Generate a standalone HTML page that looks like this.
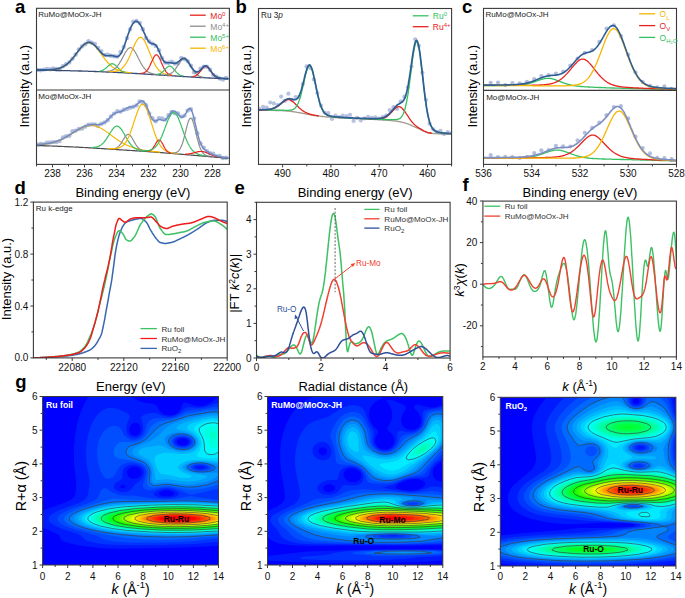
<!DOCTYPE html><html><head><meta charset="utf-8"><style>html,body{margin:0;padding:0;background:#fff;}svg{display:block;font-family:"Liberation Sans",sans-serif;}</style></head><body>
<svg width="685" height="598" viewBox="0 0 685 598">
<rect width="685" height="598" fill="#fff"/>
<clipPath id="ca"><rect x="36.5" y="8.3" width="192.9" height="156.1"/></clipPath><g clip-path="url(#ca)">
<g fill="#a6b2d8" fill-opacity="0.85">
<circle cx="37.3" cy="69.9" r="2.2"/>
<circle cx="40.5" cy="70.2" r="2.2"/>
<circle cx="43.7" cy="69.6" r="2.2"/>
<circle cx="46.9" cy="69" r="2.2"/>
<circle cx="50.1" cy="69.3" r="2.2"/>
<circle cx="53.3" cy="68.5" r="2.2"/>
<circle cx="56.5" cy="69" r="2.2"/>
<circle cx="59.7" cy="69.3" r="2.2"/>
<circle cx="62.9" cy="66.3" r="2.2"/>
<circle cx="66.1" cy="64.2" r="2.2"/>
<circle cx="69.3" cy="62.4" r="2.2"/>
<circle cx="72.5" cy="58.8" r="2.2"/>
<circle cx="75.7" cy="54.5" r="2.2"/>
<circle cx="78.9" cy="49.4" r="2.2"/>
<circle cx="82.1" cy="46.3" r="2.2"/>
<circle cx="85.3" cy="44.2" r="2.2"/>
<circle cx="88.5" cy="41.2" r="2.2"/>
<circle cx="91.7" cy="42.7" r="2.2"/>
<circle cx="94.9" cy="43.9" r="2.2"/>
<circle cx="98.1" cy="47.9" r="2.2"/>
<circle cx="101.3" cy="51.1" r="2.2"/>
<circle cx="104.5" cy="55" r="2.2"/>
<circle cx="107.7" cy="54.6" r="2.2"/>
<circle cx="110.9" cy="55.8" r="2.2"/>
<circle cx="114.1" cy="56.2" r="2.2"/>
<circle cx="117.3" cy="56.5" r="2.2"/>
<circle cx="120.5" cy="51.9" r="2.2"/>
<circle cx="123.7" cy="47" r="2.2"/>
<circle cx="126.9" cy="38.1" r="2.2"/>
<circle cx="130.1" cy="29.2" r="2.2"/>
<circle cx="133.3" cy="21.8" r="2.2"/>
<circle cx="136.5" cy="20.9" r="2.2"/>
<circle cx="139.7" cy="23" r="2.2"/>
<circle cx="142.9" cy="29.2" r="2.2"/>
<circle cx="146.1" cy="38.1" r="2.2"/>
<circle cx="149.3" cy="41.5" r="2.2"/>
<circle cx="152.5" cy="43.7" r="2.2"/>
<circle cx="155.7" cy="45.9" r="2.2"/>
<circle cx="158.9" cy="50.3" r="2.2"/>
<circle cx="162.1" cy="58.3" r="2.2"/>
<circle cx="165.3" cy="62.5" r="2.2"/>
<circle cx="168.5" cy="62.8" r="2.2"/>
<circle cx="171.7" cy="61.8" r="2.2"/>
<circle cx="174.9" cy="63.5" r="2.2"/>
<circle cx="178.1" cy="63.3" r="2.2"/>
<circle cx="181.3" cy="57.9" r="2.2"/>
<circle cx="184.5" cy="59.1" r="2.2"/>
<circle cx="187.7" cy="61.3" r="2.2"/>
<circle cx="190.9" cy="65.6" r="2.2"/>
<circle cx="194.1" cy="72.3" r="2.2"/>
<circle cx="197.3" cy="72.6" r="2.2"/>
<circle cx="200.5" cy="68.8" r="2.2"/>
<circle cx="203.7" cy="66.7" r="2.2"/>
<circle cx="206.9" cy="66.8" r="2.2"/>
<circle cx="210.1" cy="69.8" r="2.2"/>
<circle cx="213.3" cy="74.9" r="2.2"/>
<circle cx="216.5" cy="76.8" r="2.2"/>
<circle cx="219.7" cy="78.5" r="2.2"/>
<circle cx="222.9" cy="79.6" r="2.2"/>
<circle cx="226.1" cy="77.9" r="2.2"/>
</g>
<path d="M36.5 70.2l0.5 0l0.5 0l0.4 0l0.5 0l0.5 0l0.5 0l0.5 0l0.4 0l0.5 0l0.5 0l0.5 0l0.5 0.1l0.5 0l0.4 0l0.5 0l0.5 0l0.5 0l0.5 0l0.4 0l0.5 0l0.5 0l0.5 0l0.5 0l0.4 0l0.5 0l0.5 0l0.5 0l0.5 0.1l0.5 0l0.4 0l0.5 0l0.5 0l0.5 0l0.5 0l0.4 0l0.5 0l0.5 0l0.5 0l0.5 0l0.4 0.1l0.5 0l0.5 0l0.5 0l0.5 0l0.5 0l0.4 0l0.5 0l0.5 0l0.5 0l0.5 0l0.4 0.1l0.5 0l0.5 0l0.5 0l0.5 0l0.4 0l0.5 0l0.5 0l0.5 0l0.5 0l0.5 0.1l0.4 0l0.5 0l0.5 0l0.5 0l0.5 0l0.4 0l0.5 0l0.5 0l0.5 0.1l0.5 0l0.4 0l0.5 0l0.5 0l0.5 0l0.5 0l0.5 0l0.4 0.1l0.5 0l0.5 0l0.5 0l0.5 0l0.4 0l0.5 0l0.5 0l0.5 0l0.5 0.1l0.4 0l0.5 0l0.5 0l0.5 0l0.5 0l0.5 0l0.4 0l0.5 0.1l0.5 0l0.5 0l0.5 0l0.4 0l0.5 0l0.5 0l0.5 0.1l0.5 0l0.4 0l0.5 0l0.5 0l0.5 0l0.5 0.1l0.5 0l0.4 0l0.5 0l0.5 0l0.5 0l0.5 0.1l0.4 0l0.5 0l0.5 0l0.5 0l0.5 0l0.4 0.1l0.5 0l0.5 0l0.5 0l0.5 0l0.5 0.1l0.4 0l0.5 0l0.5 0l0.5 0l0.5 0l0.4 0.1l0.5 0l0.5 0l0.5 0l0.5 0l0.4 0.1l0.5 0l0.5 0l0.5 0l0.5 0.1l0.4 0l0.5 0l0.5 0l0.5 0l0.5 0.1l0.5 0l0.4 0l0.5 0l0.5 0l0.5 0.1l0.5 0l0.4 0l0.5 0l0.5 0.1l0.5 0l0.5 0l0.4 0l0.5 0l0.5 0.1l0.5 0l0.5 0l0.5 0l0.4 0.1l0.5 0l0.5 0l0.5 0l0.5 0l0.4 0.1l0.5 0l0.5 0l0.5 0l0.5 0.1l0.4 0l0.5 0l0.5 0l0.5 0.1l0.5 0l0.5 0l0.4 0l0.5 0.1l0.5 0l0.5 0l0.5 0l0.4 0.1l0.5 0l0.5 0l0.5 0l0.5 0.1l0.4 0l0.5 0l0.5 0l0.5 0.1l0.5 0l0.5 0l0.4 0l0.5 0.1l0.5 0l0.5 0l0.5 0.1l0.4 0l0.5 0l0.5 0l0.5 0.1l0.5 0l0.4 0l0.5 0.1l0.5 0l0.5 0l0.5 0.1l0.5 0l0.4 0l0.5 0l0.5 0.1l0.5 0l0.5 0l0.4 0.1l0.5 0l0.5 0l0.5 0.1l0.5 0l0.4 0l0.5 0l0.5 0.1l0.5 0l0.5 0l0.5 0.1l0.4 0l0.5 0l0.5 0.1l0.5 0l0.5 0l0.4 0.1l0.5 0l0.5 0l0.5 0l0.5 0.1l0.4 0l0.5 0l0.5 0.1l0.5 0l0.5 0l0.5 0.1l0.4 0l0.5 0l0.5 0.1l0.5 0l0.5 0l0.4 0l0.5 0.1l0.5 0l0.5 0l0.5 0.1l0.4 0l0.5 0l0.5 0.1l0.5 0l0.5 0l0.5 0l0.4 0.1l0.5 0l0.5 0l0.5 0.1l0.5 0l0.4 0l0.5 0l0.5 0.1l0.5 0l0.5 0l0.4 0.1l0.5 0l0.5 0l0.5 0.1l0.5 0l0.4 0l0.5 0.1l0.5 0l0.5 0l0.5 0l0.5 0.1l0.4 0l0.5 0l0.5 0.1l0.5 0l0.5 0l0.4 0.1l0.5 0l0.5 0l0.5 0.1l0.5 0l0.4 0l0.5 0.1l0.5 0l0.5 0l0.5 0l0.5 0.1l0.4 0l0.5 0l0.5 0.1l0.5 0l0.5 0l0.4 0.1l0.5 0l0.5 0l0.5 0.1l0.5 0l0.4 0l0.5 0.1l0.5 0l0.5 0l0.5 0l0.5 0.1l0.4 0l0.5 0l0.5 0.1l0.5 0l0.5 0l0.4 0.1l0.5 0l0.5 0l0.5 0l0.5 0.1l0.4 0l0.5 0l0.5 0.1l0.5 0l0.5 0l0.5 0l0.4 0.1l0.5 0l0.5 0l0.5 0.1l0.5 0l0.4 0l0.5 0l0.5 0.1l0.5 0l0.5 0l0.4 0.1l0.5 0l0.5 0l0.5 0l0.5 0.1l0.5 0l0.4 0l0.5 0l0.5 0.1l0.5 0l0.5 0l0.4 0l0.5 0.1l0.5 0l0.5 0l0.5 0l0.4 0.1l0.5 0l0.5 0l0.5 0l0.5 0.1l0.5 0l0.4 0l0.5 0l0.5 0.1l0.5 0l0.5 0l0.4 0l0.5 0.1l0.5 0l0.5 0l0.5 0l0.4 0.1l0.5 0l0.5 0l0.5 0l0.5 0.1l0.5 0l0.4 0l0.5 0l0.5 0.1l0.5 0l0.5 0l0.4 0l0.5 0.1l0.5 0l0.5 0l0.5 0l0.4 0l0.5 0.1l0.5 0l0.5 0l0.5 0l0.5 0.1l0.4 0l0.5 0l0.5 0l0.5 0l0.5 0.1l0.4 0l0.5 0l0.5 0" fill="none" stroke="#3b4a72" stroke-width="1.3" stroke-linejoin="round" />
<path d="M47.1 69.9l0.5 0l0.4 0l0.5 0l0.5 -0.1l0.5 0l0.5 0l0.5 0l0.4 -0.1l0.5 0l0.5 0l0.5 -0.1l0.5 0l0.4 -0.1l0.5 0l0.5 -0.1l0.5 0l0.5 -0.1l0.4 -0.1l0.5 -0.1l0.5 -0.1l0.5 -0.1l0.5 -0.1l0.5 -0.1l0.4 -0.1l0.5 -0.2l0.5 -0.1l0.5 -0.2l0.5 -0.2l0.4 -0.1l0.5 -0.2l0.5 -0.2l0.5 -0.3l0.5 -0.2l0.4 -0.3l0.5 -0.2l0.5 -0.3l0.5 -0.3l0.5 -0.4l0.5 -0.3l0.4 -0.3l0.5 -0.4l0.5 -0.4l0.5 -0.4l0.5 -0.4l0.4 -0.5l0.5 -0.4l0.5 -0.5l0.5 -0.5l0.5 -0.5l0.4 -0.6l0.5 -0.5l0.5 -0.6l0.5 -0.5l0.5 -0.6l0.5 -0.6l0.4 -0.6l0.5 -0.6l0.5 -0.6l0.5 -0.7l0.5 -0.6l0.4 -0.6l0.5 -0.7l0.5 -0.6l0.5 -0.7l0.5 -0.6l0.4 -0.6l0.5 -0.6l0.5 -0.6l0.5 -0.6l0.5 -0.6l0.5 -0.5l0.4 -0.6l0.5 -0.5l0.5 -0.5l0.5 -0.4l0.5 -0.5l0.4 -0.4l0.5 -0.3l0.5 -0.4l0.5 -0.3l0.5 -0.2l0.4 -0.3l0.5 -0.1l0.5 -0.2l0.5 -0.1l0.5 0l0.5 0l0.4 0l0.5 0.1l0.5 0.1l0.5 0.2l0.5 0.2l0.4 0.2l0.5 0.3l0.5 0.3l0.5 0.4l0.5 0.4l0.4 0.4l0.5 0.5l0.5 0.5l0.5 0.5l0.5 0.5l0.5 0.6l0.4 0.6l0.5 0.6l0.5 0.6l0.5 0.7l0.5 0.6l0.4 0.7l0.5 0.6l0.5 0.7l0.5 0.6l0.5 0.7l0.4 0.7l0.5 0.7l0.5 0.6l0.5 0.7l0.5 0.6l0.4 0.7l0.5 0.6l0.5 0.6l0.5 0.6l0.5 0.6l0.5 0.6l0.4 0.5l0.5 0.6l0.5 0.5l0.5 0.5l0.5 0.5l0.4 0.5l0.5 0.5l0.5 0.4l0.5 0.4l0.5 0.4l0.4 0.4l0.5 0.4l0.5 0.4l0.5 0.3l0.5 0.3l0.5 0.3l0.4 0.3l0.5 0.3l0.5 0.3l0.5 0.2l0.5 0.2l0.4 0.3l0.5 0.2l0.5 0.2l0.5 0.1l0.5 0.2l0.4 0.2l0.5 0.1l0.5 0.2l0.5 0.1l0.5 0.1l0.5 0.1l0.4 0.2l0.5 0.1l0.5 0.1l0.5 0.1l0.5 0l0.4 0.1l0.5 0.1l0.5 0.1l0.5 0.1l0.5 0l0.4 0.1l0.5 0l0.5 0.1l0.5 0.1l0.5 0l0.5 0.1l0.4 0l0.5 0.1" fill="none" stroke="#f7b500" stroke-width="1.2" stroke-linejoin="round" />
<path d="M99.5 71.2l0.5 -0.1l0.5 -0.1l0.5 -0.1l0.5 -0.1l0.4 -0.2l0.5 -0.2l0.5 -0.2l0.5 -0.3l0.5 -0.3l0.4 -0.3l0.5 -0.3l0.5 -0.4l0.5 -0.4l0.5 -0.4l0.5 -0.5l0.4 -0.4l0.5 -0.5l0.5 -0.4l0.5 -0.5l0.5 -0.4l0.4 -0.3l0.5 -0.4l0.5 -0.2l0.5 -0.3l0.5 -0.1l0.4 -0.1l0.5 0.1l0.5 0l0.5 0.2l0.5 0.3l0.5 0.3l0.4 0.3l0.5 0.4l0.5 0.5l0.5 0.5l0.5 0.4l0.4 0.5l0.5 0.5l0.5 0.5l0.5 0.5l0.5 0.5l0.4 0.4l0.5 0.4l0.5 0.4l0.5 0.3l0.5 0.3l0.5 0.3l0.4 0.2l0.5 0.2l0.5 0.2l0.5 0.2l0.5 0.1l0.4 0.2l0.5 0.1" fill="none" stroke="#35c060" stroke-width="1.2" stroke-linejoin="round" />
<path d="M105.3 71.5l0.5 0l0.5 0l0.5 -0.1l0.4 0l0.5 0l0.5 -0.1l0.5 -0.1l0.5 0l0.4 -0.1l0.5 -0.1l0.5 -0.2l0.5 -0.1l0.5 -0.2l0.4 -0.2l0.5 -0.2l0.5 -0.2l0.5 -0.3l0.5 -0.3l0.5 -0.3l0.4 -0.4l0.5 -0.4l0.5 -0.4l0.5 -0.5l0.5 -0.6l0.4 -0.5l0.5 -0.6l0.5 -0.7l0.5 -0.7l0.5 -0.7l0.4 -0.8l0.5 -0.8l0.5 -0.8l0.5 -0.8l0.5 -0.9l0.5 -0.9l0.4 -0.9l0.5 -0.9l0.5 -0.9l0.5 -0.9l0.5 -0.9l0.4 -0.9l0.5 -0.8l0.5 -0.8l0.5 -0.7l0.5 -0.7l0.4 -0.6l0.5 -0.5l0.5 -0.5l0.5 -0.3l0.5 -0.3l0.5 -0.2l0.4 0l0.5 0l0.5 0.1l0.5 0.2l0.5 0.4l0.4 0.4l0.5 0.5l0.5 0.6l0.5 0.6l0.5 0.8l0.4 0.7l0.5 0.9l0.5 0.9l0.5 0.9l0.5 0.9l0.5 0.9l0.4 1l0.5 1l0.5 0.9l0.5 1l0.5 0.9l0.4 0.9l0.5 0.9l0.5 0.9l0.5 0.8l0.5 0.8l0.4 0.7l0.5 0.7l0.5 0.7l0.5 0.6l0.5 0.6l0.5 0.5l0.4 0.5l0.5 0.5l0.5 0.4l0.5 0.4l0.5 0.3l0.4 0.4l0.5 0.3l0.5 0.2l0.5 0.3l0.5 0.2l0.4 0.2l0.5 0.2l0.5 0.1l0.5 0.2l0.5 0.1l0.5 0.1l0.4 0.1l0.5 0.1l0.5 0.1l0.5 0.1l0.5 0.1l0.4 0" fill="none" stroke="#8e8e8e" stroke-width="1.2" stroke-linejoin="round" />
<path d="M109.2 71.7l0.4 0l0.5 0l0.5 0l0.5 0l0.5 -0.1l0.4 0l0.5 0l0.5 0l0.5 -0.1l0.5 0l0.5 -0.1l0.4 0l0.5 -0.1l0.5 -0.1l0.5 -0.1l0.5 -0.1l0.4 -0.1l0.5 -0.2l0.5 -0.2l0.5 -0.2l0.5 -0.2l0.4 -0.2l0.5 -0.3l0.5 -0.3l0.5 -0.3l0.5 -0.4l0.5 -0.4l0.4 -0.5l0.5 -0.5l0.5 -0.5l0.5 -0.6l0.5 -0.6l0.4 -0.6l0.5 -0.8l0.5 -0.7l0.5 -0.8l0.5 -0.9l0.4 -0.8l0.5 -1l0.5 -0.9l0.5 -1.1l0.5 -1l0.5 -1.1l0.4 -1.1l0.5 -1.1l0.5 -1.1l0.5 -1.2l0.5 -1.1l0.4 -1.2l0.5 -1.1l0.5 -1.2l0.5 -1.1l0.5 -1l0.4 -1.1l0.5 -0.9l0.5 -0.9l0.5 -0.9l0.5 -0.8l0.5 -0.6l0.4 -0.6l0.5 -0.6l0.5 -0.4l0.5 -0.3l0.5 -0.1l0.4 -0.1l0.5 0l0.5 0.2l0.5 0.2l0.5 0.4l0.4 0.5l0.5 0.5l0.5 0.7l0.5 0.8l0.5 0.8l0.5 0.9l0.4 1l0.5 1l0.5 1.1l0.5 1.1l0.5 1.2l0.4 1.2l0.5 1.2l0.5 1.2l0.5 1.2l0.5 1.2l0.4 1.2l0.5 1.2l0.5 1.2l0.5 1.1l0.5 1.1l0.5 1.1l0.4 1l0.5 1l0.5 0.9l0.5 0.9l0.5 0.9l0.4 0.8l0.5 0.7l0.5 0.7l0.5 0.7l0.5 0.6l0.4 0.6l0.5 0.6l0.5 0.5l0.5 0.4l0.5 0.4l0.5 0.4l0.4 0.4l0.5 0.3l0.5 0.3l0.5 0.3l0.5 0.2l0.4 0.2l0.5 0.3l0.5 0.1l0.5 0.2l0.5 0.2l0.4 0.1l0.5 0.1l0.5 0.1l0.5 0.1l0.5 0.1l0.4 0.1l0.5 0.1l0.5 0.1l0.5 0.1l0.5 0l0.5 0.1l0.4 0.1l0.5 0l0.5 0.1" fill="none" stroke="#f7b500" stroke-width="1.2" stroke-linejoin="round" />
<path d="M140.9 73.4l0.5 -0.1l0.5 0l0.5 -0.1l0.4 -0.1l0.5 -0.1l0.5 -0.2l0.5 -0.2l0.5 -0.3l0.5 -0.3l0.4 -0.3l0.5 -0.4l0.5 -0.5l0.5 -0.6l0.5 -0.6l0.4 -0.7l0.5 -0.8l0.5 -0.9l0.5 -0.9l0.5 -1l0.4 -1l0.5 -1.1l0.5 -1.1l0.5 -1l0.5 -1.1l0.5 -1l0.4 -1l0.5 -0.9l0.5 -0.8l0.5 -0.6l0.5 -0.5l0.4 -0.3l0.5 -0.1l0.5 0l0.5 0.3l0.5 0.4l0.4 0.6l0.5 0.7l0.5 0.9l0.5 0.9l0.5 1.1l0.5 1.1l0.4 1.1l0.5 1.2l0.5 1.1l0.5 1.1l0.5 1.1l0.4 1l0.5 1l0.5 0.9l0.5 0.8l0.5 0.8l0.4 0.7l0.5 0.6l0.5 0.5l0.5 0.5l0.5 0.4l0.4 0.3l0.5 0.3l0.5 0.3l0.5 0.2l0.5 0.2l0.5 0.1l0.4 0.2l0.5 0.1l0.5 0.1" fill="none" stroke="#e8231d" stroke-width="1.2" stroke-linejoin="round" />
<path d="M156.8 74.4l0.5 -0.1l0.5 0l0.4 -0.1l0.5 -0.1l0.5 -0.2l0.5 -0.2l0.5 -0.2l0.5 -0.2l0.4 -0.3l0.5 -0.3l0.5 -0.4l0.5 -0.4l0.5 -0.4l0.4 -0.5l0.5 -0.5l0.5 -0.5l0.5 -0.5l0.5 -0.6l0.4 -0.5l0.5 -0.5l0.5 -0.4l0.5 -0.4l0.5 -0.4l0.4 -0.3l0.5 -0.2l0.5 -0.1l0.5 0l0.5 0.1l0.5 0.2l0.4 0.2l0.5 0.4l0.5 0.4l0.5 0.5l0.5 0.5l0.4 0.6l0.5 0.5l0.5 0.6l0.5 0.6l0.5 0.6l0.4 0.5l0.5 0.6l0.5 0.4l0.5 0.5l0.5 0.4l0.5 0.4l0.4 0.4l0.5 0.3l0.5 0.2l0.5 0.3l0.5 0.2l0.4 0.2l0.5 0.1l0.5 0.1l0.5 0.2" fill="none" stroke="#35c060" stroke-width="1.2" stroke-linejoin="round" />
<path d="M165 74.9l0.5 0l0.4 -0.1l0.5 0l0.5 -0.1l0.5 -0.1l0.5 -0.1l0.4 -0.1l0.5 -0.1l0.5 -0.2l0.5 -0.2l0.5 -0.2l0.5 -0.3l0.4 -0.2l0.5 -0.4l0.5 -0.3l0.5 -0.4l0.5 -0.5l0.4 -0.5l0.5 -0.5l0.5 -0.6l0.5 -0.6l0.5 -0.6l0.4 -0.7l0.5 -0.7l0.5 -0.7l0.5 -0.8l0.5 -0.7l0.5 -0.8l0.4 -0.7l0.5 -0.7l0.5 -0.7l0.5 -0.6l0.5 -0.6l0.4 -0.6l0.5 -0.4l0.5 -0.4l0.5 -0.3l0.5 -0.2l0.4 -0.1l0.5 0l0.5 0l0.5 0.2l0.5 0.3l0.5 0.4l0.4 0.5l0.5 0.5l0.5 0.6l0.5 0.7l0.5 0.7l0.4 0.8l0.5 0.7l0.5 0.8l0.5 0.8l0.5 0.8l0.4 0.8l0.5 0.8l0.5 0.8l0.5 0.7l0.5 0.7l0.5 0.7l0.4 0.6l0.5 0.6l0.5 0.5l0.5 0.5l0.5 0.5l0.4 0.4l0.5 0.4l0.5 0.3l0.5 0.3l0.5 0.3l0.4 0.2l0.5 0.2l0.5 0.2l0.5 0.2l0.5 0.2l0.5 0.1l0.4 0.1l0.5 0.1l0.5 0.1l0.5 0.1" fill="none" stroke="#8e8e8e" stroke-width="1.2" stroke-linejoin="round" />
<path d="M192.4 76.6l0.5 0l0.5 -0.1l0.5 -0.1l0.4 -0.1l0.5 -0.2l0.5 -0.2l0.5 -0.2l0.5 -0.3l0.4 -0.3l0.5 -0.4l0.5 -0.4l0.5 -0.4l0.5 -0.5l0.4 -0.6l0.5 -0.6l0.5 -0.6l0.5 -0.6l0.5 -0.6l0.5 -0.7l0.4 -0.6l0.5 -0.6l0.5 -0.6l0.5 -0.5l0.5 -0.4l0.4 -0.3l0.5 -0.2l0.5 -0.2l0.5 0l0.5 0.1l0.4 0.3l0.5 0.3l0.5 0.4l0.5 0.5l0.5 0.6l0.5 0.6l0.4 0.7l0.5 0.7l0.5 0.7l0.5 0.7l0.5 0.6l0.4 0.7l0.5 0.6l0.5 0.6l0.5 0.5l0.5 0.5l0.4 0.4l0.5 0.4l0.5 0.4l0.5 0.3l0.5 0.3l0.5 0.2l0.4 0.2l0.5 0.1l0.5 0.2l0.5 0.1" fill="none" stroke="#e8231d" stroke-width="1.2" stroke-linejoin="round" />
<path d="M36.5 69.9l0.5 0l0.5 0l0.4 0l0.5 0l0.5 0l0.5 0l0.5 0l0.4 0l0.5 0l0.5 0l0.5 0l0.5 0l0.5 0l0.4 0l0.5 0l0.5 0l0.5 0l0.5 -0.1l0.4 0l0.5 0l0.5 0l0.5 0l0.5 0l0.4 0l0.5 0l0.5 -0.1l0.5 0l0.5 0l0.5 0l0.4 -0.1l0.5 0l0.5 0l0.5 -0.1l0.5 0l0.4 -0.1l0.5 0l0.5 -0.1l0.5 -0.1l0.5 0l0.4 -0.1l0.5 -0.1l0.5 -0.1l0.5 -0.1l0.5 -0.1l0.5 -0.1l0.4 -0.2l0.5 -0.1l0.5 -0.1l0.5 -0.2l0.5 -0.2l0.4 -0.2l0.5 -0.2l0.5 -0.2l0.5 -0.2l0.5 -0.3l0.4 -0.2l0.5 -0.3l0.5 -0.3l0.5 -0.3l0.5 -0.3l0.5 -0.3l0.4 -0.4l0.5 -0.4l0.5 -0.4l0.5 -0.4l0.5 -0.4l0.4 -0.5l0.5 -0.4l0.5 -0.5l0.5 -0.5l0.5 -0.5l0.4 -0.5l0.5 -0.6l0.5 -0.5l0.5 -0.6l0.5 -0.6l0.5 -0.6l0.4 -0.6l0.5 -0.6l0.5 -0.6l0.5 -0.7l0.5 -0.6l0.4 -0.7l0.5 -0.6l0.5 -0.6l0.5 -0.7l0.5 -0.6l0.4 -0.6l0.5 -0.7l0.5 -0.6l0.5 -0.6l0.5 -0.5l0.5 -0.6l0.4 -0.5l0.5 -0.6l0.5 -0.4l0.5 -0.5l0.5 -0.5l0.4 -0.4l0.5 -0.3l0.5 -0.4l0.5 -0.3l0.5 -0.2l0.4 -0.3l0.5 -0.2l0.5 -0.1l0.5 -0.1l0.5 -0.1l0.5 0l0.4 0l0.5 0.1l0.5 0.1l0.5 0.2l0.5 0.2l0.4 0.2l0.5 0.3l0.5 0.3l0.5 0.4l0.5 0.3l0.4 0.5l0.5 0.4l0.5 0.5l0.5 0.5l0.5 0.5l0.5 0.5l0.4 0.6l0.5 0.5l0.5 0.6l0.5 0.6l0.5 0.5l0.4 0.6l0.5 0.5l0.5 0.6l0.5 0.5l0.5 0.5l0.4 0.5l0.5 0.4l0.5 0.4l0.5 0.3l0.5 0.3l0.4 0.3l0.5 0.2l0.5 0.2l0.5 0.1l0.5 0.1l0.5 0.1l0.4 0l0.5 0l0.5 0l0.5 -0.1l0.5 0l0.4 -0.1l0.5 0l0.5 -0.1l0.5 0l0.5 0l0.4 0.1l0.5 0.1l0.5 0.1l0.5 0.1l0.5 0.2l0.5 0.1l0.4 0.2l0.5 0.1l0.5 0.1l0.5 0.1l0.5 0l0.4 -0.1l0.5 -0.1l0.5 -0.2l0.5 -0.3l0.5 -0.4l0.4 -0.5l0.5 -0.6l0.5 -0.7l0.5 -0.8l0.5 -0.9l0.5 -0.9l0.4 -1.1l0.5 -1.2l0.5 -1.2l0.5 -1.3l0.5 -1.3l0.4 -1.4l0.5 -1.4l0.5 -1.5l0.5 -1.4l0.5 -1.5l0.4 -1.5l0.5 -1.4l0.5 -1.4l0.5 -1.3l0.5 -1.3l0.5 -1.3l0.4 -1.2l0.5 -1.1l0.5 -1l0.5 -0.9l0.5 -0.9l0.4 -0.7l0.5 -0.7l0.5 -0.5l0.5 -0.5l0.5 -0.4l0.4 -0.2l0.5 -0.2l0.5 -0.1l0.5 0.1l0.5 0.1l0.5 0.2l0.4 0.4l0.5 0.4l0.5 0.5l0.5 0.6l0.5 0.6l0.4 0.8l0.5 0.8l0.5 0.9l0.5 1l0.5 1l0.4 1.1l0.5 1.1l0.5 1.1l0.5 1.1l0.5 1.1l0.5 1.1l0.4 1.1l0.5 1l0.5 0.9l0.5 0.9l0.5 0.9l0.4 0.7l0.5 0.6l0.5 0.6l0.5 0.5l0.5 0.3l0.4 0.3l0.5 0.3l0.5 0.1l0.5 0.1l0.5 0.1l0.5 0.1l0.4 0.1l0.5 0.1l0.5 0.2l0.5 0.3l0.5 0.3l0.4 0.5l0.5 0.5l0.5 0.7l0.5 0.8l0.5 1l0.4 1l0.5 1.1l0.5 1.1l0.5 1.2l0.5 1.2l0.5 1.2l0.4 1.2l0.5 1.1l0.5 1l0.5 0.9l0.5 0.8l0.4 0.7l0.5 0.6l0.5 0.5l0.5 0.4l0.5 0.2l0.4 0.2l0.5 0.1l0.5 0l0.5 0l0.5 0l0.4 0l0.5 -0.1l0.5 0l0.5 0l0.5 0l0.5 0l0.4 0.1l0.5 0.1l0.5 0.1l0.5 0.1l0.5 0.1l0.4 0.1l0.5 0.1l0.5 0l0.5 0l0.5 -0.1l0.4 -0.1l0.5 -0.2l0.5 -0.2l0.5 -0.3l0.5 -0.4l0.5 -0.4l0.4 -0.4l0.5 -0.4l0.5 -0.4l0.5 -0.4l0.5 -0.5l0.4 -0.3l0.5 -0.4l0.5 -0.2l0.5 -0.3l0.5 -0.1l0.4 0l0.5 0l0.5 0.1l0.5 0.3l0.5 0.3l0.5 0.4l0.4 0.5l0.5 0.5l0.5 0.6l0.5 0.7l0.5 0.7l0.4 0.8l0.5 0.7l0.5 0.8l0.5 0.8l0.5 0.8l0.4 0.7l0.5 0.8l0.5 0.7l0.5 0.6l0.5 0.6l0.5 0.6l0.4 0.4l0.5 0.4l0.5 0.4l0.5 0.2l0.5 0.2l0.4 0.1l0.5 -0.1l0.5 0l0.5 -0.2l0.5 -0.3l0.4 -0.3l0.5 -0.4l0.5 -0.4l0.5 -0.5l0.5 -0.5l0.5 -0.6l0.4 -0.5l0.5 -0.5l0.5 -0.5l0.5 -0.4l0.5 -0.4l0.4 -0.3l0.5 -0.2l0.5 -0.1l0.5 0l0.5 0.2l0.4 0.2l0.5 0.4l0.5 0.4l0.5 0.5l0.5 0.6l0.5 0.6l0.4 0.7l0.5 0.7l0.5 0.7l0.5 0.7l0.5 0.7l0.4 0.7l0.5 0.6l0.5 0.6l0.5 0.5l0.5 0.5l0.4 0.5l0.5 0.4l0.5 0.3l0.5 0.3l0.5 0.3l0.5 0.2l0.4 0.2l0.5 0.2l0.5 0.1l0.5 0.2l0.5 0.1l0.4 0.1l0.5 0l0.5 0.1l0.5 0.1l0.5 0l0.4 0.1l0.5 0l0.5 0l0.5 0.1l0.5 0l0.5 0.1l0.4 0l0.5 0l0.5 0l0.5 0.1l0.5 0l0.4 0l0.5 0.1l0.5 0" fill="none" stroke="#2f5e94" stroke-width="1.6" stroke-linejoin="round" />
<g fill="#a6b2d8" fill-opacity="0.85">
<circle cx="37.3" cy="144.7" r="2.2"/>
<circle cx="40.5" cy="143.9" r="2.2"/>
<circle cx="43.7" cy="144.2" r="2.2"/>
<circle cx="46.9" cy="142.6" r="2.2"/>
<circle cx="50.1" cy="142.5" r="2.2"/>
<circle cx="53.3" cy="142.1" r="2.2"/>
<circle cx="56.5" cy="142.1" r="2.2"/>
<circle cx="59.7" cy="141.1" r="2.2"/>
<circle cx="62.9" cy="137.4" r="2.2"/>
<circle cx="66.1" cy="136.2" r="2.2"/>
<circle cx="69.3" cy="135.7" r="2.2"/>
<circle cx="72.5" cy="131.3" r="2.2"/>
<circle cx="75.7" cy="130.6" r="2.2"/>
<circle cx="78.9" cy="129" r="2.2"/>
<circle cx="82.1" cy="128.5" r="2.2"/>
<circle cx="85.3" cy="126.6" r="2.2"/>
<circle cx="88.5" cy="124.8" r="2.2"/>
<circle cx="91.7" cy="124.4" r="2.2"/>
<circle cx="94.9" cy="124.4" r="2.2"/>
<circle cx="98.1" cy="126" r="2.2"/>
<circle cx="101.3" cy="123.8" r="2.2"/>
<circle cx="104.5" cy="122.4" r="2.2"/>
<circle cx="107.7" cy="120.3" r="2.2"/>
<circle cx="110.9" cy="116.5" r="2.2"/>
<circle cx="114.1" cy="113.6" r="2.2"/>
<circle cx="117.3" cy="111.3" r="2.2"/>
<circle cx="120.5" cy="111.6" r="2.2"/>
<circle cx="123.7" cy="109.7" r="2.2"/>
<circle cx="126.9" cy="109.1" r="2.2"/>
<circle cx="130.1" cy="107.8" r="2.2"/>
<circle cx="133.3" cy="106.7" r="2.2"/>
<circle cx="136.5" cy="105.4" r="2.2"/>
<circle cx="139.7" cy="101.5" r="2.2"/>
<circle cx="142.9" cy="102.2" r="2.2"/>
<circle cx="146.1" cy="105.3" r="2.2"/>
<circle cx="149.3" cy="113.4" r="2.2"/>
<circle cx="152.5" cy="118.2" r="2.2"/>
<circle cx="155.7" cy="121.3" r="2.2"/>
<circle cx="158.9" cy="118.1" r="2.2"/>
<circle cx="162.1" cy="118.4" r="2.2"/>
<circle cx="165.3" cy="119.6" r="2.2"/>
<circle cx="168.5" cy="115.2" r="2.2"/>
<circle cx="171.7" cy="112" r="2.2"/>
<circle cx="174.9" cy="113.2" r="2.2"/>
<circle cx="178.1" cy="113.5" r="2.2"/>
<circle cx="181.3" cy="116.6" r="2.2"/>
<circle cx="184.5" cy="115.6" r="2.2"/>
<circle cx="187.7" cy="110.6" r="2.2"/>
<circle cx="190.9" cy="109.2" r="2.2"/>
<circle cx="194.1" cy="118.6" r="2.2"/>
<circle cx="197.3" cy="133.2" r="2.2"/>
<circle cx="200.5" cy="143.5" r="2.2"/>
<circle cx="203.7" cy="147.6" r="2.2"/>
<circle cx="206.9" cy="151.3" r="2.2"/>
<circle cx="210.1" cy="153.3" r="2.2"/>
<circle cx="213.3" cy="153.8" r="2.2"/>
<circle cx="216.5" cy="156.1" r="2.2"/>
<circle cx="219.7" cy="155.9" r="2.2"/>
<circle cx="222.9" cy="158.1" r="2.2"/>
<circle cx="226.1" cy="157.8" r="2.2"/>
</g>
<path d="M36.5 145.5l0.5 0l0.5 0l0.4 0l0.5 0.1l0.5 0l0.5 0l0.5 0l0.4 0l0.5 0l0.5 0.1l0.5 0l0.5 0l0.5 0l0.4 0l0.5 0l0.5 0.1l0.5 0l0.5 0l0.4 0l0.5 0l0.5 0l0.5 0.1l0.5 0l0.4 0l0.5 0l0.5 0l0.5 0l0.5 0.1l0.5 0l0.4 0l0.5 0l0.5 0l0.5 0.1l0.5 0l0.4 0l0.5 0l0.5 0l0.5 0.1l0.5 0l0.4 0l0.5 0l0.5 0l0.5 0l0.5 0.1l0.5 0l0.4 0l0.5 0l0.5 0.1l0.5 0l0.5 0l0.4 0l0.5 0l0.5 0.1l0.5 0l0.5 0l0.4 0l0.5 0l0.5 0.1l0.5 0l0.5 0l0.5 0l0.4 0l0.5 0.1l0.5 0l0.5 0l0.5 0l0.4 0.1l0.5 0l0.5 0l0.5 0l0.5 0l0.4 0.1l0.5 0l0.5 0l0.5 0l0.5 0.1l0.5 0l0.4 0l0.5 0l0.5 0.1l0.5 0l0.5 0l0.4 0l0.5 0l0.5 0.1l0.5 0l0.5 0l0.4 0l0.5 0.1l0.5 0l0.5 0l0.5 0l0.5 0.1l0.4 0l0.5 0l0.5 0l0.5 0.1l0.5 0l0.4 0l0.5 0l0.5 0.1l0.5 0l0.5 0l0.4 0.1l0.5 0l0.5 0l0.5 0l0.5 0.1l0.5 0l0.4 0l0.5 0l0.5 0.1l0.5 0l0.5 0l0.4 0.1l0.5 0l0.5 0l0.5 0.1l0.5 0l0.4 0l0.5 0l0.5 0.1l0.5 0l0.5 0l0.5 0.1l0.4 0l0.5 0l0.5 0.1l0.5 0l0.5 0l0.4 0l0.5 0.1l0.5 0l0.5 0l0.5 0.1l0.4 0l0.5 0l0.5 0.1l0.5 0l0.5 0l0.4 0.1l0.5 0l0.5 0l0.5 0.1l0.5 0l0.5 0l0.4 0.1l0.5 0l0.5 0l0.5 0.1l0.5 0l0.4 0l0.5 0.1l0.5 0l0.5 0l0.5 0l0.4 0.1l0.5 0l0.5 0l0.5 0.1l0.5 0l0.5 0l0.4 0.1l0.5 0l0.5 0l0.5 0.1l0.5 0l0.4 0l0.5 0.1l0.5 0l0.5 0l0.5 0.1l0.4 0l0.5 0l0.5 0l0.5 0.1l0.5 0l0.5 0l0.4 0.1l0.5 0l0.5 0l0.5 0.1l0.5 0l0.4 0l0.5 0.1l0.5 0l0.5 0l0.5 0l0.4 0.1l0.5 0l0.5 0l0.5 0.1l0.5 0l0.5 0l0.4 0.1l0.5 0l0.5 0l0.5 0l0.5 0.1l0.4 0l0.5 0l0.5 0.1l0.5 0l0.5 0l0.4 0.1l0.5 0l0.5 0l0.5 0.1l0.5 0l0.5 0l0.4 0.1l0.5 0l0.5 0l0.5 0.1l0.5 0l0.4 0l0.5 0l0.5 0.1l0.5 0l0.5 0l0.4 0.1l0.5 0l0.5 0l0.5 0.1l0.5 0l0.5 0l0.4 0.1l0.5 0l0.5 0l0.5 0.1l0.5 0l0.4 0.1l0.5 0l0.5 0l0.5 0.1l0.5 0l0.4 0l0.5 0.1l0.5 0l0.5 0l0.5 0.1l0.5 0l0.4 0l0.5 0.1l0.5 0l0.5 0.1l0.5 0l0.4 0l0.5 0.1l0.5 0l0.5 0l0.5 0.1l0.4 0l0.5 0l0.5 0.1l0.5 0l0.5 0.1l0.5 0l0.4 0l0.5 0.1l0.5 0l0.5 0l0.5 0.1l0.4 0l0.5 0.1l0.5 0l0.5 0l0.5 0.1l0.4 0l0.5 0.1l0.5 0l0.5 0l0.5 0.1l0.4 0l0.5 0l0.5 0.1l0.5 0l0.5 0.1l0.5 0l0.4 0l0.5 0.1l0.5 0l0.5 0.1l0.5 0l0.4 0l0.5 0.1l0.5 0l0.5 0.1l0.5 0l0.4 0l0.5 0.1l0.5 0l0.5 0.1l0.5 0l0.5 0l0.4 0.1l0.5 0l0.5 0.1l0.5 0l0.5 0l0.4 0.1l0.5 0l0.5 0.1l0.5 0l0.5 0l0.4 0.1l0.5 0l0.5 0.1l0.5 0l0.5 0l0.5 0.1l0.4 0l0.5 0.1l0.5 0l0.5 0l0.5 0.1l0.4 0l0.5 0.1l0.5 0l0.5 0l0.5 0.1l0.4 0l0.5 0.1l0.5 0l0.5 0l0.5 0.1l0.5 0l0.4 0.1l0.5 0l0.5 0l0.5 0.1l0.5 0l0.4 0.1l0.5 0l0.5 0l0.5 0.1l0.5 0l0.4 0.1l0.5 0l0.5 0.1l0.5 0l0.5 0l0.5 0.1l0.4 0l0.5 0.1l0.5 0l0.5 0l0.5 0.1l0.4 0l0.5 0.1l0.5 0l0.5 0.1l0.5 0l0.4 0l0.5 0.1l0.5 0l0.5 0.1l0.5 0l0.5 0l0.4 0.1l0.5 0l0.5 0.1l0.5 0l0.5 0.1l0.4 0l0.5 0l0.5 0.1l0.5 0l0.5 0.1l0.4 0l0.5 0.1l0.5 0l0.5 0l0.5 0.1l0.5 0l0.4 0.1l0.5 0l0.5 0.1l0.5 0l0.5 0l0.4 0.1l0.5 0l0.5 0.1l0.5 0l0.5 0.1l0.4 0l0.5 0l0.5 0.1l0.5 0l0.5 0.1l0.5 0l0.4 0.1l0.5 0l0.5 0l0.5 0.1l0.5 0l0.4 0.1l0.5 0l0.5 0.1" fill="none" stroke="#4d4d4d" stroke-width="1.2" stroke-linejoin="round" />
<path d="M36.5 144.6l0.5 0l0.5 0l0.4 0l0.5 0l0.5 -0.1l0.5 0l0.5 0l0.4 0l0.5 -0.1l0.5 0l0.5 0l0.5 -0.1l0.5 0l0.4 -0.1l0.5 0l0.5 -0.1l0.5 0l0.5 -0.1l0.4 0l0.5 -0.1l0.5 -0.1l0.5 0l0.5 -0.1l0.4 -0.1l0.5 -0.1l0.5 -0.1l0.5 -0.1l0.5 0l0.5 -0.1l0.4 -0.2l0.5 -0.1l0.5 -0.1l0.5 -0.1l0.5 -0.1l0.4 -0.1l0.5 -0.2l0.5 -0.1l0.5 -0.1l0.5 -0.2l0.4 -0.1l0.5 -0.2l0.5 -0.2l0.5 -0.1l0.5 -0.2l0.5 -0.2l0.4 -0.2l0.5 -0.2l0.5 -0.2l0.5 -0.2l0.5 -0.2l0.4 -0.2l0.5 -0.2l0.5 -0.2l0.5 -0.2l0.5 -0.3l0.4 -0.2l0.5 -0.3l0.5 -0.2l0.5 -0.3l0.5 -0.2l0.5 -0.3l0.4 -0.3l0.5 -0.2l0.5 -0.3l0.5 -0.3l0.5 -0.3l0.4 -0.2l0.5 -0.3l0.5 -0.3l0.5 -0.3l0.5 -0.3l0.4 -0.3l0.5 -0.3l0.5 -0.3l0.5 -0.3l0.5 -0.3l0.5 -0.3l0.4 -0.3l0.5 -0.3l0.5 -0.3l0.5 -0.3l0.5 -0.3l0.4 -0.3l0.5 -0.3l0.5 -0.3l0.5 -0.3l0.5 -0.2l0.4 -0.3l0.5 -0.3l0.5 -0.2l0.5 -0.3l0.5 -0.3l0.5 -0.2l0.4 -0.2l0.5 -0.3l0.5 -0.2l0.5 -0.2l0.5 -0.2l0.4 -0.2l0.5 -0.2l0.5 -0.1l0.5 -0.2l0.5 -0.2l0.4 -0.1l0.5 -0.1l0.5 -0.1l0.5 -0.1l0.5 -0.1l0.5 -0.1l0.4 -0.1l0.5 0l0.5 0l0.5 0l0.5 0l0.4 0l0.5 0l0.5 0l0.5 0.1l0.5 0.1l0.4 0l0.5 0.1l0.5 0.2l0.5 0.1l0.5 0.1l0.5 0.2l0.4 0.1l0.5 0.2l0.5 0.2l0.5 0.2l0.5 0.2l0.4 0.2l0.5 0.3l0.5 0.2l0.5 0.3l0.5 0.2l0.4 0.3l0.5 0.3l0.5 0.3l0.5 0.3l0.5 0.3l0.4 0.3l0.5 0.3l0.5 0.4l0.5 0.3l0.5 0.3l0.5 0.4l0.4 0.3l0.5 0.3l0.5 0.4l0.5 0.3l0.5 0.4l0.4 0.4l0.5 0.3l0.5 0.4l0.5 0.3l0.5 0.4l0.4 0.3l0.5 0.4l0.5 0.3l0.5 0.4l0.5 0.3l0.5 0.4l0.4 0.3l0.5 0.4l0.5 0.3l0.5 0.4l0.5 0.3l0.4 0.3l0.5 0.3l0.5 0.4l0.5 0.3l0.5 0.3l0.4 0.3l0.5 0.3l0.5 0.3l0.5 0.3l0.5 0.3l0.5 0.3l0.4 0.2l0.5 0.3l0.5 0.3l0.5 0.2l0.5 0.3l0.4 0.2l0.5 0.3l0.5 0.2l0.5 0.3l0.5 0.2l0.4 0.2l0.5 0.2l0.5 0.2l0.5 0.2l0.5 0.2l0.5 0.2l0.4 0.2l0.5 0.2l0.5 0.2l0.5 0.1l0.5 0.2l0.4 0.2l0.5 0.1l0.5 0.2l0.5 0.1l0.5 0.2l0.4 0.1l0.5 0.2l0.5 0.1l0.5 0.1l0.5 0.2l0.5 0.1l0.4 0.1l0.5 0.1l0.5 0.1l0.5 0.1l0.5 0.1l0.4 0.1l0.5 0.1l0.5 0.1l0.5 0.1l0.5 0.1l0.4 0.1l0.5 0.1l0.5 0.1l0.5 0l0.5 0.1l0.5 0.1l0.4 0.1l0.5 0l0.5 0.1l0.5 0.1l0.5 0.1l0.4 0l0.5 0.1l0.5 0l0.5 0.1l0.5 0.1l0.4 0l0.5 0.1l0.5 0l0.5 0.1l0.5 0.1l0.5 0l0.4 0.1l0.5 0l0.5 0.1l0.5 0l0.5 0.1l0.4 0l0.5 0.1l0.5 0l0.5 0.1l0.5 0l0.4 0.1l0.5 0l0.5 0.1l0.5 0l0.5 0.1" fill="none" stroke="#f7b500" stroke-width="1.2" stroke-linejoin="round" />
<path d="M91.4 147.5l0.4 0l0.5 0l0.5 0l0.5 -0.1l0.5 0l0.4 -0.1l0.5 0l0.5 -0.1l0.5 -0.1l0.5 0l0.5 -0.2l0.4 -0.1l0.5 -0.1l0.5 -0.2l0.5 -0.2l0.5 -0.2l0.4 -0.2l0.5 -0.3l0.5 -0.3l0.5 -0.3l0.5 -0.4l0.4 -0.4l0.5 -0.4l0.5 -0.5l0.5 -0.5l0.5 -0.5l0.4 -0.6l0.5 -0.6l0.5 -0.6l0.5 -0.6l0.5 -0.7l0.5 -0.8l0.4 -0.7l0.5 -0.8l0.5 -0.7l0.5 -0.8l0.5 -0.8l0.4 -0.8l0.5 -0.8l0.5 -0.8l0.5 -0.7l0.5 -0.8l0.4 -0.7l0.5 -0.6l0.5 -0.6l0.5 -0.6l0.5 -0.5l0.5 -0.5l0.4 -0.4l0.5 -0.3l0.5 -0.2l0.5 -0.1l0.5 -0.1l0.4 0l0.5 0.1l0.5 0.2l0.5 0.3l0.5 0.4l0.4 0.4l0.5 0.5l0.5 0.6l0.5 0.6l0.5 0.7l0.5 0.7l0.4 0.7l0.5 0.8l0.5 0.9l0.5 0.8l0.5 0.8l0.4 0.9l0.5 0.8l0.5 0.9l0.5 0.8l0.5 0.9l0.4 0.8l0.5 0.8l0.5 0.7l0.5 0.7l0.5 0.7l0.5 0.7l0.4 0.6l0.5 0.6l0.5 0.6l0.5 0.5l0.5 0.5l0.4 0.5l0.5 0.4l0.5 0.4l0.5 0.4l0.5 0.3l0.4 0.3l0.5 0.3l0.5 0.2l0.5 0.3l0.5 0.2l0.5 0.2l0.4 0.2l0.5 0.1l0.5 0.2l0.5 0.1l0.5 0.1l0.4 0.1l0.5 0.1l0.5 0.1l0.5 0.1l0.5 0.1l0.4 0l0.5 0.1" fill="none" stroke="#35c060" stroke-width="1.2" stroke-linejoin="round" />
<path d="M112.5 148.9l0.5 -0.1l0.5 0l0.5 -0.1l0.5 -0.1l0.4 -0.1l0.5 -0.2l0.5 -0.1l0.5 -0.3l0.5 -0.2l0.4 -0.3l0.5 -0.4l0.5 -0.4l0.5 -0.4l0.5 -0.6l0.4 -0.5l0.5 -0.6l0.5 -0.7l0.5 -0.7l0.5 -0.7l0.5 -0.8l0.4 -0.8l0.5 -0.8l0.5 -0.8l0.5 -0.8l0.5 -0.8l0.4 -0.7l0.5 -0.7l0.5 -0.6l0.5 -0.4l0.5 -0.4l0.4 -0.3l0.5 -0.1l0.5 -0.1l0.5 0.2l0.5 0.2l0.5 0.4l0.4 0.4l0.5 0.6l0.5 0.7l0.5 0.7l0.5 0.8l0.4 0.8l0.5 0.9l0.5 0.9l0.5 0.9l0.5 0.8l0.4 0.8l0.5 0.8l0.5 0.8l0.5 0.7l0.5 0.7l0.5 0.6l0.4 0.5l0.5 0.5l0.5 0.5l0.5 0.4l0.5 0.3l0.4 0.4l0.5 0.2l0.5 0.3l0.5 0.2l0.5 0.2l0.4 0.1l0.5 0.1l0.5 0.2l0.5 0.1" fill="none" stroke="#8e8e8e" stroke-width="1.2" stroke-linejoin="round" />
<path d="M108.2 148.6l0.5 0l0.5 0l0.4 0.1l0.5 0l0.5 0l0.5 0l0.5 0l0.4 0l0.5 0l0.5 0l0.5 0l0.5 0l0.5 -0.1l0.4 0l0.5 0l0.5 -0.1l0.5 -0.1l0.5 0l0.4 -0.1l0.5 -0.1l0.5 -0.2l0.5 -0.1l0.5 -0.2l0.4 -0.1l0.5 -0.3l0.5 -0.2l0.5 -0.3l0.5 -0.3l0.5 -0.3l0.4 -0.4l0.5 -0.4l0.5 -0.5l0.5 -0.5l0.5 -0.6l0.4 -0.6l0.5 -0.6l0.5 -0.8l0.5 -0.7l0.5 -0.9l0.4 -0.9l0.5 -0.9l0.5 -1l0.5 -1.1l0.5 -1.1l0.5 -1.2l0.4 -1.3l0.5 -1.3l0.5 -1.3l0.5 -1.4l0.5 -1.4l0.4 -1.4l0.5 -1.5l0.5 -1.5l0.5 -1.5l0.5 -1.5l0.4 -1.4l0.5 -1.5l0.5 -1.4l0.5 -1.4l0.5 -1.4l0.5 -1.2l0.4 -1.2l0.5 -1.2l0.5 -1l0.5 -0.9l0.5 -0.9l0.4 -0.7l0.5 -0.5l0.5 -0.5l0.5 -0.3l0.5 -0.1l0.4 0l0.5 0.1l0.5 0.3l0.5 0.4l0.5 0.6l0.5 0.7l0.4 0.8l0.5 0.9l0.5 1.1l0.5 1.1l0.5 1.3l0.4 1.3l0.5 1.3l0.5 1.5l0.5 1.4l0.5 1.6l0.4 1.5l0.5 1.5l0.5 1.6l0.5 1.6l0.5 1.5l0.5 1.5l0.4 1.5l0.5 1.5l0.5 1.4l0.5 1.4l0.5 1.3l0.4 1.3l0.5 1.3l0.5 1.1l0.5 1.1l0.5 1.1l0.4 1l0.5 0.9l0.5 0.9l0.5 0.8l0.5 0.8l0.5 0.7l0.4 0.7l0.5 0.6l0.5 0.5l0.5 0.5l0.5 0.5l0.4 0.4l0.5 0.4l0.5 0.4l0.5 0.3l0.5 0.3l0.4 0.3l0.5 0.2l0.5 0.3l0.5 0.2l0.5 0.1l0.4 0.2l0.5 0.2l0.5 0.1l0.5 0.1l0.5 0.2l0.5 0.1l0.4 0.1l0.5 0.1l0.5 0l0.5 0.1l0.5 0.1l0.4 0.1l0.5 0l0.5 0.1l0.5 0.1l0.5 0l0.4 0.1l0.5 0l0.5 0.1l0.5 0.1" fill="none" stroke="#f7b500" stroke-width="1.2" stroke-linejoin="round" />
<path d="M148.1 151.2l0.5 -0.1l0.5 -0.1l0.5 -0.2l0.5 -0.2l0.4 -0.2l0.5 -0.3l0.5 -0.4l0.5 -0.5l0.5 -0.5l0.5 -0.6l0.4 -0.7l0.5 -0.7l0.5 -0.8l0.5 -0.8l0.5 -0.9l0.4 -0.8l0.5 -0.8l0.5 -0.7l0.5 -0.7l0.5 -0.5l0.4 -0.4l0.5 -0.3l0.5 0l0.5 0.1l0.5 0.3l0.5 0.5l0.4 0.6l0.5 0.7l0.5 0.8l0.5 0.9l0.5 0.9l0.4 0.9l0.5 0.9l0.5 0.9l0.5 0.8l0.5 0.7l0.4 0.7l0.5 0.6l0.5 0.5l0.5 0.5l0.5 0.4l0.4 0.3l0.5 0.3l0.5 0.2l0.5 0.2l0.5 0.2" fill="none" stroke="#e8231d" stroke-width="1.2" stroke-linejoin="round" />
<path d="M140.9 150.7l0.5 0.1l0.5 0l0.5 0l0.4 0l0.5 0l0.5 0l0.5 0l0.5 0l0.5 0l0.4 -0.1l0.5 0l0.5 0l0.5 -0.1l0.5 0l0.4 -0.1l0.5 0l0.5 -0.1l0.5 -0.1l0.5 -0.2l0.4 -0.1l0.5 -0.2l0.5 -0.2l0.5 -0.2l0.5 -0.2l0.5 -0.3l0.4 -0.3l0.5 -0.3l0.5 -0.4l0.5 -0.4l0.5 -0.5l0.4 -0.5l0.5 -0.5l0.5 -0.6l0.5 -0.7l0.5 -0.7l0.4 -0.7l0.5 -0.8l0.5 -0.9l0.5 -0.9l0.5 -0.9l0.5 -1l0.4 -1.1l0.5 -1l0.5 -1.2l0.5 -1.2l0.5 -1.2l0.4 -1.2l0.5 -1.3l0.5 -1.2l0.5 -1.3l0.5 -1.3l0.4 -1.3l0.5 -1.3l0.5 -1.2l0.5 -1.2l0.5 -1.2l0.4 -1.2l0.5 -1l0.5 -1l0.5 -1l0.5 -0.8l0.5 -0.8l0.4 -0.6l0.5 -0.6l0.5 -0.4l0.5 -0.3l0.5 -0.2l0.4 -0.1l0.5 0.1l0.5 0.2l0.5 0.3l0.5 0.5l0.4 0.5l0.5 0.7l0.5 0.8l0.5 0.8l0.5 1l0.5 1.1l0.4 1.1l0.5 1.1l0.5 1.3l0.5 1.3l0.5 1.3l0.4 1.3l0.5 1.4l0.5 1.3l0.5 1.4l0.5 1.4l0.4 1.3l0.5 1.3l0.5 1.4l0.5 1.2l0.5 1.3l0.5 1.2l0.4 1.1l0.5 1.1l0.5 1.1l0.5 1l0.5 0.9l0.4 0.9l0.5 0.9l0.5 0.8l0.5 0.7l0.5 0.7l0.4 0.7l0.5 0.6l0.5 0.5l0.5 0.6l0.5 0.4l0.5 0.5l0.4 0.4l0.5 0.3l0.5 0.4l0.5 0.3l0.5 0.3l0.4 0.2l0.5 0.2l0.5 0.3l0.5 0.1l0.5 0.2l0.4 0.2l0.5 0.1l0.5 0.2l0.5 0.1l0.5 0.1l0.5 0.1l0.4 0.1l0.5 0.1l0.5 0.1l0.5 0.1l0.5 0l0.4 0.1l0.5 0.1l0.5 0l0.5 0.1l0.5 0.1l0.4 0" fill="none" stroke="#35c060" stroke-width="1.2" stroke-linejoin="round" />
<path d="M171.7 153.1l0.5 0l0.5 0l0.5 0l0.4 -0.1l0.5 0l0.5 -0.1l0.5 -0.1l0.5 -0.1l0.4 -0.1l0.5 -0.2l0.5 -0.3l0.5 -0.3l0.5 -0.3l0.5 -0.5l0.4 -0.5l0.5 -0.6l0.5 -0.8l0.5 -0.8l0.5 -1l0.4 -1.1l0.5 -1.2l0.5 -1.3l0.5 -1.5l0.5 -1.6l0.4 -1.7l0.5 -1.8l0.5 -1.9l0.5 -1.9l0.5 -2l0.5 -1.9l0.4 -1.9l0.5 -1.9l0.5 -1.7l0.5 -1.5l0.5 -1.4l0.4 -1.2l0.5 -0.8l0.5 -0.6l0.5 -0.3l0.5 0l0.4 0.4l0.5 0.6l0.5 1l0.5 1.2l0.5 1.4l0.5 1.6l0.4 1.8l0.5 1.9l0.5 2l0.5 2.1l0.5 2l0.4 2l0.5 2l0.5 1.9l0.5 1.7l0.5 1.7l0.4 1.6l0.5 1.4l0.5 1.3l0.5 1.2l0.5 1.1l0.5 0.9l0.4 0.8l0.5 0.7l0.5 0.6l0.5 0.6l0.5 0.4l0.4 0.4l0.5 0.3l0.5 0.3l0.5 0.3l0.5 0.2l0.4 0.1l0.5 0.2l0.5 0.1l0.5 0.1l0.5 0.1l0.5 0.1l0.4 0.1" fill="none" stroke="#8e8e8e" stroke-width="1.2" stroke-linejoin="round" />
<path d="M185.2 154.2l0.5 0l0.5 -0.1l0.4 0l0.5 0l0.5 -0.1l0.5 0l0.5 -0.1l0.4 0l0.5 -0.1l0.5 -0.1l0.5 -0.1l0.5 -0.1l0.4 -0.1l0.5 -0.1l0.5 -0.1l0.5 -0.1l0.5 -0.1l0.5 -0.2l0.4 -0.1l0.5 -0.1l0.5 -0.2l0.5 -0.1l0.5 -0.1l0.4 -0.1l0.5 -0.2l0.5 -0.1l0.5 -0.1l0.5 0l0.4 -0.1l0.5 -0.1l0.5 0l0.5 0l0.5 0l0.5 0l0.4 0l0.5 0.1l0.5 0l0.5 0.1l0.5 0.2l0.4 0.1l0.5 0.1l0.5 0.2l0.5 0.2l0.5 0.1l0.4 0.2l0.5 0.2l0.5 0.2l0.5 0.2l0.5 0.3l0.5 0.2l0.4 0.2l0.5 0.2l0.5 0.2l0.5 0.2l0.5 0.2l0.4 0.2l0.5 0.2l0.5 0.2l0.5 0.2l0.5 0.1l0.4 0.2l0.5 0.1l0.5 0.2l0.5 0.1l0.5 0.1l0.5 0.2l0.4 0.1l0.5 0.1l0.5 0.1l0.5 0.1" fill="none" stroke="#e8231d" stroke-width="1.2" stroke-linejoin="round" />
<path d="M36.5 144.5l0.5 0l0.5 0l0.4 0l0.5 -0.1l0.5 0l0.5 0l0.5 0l0.4 -0.1l0.5 0l0.5 0l0.5 -0.1l0.5 0l0.5 -0.1l0.4 0l0.5 -0.1l0.5 0l0.5 -0.1l0.5 0l0.4 -0.1l0.5 -0.1l0.5 0l0.5 -0.1l0.5 -0.1l0.4 0l0.5 -0.1l0.5 -0.1l0.5 -0.1l0.5 -0.1l0.5 -0.1l0.4 -0.1l0.5 -0.1l0.5 -0.1l0.5 -0.2l0.5 -0.1l0.4 -0.1l0.5 -0.1l0.5 -0.2l0.5 -0.1l0.5 -0.2l0.4 -0.1l0.5 -0.2l0.5 -0.1l0.5 -0.2l0.5 -0.2l0.5 -0.2l0.4 -0.2l0.5 -0.2l0.5 -0.2l0.5 -0.2l0.5 -0.2l0.4 -0.2l0.5 -0.2l0.5 -0.2l0.5 -0.3l0.5 -0.2l0.4 -0.2l0.5 -0.3l0.5 -0.2l0.5 -0.3l0.5 -0.3l0.5 -0.2l0.4 -0.3l0.5 -0.3l0.5 -0.2l0.5 -0.3l0.5 -0.3l0.4 -0.3l0.5 -0.3l0.5 -0.3l0.5 -0.3l0.5 -0.3l0.4 -0.3l0.5 -0.3l0.5 -0.3l0.5 -0.3l0.5 -0.3l0.5 -0.3l0.4 -0.3l0.5 -0.3l0.5 -0.3l0.5 -0.3l0.5 -0.3l0.4 -0.3l0.5 -0.3l0.5 -0.3l0.5 -0.3l0.5 -0.3l0.4 -0.3l0.5 -0.2l0.5 -0.3l0.5 -0.3l0.5 -0.2l0.5 -0.3l0.4 -0.2l0.5 -0.3l0.5 -0.2l0.5 -0.2l0.5 -0.2l0.4 -0.2l0.5 -0.2l0.5 -0.2l0.5 -0.2l0.5 -0.1l0.4 -0.2l0.5 -0.1l0.5 -0.2l0.5 -0.1l0.5 -0.1l0.5 -0.1l0.4 -0.1l0.5 0l0.5 -0.1l0.5 -0.1l0.5 0l0.4 0l0.5 0l0.5 -0.1l0.5 0l0.5 0l0.4 0l0.5 0l0.5 0l0.5 0l0.5 0.1l0.5 0l0.4 0l0.5 -0.1l0.5 0l0.5 0l0.5 0l0.4 -0.1l0.5 -0.1l0.5 -0.1l0.5 -0.1l0.5 -0.1l0.4 -0.2l0.5 -0.1l0.5 -0.3l0.5 -0.2l0.5 -0.3l0.4 -0.3l0.5 -0.3l0.5 -0.3l0.5 -0.4l0.5 -0.4l0.5 -0.5l0.4 -0.4l0.5 -0.5l0.5 -0.5l0.5 -0.5l0.5 -0.5l0.4 -0.5l0.5 -0.5l0.5 -0.5l0.5 -0.5l0.5 -0.5l0.4 -0.4l0.5 -0.5l0.5 -0.4l0.5 -0.4l0.5 -0.3l0.5 -0.3l0.4 -0.3l0.5 -0.3l0.5 -0.2l0.5 -0.2l0.5 -0.1l0.4 -0.2l0.5 -0.1l0.5 -0.1l0.5 -0.1l0.5 -0.1l0.4 -0.1l0.5 -0.1l0.5 -0.2l0.5 -0.1l0.5 -0.2l0.5 -0.2l0.4 -0.3l0.5 -0.2l0.5 -0.3l0.5 -0.3l0.5 -0.3l0.4 -0.4l0.5 -0.3l0.5 -0.3l0.5 -0.3l0.5 -0.3l0.4 -0.2l0.5 -0.2l0.5 -0.1l0.5 -0.2l0.5 -0.1l0.5 0l0.4 -0.1l0.5 0l0.5 0l0.5 0l0.5 -0.1l0.4 -0.1l0.5 -0.1l0.5 -0.2l0.5 -0.2l0.5 -0.2l0.4 -0.3l0.5 -0.4l0.5 -0.4l0.5 -0.4l0.5 -0.5l0.5 -0.4l0.4 -0.5l0.5 -0.4l0.5 -0.5l0.5 -0.4l0.5 -0.3l0.4 -0.3l0.5 -0.3l0.5 -0.1l0.5 0l0.5 0l0.4 0.2l0.5 0.3l0.5 0.4l0.5 0.5l0.5 0.7l0.5 0.7l0.4 0.8l0.5 1l0.5 1l0.5 1l0.5 1.2l0.4 1.1l0.5 1.2l0.5 1.2l0.5 1.2l0.5 1.2l0.4 1.1l0.5 1l0.5 1l0.5 0.8l0.5 0.7l0.5 0.6l0.4 0.5l0.5 0.4l0.5 0.2l0.5 0.1l0.5 -0.1l0.4 -0.1l0.5 -0.1l0.5 -0.3l0.5 -0.2l0.5 -0.2l0.4 -0.3l0.5 -0.1l0.5 -0.1l0.5 0l0.5 0l0.5 0.1l0.4 0.2l0.5 0.2l0.5 0.1l0.5 0.2l0.5 0.1l0.4 0l0.5 0l0.5 -0.2l0.5 -0.2l0.5 -0.3l0.4 -0.4l0.5 -0.5l0.5 -0.6l0.5 -0.7l0.5 -0.6l0.4 -0.8l0.5 -0.7l0.5 -0.7l0.5 -0.7l0.5 -0.7l0.5 -0.6l0.4 -0.5l0.5 -0.5l0.5 -0.4l0.5 -0.2l0.5 -0.2l0.4 -0.1l0.5 0l0.5 0.2l0.5 0.2l0.5 0.3l0.4 0.4l0.5 0.5l0.5 0.5l0.5 0.5l0.5 0.6l0.5 0.6l0.4 0.5l0.5 0.6l0.5 0.4l0.5 0.4l0.5 0.3l0.4 0.2l0.5 0.1l0.5 0l0.5 -0.2l0.5 -0.2l0.4 -0.5l0.5 -0.5l0.5 -0.7l0.5 -0.7l0.5 -0.8l0.5 -0.8l0.4 -0.9l0.5 -0.8l0.5 -0.8l0.5 -0.7l0.5 -0.5l0.4 -0.4l0.5 -0.2l0.5 0.1l0.5 0.3l0.5 0.5l0.4 0.9l0.5 1l0.5 1.3l0.5 1.6l0.5 1.7l0.5 1.9l0.4 1.9l0.5 2.1l0.5 2.1l0.5 2.2l0.5 2.1l0.4 2l0.5 2l0.5 2l0.5 1.8l0.5 1.7l0.4 1.6l0.5 1.4l0.5 1.3l0.5 1.2l0.5 1.1l0.5 1l0.4 0.9l0.5 0.7l0.5 0.7l0.5 0.7l0.5 0.5l0.4 0.5l0.5 0.5l0.5 0.4l0.5 0.4l0.5 0.4l0.4 0.3l0.5 0.3l0.5 0.3l0.5 0.3l0.5 0.3l0.5 0.3l0.4 0.3l0.5 0.2l0.5 0.3l0.5 0.2l0.5 0.2l0.4 0.3l0.5 0.2l0.5 0.2l0.5 0.2l0.5 0.2l0.4 0.1l0.5 0.2l0.5 0.2l0.5 0.1l0.5 0.2l0.5 0.1l0.4 0.1l0.5 0.2l0.5 0.1l0.5 0.1l0.5 0.1l0.4 0.1l0.5 0.1l0.5 0.1l0.5 0l0.5 0.1l0.4 0.1l0.5 0.1l0.5 0l0.5 0.1l0.5 0.1l0.5 0l0.4 0.1l0.5 0l0.5 0.1l0.5 0.1l0.5 0l0.4 0.1l0.5 0l0.5 0.1" fill="none" stroke="#6f8cc4" stroke-width="1.5" stroke-linejoin="round" />
</g>
<rect x="36.5" y="8.3" width="192.9" height="156.1" fill="none" stroke="#3a3a3a" stroke-width="1.1"/>
<line x1="36.5" y1="90" x2="229.4" y2="90" stroke="#3a3a3a" stroke-width="1.1" />
<line x1="52.5" y1="164.4" x2="52.5" y2="167.4" stroke="#3a3a3a" stroke-width="1" />
<line x1="84.5" y1="164.4" x2="84.5" y2="167.4" stroke="#3a3a3a" stroke-width="1" />
<line x1="116.5" y1="164.4" x2="116.5" y2="167.4" stroke="#3a3a3a" stroke-width="1" />
<line x1="148.5" y1="164.4" x2="148.5" y2="167.4" stroke="#3a3a3a" stroke-width="1" />
<line x1="180.5" y1="164.4" x2="180.5" y2="167.4" stroke="#3a3a3a" stroke-width="1" />
<line x1="212.5" y1="164.4" x2="212.5" y2="167.4" stroke="#3a3a3a" stroke-width="1" />
<line x1="36.5" y1="164.4" x2="36.5" y2="166.4" stroke="#3a3a3a" stroke-width="1" />
<line x1="68.5" y1="164.4" x2="68.5" y2="166.4" stroke="#3a3a3a" stroke-width="1" />
<line x1="100.5" y1="164.4" x2="100.5" y2="166.4" stroke="#3a3a3a" stroke-width="1" />
<line x1="132.5" y1="164.4" x2="132.5" y2="166.4" stroke="#3a3a3a" stroke-width="1" />
<line x1="164.5" y1="164.4" x2="164.5" y2="166.4" stroke="#3a3a3a" stroke-width="1" />
<line x1="196.5" y1="164.4" x2="196.5" y2="166.4" stroke="#3a3a3a" stroke-width="1" />
<text x="52.5" y="177.1" font-size="10" text-anchor="middle" fill="#111">238</text>
<text x="84.5" y="177.1" font-size="10" text-anchor="middle" fill="#111">236</text>
<text x="116.5" y="177.1" font-size="10" text-anchor="middle" fill="#111">234</text>
<text x="148.5" y="177.1" font-size="10" text-anchor="middle" fill="#111">232</text>
<text x="180.5" y="177.1" font-size="10" text-anchor="middle" fill="#111">230</text>
<text x="212.5" y="177.1" font-size="10" text-anchor="middle" fill="#111">228</text>
<text x="38.3" y="16.9" font-size="8" fill="#222">RuMo@MoOx-JH</text>
<text x="38.3" y="99.4" font-size="8" fill="#222">Mo@MoOx-JH</text>
<line x1="190" y1="15.2" x2="205.7" y2="15.2" stroke="#e8231d" stroke-width="1.3" />
<text x="210.3" y="18.5" font-size="8.5" fill="#e8231d">Mo<tspan dy="-3" font-size="6">0</tspan></text>
<line x1="190" y1="26.2" x2="205.7" y2="26.2" stroke="#8e8e8e" stroke-width="1.3" />
<text x="210.3" y="29.5" font-size="8.5" fill="#8e8e8e">Mo<tspan dy="-3" font-size="6">4+</tspan></text>
<line x1="190" y1="37.2" x2="205.7" y2="37.2" stroke="#35c060" stroke-width="1.3" />
<text x="210.3" y="40.5" font-size="8.5" fill="#35c060">Mo<tspan dy="-3" font-size="6">5+</tspan></text>
<line x1="190" y1="48.2" x2="205.7" y2="48.2" stroke="#f7b500" stroke-width="1.3" />
<text x="210.3" y="51.5" font-size="8.5" fill="#f7b500">Mo<tspan dy="-3" font-size="6">6+</tspan></text>
<text x="15" y="13" font-size="18.5" font-weight="bold">a</text>
<text x="132.9" y="196.8" font-size="13" text-anchor="middle">Binding energy (eV)</text>
<text x="28.6" y="86.2" font-size="13" text-anchor="middle" transform="rotate(-90 28.6 86.2)">Intensity (a.u.)</text>
<clipPath id="cb"><rect x="258.5" y="8.5" width="193.1" height="155.9"/></clipPath><g clip-path="url(#cb)">
<g fill="#a6b2d8" fill-opacity="0.8">
<circle cx="259.5" cy="108.8" r="2.1"/>
<circle cx="263.1" cy="106.8" r="2.1"/>
<circle cx="266.7" cy="107.5" r="2.1"/>
<circle cx="270.3" cy="102.5" r="2.1"/>
<circle cx="273.9" cy="103.4" r="2.1"/>
<circle cx="277.6" cy="105" r="2.1"/>
<circle cx="281.2" cy="96.6" r="2.1"/>
<circle cx="284.8" cy="100.9" r="2.1"/>
<circle cx="288.4" cy="93.7" r="2.1"/>
<circle cx="292.1" cy="100.2" r="2.1"/>
<circle cx="295.7" cy="97.1" r="2.1"/>
<circle cx="299.3" cy="96.9" r="2.1"/>
<circle cx="302.9" cy="84.1" r="2.1"/>
<circle cx="306.5" cy="66.4" r="2.1"/>
<circle cx="310.2" cy="68.1" r="2.1"/>
<circle cx="313.8" cy="79.4" r="2.1"/>
<circle cx="317.4" cy="93.1" r="2.1"/>
<circle cx="321" cy="105.7" r="2.1"/>
<circle cx="324.6" cy="112.6" r="2.1"/>
<circle cx="328.3" cy="113.2" r="2.1"/>
<circle cx="331.9" cy="118.9" r="2.1"/>
<circle cx="335.5" cy="115.5" r="2.1"/>
<circle cx="339.1" cy="117" r="2.1"/>
<circle cx="342.7" cy="115.6" r="2.1"/>
<circle cx="346.4" cy="116.2" r="2.1"/>
<circle cx="350" cy="114.9" r="2.1"/>
<circle cx="353.6" cy="120.9" r="2.1"/>
<circle cx="357.2" cy="117.8" r="2.1"/>
<circle cx="360.8" cy="120.5" r="2.1"/>
<circle cx="364.5" cy="118.4" r="2.1"/>
<circle cx="368.1" cy="116.9" r="2.1"/>
<circle cx="371.7" cy="117.8" r="2.1"/>
<circle cx="375.3" cy="117.3" r="2.1"/>
<circle cx="378.9" cy="118.5" r="2.1"/>
<circle cx="382.6" cy="117" r="2.1"/>
<circle cx="386.2" cy="115.5" r="2.1"/>
<circle cx="389.8" cy="110" r="2.1"/>
<circle cx="393.4" cy="107.1" r="2.1"/>
<circle cx="397" cy="109" r="2.1"/>
<circle cx="400.7" cy="101.4" r="2.1"/>
<circle cx="404.3" cy="96.7" r="2.1"/>
<circle cx="407.9" cy="87.3" r="2.1"/>
<circle cx="411.5" cy="66.5" r="2.1"/>
<circle cx="415.2" cy="39.3" r="2.1"/>
<circle cx="418.8" cy="45.8" r="2.1"/>
<circle cx="422.4" cy="72.5" r="2.1"/>
<circle cx="426" cy="99.8" r="2.1"/>
<circle cx="429.6" cy="123.7" r="2.1"/>
<circle cx="433.3" cy="129.3" r="2.1"/>
<circle cx="436.9" cy="131.9" r="2.1"/>
<circle cx="440.5" cy="130.9" r="2.1"/>
<circle cx="444.1" cy="134.1" r="2.1"/>
<circle cx="447.7" cy="132.1" r="2.1"/>
<circle cx="451.4" cy="133.2" r="2.1"/>
</g>
<path d="M258.5 110.2l0.4 0l0.4 0l0.4 0l0.3 0l0.4 0l0.4 0l0.4 0l0.4 0l0.4 0l0.4 0l0.4 0l0.3 0l0.4 0l0.4 0l0.4 0l0.4 0l0.4 0l0.4 0l0.4 0.1l0.3 0l0.4 0l0.4 0l0.4 0l0.4 0l0.4 0l0.4 0l0.3 0l0.4 0l0.4 0l0.4 0l0.4 0l0.4 0l0.4 0.1l0.4 0l0.3 0l0.4 0l0.4 0l0.4 0l0.4 0l0.4 0l0.4 0l0.4 0l0.3 0.1l0.4 0l0.4 0l0.4 0l0.4 0l0.4 0l0.4 0l0.3 0l0.4 0l0.4 0.1l0.4 0l0.4 0l0.4 0l0.4 0l0.4 0l0.3 0l0.4 0.1l0.4 0l0.4 0l0.4 0l0.4 0l0.4 0.1l0.4 0l0.3 0l0.4 0l0.4 0.1l0.4 0l0.4 0l0.4 0l0.4 0.1l0.3 0l0.4 0l0.4 0.1l0.4 0l0.4 0l0.4 0.1l0.4 0l0.4 0l0.3 0.1l0.4 0l0.4 0.1l0.4 0l0.4 0.1l0.4 0l0.4 0.1l0.4 0l0.3 0.1l0.4 0l0.4 0.1l0.4 0l0.4 0.1l0.4 0.1l0.4 0l0.3 0.1l0.4 0l0.4 0.1l0.4 0.1l0.4 0l0.4 0.1l0.4 0.1l0.4 0l0.3 0.1l0.4 0.1l0.4 0l0.4 0.1l0.4 0l0.4 0.1l0.4 0.1l0.4 0l0.3 0.1l0.4 0.1l0.4 0.1l0.4 0l0.4 0.1l0.4 0.1l0.4 0.1l0.3 0l0.4 0.1l0.4 0.1l0.4 0.1l0.4 0.1l0.4 0l0.4 0.1l0.4 0.1l0.3 0.1l0.4 0.1l0.4 0l0.4 0.1l0.4 0.1l0.4 0.1l0.4 0l0.4 0.1l0.3 0.1l0.4 0.1l0.4 0l0.4 0.1l0.4 0.1l0.4 0l0.4 0.1l0.4 0.1l0.3 0l0.4 0.1l0.4 0l0.4 0.1l0.4 0.1l0.4 0l0.4 0.1l0.3 0l0.4 0.1l0.4 0l0.4 0.1l0.4 0l0.4 0.1l0.4 0l0.4 0l0.3 0.1l0.4 0l0.4 0.1l0.4 0l0.4 0.1l0.4 0l0.4 0.1l0.4 0l0.3 0l0.4 0.1l0.4 0l0.4 0.1l0.4 0l0.4 0l0.4 0.1l0.3 0l0.4 0l0.4 0.1l0.4 0l0.4 0.1l0.4 0l0.4 0l0.4 0.1l0.3 0l0.4 0l0.4 0l0.4 0.1l0.4 0l0.4 0l0.4 0.1l0.4 0l0.3 0l0.4 0l0.4 0.1l0.4 0l0.4 0l0.4 0.1l0.4 0l0.3 0l0.4 0l0.4 0.1l0.4 0l0.4 0l0.4 0l0.4 0l0.4 0.1l0.3 0l0.4 0l0.4 0l0.4 0.1l0.4 0l0.4 0l0.4 0l0.4 0.1l0.3 0l0.4 0l0.4 0l0.4 0l0.4 0.1l0.4 0l0.4 0l0.3 0l0.4 0l0.4 0.1l0.4 0l0.4 0l0.4 0l0.4 0l0.4 0l0.3 0.1l0.4 0l0.4 0l0.4 0l0.4 0l0.4 0.1l0.4 0l0.4 0l0.3 0l0.4 0l0.4 0l0.4 0.1l0.4 0l0.4 0l0.4 0l0.3 0l0.4 0l0.4 0.1l0.4 0l0.4 0l0.4 0l0.4 0l0.4 0.1l0.3 0l0.4 0l0.4 0l0.4 0l0.4 0l0.4 0l0.4 0.1l0.4 0l0.3 0l0.4 0l0.4 0l0.4 0l0.4 0.1l0.4 0l0.4 0l0.3 0l0.4 0l0.4 0l0.4 0.1l0.4 0l0.4 0l0.4 0l0.4 0l0.3 0.1l0.4 0l0.4 0l0.4 0l0.4 0l0.4 0l0.4 0.1l0.4 0l0.3 0l0.4 0l0.4 0l0.4 0.1l0.4 0l0.4 0l0.4 0l0.3 0l0.4 0l0.4 0.1l0.4 0l0.4 0l0.4 0l0.4 0l0.4 0.1l0.3 0l0.4 0l0.4 0l0.4 0.1l0.4 0l0.4 0l0.4 0l0.4 0l0.3 0.1l0.4 0l0.4 0l0.4 0l0.4 0.1l0.4 0l0.4 0l0.3 0l0.4 0.1l0.4 0l0.4 0l0.4 0l0.4 0.1l0.4 0l0.4 0l0.3 0l0.4 0.1l0.4 0l0.4 0l0.4 0l0.4 0.1l0.4 0l0.4 0l0.3 0l0.4 0.1l0.4 0l0.4 0l0.4 0l0.4 0.1l0.4 0l0.3 0l0.4 0.1l0.4 0l0.4 0l0.4 0l0.4 0.1l0.4 0l0.4 0l0.3 0.1l0.4 0l0.4 0l0.4 0.1l0.4 0l0.4 0.1l0.4 0l0.4 0l0.3 0.1l0.4 0l0.4 0.1l0.4 0l0.4 0.1l0.4 0l0.4 0.1l0.3 0l0.4 0.1l0.4 0l0.4 0.1l0.4 0.1l0.4 0l0.4 0.1l0.4 0.1l0.3 0.1l0.4 0l0.4 0.1l0.4 0.1l0.4 0.1l0.4 0.1l0.4 0.1l0.4 0.1l0.3 0.1l0.4 0l0.4 0.1l0.4 0.1l0.4 0.1l0.4 0.1l0.4 0.1l0.4 0.2l0.3 0.1l0.4 0.1l0.4 0.1l0.4 0.2l0.4 0.1l0.4 0.1l0.4 0.2l0.3 0.1l0.4 0.2l0.4 0.2l0.4 0.1l0.4 0.2l0.4 0.2l0.4 0.1l0.4 0.2l0.3 0.2l0.4 0.2l0.4 0.1l0.4 0.2l0.4 0.2l0.4 0.2l0.4 0.2l0.4 0.1l0.3 0.2l0.4 0.2l0.4 0.2l0.4 0.1l0.4 0.2l0.4 0.2l0.4 0.1l0.3 0.2l0.4 0.2l0.4 0.1l0.4 0.2l0.4 0.2l0.4 0.2l0.4 0.1l0.4 0.2l0.3 0.2l0.4 0.2l0.4 0.2l0.4 0.2l0.4 0.2l0.4 0.2l0.4 0.2l0.4 0.2l0.3 0.2l0.4 0.1l0.4 0.2l0.4 0.2l0.4 0.2l0.4 0.1l0.4 0.2l0.3 0.1l0.4 0.2l0.4 0.1l0.4 0.1l0.4 0.1l0.4 0.1l0.4 0.1l0.4 0.1l0.3 0l0.4 0.1l0.4 0l0.4 0.1l0.4 0l0.4 0l0.4 0.1l0.4 0l0.3 0l0.4 0.1l0.4 0l0.4 0l0.4 0l0.4 0.1l0.4 0l0.3 0l0.4 0l0.4 0.1l0.4 0l0.4 0l0.4 0l0.4 0.1l0.4 0l0.3 0l0.4 0l0.4 0.1l0.4 0l0.4 0l0.4 0l0.4 0l0.4 0.1l0.3 0l0.4 0l0.4 0l0.4 0l0.4 0l0.4 0l0.4 0.1l0.3 0l0.4 0l0.4 0l0.4 0l0.4 0l0.4 0l0.4 0l0.4 0l0.3 0.1l0.4 0l0.4 0l0.4 0l0.4 0l0.4 0l0.4 0l0.4 0l0.3 0l0.4 0l0.4 0l0.4 0" fill="none" stroke="#a39a90" stroke-width="1.3" stroke-linejoin="round" />
<path d="M258.9 110l0.4 0l0.4 0l0.3 0l0.4 0l0.4 0l0.4 0l0.4 0l0.4 0l0.4 -0.1l0.4 0l0.3 0l0.4 0l0.4 0l0.4 0l0.4 0l0.4 0l0.4 -0.1l0.4 0l0.3 0l0.4 0l0.4 0l0.4 -0.1l0.4 0l0.4 0l0.4 -0.1l0.3 0l0.4 -0.1l0.4 0l0.4 -0.1l0.4 -0.1l0.4 -0.1l0.4 0l0.4 -0.1l0.3 -0.1l0.4 -0.1l0.4 -0.2l0.4 -0.1l0.4 -0.1l0.4 -0.2l0.4 -0.1l0.4 -0.2l0.3 -0.2l0.4 -0.2l0.4 -0.2l0.4 -0.2l0.4 -0.2l0.4 -0.3l0.4 -0.2l0.3 -0.3l0.4 -0.2l0.4 -0.3l0.4 -0.3l0.4 -0.3l0.4 -0.3l0.4 -0.3l0.4 -0.3l0.3 -0.3l0.4 -0.3l0.4 -0.4l0.4 -0.3l0.4 -0.3l0.4 -0.3l0.4 -0.3l0.4 -0.3l0.3 -0.3l0.4 -0.2l0.4 -0.3l0.4 -0.2l0.4 -0.2l0.4 -0.2l0.4 -0.2l0.3 -0.1l0.4 -0.1l0.4 -0.1l0.4 -0.1l0.4 0l0.4 0l0.4 0l0.4 0.1l0.3 0.1l0.4 0.1l0.4 0.2l0.4 0.2l0.4 0.2l0.4 0.2l0.4 0.3l0.4 0.3l0.3 0.3l0.4 0.3l0.4 0.4l0.4 0.3l0.4 0.4l0.4 0.4l0.4 0.4l0.3 0.4l0.4 0.4l0.4 0.4l0.4 0.3l0.4 0.4l0.4 0.4l0.4 0.4l0.4 0.4l0.3 0.4l0.4 0.3l0.4 0.4l0.4 0.3l0.4 0.4l0.4 0.3l0.4 0.3l0.4 0.3l0.3 0.3l0.4 0.3l0.4 0.3l0.4 0.3l0.4 0.2l0.4 0.3l0.4 0.2l0.3 0.2l0.4 0.2l0.4 0.3l0.4 0.2l0.4 0.1l0.4 0.2l0.4 0.2l0.4 0.2l0.3 0.1l0.4 0.2l0.4 0.1l0.4 0.2l0.4 0.1l0.4 0.1l0.4 0.1l0.4 0.2l0.3 0.1l0.4 0.1l0.4 0.1l0.4 0.1l0.4 0.1l0.4 0.1l0.4 0l0.4 0.1l0.3 0.1l0.4 0.1l0.4 0l0.4 0.1l0.4 0.1l0.4 0l0.4 0.1l0.3 0.1l0.4 0l0.4 0.1l0.4 0l0.4 0.1l0.4 0l0.4 0.1" fill="none" stroke="#e8231d" stroke-width="1.3" stroke-linejoin="round" />
<path d="M266.6 110.1l0.4 0l0.4 0l0.4 0l0.4 0l0.4 0l0.3 0l0.4 0l0.4 0l0.4 0l0.4 0l0.4 0l0.4 0l0.4 0l0.3 0l0.4 0l0.4 0l0.4 0l0.4 0l0.4 0l0.4 0l0.4 0l0.3 0l0.4 0.1l0.4 0l0.4 0l0.4 0l0.4 0l0.4 0l0.3 0l0.4 0l0.4 0l0.4 0l0.4 0l0.4 0l0.4 0l0.4 0l0.3 0l0.4 0l0.4 0l0.4 0l0.4 0l0.4 0l0.4 0l0.4 0l0.3 0.1l0.4 0l0.4 0l0.4 0l0.4 0l0.4 0l0.4 0l0.3 0l0.4 0l0.4 0l0.4 0l0.4 0l0.4 0l0.4 -0.1l0.4 0l0.3 0l0.4 -0.1l0.4 0l0.4 -0.1l0.4 0l0.4 -0.1l0.4 -0.1l0.4 -0.2l0.3 -0.1l0.4 -0.2l0.4 -0.2l0.4 -0.3l0.4 -0.2l0.4 -0.4l0.4 -0.3l0.3 -0.5l0.4 -0.4l0.4 -0.6l0.4 -0.6l0.4 -0.6l0.4 -0.8l0.4 -0.8l0.4 -0.9l0.3 -0.9l0.4 -1.1l0.4 -1.1l0.4 -1.2l0.4 -1.3l0.4 -1.4l0.4 -1.4l0.4 -1.5l0.3 -1.6l0.4 -1.6l0.4 -1.7l0.4 -1.7l0.4 -1.7l0.4 -1.7l0.4 -1.8l0.3 -1.7l0.4 -1.7l0.4 -1.6l0.4 -1.6l0.4 -1.5l0.4 -1.4l0.4 -1.3l0.4 -1.2l0.3 -1l0.4 -0.8l0.4 -0.7l0.4 -0.5l0.4 -0.2l0.4 -0.1l0.4 0.1l0.4 0.3l0.3 0.6l0.4 0.7l0.4 0.9l0.4 1.1l0.4 1.2l0.4 1.4l0.4 1.5l0.4 1.6l0.3 1.7l0.4 1.8l0.4 1.8l0.4 1.8l0.4 1.9l0.4 1.8l0.4 1.9l0.3 1.8l0.4 1.8l0.4 1.8l0.4 1.7l0.4 1.7l0.4 1.6l0.4 1.5l0.4 1.4l0.3 1.4l0.4 1.2l0.4 1.2l0.4 1.1l0.4 1.1l0.4 0.9l0.4 0.9l0.4 0.8l0.3 0.8l0.4 0.6l0.4 0.6l0.4 0.6l0.4 0.5l0.4 0.4l0.4 0.4l0.3 0.4l0.4 0.3l0.4 0.3l0.4 0.2l0.4 0.3l0.4 0.2l0.4 0.2l0.4 0.1l0.3 0.2l0.4 0.1l0.4 0.1l0.4 0.1l0.4 0.1l0.4 0.1l0.4 0.1l0.4 0.1l0.3 0l0.4 0.1l0.4 0.1l0.4 0l0.4 0.1l0.4 0l0.4 0.1l0.3 0l0.4 0.1l0.4 0l0.4 0l0.4 0.1l0.4 0l0.4 0.1l0.4 0l0.3 0l0.4 0.1l0.4 0l0.4 0l0.4 0.1l0.4 0l0.4 0l0.4 0.1l0.3 0l0.4 0l0.4 0l0.4 0.1l0.4 0l0.4 0l0.4 0.1l0.3 0l0.4 0l0.4 0l0.4 0.1l0.4 0l0.4 0l0.4 0l0.4 0.1l0.3 0l0.4 0l0.4 0l0.4 0.1l0.4 0l0.4 0l0.4 0l0.4 0.1l0.3 0l0.4 0l0.4 0l0.4 0l0.4 0.1l0.4 0l0.4 0l0.3 0l0.4 0l0.4 0.1" fill="none" stroke="#35c060" stroke-width="1.3" stroke-linejoin="round" />
<path d="M367.2 118.9l0.4 0l0.4 0l0.4 0l0.4 0l0.4 0.1l0.4 0l0.3 0l0.4 0l0.4 0l0.4 0l0.4 0l0.4 0l0.4 0.1l0.4 0l0.3 0l0.4 0l0.4 0l0.4 0l0.4 0l0.4 0l0.4 0l0.4 0l0.3 0l0.4 0l0.4 0l0.4 0l0.4 0l0.4 0l0.4 0l0.3 -0.1l0.4 0l0.4 0l0.4 -0.1l0.4 0l0.4 -0.1l0.4 0l0.4 -0.1l0.3 -0.1l0.4 -0.1l0.4 -0.1l0.4 -0.1l0.4 -0.1l0.4 -0.2l0.4 -0.1l0.4 -0.2l0.3 -0.1l0.4 -0.2l0.4 -0.3l0.4 -0.2l0.4 -0.2l0.4 -0.3l0.4 -0.3l0.3 -0.2l0.4 -0.4l0.4 -0.3l0.4 -0.3l0.4 -0.4l0.4 -0.3l0.4 -0.4l0.4 -0.4l0.3 -0.4l0.4 -0.4l0.4 -0.4l0.4 -0.4l0.4 -0.5l0.4 -0.4l0.4 -0.4l0.4 -0.4l0.3 -0.4l0.4 -0.4l0.4 -0.4l0.4 -0.4l0.4 -0.3l0.4 -0.3l0.4 -0.3l0.3 -0.3l0.4 -0.2l0.4 -0.2l0.4 -0.1l0.4 -0.1l0.4 0l0.4 -0.1l0.4 0.1l0.3 0.1l0.4 0.1l0.4 0.2l0.4 0.2l0.4 0.3l0.4 0.3l0.4 0.3l0.4 0.4l0.3 0.4l0.4 0.5l0.4 0.5l0.4 0.5l0.4 0.5l0.4 0.5l0.4 0.5l0.4 0.6l0.3 0.6l0.4 0.6l0.4 0.5l0.4 0.6l0.4 0.6l0.4 0.6l0.4 0.6l0.3 0.6l0.4 0.6l0.4 0.5l0.4 0.6l0.4 0.5l0.4 0.6l0.4 0.5l0.4 0.5l0.3 0.5l0.4 0.4l0.4 0.5l0.4 0.4l0.4 0.5l0.4 0.4l0.4 0.4l0.4 0.4l0.3 0.3l0.4 0.4l0.4 0.3l0.4 0.3l0.4 0.3l0.4 0.3l0.4 0.3l0.3 0.3l0.4 0.2l0.4 0.2l0.4 0.3l0.4 0.2l0.4 0.3l0.4 0.2l0.4 0.2l0.3 0.3l0.4 0.2l0.4 0.2l0.4 0.3l0.4 0.2l0.4 0.2l0.4 0.2l0.4 0.3l0.3 0.2l0.4 0.2l0.4 0.2l0.4 0.1l0.4 0.2l0.4 0.2l0.4 0.2l0.3 0.1l0.4 0.2l0.4 0.1l0.4 0.2l0.4 0.1l0.4 0.1l0.4 0.1l0.4 0l0.3 0.1l0.4 0.1l0.4 0l0.4 0l0.4 0.1l0.4 0l0.4 0.1" fill="none" stroke="#e8231d" stroke-width="1.3" stroke-linejoin="round" />
<path d="M360.3 118.6l0.4 0l0.3 0l0.4 0l0.4 0l0.4 0.1l0.4 0l0.4 0l0.4 0l0.4 0l0.3 0l0.4 0l0.4 0l0.4 0.1l0.4 0l0.4 0l0.4 0l0.4 0l0.3 0l0.4 0l0.4 0.1l0.4 0l0.4 0l0.4 0l0.4 0l0.3 0l0.4 0.1l0.4 0l0.4 0l0.4 0l0.4 0l0.4 0l0.4 0l0.3 0.1l0.4 0l0.4 0l0.4 0l0.4 0l0.4 0l0.4 0l0.4 0.1l0.3 0l0.4 0l0.4 0l0.4 0l0.4 0l0.4 0.1l0.4 0l0.3 0l0.4 0l0.4 0l0.4 0l0.4 0.1l0.4 0l0.4 0l0.4 0l0.3 0l0.4 0l0.4 0l0.4 0.1l0.4 0l0.4 0l0.4 0l0.4 0l0.3 0l0.4 0l0.4 0l0.4 0l0.4 0.1l0.4 0l0.4 0l0.3 0l0.4 0l0.4 0l0.4 0l0.4 0l0.4 0l0.4 0l0.4 0.1l0.3 0l0.4 0l0.4 0l0.4 0l0.4 0l0.4 0l0.4 0l0.4 0l0.3 0l0.4 0l0.4 0l0.4 -0.1l0.4 0l0.4 0l0.4 0l0.3 -0.1l0.4 0l0.4 -0.1l0.4 -0.1l0.4 -0.1l0.4 -0.1l0.4 -0.2l0.4 -0.2l0.3 -0.2l0.4 -0.2l0.4 -0.4l0.4 -0.3l0.4 -0.4l0.4 -0.5l0.4 -0.6l0.4 -0.6l0.3 -0.7l0.4 -0.8l0.4 -0.9l0.4 -1.1l0.4 -1.1l0.4 -1.3l0.4 -1.4l0.4 -1.5l0.3 -1.7l0.4 -1.8l0.4 -1.9l0.4 -2.1l0.4 -2.2l0.4 -2.4l0.4 -2.5l0.3 -2.6l0.4 -2.7l0.4 -2.8l0.4 -3l0.4 -3l0.4 -3l0.4 -3.1l0.4 -3l0.3 -3.1l0.4 -3l0.4 -2.9l0.4 -2.8l0.4 -2.6l0.4 -2.5l0.4 -2.3l0.4 -2.1l0.3 -1.7l0.4 -1.5l0.4 -1.2l0.4 -0.8l0.4 -0.4l0.4 -0.1l0.4 0.3l0.3 0.6l0.4 1l0.4 1.4l0.4 1.7l0.4 2l0.4 2.3l0.4 2.6l0.4 2.8l0.3 3l0.4 3.1l0.4 3.2l0.4 3.4l0.4 3.4l0.4 3.4l0.4 3.5l0.4 3.4l0.3 3.3l0.4 3.3l0.4 3.2l0.4 3.1l0.4 3l0.4 2.9l0.4 2.7l0.3 2.5l0.4 2.5l0.4 2.2l0.4 2.1l0.4 1.9l0.4 1.8l0.4 1.7l0.4 1.5l0.3 1.3l0.4 1.2l0.4 1.1l0.4 1l0.4 0.9l0.4 0.7l0.4 0.7l0.4 0.7l0.3 0.5l0.4 0.5l0.4 0.5l0.4 0.3l0.4 0.4l0.4 0.3l0.4 0.2l0.3 0.3l0.4 0.2l0.4 0.2l0.4 0.1l0.4 0.2l0.4 0.1l0.4 0.1l0.4 0.1l0.3 0.1l0.4 0.1l0.4 0.1l0.4 0.1l0.4 0l0.4 0.1l0.4 0.1l0.4 0l0.3 0.1l0.4 0l0.4 0.1l0.4 0l0.4 0l0.4 0.1l0.4 0l0.3 0.1l0.4 0l0.4 0l0.4 0.1l0.4 0l0.4 0l0.4 0l0.4 0.1l0.3 0l0.4 0l0.4 0l0.4 0.1l0.4 0l0.4 0l0.4 0l0.4 0l0.3 0l0.4 0.1l0.4 0l0.4 0" fill="none" stroke="#35c060" stroke-width="1.3" stroke-linejoin="round" />
<path d="M258.5 109.8l0.4 0l0.4 0l0.4 0l0.3 0l0.4 0l0.4 0l0.4 0l0.4 0l0.4 -0.1l0.4 0l0.4 0l0.3 0l0.4 0l0.4 0l0.4 0l0.4 0l0.4 -0.1l0.4 0l0.4 0l0.3 0l0.4 -0.1l0.4 0l0.4 0l0.4 -0.1l0.4 0l0.4 -0.1l0.3 0l0.4 -0.1l0.4 0l0.4 -0.1l0.4 -0.1l0.4 0l0.4 -0.1l0.4 -0.1l0.3 -0.1l0.4 -0.2l0.4 -0.1l0.4 -0.1l0.4 -0.2l0.4 -0.1l0.4 -0.2l0.4 -0.1l0.3 -0.2l0.4 -0.2l0.4 -0.2l0.4 -0.3l0.4 -0.2l0.4 -0.2l0.4 -0.3l0.3 -0.3l0.4 -0.2l0.4 -0.3l0.4 -0.3l0.4 -0.3l0.4 -0.4l0.4 -0.3l0.4 -0.3l0.3 -0.3l0.4 -0.3l0.4 -0.4l0.4 -0.3l0.4 -0.3l0.4 -0.3l0.4 -0.4l0.4 -0.3l0.3 -0.3l0.4 -0.2l0.4 -0.3l0.4 -0.3l0.4 -0.2l0.4 -0.2l0.4 -0.2l0.3 -0.2l0.4 -0.1l0.4 -0.2l0.4 -0.1l0.4 0l0.4 -0.1l0.4 0l0.4 0l0.3 0l0.4 0.1l0.4 0l0.4 0.1l0.4 0.1l0.4 0.1l0.4 0.1l0.4 0.1l0.3 0.1l0.4 0.1l0.4 0.1l0.4 0.1l0.4 0l0.4 0l0.4 -0.1l0.3 -0.1l0.4 -0.1l0.4 -0.2l0.4 -0.3l0.4 -0.3l0.4 -0.4l0.4 -0.5l0.4 -0.6l0.3 -0.6l0.4 -0.8l0.4 -0.8l0.4 -0.9l0.4 -1.1l0.4 -1.1l0.4 -1.2l0.4 -1.2l0.3 -1.4l0.4 -1.4l0.4 -1.4l0.4 -1.5l0.4 -1.6l0.4 -1.5l0.4 -1.6l0.3 -1.6l0.4 -1.5l0.4 -1.6l0.4 -1.4l0.4 -1.4l0.4 -1.3l0.4 -1.2l0.4 -1.1l0.3 -0.9l0.4 -0.8l0.4 -0.6l0.4 -0.4l0.4 -0.2l0.4 -0.1l0.4 0.2l0.4 0.4l0.3 0.6l0.4 0.7l0.4 1l0.4 1.1l0.4 1.2l0.4 1.4l0.4 1.6l0.4 1.6l0.3 1.7l0.4 1.7l0.4 1.9l0.4 1.8l0.4 1.9l0.4 1.9l0.4 1.8l0.3 1.9l0.4 1.8l0.4 1.8l0.4 1.7l0.4 1.7l0.4 1.5l0.4 1.6l0.4 1.4l0.3 1.4l0.4 1.2l0.4 1.2l0.4 1.2l0.4 1l0.4 1l0.4 0.8l0.4 0.8l0.3 0.8l0.4 0.7l0.4 0.6l0.4 0.5l0.4 0.5l0.4 0.5l0.4 0.4l0.3 0.3l0.4 0.3l0.4 0.3l0.4 0.3l0.4 0.2l0.4 0.2l0.4 0.2l0.4 0.2l0.3 0.1l0.4 0.2l0.4 0.1l0.4 0.1l0.4 0.1l0.4 0.1l0.4 0l0.4 0.1l0.3 0.1l0.4 0.1l0.4 0l0.4 0.1l0.4 0l0.4 0.1l0.4 0l0.3 0.1l0.4 0l0.4 0.1l0.4 0l0.4 0l0.4 0.1l0.4 0l0.4 0.1l0.3 0l0.4 0l0.4 0.1l0.4 0l0.4 0l0.4 0.1l0.4 0l0.4 0l0.3 0l0.4 0.1l0.4 0l0.4 0l0.4 0.1l0.4 0l0.4 0l0.3 0l0.4 0.1l0.4 0l0.4 0l0.4 0l0.4 0.1l0.4 0l0.4 0l0.3 0l0.4 0l0.4 0.1l0.4 0l0.4 0l0.4 0l0.4 0.1l0.4 0l0.3 0l0.4 0l0.4 0l0.4 0.1l0.4 0l0.4 0l0.4 0l0.3 0l0.4 0l0.4 0.1l0.4 0l0.4 0l0.4 0l0.4 0l0.4 0l0.3 0.1l0.4 0l0.4 0l0.4 0l0.4 0l0.4 0l0.4 0.1l0.4 0l0.3 0l0.4 0l0.4 0l0.4 0l0.4 0l0.4 0.1l0.4 0l0.3 0l0.4 0l0.4 0l0.4 0l0.4 0l0.4 0.1l0.4 0l0.4 0l0.3 0l0.4 0l0.4 0l0.4 0l0.4 0l0.4 0.1l0.4 0l0.4 0l0.3 0l0.4 0l0.4 0l0.4 0l0.4 0l0.4 0l0.4 0l0.3 0.1l0.4 0l0.4 0l0.4 0l0.4 0l0.4 0l0.4 0l0.4 0l0.3 0l0.4 0l0.4 0l0.4 0l0.4 0l0.4 0l0.4 0l0.4 0l0.3 0l0.4 0l0.4 0l0.4 0l0.4 0l0.4 -0.1l0.4 0l0.3 0l0.4 0l0.4 -0.1l0.4 0l0.4 -0.1l0.4 -0.1l0.4 0l0.4 -0.1l0.3 -0.1l0.4 -0.1l0.4 -0.1l0.4 -0.1l0.4 -0.2l0.4 -0.1l0.4 -0.2l0.4 -0.2l0.3 -0.2l0.4 -0.2l0.4 -0.2l0.4 -0.2l0.4 -0.3l0.4 -0.3l0.4 -0.3l0.3 -0.3l0.4 -0.3l0.4 -0.3l0.4 -0.4l0.4 -0.4l0.4 -0.3l0.4 -0.5l0.4 -0.4l0.3 -0.4l0.4 -0.4l0.4 -0.5l0.4 -0.4l0.4 -0.5l0.4 -0.4l0.4 -0.5l0.4 -0.4l0.3 -0.5l0.4 -0.4l0.4 -0.5l0.4 -0.4l0.4 -0.4l0.4 -0.4l0.4 -0.4l0.3 -0.3l0.4 -0.4l0.4 -0.3l0.4 -0.3l0.4 -0.2l0.4 -0.3l0.4 -0.2l0.4 -0.2l0.3 -0.2l0.4 -0.2l0.4 -0.3l0.4 -0.2l0.4 -0.2l0.4 -0.3l0.4 -0.3l0.4 -0.3l0.3 -0.4l0.4 -0.4l0.4 -0.6l0.4 -0.6l0.4 -0.7l0.4 -0.9l0.4 -0.9l0.4 -1.1l0.3 -1.2l0.4 -1.4l0.4 -1.4l0.4 -1.7l0.4 -1.7l0.4 -2l0.4 -2l0.3 -2.2l0.4 -2.3l0.4 -2.4l0.4 -2.6l0.4 -2.6l0.4 -2.6l0.4 -2.8l0.4 -2.7l0.3 -2.7l0.4 -2.7l0.4 -2.7l0.4 -2.5l0.4 -2.4l0.4 -2.3l0.4 -2l0.4 -1.9l0.3 -1.6l0.4 -1.3l0.4 -1l0.4 -0.6l0.4 -0.4l0.4 0.1l0.4 0.4l0.3 0.7l0.4 1.1l0.4 1.5l0.4 1.8l0.4 2.1l0.4 2.3l0.4 2.6l0.4 2.9l0.3 3l0.4 3.2l0.4 3.3l0.4 3.3l0.4 3.5l0.4 3.4l0.4 3.5l0.4 3.4l0.3 3.4l0.4 3.3l0.4 3.2l0.4 3.2l0.4 3l0.4 2.8l0.4 2.7l0.3 2.6l0.4 2.4l0.4 2.3l0.4 2.1l0.4 1.9l0.4 1.8l0.4 1.7l0.4 1.5l0.3 1.3l0.4 1.3l0.4 1l0.4 1l0.4 0.9l0.4 0.8l0.4 0.7l0.4 0.6l0.3 0.6l0.4 0.5l0.4 0.4l0.4 0.4l0.4 0.4l0.4 0.3l0.4 0.2l0.3 0.3l0.4 0.2l0.4 0.2l0.4 0.1l0.4 0.2l0.4 0.1l0.4 0.1l0.4 0.2l0.3 0.1l0.4 0l0.4 0.1l0.4 0.1l0.4 0.1l0.4 0l0.4 0.1l0.4 0.1l0.3 0l0.4 0.1l0.4 0l0.4 0.1l0.4 0l0.4 0l0.4 0.1l0.3 0l0.4 0.1l0.4 0l0.4 0l0.4 0.1l0.4 0l0.4 0l0.4 0l0.3 0.1l0.4 0l0.4 0l0.4 0l0.4 0.1l0.4 0l0.4 0l0.4 0l0.3 0l0.4 0l0.4 0.1l0.4 0" fill="none" stroke="#2f5e94" stroke-width="1.7" stroke-linejoin="round" />
</g>
<rect x="258.5" y="8.5" width="193.1" height="155.9" fill="none" stroke="#3a3a3a" stroke-width="1.1"/>
<line x1="282.6" y1="164.4" x2="282.6" y2="167.4" stroke="#3a3a3a" stroke-width="1" />
<line x1="330.9" y1="164.4" x2="330.9" y2="167.4" stroke="#3a3a3a" stroke-width="1" />
<line x1="379.2" y1="164.4" x2="379.2" y2="167.4" stroke="#3a3a3a" stroke-width="1" />
<line x1="427.5" y1="164.4" x2="427.5" y2="167.4" stroke="#3a3a3a" stroke-width="1" />
<line x1="306.8" y1="164.4" x2="306.8" y2="166.4" stroke="#3a3a3a" stroke-width="1" />
<line x1="355.1" y1="164.4" x2="355.1" y2="166.4" stroke="#3a3a3a" stroke-width="1" />
<line x1="403.3" y1="164.4" x2="403.3" y2="166.4" stroke="#3a3a3a" stroke-width="1" />
<line x1="451.6" y1="164.4" x2="451.6" y2="166.4" stroke="#3a3a3a" stroke-width="1" />
<text x="282.6" y="177.1" font-size="10" text-anchor="middle" fill="#111">490</text>
<text x="330.9" y="177.1" font-size="10" text-anchor="middle" fill="#111">480</text>
<text x="379.2" y="177.1" font-size="10" text-anchor="middle" fill="#111">470</text>
<text x="427.5" y="177.1" font-size="10" text-anchor="middle" fill="#111">460</text>
<text x="261" y="17.6" font-size="8.2" fill="#222">Ru 3<tspan font-style="italic">p</tspan></text>
<line x1="412.8" y1="15.8" x2="428.5" y2="15.8" stroke="#35c060" stroke-width="1.3" />
<text x="432.8" y="19.1" font-size="8.5" fill="#35c060">Ru<tspan dy="-3" font-size="6">0</tspan></text>
<line x1="412.8" y1="26.7" x2="428.5" y2="26.7" stroke="#e8231d" stroke-width="1.3" />
<text x="432.8" y="30" font-size="8.5" fill="#e8231d">Ru<tspan dy="-3" font-size="6">4+</tspan></text>
<text x="235.5" y="13" font-size="18.5" font-weight="bold">b</text>
<text x="355.1" y="196.8" font-size="13" text-anchor="middle">Binding energy (eV)</text>
<text x="251.5" y="86.2" font-size="13" text-anchor="middle" transform="rotate(-90 251.5 86.2)">Intensity (a.u.)</text>
<clipPath id="cc"><rect x="483.5" y="8.4" width="193" height="156"/></clipPath><g clip-path="url(#cc)">
<g fill="#a6b2d8" fill-opacity="0.85">
<circle cx="490.7" cy="82.8" r="2.1"/>
<circle cx="498" cy="82.6" r="2.1"/>
<circle cx="505.2" cy="85.1" r="2.1"/>
<circle cx="512.4" cy="83" r="2.1"/>
<circle cx="519.7" cy="83.3" r="2.1"/>
<circle cx="526.9" cy="81.8" r="2.1"/>
<circle cx="534.2" cy="79.1" r="2.1"/>
<circle cx="541.4" cy="76.1" r="2.1"/>
<circle cx="548.6" cy="75.2" r="2.1"/>
<circle cx="555.9" cy="73.6" r="2.1"/>
<circle cx="563.1" cy="71.5" r="2.1"/>
<circle cx="570.3" cy="65.6" r="2.1"/>
<circle cx="577.6" cy="58.5" r="2.1"/>
<circle cx="584.8" cy="52.8" r="2.1"/>
<circle cx="592.1" cy="50.2" r="2.1"/>
<circle cx="599.3" cy="41.9" r="2.1"/>
<circle cx="606.5" cy="28.7" r="2.1"/>
<circle cx="613.8" cy="25.4" r="2.1"/>
<circle cx="621" cy="36.1" r="2.1"/>
<circle cx="628.2" cy="54.7" r="2.1"/>
<circle cx="635.5" cy="72.3" r="2.1"/>
<circle cx="642.7" cy="81.9" r="2.1"/>
<circle cx="650" cy="85.8" r="2.1"/>
<circle cx="657.2" cy="87.3" r="2.1"/>
<circle cx="664.4" cy="86.4" r="2.1"/>
<circle cx="671.7" cy="88.8" r="2.1"/>
</g>
<path d="M483.5 85.5l0.5 0l0.5 0l0.5 0l0.4 0l0.5 0l0.5 0l0.5 0l0.5 0l0.5 0l0.4 0l0.5 0l0.5 0l0.5 0l0.5 0l0.5 0l0.4 0l0.5 0l0.5 0l0.5 0l0.5 0l0.5 0l0.4 0l0.5 0l0.5 0l0.5 0l0.5 0l0.5 0l0.4 0l0.5 0l0.5 0l0.5 0l0.5 0l0.5 0l0.4 0l0.5 0l0.5 0l0.5 0l0.5 0l0.5 0l0.4 0l0.5 0l0.5 0l0.5 0l0.5 0l0.5 0l0.5 0l0.4 0l0.5 0l0.5 -0.1l0.5 0l0.5 0l0.5 0l0.4 0l0.5 0l0.5 0l0.5 0l0.5 0l0.5 0l0.4 0l0.5 0l0.5 0l0.5 -0.1l0.5 0l0.5 0l0.4 0l0.5 0l0.5 -0.1l0.5 0l0.5 0l0.5 0l0.4 -0.1l0.5 0l0.5 0l0.5 -0.1l0.5 0l0.5 -0.1l0.4 0l0.5 -0.1l0.5 0l0.5 -0.1l0.5 0l0.5 -0.1l0.4 -0.1l0.5 0l0.5 -0.1l0.5 -0.1l0.5 -0.1l0.5 -0.1l0.5 -0.1l0.4 -0.1l0.5 -0.1l0.5 -0.1l0.5 -0.1l0.5 -0.1l0.5 -0.2l0.4 -0.1l0.5 -0.1l0.5 -0.2l0.5 -0.1l0.5 -0.1l0.5 -0.2l0.4 -0.2l0.5 -0.1l0.5 -0.2l0.5 -0.1l0.5 -0.2l0.5 -0.2l0.4 -0.1l0.5 -0.2l0.5 -0.2l0.5 -0.2l0.5 -0.1l0.5 -0.2l0.4 -0.2l0.5 -0.2l0.5 -0.1l0.5 -0.2l0.5 -0.1l0.5 -0.2l0.4 -0.1l0.5 -0.2l0.5 -0.1l0.5 -0.1l0.5 -0.2l0.5 -0.1l0.4 -0.1l0.5 -0.1l0.5 0l0.5 -0.1l0.5 0l0.5 -0.1l0.4 0l0.5 0l0.5 0l0.5 0l0.5 0.1l0.5 0l0.5 0.1l0.4 0l0.5 0.1l0.5 0.1l0.5 0.1l0.5 0.2l0.5 0.1l0.4 0.1l0.5 0.2l0.5 0.1l0.5 0.2l0.5 0.2l0.5 0.1l0.4 0.2l0.5 0.2l0.5 0.2l0.5 0.2l0.5 0.1l0.5 0.2l0.4 0.2l0.5 0.2l0.5 0.2l0.5 0.2l0.5 0.2l0.5 0.2l0.4 0.1l0.5 0.2l0.5 0.2l0.5 0.2l0.5 0.1l0.5 0.2l0.4 0.2l0.5 0.1l0.5 0.2l0.5 0.1l0.5 0.2l0.5 0.1l0.4 0.2l0.5 0.1l0.5 0.1l0.5 0.1l0.5 0.2l0.5 0.1l0.5 0.1l0.4 0.1l0.5 0.1l0.5 0.1l0.5 0.1l0.5 0.1l0.5 0l0.4 0.1l0.5 0.1l0.5 0.1l0.5 0l0.5 0.1l0.5 0.1l0.4 0l0.5 0.1l0.5 0l0.5 0.1l0.5 0l0.5 0.1l0.4 0l0.5 0.1l0.5 0l0.5 0.1l0.5 0l0.5 0l0.4 0.1l0.5 0l0.5 0l0.5 0.1l0.5 0l0.5 0l0.4 0.1l0.5 0l0.5 0l0.5 0l0.5 0.1l0.5 0l0.4 0l0.5 0l0.5 0.1l0.5 0l0.5 0l0.5 0l0.5 0.1l0.4 0l0.5 0l0.5 0l0.5 0.1l0.5 0l0.5 0l0.4 0l0.5 0l0.5 0.1l0.5 0l0.5 0l0.5 0l0.4 0l0.5 0.1l0.5 0l0.5 0l0.5 0l0.5 0l0.4 0.1l0.5 0l0.5 0l0.5 0l0.5 0l0.5 0.1l0.4 0l0.5 0l0.5 0l0.5 0l0.5 0.1l0.5 0l0.4 0l0.5 0l0.5 0l0.5 0l0.5 0.1l0.5 0l0.4 0l0.5 0l0.5 0l0.5 0l0.5 0.1l0.5 0l0.5 0l0.4 0l0.5 0l0.5 0l0.5 0.1l0.5 0l0.5 0l0.4 0l0.5 0l0.5 0l0.5 0l0.5 0.1l0.5 0l0.4 0l0.5 0l0.5 0l0.5 0l0.5 0l0.5 0l0.4 0.1l0.5 0l0.5 0l0.5 0l0.5 0l0.5 0l0.4 0l0.5 0l0.5 0.1l0.5 0l0.5 0l0.5 0l0.4 0l0.5 0l0.5 0l0.5 0l0.5 0l0.5 0.1l0.4 0l0.5 0l0.5 0l0.5 0l0.5 0l0.5 0l0.4 0l0.5 0.1l0.5 0l0.5 0l0.5 0l0.5 0l0.5 0l0.4 0l0.5 0l0.5 0l0.5 0.1l0.5 0l0.5 0l0.4 0l0.5 0l0.5 0l0.5 0l0.5 0l0.5 0l0.4 0l0.5 0.1l0.5 0l0.5 0l0.5 0l0.5 0l0.4 0l0.5 0l0.5 0l0.5 0l0.5 0l0.5 0.1l0.4 0l0.5 0l0.5 0l0.5 0l0.5 0l0.5 0l0.4 0l0.5 0l0.5 0l0.5 0.1l0.5 0l0.5 0l0.4 0l0.5 0l0.5 0l0.5 0l0.5 0l0.5 0l0.5 0l0.4 0.1l0.5 0l0.5 0l0.5 0l0.5 0l0.5 0l0.4 0l0.5 0l0.5 0l0.5 0l0.5 0l0.5 0l0.4 0.1l0.5 0l0.5 0l0.5 0l0.5 0l0.5 0l0.4 0l0.5 0l0.5 0l0.5 0l0.5 0l0.5 0l0.4 0.1l0.5 0l0.5 0l0.5 0l0.5 0l0.5 0l0.4 0l0.5 0l0.5 0l0.5 0l0.5 0l0.5 0l0.4 0l0.5 0.1l0.5 0l0.5 0" fill="none" stroke="#35c060" stroke-width="1.3" stroke-linejoin="round" />
<path d="M483.5 85.4l0.5 0l0.5 0l0.5 0l0.4 0l0.5 0l0.5 0l0.5 0l0.5 0l0.5 0l0.4 0l0.5 0l0.5 0l0.5 0l0.5 0l0.5 0l0.4 0l0.5 0l0.5 0l0.5 0l0.5 0l0.5 0l0.4 0l0.5 0l0.5 0l0.5 0l0.5 0l0.5 0l0.4 0l0.5 0l0.5 0l0.5 0l0.5 0l0.5 0l0.4 0l0.5 0l0.5 0l0.5 0l0.5 0l0.5 0l0.4 0l0.5 0l0.5 0l0.5 0l0.5 0l0.5 0l0.5 0l0.4 0l0.5 0l0.5 0l0.5 0l0.5 0l0.5 0l0.4 0l0.5 0l0.5 0l0.5 0l0.5 0l0.5 0l0.4 0l0.5 0l0.5 0l0.5 0l0.5 0l0.5 0l0.4 0l0.5 0l0.5 0l0.5 0l0.5 0l0.5 0l0.4 0l0.5 0l0.5 -0.1l0.5 0l0.5 0l0.5 0l0.4 0l0.5 0l0.5 0l0.5 0l0.5 0l0.5 0l0.4 0l0.5 0l0.5 0l0.5 0l0.5 0l0.5 0l0.5 0l0.4 0l0.5 0l0.5 0l0.5 0l0.5 0l0.5 0l0.4 0l0.5 0l0.5 0l0.5 0l0.5 -0.1l0.5 0l0.4 0l0.5 0l0.5 0l0.5 0l0.5 0l0.5 0l0.4 0l0.5 0l0.5 -0.1l0.5 0l0.5 0l0.5 0l0.4 0l0.5 0l0.5 -0.1l0.5 0l0.5 0l0.5 0l0.4 -0.1l0.5 0l0.5 0l0.5 -0.1l0.5 0l0.5 0l0.4 -0.1l0.5 0l0.5 -0.1l0.5 0l0.5 -0.1l0.5 0l0.4 -0.1l0.5 -0.1l0.5 0l0.5 -0.1l0.5 -0.1l0.5 -0.1l0.5 -0.1l0.4 -0.1l0.5 -0.1l0.5 -0.1l0.5 -0.2l0.5 -0.1l0.5 -0.1l0.4 -0.2l0.5 -0.2l0.5 -0.1l0.5 -0.2l0.5 -0.2l0.5 -0.2l0.4 -0.3l0.5 -0.2l0.5 -0.2l0.5 -0.3l0.5 -0.3l0.5 -0.3l0.4 -0.3l0.5 -0.3l0.5 -0.3l0.5 -0.4l0.5 -0.3l0.5 -0.4l0.4 -0.4l0.5 -0.4l0.5 -0.4l0.5 -0.5l0.5 -0.4l0.5 -0.5l0.4 -0.5l0.5 -0.5l0.5 -0.5l0.5 -0.5l0.5 -0.5l0.5 -0.6l0.4 -0.5l0.5 -0.6l0.5 -0.5l0.5 -0.6l0.5 -0.6l0.5 -0.6l0.5 -0.6l0.4 -0.6l0.5 -0.6l0.5 -0.5l0.5 -0.6l0.5 -0.6l0.5 -0.6l0.4 -0.5l0.5 -0.6l0.5 -0.5l0.5 -0.5l0.5 -0.5l0.5 -0.5l0.4 -0.5l0.5 -0.4l0.5 -0.4l0.5 -0.3l0.5 -0.4l0.5 -0.2l0.4 -0.3l0.5 -0.2l0.5 -0.2l0.5 -0.1l0.5 -0.1l0.5 0l0.4 0l0.5 0.1l0.5 0.1l0.5 0.1l0.5 0.2l0.5 0.3l0.4 0.3l0.5 0.3l0.5 0.3l0.5 0.4l0.5 0.5l0.5 0.4l0.4 0.5l0.5 0.5l0.5 0.5l0.5 0.6l0.5 0.5l0.5 0.6l0.5 0.6l0.4 0.6l0.5 0.6l0.5 0.6l0.5 0.7l0.5 0.6l0.5 0.6l0.4 0.6l0.5 0.6l0.5 0.7l0.5 0.6l0.5 0.6l0.5 0.5l0.4 0.6l0.5 0.6l0.5 0.6l0.5 0.5l0.5 0.5l0.5 0.6l0.4 0.5l0.5 0.5l0.5 0.4l0.5 0.5l0.5 0.4l0.5 0.5l0.4 0.4l0.5 0.4l0.5 0.4l0.5 0.4l0.5 0.3l0.5 0.4l0.4 0.3l0.5 0.3l0.5 0.3l0.5 0.3l0.5 0.2l0.5 0.3l0.4 0.3l0.5 0.2l0.5 0.2l0.5 0.2l0.5 0.2l0.5 0.2l0.5 0.2l0.4 0.1l0.5 0.2l0.5 0.2l0.5 0.1l0.5 0.1l0.5 0.2l0.4 0.1l0.5 0.1l0.5 0.1l0.5 0.1l0.5 0.1l0.5 0.1l0.4 0.1l0.5 0l0.5 0.1l0.5 0.1l0.5 0.1l0.5 0l0.4 0.1l0.5 0l0.5 0.1l0.5 0.1l0.5 0l0.5 0.1l0.4 0l0.5 0l0.5 0.1l0.5 0l0.5 0.1l0.5 0l0.4 0l0.5 0.1l0.5 0l0.5 0l0.5 0.1l0.5 0l0.4 0l0.5 0.1l0.5 0l0.5 0l0.5 0l0.5 0.1l0.4 0l0.5 0l0.5 0l0.5 0.1l0.5 0l0.5 0l0.5 0l0.4 0.1l0.5 0l0.5 0l0.5 0l0.5 0.1l0.5 0l0.4 0l0.5 0l0.5 0l0.5 0.1l0.5 0l0.5 0l0.4 0l0.5 0l0.5 0.1l0.5 0l0.5 0l0.5 0l0.4 0l0.5 0l0.5 0.1l0.5 0l0.5 0l0.5 0l0.4 0l0.5 0l0.5 0.1l0.5 0l0.5 0l0.5 0l0.4 0l0.5 0l0.5 0.1l0.5 0l0.5 0l0.5 0l0.4 0l0.5 0l0.5 0l0.5 0.1l0.5 0l0.5 0l0.5 0l0.4 0l0.5 0l0.5 0l0.5 0l0.5 0.1l0.5 0l0.4 0l0.5 0l0.5 0l0.5 0l0.5 0l0.5 0.1l0.4 0l0.5 0l0.5 0l0.5 0l0.5 0l0.5 0l0.4 0l0.5 0l0.5 0.1l0.5 0l0.5 0l0.5 0l0.4 0l0.5 0l0.5 0l0.5 0l0.5 0l0.5 0.1l0.4 0l0.5 0l0.5 0l0.5 0l0.5 0l0.5 0l0.4 0l0.5 0l0.5 0l0.5 0.1" fill="none" stroke="#e8231d" stroke-width="1.3" stroke-linejoin="round" />
<path d="M483.5 85.5l0.5 0l0.5 0l0.5 0l0.4 0l0.5 0l0.5 0l0.5 0l0.5 0l0.5 0l0.4 0l0.5 0l0.5 0l0.5 0l0.5 0l0.5 0l0.4 0l0.5 0l0.5 0l0.5 0l0.5 0l0.5 0l0.4 0l0.5 0l0.5 0l0.5 0l0.5 0l0.5 0l0.4 0l0.5 0l0.5 0l0.5 0l0.5 0l0.5 0l0.4 0l0.5 0l0.5 0l0.5 0l0.5 0l0.5 0l0.4 0l0.5 0l0.5 0l0.5 0l0.5 0l0.5 0l0.5 0.1l0.4 0l0.5 0l0.5 0l0.5 0l0.5 0l0.5 0l0.4 0l0.5 0l0.5 0l0.5 0l0.5 0l0.5 0l0.4 0l0.5 0l0.5 0l0.5 0l0.5 0l0.5 0l0.4 0l0.5 0l0.5 0l0.5 0l0.5 0l0.5 0l0.4 0l0.5 0l0.5 0l0.5 0l0.5 0.1l0.5 0l0.4 0l0.5 0l0.5 0l0.5 0l0.5 0l0.5 0l0.4 0l0.5 0l0.5 0l0.5 0l0.5 0l0.5 0l0.5 0l0.4 0l0.5 0l0.5 0l0.5 0l0.5 0l0.5 0l0.4 0l0.5 0l0.5 0l0.5 0l0.5 0l0.5 0.1l0.4 0l0.5 0l0.5 0l0.5 0l0.5 0l0.5 0l0.4 0l0.5 0l0.5 0l0.5 0l0.5 0l0.5 0l0.4 0l0.5 0l0.5 0l0.5 0l0.5 0l0.5 0l0.4 0l0.5 0l0.5 0l0.5 0l0.5 0l0.5 0l0.4 0l0.5 0l0.5 0l0.5 0l0.5 0l0.5 0l0.4 0l0.5 0l0.5 0.1l0.5 0l0.5 0l0.5 0l0.5 0l0.4 0l0.5 0l0.5 0l0.5 0l0.5 0l0.5 0l0.4 0l0.5 0l0.5 0l0.5 0l0.5 0l0.5 0l0.4 0l0.5 0l0.5 0l0.5 0l0.5 0l0.5 -0.1l0.4 0l0.5 0l0.5 0l0.5 0l0.5 0l0.5 0l0.4 0l0.5 0l0.5 0l0.5 0l0.5 0l0.5 0l0.4 0l0.5 0l0.5 0l0.5 -0.1l0.5 0l0.5 0l0.4 0l0.5 0l0.5 0l0.5 -0.1l0.5 0l0.5 0l0.5 0l0.4 -0.1l0.5 0l0.5 0l0.5 -0.1l0.5 0l0.5 -0.1l0.4 -0.1l0.5 0l0.5 -0.1l0.5 -0.1l0.5 -0.1l0.5 -0.1l0.4 -0.1l0.5 -0.1l0.5 -0.1l0.5 -0.1l0.5 -0.2l0.5 -0.1l0.4 -0.2l0.5 -0.2l0.5 -0.2l0.5 -0.2l0.5 -0.3l0.5 -0.2l0.4 -0.3l0.5 -0.3l0.5 -0.3l0.5 -0.4l0.5 -0.4l0.5 -0.4l0.4 -0.4l0.5 -0.4l0.5 -0.5l0.5 -0.5l0.5 -0.5l0.5 -0.6l0.4 -0.6l0.5 -0.6l0.5 -0.7l0.5 -0.7l0.5 -0.8l0.5 -0.7l0.5 -0.8l0.4 -0.9l0.5 -0.9l0.5 -0.9l0.5 -0.9l0.5 -1l0.5 -1l0.4 -1.1l0.5 -1l0.5 -1.1l0.5 -1.2l0.5 -1.2l0.5 -1.1l0.4 -1.3l0.5 -1.2l0.5 -1.3l0.5 -1.2l0.5 -1.3l0.5 -1.3l0.4 -1.3l0.5 -1.3l0.5 -1.3l0.5 -1.3l0.5 -1.3l0.5 -1.3l0.4 -1.3l0.5 -1.2l0.5 -1.3l0.5 -1.2l0.5 -1.1l0.5 -1.1l0.4 -1.1l0.5 -1.1l0.5 -0.9l0.5 -1l0.5 -0.8l0.5 -0.8l0.4 -0.7l0.5 -0.7l0.5 -0.6l0.5 -0.5l0.5 -0.4l0.5 -0.3l0.5 -0.3l0.4 -0.1l0.5 -0.1l0.5 0.1l0.5 0.1l0.5 0.2l0.5 0.3l0.4 0.4l0.5 0.4l0.5 0.6l0.5 0.6l0.5 0.7l0.5 0.8l0.4 0.9l0.5 0.9l0.5 0.9l0.5 1.1l0.5 1l0.5 1.2l0.4 1.1l0.5 1.2l0.5 1.3l0.5 1.2l0.5 1.3l0.5 1.3l0.4 1.3l0.5 1.4l0.5 1.3l0.5 1.3l0.5 1.4l0.5 1.3l0.4 1.3l0.5 1.3l0.5 1.3l0.5 1.3l0.5 1.3l0.5 1.2l0.4 1.2l0.5 1.2l0.5 1.1l0.5 1.2l0.5 1.1l0.5 1l0.4 1.1l0.5 1l0.5 0.9l0.5 1l0.5 0.8l0.5 0.9l0.5 0.8l0.4 0.8l0.5 0.8l0.5 0.7l0.5 0.7l0.5 0.6l0.5 0.6l0.4 0.6l0.5 0.6l0.5 0.5l0.5 0.5l0.5 0.4l0.5 0.5l0.4 0.4l0.5 0.4l0.5 0.4l0.5 0.3l0.5 0.3l0.5 0.3l0.4 0.3l0.5 0.2l0.5 0.3l0.5 0.2l0.5 0.2l0.5 0.2l0.4 0.2l0.5 0.2l0.5 0.1l0.5 0.2l0.5 0.1l0.5 0.1l0.4 0.2l0.5 0.1l0.5 0.1l0.5 0.1l0.5 0l0.5 0.1l0.4 0.1l0.5 0.1l0.5 0l0.5 0.1l0.5 0.1l0.5 0l0.5 0.1l0.4 0l0.5 0.1l0.5 0l0.5 0l0.5 0.1l0.5 0l0.4 0l0.5 0.1l0.5 0l0.5 0l0.5 0.1l0.5 0l0.4 0l0.5 0l0.5 0.1l0.5 0l0.5 0l0.5 0l0.4 0.1l0.5 0l0.5 0l0.5 0l0.5 0l0.5 0.1l0.4 0l0.5 0l0.5 0l0.5 0l0.5 0l0.5 0.1l0.4 0l0.5 0l0.5 0l0.5 0l0.5 0l0.5 0.1l0.4 0l0.5 0l0.5 0l0.5 0" fill="none" stroke="#f7b500" stroke-width="1.3" stroke-linejoin="round" />
<path d="M483.5 85.1l0.5 0l0.5 0l0.5 0l0.4 0l0.5 0l0.5 0l0.5 0l0.5 0l0.5 0l0.4 0l0.5 0l0.5 0l0.5 0l0.5 0l0.5 0l0.4 0l0.5 0l0.5 0l0.5 0l0.5 0l0.5 0l0.4 0l0.5 0l0.5 0l0.5 -0.1l0.5 0l0.5 0l0.4 0l0.5 0l0.5 0l0.5 0l0.5 0l0.5 0l0.4 0l0.5 0l0.5 0l0.5 0l0.5 0l0.5 0l0.4 0l0.5 0l0.5 0l0.5 0l0.5 -0.1l0.5 0l0.5 0l0.4 0l0.5 0l0.5 0l0.5 0l0.5 0l0.5 0l0.4 0l0.5 -0.1l0.5 0l0.5 0l0.5 0l0.5 0l0.4 0l0.5 -0.1l0.5 0l0.5 0l0.5 0l0.5 0l0.4 -0.1l0.5 0l0.5 0l0.5 -0.1l0.5 0l0.5 0l0.4 -0.1l0.5 0l0.5 -0.1l0.5 0l0.5 -0.1l0.5 0l0.4 -0.1l0.5 0l0.5 -0.1l0.5 -0.1l0.5 0l0.5 -0.1l0.4 -0.1l0.5 -0.1l0.5 -0.1l0.5 -0.1l0.5 -0.1l0.5 -0.1l0.5 -0.1l0.4 -0.1l0.5 -0.1l0.5 -0.1l0.5 -0.2l0.5 -0.1l0.5 -0.2l0.4 -0.1l0.5 -0.2l0.5 -0.1l0.5 -0.2l0.5 -0.1l0.5 -0.2l0.4 -0.2l0.5 -0.2l0.5 -0.1l0.5 -0.2l0.5 -0.2l0.5 -0.2l0.4 -0.2l0.5 -0.2l0.5 -0.2l0.5 -0.2l0.5 -0.2l0.5 -0.2l0.4 -0.2l0.5 -0.2l0.5 -0.2l0.5 -0.2l0.5 -0.2l0.5 -0.2l0.4 -0.2l0.5 -0.1l0.5 -0.2l0.5 -0.2l0.5 -0.2l0.5 -0.1l0.4 -0.2l0.5 -0.1l0.5 -0.2l0.5 -0.1l0.5 -0.1l0.5 -0.1l0.4 -0.1l0.5 -0.1l0.5 -0.1l0.5 -0.1l0.5 0l0.5 -0.1l0.5 0l0.4 -0.1l0.5 0l0.5 -0.1l0.5 0l0.5 0l0.5 -0.1l0.4 0l0.5 0l0.5 -0.1l0.5 0l0.5 -0.1l0.5 0l0.4 -0.1l0.5 -0.1l0.5 0l0.5 -0.1l0.5 -0.1l0.5 -0.2l0.4 -0.1l0.5 -0.1l0.5 -0.2l0.5 -0.2l0.5 -0.2l0.5 -0.2l0.4 -0.2l0.5 -0.3l0.5 -0.3l0.5 -0.2l0.5 -0.4l0.5 -0.3l0.4 -0.3l0.5 -0.4l0.5 -0.4l0.5 -0.4l0.5 -0.4l0.5 -0.4l0.4 -0.5l0.5 -0.5l0.5 -0.5l0.5 -0.5l0.5 -0.5l0.5 -0.5l0.5 -0.5l0.4 -0.6l0.5 -0.5l0.5 -0.6l0.5 -0.6l0.5 -0.5l0.5 -0.6l0.4 -0.6l0.5 -0.5l0.5 -0.6l0.5 -0.6l0.5 -0.5l0.5 -0.5l0.4 -0.6l0.5 -0.5l0.5 -0.5l0.5 -0.4l0.5 -0.5l0.5 -0.4l0.4 -0.4l0.5 -0.4l0.5 -0.4l0.5 -0.3l0.5 -0.3l0.5 -0.3l0.4 -0.3l0.5 -0.2l0.5 -0.2l0.5 -0.2l0.5 -0.2l0.5 -0.1l0.4 -0.2l0.5 -0.1l0.5 -0.1l0.5 -0.2l0.5 -0.1l0.5 -0.1l0.4 -0.1l0.5 -0.2l0.5 -0.1l0.5 -0.2l0.5 -0.1l0.5 -0.2l0.5 -0.3l0.4 -0.2l0.5 -0.3l0.5 -0.3l0.5 -0.4l0.5 -0.3l0.5 -0.4l0.4 -0.5l0.5 -0.5l0.5 -0.5l0.5 -0.5l0.5 -0.6l0.5 -0.6l0.4 -0.7l0.5 -0.6l0.5 -0.8l0.5 -0.7l0.5 -0.8l0.5 -0.8l0.4 -0.8l0.5 -0.8l0.5 -0.8l0.5 -0.9l0.5 -0.9l0.5 -0.8l0.4 -0.9l0.5 -0.8l0.5 -0.9l0.5 -0.8l0.5 -0.9l0.5 -0.7l0.4 -0.8l0.5 -0.7l0.5 -0.7l0.5 -0.7l0.5 -0.6l0.5 -0.5l0.4 -0.5l0.5 -0.5l0.5 -0.3l0.5 -0.3l0.5 -0.3l0.5 -0.1l0.5 -0.1l0.4 0l0.5 0.1l0.5 0.2l0.5 0.2l0.5 0.3l0.5 0.5l0.4 0.5l0.5 0.5l0.5 0.7l0.5 0.7l0.5 0.8l0.5 0.8l0.4 1l0.5 0.9l0.5 1.1l0.5 1.1l0.5 1.1l0.5 1.2l0.4 1.2l0.5 1.2l0.5 1.3l0.5 1.3l0.5 1.3l0.5 1.4l0.4 1.3l0.5 1.4l0.5 1.4l0.5 1.3l0.5 1.4l0.5 1.3l0.4 1.4l0.5 1.3l0.5 1.3l0.5 1.3l0.5 1.3l0.5 1.3l0.4 1.2l0.5 1.2l0.5 1.2l0.5 1.1l0.5 1.2l0.5 1l0.4 1.1l0.5 1l0.5 1l0.5 0.9l0.5 0.9l0.5 0.9l0.5 0.8l0.4 0.8l0.5 0.8l0.5 0.7l0.5 0.7l0.5 0.7l0.5 0.6l0.4 0.6l0.5 0.6l0.5 0.5l0.5 0.5l0.5 0.5l0.5 0.4l0.4 0.5l0.5 0.4l0.5 0.3l0.5 0.4l0.5 0.3l0.5 0.3l0.4 0.3l0.5 0.3l0.5 0.2l0.5 0.3l0.5 0.2l0.5 0.2l0.4 0.2l0.5 0.1l0.5 0.2l0.5 0.2l0.5 0.1l0.5 0.1l0.4 0.2l0.5 0.1l0.5 0.1l0.5 0.1l0.5 0.1l0.5 0.1l0.4 0l0.5 0.1l0.5 0.1l0.5 0.1l0.5 0l0.5 0.1l0.5 0l0.4 0.1l0.5 0l0.5 0.1l0.5 0l0.5 0.1l0.5 0l0.4 0l0.5 0.1l0.5 0l0.5 0.1l0.5 0l0.5 0l0.4 0l0.5 0.1l0.5 0l0.5 0l0.5 0.1l0.5 0l0.4 0l0.5 0l0.5 0.1l0.5 0l0.5 0l0.5 0l0.4 0l0.5 0.1l0.5 0l0.5 0l0.5 0l0.5 0.1l0.4 0l0.5 0l0.5 0l0.5 0l0.5 0l0.5 0.1l0.4 0l0.5 0l0.5 0l0.5 0" fill="none" stroke="#2f5e94" stroke-width="1.6" stroke-linejoin="round" />
<g fill="#a6b2d8" fill-opacity="0.85">
<circle cx="490.7" cy="155.1" r="2.1"/>
<circle cx="498" cy="157.2" r="2.1"/>
<circle cx="505.2" cy="156.8" r="2.1"/>
<circle cx="512.4" cy="157.1" r="2.1"/>
<circle cx="519.7" cy="157.9" r="2.1"/>
<circle cx="526.9" cy="156.9" r="2.1"/>
<circle cx="534.2" cy="153.1" r="2.1"/>
<circle cx="541.4" cy="150.3" r="2.1"/>
<circle cx="548.6" cy="150" r="2.1"/>
<circle cx="555.9" cy="145.9" r="2.1"/>
<circle cx="563.1" cy="146.3" r="2.1"/>
<circle cx="570.3" cy="146.5" r="2.1"/>
<circle cx="577.6" cy="140.3" r="2.1"/>
<circle cx="584.8" cy="132.8" r="2.1"/>
<circle cx="592.1" cy="127.9" r="2.1"/>
<circle cx="599.3" cy="122.6" r="2.1"/>
<circle cx="606.5" cy="115.2" r="2.1"/>
<circle cx="613.8" cy="107" r="2.1"/>
<circle cx="621" cy="106.1" r="2.1"/>
<circle cx="628.2" cy="118.4" r="2.1"/>
<circle cx="635.5" cy="136.7" r="2.1"/>
<circle cx="642.7" cy="148.1" r="2.1"/>
<circle cx="650" cy="153.4" r="2.1"/>
<circle cx="657.2" cy="157.9" r="2.1"/>
<circle cx="664.4" cy="158.2" r="2.1"/>
<circle cx="671.7" cy="159.1" r="2.1"/>
</g>
<path d="M483.5 157.9l0.5 0l0.5 0l0.5 0l0.4 0l0.5 0l0.5 0l0.5 0l0.5 0l0.5 0l0.4 0l0.5 0l0.5 0l0.5 0l0.5 0l0.5 0l0.4 0l0.5 0l0.5 0l0.5 0l0.5 0l0.5 0l0.4 0l0.5 0l0.5 0l0.5 0l0.5 0l0.5 0l0.4 0l0.5 0l0.5 0l0.5 0l0.5 0l0.5 0l0.4 0l0.5 0l0.5 0l0.5 0l0.5 0l0.5 0l0.4 0l0.5 0l0.5 0l0.5 0l0.5 0l0.5 0l0.5 0l0.4 0l0.5 0l0.5 0l0.5 0l0.5 0l0.5 0l0.4 0l0.5 0l0.5 0l0.5 0l0.5 0l0.5 0l0.4 0l0.5 0l0.5 -0.1l0.5 0l0.5 0l0.5 0l0.4 0l0.5 0l0.5 0l0.5 0l0.5 0l0.5 0l0.4 0l0.5 0l0.5 -0.1l0.5 0l0.5 0l0.5 0l0.4 0l0.5 0l0.5 -0.1l0.5 0l0.5 0l0.5 0l0.4 -0.1l0.5 0l0.5 0l0.5 -0.1l0.5 0l0.5 0l0.5 -0.1l0.4 0l0.5 -0.1l0.5 0l0.5 -0.1l0.5 0l0.5 -0.1l0.4 -0.1l0.5 0l0.5 -0.1l0.5 -0.1l0.5 0l0.5 -0.1l0.4 -0.1l0.5 -0.1l0.5 -0.1l0.5 -0.1l0.5 -0.1l0.5 -0.1l0.4 -0.1l0.5 -0.1l0.5 -0.2l0.5 -0.1l0.5 -0.1l0.5 -0.2l0.4 -0.1l0.5 -0.1l0.5 -0.2l0.5 -0.1l0.5 -0.2l0.5 -0.2l0.4 -0.1l0.5 -0.2l0.5 -0.1l0.5 -0.2l0.5 -0.2l0.5 -0.1l0.4 -0.2l0.5 -0.2l0.5 -0.2l0.5 -0.1l0.5 -0.2l0.5 -0.2l0.4 -0.1l0.5 -0.2l0.5 -0.2l0.5 -0.1l0.5 -0.2l0.5 -0.1l0.5 -0.2l0.4 -0.1l0.5 -0.2l0.5 -0.1l0.5 -0.1l0.5 -0.1l0.5 -0.1l0.4 -0.1l0.5 -0.1l0.5 -0.1l0.5 0l0.5 -0.1l0.5 0l0.4 0l0.5 0l0.5 0l0.5 0l0.5 0l0.5 0.1l0.4 0l0.5 0.1l0.5 0.1l0.5 0l0.5 0.1l0.5 0.2l0.4 0.1l0.5 0.1l0.5 0.1l0.5 0.2l0.5 0.1l0.5 0.2l0.4 0.1l0.5 0.2l0.5 0.2l0.5 0.2l0.5 0.1l0.5 0.2l0.4 0.2l0.5 0.2l0.5 0.2l0.5 0.1l0.5 0.2l0.5 0.2l0.5 0.2l0.4 0.2l0.5 0.2l0.5 0.1l0.5 0.2l0.5 0.2l0.5 0.1l0.4 0.2l0.5 0.2l0.5 0.1l0.5 0.2l0.5 0.1l0.5 0.2l0.4 0.1l0.5 0.2l0.5 0.1l0.5 0.1l0.5 0.2l0.5 0.1l0.4 0.1l0.5 0.1l0.5 0.1l0.5 0.1l0.5 0.1l0.5 0.1l0.4 0.1l0.5 0.1l0.5 0.1l0.5 0.1l0.5 0.1l0.5 0l0.4 0.1l0.5 0.1l0.5 0l0.5 0.1l0.5 0l0.5 0.1l0.4 0.1l0.5 0l0.5 0.1l0.5 0l0.5 0l0.5 0.1l0.5 0l0.4 0.1l0.5 0l0.5 0l0.5 0.1l0.5 0l0.5 0l0.4 0l0.5 0.1l0.5 0l0.5 0l0.5 0l0.5 0.1l0.4 0l0.5 0l0.5 0l0.5 0.1l0.5 0l0.5 0l0.4 0l0.5 0l0.5 0l0.5 0.1l0.5 0l0.5 0l0.4 0l0.5 0l0.5 0l0.5 0.1l0.5 0l0.5 0l0.4 0l0.5 0l0.5 0l0.5 0l0.5 0.1l0.5 0l0.4 0l0.5 0l0.5 0l0.5 0l0.5 0l0.5 0.1l0.5 0l0.4 0l0.5 0l0.5 0l0.5 0l0.5 0l0.5 0l0.4 0.1l0.5 0l0.5 0l0.5 0l0.5 0l0.5 0l0.4 0l0.5 0l0.5 0l0.5 0.1l0.5 0l0.5 0l0.4 0l0.5 0l0.5 0l0.5 0l0.5 0l0.5 0.1l0.4 0l0.5 0l0.5 0l0.5 0l0.5 0l0.5 0l0.4 0l0.5 0l0.5 0.1l0.5 0l0.5 0l0.5 0l0.4 0l0.5 0l0.5 0l0.5 0l0.5 0.1l0.5 0l0.4 0l0.5 0l0.5 0l0.5 0l0.5 0l0.5 0l0.5 0.1l0.4 0l0.5 0l0.5 0l0.5 0l0.5 0l0.5 0l0.4 0l0.5 0.1l0.5 0l0.5 0l0.5 0l0.5 0l0.4 0l0.5 0l0.5 0l0.5 0.1l0.5 0l0.5 0l0.4 0l0.5 0l0.5 0l0.5 0l0.5 0l0.5 0.1l0.4 0l0.5 0l0.5 0l0.5 0l0.5 0l0.5 0l0.4 0l0.5 0.1l0.5 0l0.5 0l0.5 0l0.5 0l0.4 0l0.5 0l0.5 0.1l0.5 0l0.5 0l0.5 0l0.5 0l0.4 0l0.5 0l0.5 0l0.5 0.1l0.5 0l0.5 0l0.4 0l0.5 0l0.5 0l0.5 0l0.5 0.1l0.5 0l0.4 0l0.5 0l0.5 0l0.5 0l0.5 0l0.5 0l0.4 0.1l0.5 0l0.5 0l0.5 0l0.5 0l0.5 0l0.4 0l0.5 0.1l0.5 0l0.5 0l0.5 0l0.5 0l0.4 0l0.5 0l0.5 0.1l0.5 0l0.5 0l0.5 0l0.4 0l0.5 0l0.5 0l0.5 0.1" fill="none" stroke="#35c060" stroke-width="1.3" stroke-linejoin="round" />
<path d="M483.5 157.8l0.5 0l0.5 0l0.5 0l0.4 0l0.5 0l0.5 0l0.5 0l0.5 0l0.5 0l0.4 0l0.5 0l0.5 0l0.5 0l0.5 0l0.5 0l0.4 0l0.5 0l0.5 0l0.5 0l0.5 0l0.5 0l0.4 0l0.5 0l0.5 0l0.5 0l0.5 0l0.5 0l0.4 0l0.5 0l0.5 0l0.5 0l0.5 0l0.5 0l0.4 0l0.5 0l0.5 0l0.5 0l0.5 0l0.5 0l0.4 0l0.5 0l0.5 0l0.5 0l0.5 0l0.5 0l0.5 0l0.4 0l0.5 0l0.5 0l0.5 0l0.5 0l0.5 0l0.4 0l0.5 0l0.5 0l0.5 0l0.5 0l0.5 0l0.4 0l0.5 0l0.5 0l0.5 0l0.5 0l0.5 0l0.4 0l0.5 0l0.5 0l0.5 0l0.5 0l0.5 0l0.4 0l0.5 0l0.5 0l0.5 0l0.5 0l0.5 0l0.4 0l0.5 0l0.5 0l0.5 0l0.5 0l0.5 0l0.4 0l0.5 0l0.5 0l0.5 0l0.5 0l0.5 0l0.5 0l0.4 0l0.5 0l0.5 0l0.5 0l0.5 0l0.5 0l0.4 0l0.5 0l0.5 0l0.5 0l0.5 0l0.5 0l0.4 0l0.5 -0.1l0.5 0l0.5 0l0.5 0l0.5 0l0.4 0l0.5 0l0.5 0l0.5 0l0.5 0l0.5 0l0.4 0l0.5 0l0.5 0l0.5 0l0.5 0l0.5 -0.1l0.4 0l0.5 0l0.5 0l0.5 0l0.5 0l0.5 0l0.4 0l0.5 0l0.5 -0.1l0.5 0l0.5 0l0.5 0l0.4 0l0.5 0l0.5 0l0.5 -0.1l0.5 0l0.5 0l0.5 0l0.4 -0.1l0.5 0l0.5 0l0.5 0l0.5 -0.1l0.5 0l0.4 0l0.5 -0.1l0.5 0l0.5 -0.1l0.5 0l0.5 -0.1l0.4 0l0.5 -0.1l0.5 0l0.5 -0.1l0.5 -0.1l0.5 0l0.4 -0.1l0.5 -0.1l0.5 -0.1l0.5 -0.1l0.5 -0.1l0.5 -0.1l0.4 -0.1l0.5 -0.1l0.5 -0.2l0.5 -0.1l0.5 -0.2l0.5 -0.1l0.4 -0.2l0.5 -0.2l0.5 -0.1l0.5 -0.2l0.5 -0.2l0.5 -0.3l0.4 -0.2l0.5 -0.2l0.5 -0.3l0.5 -0.2l0.5 -0.3l0.5 -0.3l0.5 -0.3l0.4 -0.3l0.5 -0.3l0.5 -0.4l0.5 -0.3l0.5 -0.4l0.5 -0.4l0.4 -0.3l0.5 -0.4l0.5 -0.5l0.5 -0.4l0.5 -0.4l0.5 -0.5l0.4 -0.4l0.5 -0.5l0.5 -0.5l0.5 -0.4l0.5 -0.5l0.5 -0.5l0.4 -0.5l0.5 -0.5l0.5 -0.5l0.5 -0.5l0.5 -0.5l0.5 -0.5l0.4 -0.5l0.5 -0.5l0.5 -0.5l0.5 -0.5l0.5 -0.5l0.5 -0.4l0.4 -0.5l0.5 -0.4l0.5 -0.4l0.5 -0.4l0.5 -0.3l0.5 -0.4l0.4 -0.3l0.5 -0.2l0.5 -0.3l0.5 -0.2l0.5 -0.1l0.5 -0.2l0.5 -0.1l0.4 0l0.5 0l0.5 0l0.5 0.1l0.5 0.1l0.5 0.1l0.4 0.2l0.5 0.3l0.5 0.2l0.5 0.3l0.5 0.3l0.5 0.4l0.4 0.4l0.5 0.4l0.5 0.4l0.5 0.4l0.5 0.5l0.5 0.5l0.4 0.4l0.5 0.5l0.5 0.6l0.5 0.5l0.5 0.5l0.5 0.5l0.4 0.5l0.5 0.6l0.5 0.5l0.5 0.5l0.5 0.5l0.5 0.5l0.4 0.5l0.5 0.5l0.5 0.5l0.5 0.5l0.5 0.5l0.5 0.4l0.4 0.5l0.5 0.4l0.5 0.4l0.5 0.5l0.5 0.4l0.5 0.3l0.5 0.4l0.4 0.4l0.5 0.3l0.5 0.4l0.5 0.3l0.5 0.3l0.5 0.3l0.4 0.3l0.5 0.3l0.5 0.2l0.5 0.3l0.5 0.2l0.5 0.3l0.4 0.2l0.5 0.2l0.5 0.2l0.5 0.2l0.5 0.2l0.5 0.1l0.4 0.2l0.5 0.2l0.5 0.1l0.5 0.1l0.5 0.2l0.5 0.1l0.4 0.1l0.5 0.1l0.5 0.1l0.5 0.1l0.5 0.1l0.5 0.1l0.4 0.1l0.5 0.1l0.5 0l0.5 0.1l0.5 0.1l0.5 0.1l0.4 0l0.5 0.1l0.5 0l0.5 0.1l0.5 0l0.5 0.1l0.4 0l0.5 0.1l0.5 0l0.5 0.1l0.5 0l0.5 0l0.5 0.1l0.4 0l0.5 0.1l0.5 0l0.5 0l0.5 0.1l0.5 0l0.4 0l0.5 0l0.5 0.1l0.5 0l0.5 0l0.5 0.1l0.4 0l0.5 0l0.5 0l0.5 0.1l0.5 0l0.5 0l0.4 0l0.5 0.1l0.5 0l0.5 0l0.5 0l0.5 0.1l0.4 0l0.5 0l0.5 0l0.5 0.1l0.5 0l0.5 0l0.4 0l0.5 0l0.5 0.1l0.5 0l0.5 0l0.5 0l0.4 0l0.5 0.1l0.5 0l0.5 0l0.5 0l0.5 0l0.5 0.1l0.4 0l0.5 0l0.5 0l0.5 0l0.5 0.1l0.5 0l0.4 0l0.5 0l0.5 0l0.5 0.1l0.5 0l0.5 0l0.4 0l0.5 0l0.5 0.1l0.5 0l0.5 0l0.5 0l0.4 0l0.5 0l0.5 0.1l0.5 0l0.5 0l0.5 0l0.4 0l0.5 0.1l0.5 0l0.5 0l0.5 0l0.5 0l0.4 0l0.5 0.1l0.5 0l0.5 0l0.5 0l0.5 0l0.4 0l0.5 0.1l0.5 0l0.5 0" fill="none" stroke="#e8231d" stroke-width="1.3" stroke-linejoin="round" />
<path d="M483.5 157.9l0.5 0l0.5 0l0.5 0l0.4 0l0.5 0l0.5 0l0.5 0l0.5 0l0.5 0l0.4 0l0.5 0l0.5 0l0.5 0l0.5 0l0.5 0l0.4 0l0.5 0l0.5 0l0.5 0l0.5 0l0.5 0l0.4 0l0.5 0l0.5 0l0.5 0l0.5 0l0.5 0l0.4 0.1l0.5 0l0.5 0l0.5 0l0.5 0l0.5 0l0.4 0l0.5 0l0.5 0l0.5 0l0.5 0l0.5 0l0.4 0l0.5 0l0.5 0l0.5 0l0.5 0l0.5 0l0.5 0l0.4 0l0.5 0l0.5 0l0.5 0l0.5 0l0.5 0l0.4 0l0.5 0l0.5 0l0.5 0l0.5 0l0.5 0l0.4 0l0.5 0l0.5 0l0.5 0l0.5 0l0.5 0l0.4 0l0.5 0l0.5 0l0.5 0l0.5 0l0.5 0l0.4 0l0.5 0l0.5 0l0.5 0l0.5 0.1l0.5 0l0.4 0l0.5 0l0.5 0l0.5 0l0.5 0l0.5 0l0.4 0l0.5 0l0.5 0l0.5 0l0.5 0l0.5 0l0.5 0l0.4 0l0.5 0l0.5 0l0.5 0l0.5 0l0.5 0l0.4 0l0.5 0l0.5 0l0.5 0l0.5 0l0.5 0l0.4 0l0.5 0l0.5 0l0.5 0l0.5 0l0.5 0l0.4 0l0.5 0l0.5 0l0.5 0l0.5 0l0.5 0l0.4 0l0.5 0l0.5 0l0.5 0l0.5 0.1l0.5 0l0.4 0l0.5 0l0.5 0l0.5 0l0.5 0l0.5 0l0.4 0l0.5 0l0.5 0l0.5 0l0.5 0l0.5 0l0.4 0l0.5 0l0.5 0l0.5 0l0.5 0l0.5 0l0.5 0l0.4 0l0.5 0l0.5 0l0.5 0l0.5 0l0.5 0l0.4 0l0.5 0l0.5 0l0.5 0l0.5 0l0.5 0l0.4 0l0.5 0l0.5 0l0.5 0l0.5 0l0.5 0l0.4 0l0.5 0l0.5 0l0.5 0l0.5 0l0.5 0l0.4 0l0.5 0l0.5 0l0.5 0l0.5 0l0.5 0l0.4 0l0.5 -0.1l0.5 0l0.5 0l0.5 0l0.5 0l0.4 0l0.5 0l0.5 0l0.5 0l0.5 0l0.5 0l0.5 0l0.4 0l0.5 0l0.5 0l0.5 -0.1l0.5 0l0.5 0l0.4 0l0.5 0l0.5 0l0.5 -0.1l0.5 0l0.5 0l0.4 0l0.5 -0.1l0.5 0l0.5 0l0.5 -0.1l0.5 0l0.4 -0.1l0.5 0l0.5 -0.1l0.5 -0.1l0.5 0l0.5 -0.1l0.4 -0.1l0.5 -0.1l0.5 -0.1l0.5 -0.1l0.5 -0.1l0.5 -0.2l0.4 -0.1l0.5 -0.1l0.5 -0.2l0.5 -0.2l0.5 -0.2l0.5 -0.2l0.4 -0.2l0.5 -0.3l0.5 -0.3l0.5 -0.2l0.5 -0.3l0.5 -0.4l0.5 -0.3l0.4 -0.4l0.5 -0.4l0.5 -0.4l0.5 -0.5l0.5 -0.4l0.5 -0.5l0.4 -0.6l0.5 -0.5l0.5 -0.6l0.5 -0.6l0.5 -0.7l0.5 -0.6l0.4 -0.8l0.5 -0.7l0.5 -0.8l0.5 -0.8l0.5 -0.8l0.5 -0.8l0.4 -0.9l0.5 -0.9l0.5 -1l0.5 -0.9l0.5 -1l0.5 -1l0.4 -1l0.5 -1.1l0.5 -1l0.5 -1.1l0.5 -1.1l0.5 -1.1l0.4 -1.1l0.5 -1.1l0.5 -1.1l0.5 -1.1l0.5 -1.1l0.5 -1l0.4 -1.1l0.5 -1l0.5 -1l0.5 -1l0.5 -1l0.5 -0.9l0.5 -0.9l0.4 -0.8l0.5 -0.8l0.5 -0.7l0.5 -0.7l0.5 -0.6l0.5 -0.6l0.4 -0.5l0.5 -0.4l0.5 -0.4l0.5 -0.2l0.5 -0.2l0.5 -0.2l0.4 0l0.5 0l0.5 0.1l0.5 0.2l0.5 0.2l0.5 0.4l0.4 0.4l0.5 0.4l0.5 0.6l0.5 0.6l0.5 0.7l0.5 0.7l0.4 0.8l0.5 0.8l0.5 0.9l0.5 0.9l0.5 0.9l0.5 1l0.4 1l0.5 1.1l0.5 1l0.5 1.1l0.5 1.1l0.5 1.1l0.4 1.1l0.5 1.1l0.5 1.2l0.5 1.1l0.5 1.1l0.5 1.1l0.4 1.1l0.5 1l0.5 1.1l0.5 1l0.5 1.1l0.5 0.9l0.5 1l0.4 1l0.5 0.9l0.5 0.9l0.5 0.8l0.5 0.9l0.5 0.8l0.4 0.8l0.5 0.7l0.5 0.7l0.5 0.7l0.5 0.7l0.5 0.6l0.4 0.6l0.5 0.5l0.5 0.6l0.5 0.5l0.5 0.5l0.5 0.4l0.4 0.5l0.5 0.4l0.5 0.4l0.5 0.3l0.5 0.4l0.5 0.3l0.4 0.3l0.5 0.3l0.5 0.2l0.5 0.3l0.5 0.2l0.5 0.2l0.4 0.2l0.5 0.2l0.5 0.1l0.5 0.2l0.5 0.2l0.5 0.1l0.4 0.1l0.5 0.1l0.5 0.1l0.5 0.2l0.5 0l0.5 0.1l0.5 0.1l0.4 0.1l0.5 0.1l0.5 0l0.5 0.1l0.5 0.1l0.5 0l0.4 0.1l0.5 0l0.5 0.1l0.5 0l0.5 0.1l0.5 0l0.4 0l0.5 0.1l0.5 0l0.5 0l0.5 0.1l0.5 0l0.4 0l0.5 0.1l0.5 0l0.5 0l0.5 0.1l0.5 0l0.4 0l0.5 0l0.5 0.1l0.5 0l0.5 0l0.5 0l0.4 0.1l0.5 0l0.5 0l0.5 0l0.5 0l0.5 0.1l0.4 0l0.5 0l0.5 0l0.5 0.1" fill="none" stroke="#f7b500" stroke-width="1.3" stroke-linejoin="round" />
<path d="M483.5 157.6l0.5 0l0.5 0l0.5 0l0.4 0l0.5 0l0.5 0l0.5 0l0.5 0l0.5 0l0.4 0l0.5 0l0.5 0l0.5 0l0.5 0l0.5 0l0.4 0l0.5 0l0.5 0l0.5 0l0.5 0l0.5 0l0.4 0l0.5 0l0.5 0l0.5 0l0.5 0l0.5 0l0.4 0l0.5 0l0.5 0l0.5 -0.1l0.5 0l0.5 0l0.4 0l0.5 0l0.5 0l0.5 0l0.5 0l0.5 0l0.4 0l0.5 0l0.5 0l0.5 0l0.5 0l0.5 0l0.5 0l0.4 0l0.5 0l0.5 0l0.5 0l0.5 0l0.5 0l0.4 -0.1l0.5 0l0.5 0l0.5 0l0.5 0l0.5 0l0.4 0l0.5 0l0.5 0l0.5 0l0.5 0l0.5 -0.1l0.4 0l0.5 0l0.5 0l0.5 0l0.5 0l0.5 0l0.4 -0.1l0.5 0l0.5 0l0.5 0l0.5 0l0.5 -0.1l0.4 0l0.5 0l0.5 0l0.5 -0.1l0.5 0l0.5 0l0.4 -0.1l0.5 0l0.5 0l0.5 -0.1l0.5 0l0.5 -0.1l0.5 0l0.4 -0.1l0.5 0l0.5 -0.1l0.5 -0.1l0.5 0l0.5 -0.1l0.4 -0.1l0.5 0l0.5 -0.1l0.5 -0.1l0.5 -0.1l0.5 -0.1l0.4 -0.1l0.5 -0.1l0.5 -0.1l0.5 -0.1l0.5 -0.1l0.5 -0.2l0.4 -0.1l0.5 -0.1l0.5 -0.1l0.5 -0.2l0.5 -0.1l0.5 -0.2l0.4 -0.1l0.5 -0.2l0.5 -0.1l0.5 -0.2l0.5 -0.2l0.5 -0.2l0.4 -0.1l0.5 -0.2l0.5 -0.2l0.5 -0.2l0.5 -0.2l0.5 -0.2l0.4 -0.2l0.5 -0.1l0.5 -0.2l0.5 -0.2l0.5 -0.2l0.5 -0.2l0.4 -0.2l0.5 -0.2l0.5 -0.2l0.5 -0.2l0.5 -0.2l0.5 -0.2l0.5 -0.1l0.4 -0.2l0.5 -0.2l0.5 -0.1l0.5 -0.2l0.5 -0.2l0.5 -0.1l0.4 -0.1l0.5 -0.2l0.5 -0.1l0.5 -0.1l0.5 -0.1l0.5 -0.1l0.4 -0.1l0.5 -0.1l0.5 0l0.5 -0.1l0.5 0l0.5 -0.1l0.4 0l0.5 0l0.5 -0.1l0.5 0l0.5 0l0.5 0l0.4 0l0.5 0l0.5 -0.1l0.5 0l0.5 0l0.5 0l0.4 0l0.5 0l0.5 -0.1l0.5 0l0.5 0l0.5 -0.1l0.4 -0.1l0.5 0l0.5 -0.1l0.5 -0.1l0.5 -0.1l0.5 -0.1l0.5 -0.2l0.4 -0.1l0.5 -0.2l0.5 -0.2l0.5 -0.2l0.5 -0.2l0.5 -0.2l0.4 -0.3l0.5 -0.3l0.5 -0.3l0.5 -0.3l0.5 -0.3l0.5 -0.3l0.4 -0.4l0.5 -0.3l0.5 -0.4l0.5 -0.4l0.5 -0.4l0.5 -0.5l0.4 -0.4l0.5 -0.5l0.5 -0.5l0.5 -0.4l0.5 -0.5l0.5 -0.5l0.4 -0.5l0.5 -0.6l0.5 -0.5l0.5 -0.5l0.5 -0.5l0.5 -0.6l0.4 -0.5l0.5 -0.5l0.5 -0.6l0.5 -0.5l0.5 -0.5l0.5 -0.5l0.4 -0.5l0.5 -0.5l0.5 -0.4l0.5 -0.5l0.5 -0.4l0.5 -0.5l0.5 -0.4l0.4 -0.4l0.5 -0.4l0.5 -0.4l0.5 -0.3l0.5 -0.4l0.5 -0.3l0.4 -0.3l0.5 -0.4l0.5 -0.3l0.5 -0.3l0.5 -0.3l0.5 -0.3l0.4 -0.4l0.5 -0.3l0.5 -0.3l0.5 -0.4l0.5 -0.3l0.5 -0.4l0.4 -0.4l0.5 -0.4l0.5 -0.5l0.5 -0.4l0.5 -0.5l0.5 -0.5l0.4 -0.5l0.5 -0.5l0.5 -0.5l0.5 -0.6l0.5 -0.6l0.5 -0.5l0.4 -0.6l0.5 -0.6l0.5 -0.7l0.5 -0.6l0.5 -0.6l0.5 -0.6l0.4 -0.6l0.5 -0.6l0.5 -0.6l0.5 -0.6l0.5 -0.5l0.5 -0.6l0.5 -0.5l0.4 -0.5l0.5 -0.4l0.5 -0.4l0.5 -0.4l0.5 -0.3l0.5 -0.2l0.4 -0.3l0.5 -0.1l0.5 -0.1l0.5 0l0.5 0l0.5 0.1l0.4 0.1l0.5 0.3l0.5 0.3l0.5 0.3l0.5 0.5l0.5 0.4l0.4 0.6l0.5 0.6l0.5 0.7l0.5 0.7l0.5 0.8l0.5 0.8l0.4 0.9l0.5 1l0.5 0.9l0.5 1l0.5 1.1l0.5 1l0.4 1.1l0.5 1.1l0.5 1.2l0.5 1.1l0.5 1.2l0.5 1.1l0.4 1.2l0.5 1.2l0.5 1.1l0.5 1.2l0.5 1.1l0.5 1.2l0.4 1.1l0.5 1.1l0.5 1.1l0.5 1.1l0.5 1l0.5 1.1l0.5 1l0.4 0.9l0.5 1l0.5 0.9l0.5 0.9l0.5 0.8l0.5 0.9l0.4 0.8l0.5 0.7l0.5 0.8l0.5 0.7l0.5 0.6l0.5 0.7l0.4 0.6l0.5 0.6l0.5 0.5l0.5 0.5l0.5 0.5l0.5 0.5l0.4 0.5l0.5 0.4l0.5 0.4l0.5 0.4l0.5 0.3l0.5 0.3l0.4 0.3l0.5 0.3l0.5 0.3l0.5 0.3l0.5 0.2l0.5 0.2l0.4 0.2l0.5 0.2l0.5 0.2l0.5 0.2l0.5 0.1l0.5 0.2l0.4 0.1l0.5 0.1l0.5 0.2l0.5 0.1l0.5 0.1l0.5 0.1l0.5 0.1l0.4 0l0.5 0.1l0.5 0.1l0.5 0.1l0.5 0l0.5 0.1l0.4 0.1l0.5 0l0.5 0.1l0.5 0l0.5 0.1l0.5 0l0.4 0.1l0.5 0l0.5 0l0.5 0.1l0.5 0l0.5 0.1l0.4 0l0.5 0l0.5 0.1l0.5 0l0.5 0l0.5 0.1l0.4 0l0.5 0l0.5 0.1l0.5 0l0.5 0l0.5 0l0.4 0.1l0.5 0l0.5 0l0.5 0.1l0.5 0l0.5 0l0.4 0l0.5 0.1l0.5 0l0.5 0" fill="none" stroke="#7d8fc2" stroke-width="1.6" stroke-linejoin="round" />
</g>
<rect x="483.5" y="8.4" width="193" height="156" fill="none" stroke="#3a3a3a" stroke-width="1.1"/>
<line x1="483.5" y1="90.4" x2="676.5" y2="90.4" stroke="#3a3a3a" stroke-width="1.1" />
<line x1="483.5" y1="164.4" x2="483.5" y2="167.4" stroke="#3a3a3a" stroke-width="1" />
<line x1="531.8" y1="164.4" x2="531.8" y2="167.4" stroke="#3a3a3a" stroke-width="1" />
<line x1="580" y1="164.4" x2="580" y2="167.4" stroke="#3a3a3a" stroke-width="1" />
<line x1="628.2" y1="164.4" x2="628.2" y2="167.4" stroke="#3a3a3a" stroke-width="1" />
<line x1="676.5" y1="164.4" x2="676.5" y2="167.4" stroke="#3a3a3a" stroke-width="1" />
<line x1="507.6" y1="164.4" x2="507.6" y2="166.4" stroke="#3a3a3a" stroke-width="1" />
<line x1="555.9" y1="164.4" x2="555.9" y2="166.4" stroke="#3a3a3a" stroke-width="1" />
<line x1="604.1" y1="164.4" x2="604.1" y2="166.4" stroke="#3a3a3a" stroke-width="1" />
<line x1="652.4" y1="164.4" x2="652.4" y2="166.4" stroke="#3a3a3a" stroke-width="1" />
<text x="483.5" y="177.1" font-size="10" text-anchor="middle" fill="#111">536</text>
<text x="531.8" y="177.1" font-size="10" text-anchor="middle" fill="#111">534</text>
<text x="580" y="177.1" font-size="10" text-anchor="middle" fill="#111">532</text>
<text x="628.2" y="177.1" font-size="10" text-anchor="middle" fill="#111">530</text>
<text x="676.5" y="177.1" font-size="10" text-anchor="middle" fill="#111">528</text>
<text x="485.4" y="16.8" font-size="8" fill="#222">RuMo@MoOx-JH</text>
<text x="486.2" y="100.3" font-size="8" fill="#222">Mo@MoOx-JH</text>
<line x1="639.1" y1="13.8" x2="655.2" y2="13.8" stroke="#f7b500" stroke-width="1.3" />
<text x="659.6" y="17.1" font-size="8.5" fill="#f7b500">O<tspan dy="2.5" font-size="6">L</tspan></text>
<line x1="639.1" y1="25.6" x2="655.2" y2="25.6" stroke="#e8231d" stroke-width="1.3" />
<text x="659.6" y="28.9" font-size="8.5" fill="#e8231d">O<tspan dy="2.5" font-size="6">V</tspan></text>
<line x1="639.1" y1="37.4" x2="655.2" y2="37.4" stroke="#35c060" stroke-width="1.3" />
<text x="659.6" y="40.7" font-size="8.5" fill="#35c060">O<tspan dy="2.5" font-size="6">H₂O</tspan></text>
<text x="462" y="13" font-size="18.5" font-weight="bold">c</text>
<text x="580" y="196.8" font-size="13" text-anchor="middle">Binding energy (eV)</text>
<text x="477.3" y="86.2" font-size="13" text-anchor="middle" transform="rotate(-90 477.3 86.2)">Intensity (a.u.)</text>
<clipPath id="cd"><rect x="33.4" y="202.1" width="193.8" height="155.8"/></clipPath><g clip-path="url(#cd)">
<path d="M33.4 357.9l0.4 0l0.4 0l0.4 0l0.4 0l0.3 0l0.4 0l0.4 -0.1l0.4 0l0.4 0l0.4 0l0.4 0l0.4 0l0.3 0l0.4 0l0.4 0l0.4 -0.1l0.4 0l0.4 0l0.4 0l0.4 0l0.4 0l0.3 0l0.4 -0.1l0.4 0l0.4 0l0.4 0l0.4 0l0.4 0l0.4 -0.1l0.4 0l0.3 0l0.4 0l0.4 0l0.4 -0.1l0.4 0l0.4 0l0.4 0l0.4 0l0.3 -0.1l0.4 0l0.4 0l0.4 0l0.4 0l0.4 -0.1l0.4 0l0.4 0l0.4 0l0.3 0l0.4 -0.1l0.4 0l0.4 0l0.4 0l0.4 0l0.4 -0.1l0.4 0l0.3 0l0.4 0l0.4 -0.1l0.4 0l0.4 0l0.4 0l0.4 -0.1l0.4 0l0.4 0l0.3 -0.1l0.4 0l0.4 0l0.4 -0.1l0.4 0l0.4 0l0.4 -0.1l0.4 0l0.4 0l0.3 -0.1l0.4 0l0.4 0l0.4 -0.1l0.4 0l0.4 0l0.4 -0.1l0.4 0l0.3 -0.1l0.4 0l0.4 0l0.4 -0.1l0.4 0l0.4 -0.1l0.4 0l0.4 -0.1l0.4 0l0.3 -0.1l0.4 0l0.4 -0.1l0.4 0l0.4 -0.1l0.4 0l0.4 -0.1l0.4 0l0.3 -0.1l0.4 -0.1l0.4 0l0.4 -0.1l0.4 -0.1l0.4 0l0.4 -0.1l0.4 -0.1l0.4 0l0.3 -0.1l0.4 -0.1l0.4 -0.1l0.4 0l0.4 -0.1l0.4 -0.1l0.4 -0.1l0.4 -0.1l0.4 -0.1l0.3 0l0.4 -0.1l0.4 -0.1l0.4 -0.1l0.4 -0.1l0.4 -0.1l0.4 -0.1l0.4 -0.2l0.3 -0.1l0.4 -0.1l0.4 -0.1l0.4 -0.2l0.4 -0.1l0.4 -0.1l0.4 -0.2l0.4 -0.1l0.4 -0.1l0.3 -0.2l0.4 -0.1l0.4 -0.2l0.4 -0.1l0.4 -0.2l0.4 -0.1l0.4 -0.2l0.4 -0.2l0.3 -0.1l0.4 -0.2l0.4 -0.2l0.4 -0.2l0.4 -0.2l0.4 -0.3l0.4 -0.2l0.4 -0.3l0.4 -0.3l0.3 -0.3l0.4 -0.3l0.4 -0.4l0.4 -0.4l0.4 -0.4l0.4 -0.4l0.4 -0.4l0.4 -0.5l0.4 -0.5l0.3 -0.4l0.4 -0.6l0.4 -0.5l0.4 -0.6l0.4 -0.6l0.4 -0.7l0.4 -0.7l0.4 -0.7l0.3 -0.7l0.4 -0.7l0.4 -0.7l0.4 -0.7l0.4 -0.8l0.4 -0.8l0.4 -0.9l0.4 -1l0.4 -1.2l0.3 -1.4l0.4 -1.7l0.4 -1.8l0.4 -1.9l0.4 -2l0.4 -2l0.4 -1.9l0.4 -2.1l0.3 -2.1l0.4 -2.2l0.4 -2.2l0.4 -2.2l0.4 -2.2l0.4 -2.2l0.4 -2.1l0.4 -2.1l0.4 -2.2l0.3 -2.1l0.4 -2.2l0.4 -2.1l0.4 -2.1l0.4 -2.1l0.4 -2.1l0.4 -2.2l0.4 -2.3l0.4 -2.4l0.3 -2.6l0.4 -2.8l0.4 -2.9l0.4 -2.9l0.4 -3l0.4 -3.2l0.4 -3.2l0.4 -2.9l0.3 -2.4l0.4 -2.3l0.4 -2.3l0.4 -2.1l0.4 -2l0.4 -1.9l0.4 -1.8l0.4 -1.6l0.4 -1.5l0.3 -1.4l0.4 -1.3l0.4 -1.2l0.4 -1.1l0.4 -1.1l0.4 -1l0.4 -0.9l0.4 -0.9l0.3 -0.8l0.4 -0.7l0.4 -0.7l0.4 -0.6l0.4 -0.6l0.4 -0.6l0.4 -0.6l0.4 -0.5l0.4 -0.4l0.3 -0.4l0.4 -0.3l0.4 -0.3l0.4 -0.2l0.4 -0.2l0.4 -0.2l0.4 -0.1l0.4 -0.2l0.4 -0.1l0.3 -0.1l0.4 -0.1l0.4 -0.2l0.4 -0.1l0.4 -0.1l0.4 -0.1l0.4 -0.1l0.4 -0.1l0.3 -0.1l0.4 -0.1l0.4 -0.1l0.4 -0.1l0.4 -0.2l0.4 -0.1l0.4 0l0.4 -0.1l0.4 -0.1l0.3 -0.1l0.4 -0.1l0.4 -0.1l0.4 -0.1l0.4 -0.1l0.4 0l0.4 -0.1l0.4 -0.1l0.4 -0.1l0.3 -0.1l0.4 0l0.4 -0.1l0.4 0l0.4 0l0.4 0l0.4 0.1l0.4 0.1l0.3 0.1l0.4 0.2l0.4 0.3l0.4 0.3l0.4 0.2l0.4 0.4l0.4 0.3l0.4 0.3l0.4 0.4l0.3 0.4l0.4 0.3l0.4 0.5l0.4 0.6l0.4 0.6l0.4 0.7l0.4 0.7l0.4 0.7l0.3 0.8l0.4 0.8l0.4 0.8l0.4 0.8l0.4 0.7l0.4 0.7l0.4 0.7l0.4 0.6l0.4 0.6l0.3 0.7l0.4 0.6l0.4 0.6l0.4 0.6l0.4 0.6l0.4 0.6l0.4 0.6l0.4 0.6l0.4 0.5l0.3 0.5l0.4 0.5l0.4 0.4l0.4 0.5l0.4 0.5l0.4 0.5l0.4 0.4l0.4 0.5l0.3 0.3l0.4 0.3l0.4 0.3l0.4 0.2l0.4 0.1l0.4 0.1l0.4 0.2l0.4 0.1l0.4 0.1l0.3 0.1l0.4 0l0.4 0.1l0.4 0.1l0.4 0l0.4 0.1l0.4 0l0.4 0l0.3 0l0.4 0l0.4 0l0.4 -0.1l0.4 0l0.4 -0.1l0.4 0l0.4 -0.1l0.4 0l0.3 -0.1l0.4 -0.1l0.4 -0.1l0.4 -0.1l0.4 -0.1l0.4 0l0.4 -0.1l0.4 -0.1l0.4 -0.1l0.3 -0.1l0.4 -0.2l0.4 -0.1l0.4 -0.1l0.4 -0.2l0.4 -0.1l0.4 -0.2l0.4 -0.2l0.3 -0.1l0.4 -0.2l0.4 -0.2l0.4 -0.2l0.4 -0.2l0.4 -0.2l0.4 -0.1l0.4 -0.2l0.4 -0.2l0.3 -0.2l0.4 -0.2l0.4 -0.2l0.4 -0.1l0.4 -0.2l0.4 -0.2l0.4 -0.2l0.4 -0.2l0.3 -0.2l0.4 -0.1l0.4 -0.2l0.4 -0.2l0.4 -0.2l0.4 -0.2l0.4 -0.2l0.4 -0.2l0.4 -0.2l0.3 -0.2l0.4 -0.2l0.4 -0.2l0.4 -0.2l0.4 -0.2l0.4 -0.2l0.4 -0.3l0.4 -0.2l0.4 -0.2l0.3 -0.2l0.4 -0.2l0.4 -0.3l0.4 -0.2l0.4 -0.2l0.4 -0.3l0.4 -0.2l0.4 -0.2l0.3 -0.3l0.4 -0.2l0.4 -0.3l0.4 -0.2l0.4 -0.3l0.4 -0.2l0.4 -0.3l0.4 -0.2l0.4 -0.3l0.3 -0.2l0.4 -0.3l0.4 -0.2l0.4 -0.3l0.4 -0.2l0.4 -0.3l0.4 -0.2l0.4 -0.3l0.3 -0.2l0.4 -0.3l0.4 -0.3l0.4 -0.2l0.4 -0.3l0.4 -0.3l0.4 -0.3l0.4 -0.2l0.4 -0.3l0.3 -0.3l0.4 -0.3l0.4 -0.3l0.4 -0.2l0.4 -0.3l0.4 -0.3l0.4 -0.2l0.4 -0.3l0.4 -0.2l0.3 -0.3l0.4 -0.2l0.4 -0.2l0.4 -0.2l0.4 -0.2l0.4 -0.1l0.4 -0.2l0.4 -0.1l0.3 -0.2l0.4 -0.2l0.4 -0.1l0.4 -0.2l0.4 -0.1l0.4 -0.2l0.4 -0.1l0.4 -0.1l0.4 -0.2l0.3 -0.1l0.4 0l0.4 -0.1l0.4 -0.1l0.4 0l0.4 0l0.4 0l0.4 0l0.3 0l0.4 0l0.4 0l0.4 0l0.4 0l0.4 0l0.4 0l0.4 0l0.4 0l0.3 0l0.4 0l0.4 0l0.4 0l0.4 0l0.4 0l0.4 0l0.4 0l0.4 0l0.3 0l0.4 0.1l0.4 0l0.4 0.1l0.4 0.1l0.4 0.1l0.4 0.1l0.4 0.1l0.3 0.2l0.4 0.1l0.4 0.1l0.4 0.2l0.4 0.1" fill="none" stroke="#3766b0" stroke-width="1.5" stroke-linejoin="round" />
<path d="M33.4 357.9l0.4 0l0.4 0l0.4 0l0.4 0l0.3 0l0.4 -0.1l0.4 0l0.4 0l0.4 0l0.4 0l0.4 0l0.4 0l0.3 -0.1l0.4 0l0.4 0l0.4 0l0.4 0l0.4 -0.1l0.4 0l0.4 0l0.4 0l0.3 0l0.4 -0.1l0.4 0l0.4 0l0.4 0l0.4 0l0.4 -0.1l0.4 0l0.4 0l0.3 0l0.4 -0.1l0.4 0l0.4 0l0.4 0l0.4 -0.1l0.4 0l0.4 0l0.3 0l0.4 -0.1l0.4 0l0.4 0l0.4 0l0.4 -0.1l0.4 0l0.4 0l0.4 -0.1l0.3 0l0.4 0l0.4 0l0.4 -0.1l0.4 0l0.4 0l0.4 -0.1l0.4 0l0.3 0l0.4 -0.1l0.4 0l0.4 0l0.4 -0.1l0.4 0l0.4 0l0.4 -0.1l0.4 0l0.3 0l0.4 -0.1l0.4 0l0.4 -0.1l0.4 0l0.4 0l0.4 -0.1l0.4 0l0.4 -0.1l0.3 0l0.4 -0.1l0.4 0l0.4 -0.1l0.4 0l0.4 -0.1l0.4 0l0.4 -0.1l0.3 0l0.4 -0.1l0.4 0l0.4 -0.1l0.4 -0.1l0.4 0l0.4 -0.1l0.4 -0.1l0.4 0l0.3 -0.1l0.4 -0.1l0.4 0l0.4 -0.1l0.4 -0.1l0.4 -0.1l0.4 -0.1l0.4 -0.1l0.3 -0.1l0.4 -0.1l0.4 -0.1l0.4 -0.1l0.4 -0.1l0.4 -0.1l0.4 -0.1l0.4 -0.1l0.4 -0.1l0.3 -0.2l0.4 -0.1l0.4 -0.1l0.4 -0.2l0.4 -0.1l0.4 -0.2l0.4 -0.1l0.4 -0.2l0.4 -0.2l0.3 -0.1l0.4 -0.2l0.4 -0.3l0.4 -0.2l0.4 -0.3l0.4 -0.3l0.4 -0.3l0.4 -0.3l0.3 -0.4l0.4 -0.4l0.4 -0.4l0.4 -0.4l0.4 -0.4l0.4 -0.4l0.4 -0.5l0.4 -0.5l0.4 -0.4l0.3 -0.6l0.4 -0.6l0.4 -0.6l0.4 -0.7l0.4 -0.7l0.4 -0.8l0.4 -0.8l0.4 -0.9l0.3 -0.9l0.4 -0.8l0.4 -0.9l0.4 -0.9l0.4 -0.9l0.4 -0.9l0.4 -0.9l0.4 -1l0.4 -0.9l0.3 -1l0.4 -1l0.4 -1l0.4 -1.1l0.4 -1.1l0.4 -1.1l0.4 -1.2l0.4 -1.2l0.4 -1.3l0.3 -1.4l0.4 -1.5l0.4 -1.5l0.4 -1.5l0.4 -1.6l0.4 -1.6l0.4 -1.6l0.4 -1.6l0.3 -1.6l0.4 -1.6l0.4 -1.5l0.4 -1.6l0.4 -1.5l0.4 -1.5l0.4 -1.5l0.4 -1.5l0.4 -1.5l0.3 -1.5l0.4 -1.6l0.4 -1.5l0.4 -1.6l0.4 -1.6l0.4 -1.6l0.4 -1.6l0.4 -1.7l0.3 -1.7l0.4 -1.8l0.4 -1.8l0.4 -1.9l0.4 -2l0.4 -2l0.4 -1.9l0.4 -2.1l0.4 -2l0.3 -2l0.4 -1.9l0.4 -2l0.4 -1.9l0.4 -1.8l0.4 -1.8l0.4 -1.7l0.4 -1.8l0.4 -1.7l0.3 -1.8l0.4 -1.8l0.4 -1.6l0.4 -1.6l0.4 -1.5l0.4 -1.3l0.4 -1.2l0.4 -1l0.3 -1l0.4 -1l0.4 -0.9l0.4 -0.9l0.4 -0.9l0.4 -0.8l0.4 -0.6l0.4 -0.6l0.4 -0.4l0.3 -0.2l0.4 -0.1l0.4 0.1l0.4 0.1l0.4 0.3l0.4 0.3l0.4 0.3l0.4 0.4l0.3 0.5l0.4 0.4l0.4 0.4l0.4 0.6l0.4 0.6l0.4 0.8l0.4 0.8l0.4 0.8l0.4 0.8l0.3 0.7l0.4 0.6l0.4 0.4l0.4 0.3l0.4 0.2l0.4 0.3l0.4 0.2l0.4 0.1l0.4 0.2l0.3 0.1l0.4 0.1l0.4 0l0.4 -0.1l0.4 -0.1l0.4 -0.2l0.4 -0.3l0.4 -0.4l0.3 -0.3l0.4 -0.5l0.4 -0.4l0.4 -0.5l0.4 -0.4l0.4 -0.5l0.4 -0.5l0.4 -0.5l0.4 -0.7l0.3 -0.7l0.4 -0.7l0.4 -0.9l0.4 -0.8l0.4 -0.9l0.4 -0.9l0.4 -0.9l0.4 -0.9l0.4 -0.9l0.3 -0.9l0.4 -0.8l0.4 -0.8l0.4 -0.7l0.4 -0.6l0.4 -0.6l0.4 -0.6l0.4 -0.5l0.3 -0.6l0.4 -0.5l0.4 -0.6l0.4 -0.5l0.4 -0.5l0.4 -0.4l0.4 -0.5l0.4 -0.4l0.4 -0.5l0.3 -0.4l0.4 -0.3l0.4 -0.4l0.4 -0.3l0.4 -0.4l0.4 -0.3l0.4 -0.3l0.4 -0.3l0.3 -0.3l0.4 -0.3l0.4 -0.3l0.4 -0.2l0.4 -0.2l0.4 -0.2l0.4 -0.1l0.4 0l0.4 0.1l0.3 0.2l0.4 0.2l0.4 0.3l0.4 0.3l0.4 0.4l0.4 0.4l0.4 0.4l0.4 0.4l0.4 0.6l0.3 0.7l0.4 0.9l0.4 0.9l0.4 1l0.4 1.1l0.4 1l0.4 1.1l0.4 1l0.3 1l0.4 0.9l0.4 0.8l0.4 0.6l0.4 0.6l0.4 0.5l0.4 0.6l0.4 0.5l0.4 0.6l0.3 0.5l0.4 0.5l0.4 0.5l0.4 0.4l0.4 0.5l0.4 0.3l0.4 0.3l0.4 0.3l0.3 0.2l0.4 0.1l0.4 0.1l0.4 0l0.4 0l0.4 0l0.4 -0.1l0.4 0l0.4 0l0.3 -0.1l0.4 0l0.4 0l0.4 -0.1l0.4 0l0.4 -0.1l0.4 0l0.4 -0.1l0.4 0l0.3 -0.1l0.4 0l0.4 -0.1l0.4 -0.1l0.4 0l0.4 -0.1l0.4 -0.1l0.4 0l0.3 -0.1l0.4 -0.1l0.4 -0.1l0.4 -0.1l0.4 -0.1l0.4 0l0.4 -0.1l0.4 -0.1l0.4 -0.1l0.3 -0.1l0.4 -0.1l0.4 0l0.4 -0.1l0.4 -0.1l0.4 -0.1l0.4 0l0.4 -0.1l0.3 -0.1l0.4 0l0.4 -0.1l0.4 -0.1l0.4 0l0.4 -0.1l0.4 -0.1l0.4 -0.1l0.4 -0.1l0.3 -0.1l0.4 -0.1l0.4 -0.1l0.4 -0.2l0.4 -0.1l0.4 -0.2l0.4 -0.2l0.4 -0.1l0.4 -0.2l0.3 -0.2l0.4 -0.2l0.4 -0.3l0.4 -0.2l0.4 -0.2l0.4 -0.2l0.4 -0.2l0.4 -0.3l0.3 -0.2l0.4 -0.2l0.4 -0.2l0.4 -0.2l0.4 -0.2l0.4 -0.2l0.4 -0.2l0.4 -0.2l0.4 -0.2l0.3 -0.2l0.4 -0.2l0.4 -0.2l0.4 -0.2l0.4 -0.2l0.4 -0.2l0.4 -0.2l0.4 -0.2l0.3 -0.2l0.4 -0.2l0.4 -0.2l0.4 -0.2l0.4 -0.1l0.4 -0.2l0.4 -0.2l0.4 -0.2l0.4 -0.1l0.3 -0.2l0.4 -0.2l0.4 -0.1l0.4 -0.1l0.4 -0.2l0.4 -0.1l0.4 -0.1l0.4 -0.1l0.4 -0.1l0.3 -0.1l0.4 -0.1l0.4 -0.1l0.4 0l0.4 -0.1l0.4 -0.1l0.4 -0.1l0.4 -0.1l0.3 0l0.4 -0.1l0.4 -0.1l0.4 0l0.4 -0.1l0.4 0l0.4 -0.1l0.4 0l0.4 -0.1l0.3 0l0.4 0l0.4 0l0.4 0l0.4 0l0.4 0l0.4 0.1l0.4 0.1l0.3 0.1l0.4 0.2l0.4 0.1l0.4 0.2l0.4 0.2l0.4 0.2l0.4 0.3l0.4 0.2l0.4 0.2l0.3 0.3l0.4 0.2l0.4 0.2l0.4 0.3l0.4 0.2l0.4 0.3l0.4 0.2l0.4 0.2l0.4 0.3l0.3 0.3l0.4 0.3l0.4 0.3l0.4 0.3l0.4 0.3l0.4 0.3l0.4 0.4l0.4 0.3l0.3 0.3l0.4 0.4l0.4 0.4l0.4 0.3l0.4 0.4" fill="none" stroke="#3cc163" stroke-width="1.5" stroke-linejoin="round" />
<path d="M33.4 357.9l0.4 0l0.4 0l0.4 0l0.4 0l0.3 0l0.4 -0.1l0.4 0l0.4 0l0.4 0l0.4 0l0.4 0l0.4 0l0.3 -0.1l0.4 0l0.4 0l0.4 0l0.4 0l0.4 -0.1l0.4 0l0.4 0l0.4 0l0.3 0l0.4 -0.1l0.4 0l0.4 0l0.4 0l0.4 0l0.4 -0.1l0.4 0l0.4 0l0.3 0l0.4 -0.1l0.4 0l0.4 0l0.4 0l0.4 -0.1l0.4 0l0.4 0l0.3 0l0.4 -0.1l0.4 0l0.4 0l0.4 0l0.4 -0.1l0.4 0l0.4 0l0.4 -0.1l0.3 0l0.4 0l0.4 0l0.4 -0.1l0.4 0l0.4 0l0.4 -0.1l0.4 0l0.3 0l0.4 -0.1l0.4 0l0.4 0l0.4 -0.1l0.4 0l0.4 0l0.4 -0.1l0.4 0l0.3 -0.1l0.4 0l0.4 0l0.4 -0.1l0.4 0l0.4 -0.1l0.4 0l0.4 0l0.4 -0.1l0.3 0l0.4 -0.1l0.4 0l0.4 -0.1l0.4 0l0.4 -0.1l0.4 0l0.4 -0.1l0.3 0l0.4 -0.1l0.4 -0.1l0.4 0l0.4 -0.1l0.4 0l0.4 -0.1l0.4 0l0.4 -0.1l0.3 -0.1l0.4 0l0.4 -0.1l0.4 0l0.4 -0.1l0.4 -0.1l0.4 0l0.4 -0.1l0.3 -0.1l0.4 -0.1l0.4 0l0.4 -0.1l0.4 -0.1l0.4 -0.1l0.4 -0.1l0.4 -0.1l0.4 -0.1l0.3 -0.1l0.4 -0.1l0.4 -0.1l0.4 -0.1l0.4 -0.1l0.4 -0.1l0.4 -0.2l0.4 -0.1l0.4 -0.1l0.3 -0.2l0.4 -0.1l0.4 -0.2l0.4 -0.3l0.4 -0.2l0.4 -0.3l0.4 -0.2l0.4 -0.3l0.3 -0.4l0.4 -0.3l0.4 -0.4l0.4 -0.3l0.4 -0.4l0.4 -0.4l0.4 -0.4l0.4 -0.4l0.4 -0.5l0.3 -0.4l0.4 -0.5l0.4 -0.5l0.4 -0.6l0.4 -0.6l0.4 -0.7l0.4 -0.6l0.4 -0.7l0.3 -0.8l0.4 -0.8l0.4 -0.8l0.4 -0.9l0.4 -0.8l0.4 -1l0.4 -1l0.4 -1.2l0.4 -1.3l0.3 -1.3l0.4 -1.4l0.4 -1.4l0.4 -1.4l0.4 -1.5l0.4 -1.4l0.4 -1.3l0.4 -1.4l0.4 -1.3l0.3 -1.4l0.4 -1.4l0.4 -1.4l0.4 -1.5l0.4 -1.4l0.4 -1.5l0.4 -1.6l0.4 -1.6l0.3 -1.7l0.4 -1.8l0.4 -1.8l0.4 -1.9l0.4 -1.9l0.4 -2l0.4 -1.9l0.4 -2l0.4 -1.9l0.3 -1.9l0.4 -1.9l0.4 -1.8l0.4 -1.7l0.4 -1.7l0.4 -1.6l0.4 -1.6l0.4 -1.6l0.3 -1.6l0.4 -1.5l0.4 -1.5l0.4 -1.5l0.4 -1.6l0.4 -1.6l0.4 -1.6l0.4 -1.6l0.4 -1.7l0.3 -1.7l0.4 -1.8l0.4 -1.9l0.4 -2l0.4 -2.2l0.4 -2.2l0.4 -2.3l0.4 -2.4l0.4 -2.3l0.3 -2.3l0.4 -2.2l0.4 -2.2l0.4 -2l0.4 -2l0.4 -1.9l0.4 -2l0.4 -1.9l0.3 -1.9l0.4 -1.7l0.4 -1.5l0.4 -1.3l0.4 -1l0.4 -1l0.4 -1l0.4 -0.9l0.4 -0.7l0.3 -0.4l0.4 -0.1l0.4 0.1l0.4 0.2l0.4 0.3l0.4 0.3l0.4 0.4l0.4 0.4l0.3 0.2l0.4 0.3l0.4 0.3l0.4 0.3l0.4 0.3l0.4 0.3l0.4 0.2l0.4 0.2l0.4 0.1l0.3 -0.1l0.4 -0.1l0.4 -0.2l0.4 -0.2l0.4 -0.3l0.4 -0.3l0.4 -0.3l0.4 -0.4l0.4 -0.3l0.3 -0.3l0.4 -0.3l0.4 -0.2l0.4 -0.2l0.4 -0.1l0.4 -0.2l0.4 -0.1l0.4 -0.1l0.3 -0.1l0.4 -0.1l0.4 -0.1l0.4 -0.1l0.4 -0.1l0.4 -0.1l0.4 -0.1l0.4 0l0.4 -0.1l0.3 0l0.4 -0.1l0.4 0l0.4 0l0.4 0l0.4 0l0.4 0l0.4 0l0.4 0l0.3 0l0.4 0l0.4 0l0.4 0l0.4 0l0.4 0l0.4 0l0.4 0l0.3 0l0.4 0l0.4 0l0.4 0l0.4 0l0.4 0l0.4 0l0.4 0l0.4 0l0.3 0l0.4 -0.1l0.4 0l0.4 -0.1l0.4 0l0.4 -0.1l0.4 0l0.4 -0.1l0.3 -0.1l0.4 0l0.4 0l0.4 -0.1l0.4 0l0.4 0l0.4 0l0.4 0l0.4 0.2l0.3 0.2l0.4 0.3l0.4 0.4l0.4 0.4l0.4 0.4l0.4 0.4l0.4 0.5l0.4 0.5l0.4 0.4l0.3 0.4l0.4 0.4l0.4 0.4l0.4 0.4l0.4 0.4l0.4 0.5l0.4 0.4l0.4 0.5l0.3 0.4l0.4 0.5l0.4 0.4l0.4 0.3l0.4 0.4l0.4 0.3l0.4 0.2l0.4 0.2l0.4 0.2l0.3 0.2l0.4 0.2l0.4 0.2l0.4 0.1l0.4 0.2l0.4 0.1l0.4 0.1l0.4 0.1l0.3 0.1l0.4 0.1l0.4 0l0.4 0l0.4 -0.1l0.4 0l0.4 -0.1l0.4 -0.1l0.4 -0.2l0.3 -0.1l0.4 -0.2l0.4 -0.2l0.4 -0.2l0.4 -0.2l0.4 -0.1l0.4 -0.2l0.4 -0.2l0.4 -0.2l0.3 -0.1l0.4 -0.1l0.4 -0.1l0.4 -0.1l0.4 -0.1l0.4 -0.1l0.4 -0.1l0.4 -0.1l0.3 -0.1l0.4 -0.1l0.4 -0.1l0.4 -0.1l0.4 -0.1l0.4 0l0.4 -0.1l0.4 -0.1l0.4 -0.1l0.3 -0.1l0.4 0l0.4 -0.1l0.4 -0.1l0.4 0l0.4 -0.1l0.4 -0.1l0.4 -0.1l0.3 0l0.4 -0.1l0.4 0l0.4 -0.1l0.4 -0.1l0.4 0l0.4 -0.1l0.4 0l0.4 -0.1l0.3 0l0.4 0l0.4 -0.1l0.4 0l0.4 -0.1l0.4 0l0.4 -0.1l0.4 0l0.4 -0.1l0.3 -0.1l0.4 0l0.4 -0.1l0.4 -0.1l0.4 0l0.4 -0.1l0.4 -0.1l0.4 -0.1l0.3 -0.1l0.4 -0.1l0.4 -0.1l0.4 -0.2l0.4 -0.1l0.4 -0.1l0.4 -0.2l0.4 -0.1l0.4 -0.2l0.3 -0.1l0.4 -0.2l0.4 -0.2l0.4 -0.1l0.4 -0.2l0.4 -0.2l0.4 -0.1l0.4 -0.2l0.3 -0.2l0.4 -0.1l0.4 -0.2l0.4 -0.2l0.4 -0.1l0.4 -0.2l0.4 -0.1l0.4 -0.2l0.4 -0.1l0.3 -0.2l0.4 -0.2l0.4 -0.1l0.4 -0.2l0.4 -0.2l0.4 -0.2l0.4 -0.2l0.4 -0.1l0.4 -0.2l0.3 -0.1l0.4 -0.2l0.4 -0.1l0.4 -0.1l0.4 -0.1l0.4 -0.1l0.4 -0.1l0.4 0l0.3 0l0.4 0l0.4 0.1l0.4 0l0.4 0.1l0.4 0.1l0.4 0.1l0.4 0.1l0.4 0.1l0.3 0.1l0.4 0.1l0.4 0.2l0.4 0.1l0.4 0.1l0.4 0.1l0.4 0.2l0.4 0.1l0.3 0.2l0.4 0.2l0.4 0.2l0.4 0.2l0.4 0.2l0.4 0.2l0.4 0.2l0.4 0.3l0.4 0.2l0.3 0.2l0.4 0.2l0.4 0.2l0.4 0.2l0.4 0.2l0.4 0.2l0.4 0.1l0.4 0.2l0.4 0.2l0.3 0.1l0.4 0.2l0.4 0.2l0.4 0.1l0.4 0.2l0.4 0.1l0.4 0.2l0.4 0.1l0.3 0.2l0.4 0.1l0.4 0.2l0.4 0.1l0.4 0.2" fill="none" stroke="#ee1c1c" stroke-width="1.5" stroke-linejoin="round" />
</g>
<rect x="33.4" y="202.1" width="193.8" height="155.8" fill="none" stroke="#3a3a3a" stroke-width="1.1"/>
<line x1="72.2" y1="357.9" x2="72.2" y2="360.9" stroke="#3a3a3a" stroke-width="1" />
<line x1="123.8" y1="357.9" x2="123.8" y2="360.9" stroke="#3a3a3a" stroke-width="1" />
<line x1="175.5" y1="357.9" x2="175.5" y2="360.9" stroke="#3a3a3a" stroke-width="1" />
<line x1="227.2" y1="357.9" x2="227.2" y2="360.9" stroke="#3a3a3a" stroke-width="1" />
<line x1="46.3" y1="357.9" x2="46.3" y2="359.9" stroke="#3a3a3a" stroke-width="1" />
<line x1="98" y1="357.9" x2="98" y2="359.9" stroke="#3a3a3a" stroke-width="1" />
<line x1="149.7" y1="357.9" x2="149.7" y2="359.9" stroke="#3a3a3a" stroke-width="1" />
<line x1="201.4" y1="357.9" x2="201.4" y2="359.9" stroke="#3a3a3a" stroke-width="1" />
<text x="72.2" y="371.2" font-size="10" text-anchor="middle" fill="#111">22080</text>
<text x="123.8" y="371.2" font-size="10" text-anchor="middle" fill="#111">22120</text>
<text x="175.5" y="371.2" font-size="10" text-anchor="middle" fill="#111">22160</text>
<text x="227.2" y="371.2" font-size="10" text-anchor="middle" fill="#111">22200</text>
<line x1="30.4" y1="357.9" x2="33.4" y2="357.9" stroke="#3a3a3a" stroke-width="1" />
<line x1="30.4" y1="306" x2="33.4" y2="306" stroke="#3a3a3a" stroke-width="1" />
<line x1="30.4" y1="254.1" x2="33.4" y2="254.1" stroke="#3a3a3a" stroke-width="1" />
<line x1="30.4" y1="202.1" x2="33.4" y2="202.1" stroke="#3a3a3a" stroke-width="1" />
<line x1="31.4" y1="331.9" x2="33.4" y2="331.9" stroke="#3a3a3a" stroke-width="1" />
<line x1="31.4" y1="280" x2="33.4" y2="280" stroke="#3a3a3a" stroke-width="1" />
<line x1="31.4" y1="228.1" x2="33.4" y2="228.1" stroke="#3a3a3a" stroke-width="1" />
<text x="28.3" y="361.4" font-size="10" text-anchor="end" fill="#111">0.0</text>
<text x="28.3" y="309.5" font-size="10" text-anchor="end" fill="#111">0.4</text>
<text x="28.3" y="257.6" font-size="10" text-anchor="end" fill="#111">0.8</text>
<text x="28.3" y="205.6" font-size="10" text-anchor="end" fill="#111">1.2</text>
<text x="35.8" y="211" font-size="8" fill="#222">Ru k-edge</text>
<line x1="140.5" y1="328.6" x2="156.9" y2="328.6" stroke="#3cc163" stroke-width="1.3" />
<text x="161.4" y="331.6" font-size="8.1" fill="#333">Ru foil</text>
<line x1="140.5" y1="338.5" x2="156.9" y2="338.5" stroke="#ee1c1c" stroke-width="1.3" />
<text x="161.4" y="341.5" font-size="8.1" fill="#333">RuMo@MoOx-JH</text>
<line x1="140.5" y1="348.4" x2="156.9" y2="348.4" stroke="#3766b0" stroke-width="1.3" />
<text x="161.4" y="351.4" font-size="8.1" fill="#333">RuO<tspan dy="2" font-size="6">2</tspan></text>
<text x="14.6" y="193.8" font-size="18.5" font-weight="bold">d</text>
<text x="130.8" y="390.5" font-size="13" text-anchor="middle">Energy (eV)</text>
<text x="11" y="279" font-size="13" text-anchor="middle" transform="rotate(-90 11 279)">Intensity (a.u.)</text>
<clipPath id="ce"><rect x="256.5" y="202.3" width="193.6" height="155.7"/></clipPath><g clip-path="url(#ce)">
<path d="M256.5 355.2l0.3 0.3l0.3 0.3l0.2 0.2l0.3 0.2l0.3 0.2l0.3 0.2l0.2 0.2l0.3 0.1l0.3 0.1l0.3 0.1l0.2 0.1l0.3 0l0.3 0.1l0.3 0l0.3 0l0.2 0l0.3 0l0.3 -0.1l0.3 0l0.2 0l0.3 -0.1l0.3 0l0.3 -0.1l0.2 -0.1l0.3 -0.1l0.3 0l0.3 -0.1l0.3 -0.1l0.2 -0.1l0.3 -0.1l0.3 -0.1l0.3 0l0.2 -0.1l0.3 -0.1l0.3 -0.1l0.3 0l0.2 -0.1l0.3 0l0.3 -0.1l0.3 0l0.3 0l0.2 0l0.3 0l0.3 0l0.3 0l0.2 0.1l0.3 0.1l0.3 0l0.3 0.1l0.2 0.1l0.3 0.2l0.3 0.1l0.3 0.1l0.3 0.1l0.2 0.1l0.3 0.1l0.3 0.2l0.3 0l0.2 0.1l0.3 0.1l0.3 0l0.3 0l0.3 0l0.2 0l0.3 -0.1l0.3 0l0.3 -0.2l0.2 -0.1l0.3 -0.1l0.3 -0.2l0.3 -0.2l0.2 -0.2l0.3 -0.2l0.3 -0.2l0.3 -0.2l0.3 -0.2l0.2 -0.2l0.3 -0.1l0.3 -0.2l0.3 -0.2l0.2 -0.1l0.3 -0.1l0.3 -0.1l0.3 -0.1l0.2 0l0.3 -0.1l0.3 0l0.3 0l0.3 0l0.2 0l0.3 0l0.3 0l0.3 0l0.2 -0.1l0.3 0l0.3 0l0.3 -0.1l0.2 -0.1l0.3 0l0.3 -0.2l0.3 -0.1l0.3 -0.2l0.2 -0.2l0.3 -0.2l0.3 -0.2l0.3 -0.2l0.2 -0.3l0.3 -0.2l0.3 -0.3l0.3 -0.3l0.2 -0.3l0.3 -0.3l0.3 -0.4l0.3 -0.3l0.3 -0.3l0.2 -0.4l0.3 -0.3l0.3 -0.4l0.3 -0.3l0.2 -0.4l0.3 -0.3l0.3 -0.4l0.3 -0.3l0.2 -0.3l0.3 -0.3l0.3 -0.3l0.3 -0.2l0.3 -0.3l0.2 -0.2l0.3 -0.2l0.3 -0.1l0.3 -0.1l0.2 -0.1l0.3 0l0.3 0l0.3 0.1l0.2 0.1l0.3 0.2l0.3 0.2l0.3 0.3l0.3 0.4l0.2 0.3l0.3 0.5l0.3 0.4l0.3 0.5l0.2 0.6l0.3 0.5l0.3 0.6l0.3 0.6l0.2 0.6l0.3 0.6l0.3 0.6l0.3 0.5l0.3 0.5l0.2 0.4l0.3 0.3l0.3 0.1l0.3 0l0.2 -0.2l0.3 -0.3l0.3 -0.5l0.3 -0.6l0.3 -0.8l0.2 -0.9l0.3 -0.9l0.3 -1l0.3 -1.1l0.2 -1.1l0.3 -1.1l0.3 -1.1l0.3 -1.2l0.2 -1l0.3 -1.1l0.3 -1l0.3 -0.9l0.3 -0.9l0.2 -0.8l0.3 -0.7l0.3 -0.6l0.3 -0.4l0.2 -0.4l0.3 -0.2l0.3 0l0.3 0.1l0.2 0.2l0.3 0.3l0.3 0.5l0.3 0.6l0.3 0.6l0.2 0.8l0.3 0.8l0.3 0.8l0.3 0.8l0.2 0.7l0.3 0.7l0.3 0.5l0.3 0.4l0.2 0.2l0.3 0l0.3 -0.2l0.3 -0.4l0.3 -0.6l0.2 -0.8l0.3 -0.9l0.3 -1.2l0.3 -1.3l0.2 -1.5l0.3 -1.6l0.3 -1.7l0.3 -1.8l0.2 -1.9l0.3 -2l0.3 -1.9l0.3 -2l0.3 -2l0.2 -1.9l0.3 -1.9l0.3 -1.9l0.3 -1.8l0.2 -1.8l0.3 -1.7l0.3 -1.6l0.3 -1.6l0.2 -1.5l0.3 -1.4l0.3 -1.4l0.3 -1.2l0.3 -1.2l0.2 -1.1l0.3 -0.9l0.3 -0.9l0.3 -0.8l0.2 -0.8l0.3 -0.8l0.3 -0.8l0.3 -0.9l0.2 -0.9l0.3 -1l0.3 -1.2l0.3 -1.3l0.3 -1.4l0.2 -1.6l0.3 -1.7l0.3 -1.8l0.3 -2l0.2 -2.1l0.3 -2.1l0.3 -2.3l0.3 -2.3l0.2 -2.5l0.3 -2.5l0.3 -2.6l0.3 -2.6l0.3 -2.7l0.2 -2.7l0.3 -2.8l0.3 -2.7l0.3 -2.7l0.2 -2.8l0.3 -2.6l0.3 -2.7l0.3 -2.6l0.2 -2.5l0.3 -2.4l0.3 -2.4l0.3 -2.2l0.3 -2.2l0.2 -2l0.3 -1.8l0.3 -1.7l0.3 -1.5l0.2 -1.3l0.3 -1.2l0.3 -0.9l0.3 -0.8l0.3 -0.5l0.2 -0.3l0.3 -0.2l0.3 0.2l0.3 0.3l0.2 0.6l0.3 0.8l0.3 1l0.3 1.2l0.2 1.5l0.3 1.7l0.3 1.9l0.3 2.1l0.3 2.2l0.2 2.2l0.3 2.3l0.3 2.2l0.3 2.2l0.2 2l0.3 2l0.3 1.8l0.3 1.8l0.2 1.9l0.3 1.9l0.3 2l0.3 2.1l0.3 2.4l0.2 2.6l0.3 2.9l0.3 3.1l0.3 3.2l0.2 3.4l0.3 3.4l0.3 3.3l0.3 3.3l0.2 3.1l0.3 3.1l0.3 3.1l0.3 3.3l0.3 3.5l0.2 3.8l0.3 4.2l0.3 4.7l0.3 5.3l0.2 5.6l0.3 5.9l0.3 5.7l0.3 5.5l0.2 5l0.3 4.2l0.3 3.3l0.3 2.2l0.3 1.1l0.2 0.3l0.3 -0.5l0.3 -0.9l0.3 -1.2l0.2 -1.2l0.3 -1.2l0.3 -1.1l0.3 -0.9l0.2 -0.8l0.3 -0.6l0.3 -0.6l0.3 -0.4l0.3 -0.3l0.2 -0.2l0.3 -0.1l0.3 0l0.3 0.1l0.2 0.1l0.3 0.2l0.3 0.2l0.3 0.3l0.2 0.2l0.3 0.2l0.3 0.3l0.3 0.2l0.3 0.1l0.2 0.1l0.3 0.1l0.3 0l0.3 0l0.2 0l0.3 -0.1l0.3 0l0.3 -0.1l0.2 -0.1l0.3 -0.1l0.3 -0.1l0.3 -0.1l0.3 -0.1l0.2 -0.1l0.3 -0.1l0.3 -0.2l0.3 -0.1l0.2 -0.2l0.3 -0.2l0.3 -0.2l0.3 -0.2l0.3 -0.3l0.2 -0.3l0.3 -0.3l0.3 -0.4l0.3 -0.4l0.2 -0.4l0.3 -0.4l0.3 -0.6l0.3 -0.5l0.2 -0.6l0.3 -0.6l0.3 -0.7l0.3 -0.7l0.3 -0.7l0.2 -0.8l0.3 -0.7l0.3 -0.7l0.3 -0.7l0.2 -0.7l0.3 -0.7l0.3 -0.6l0.3 -0.6l0.2 -0.6l0.3 -0.5l0.3 -0.4l0.3 -0.4l0.3 -0.3l0.2 -0.2l0.3 -0.1l0.3 -0.1l0.3 0l0.2 0.2l0.3 0.2l0.3 0.3l0.3 0.4l0.2 0.5l0.3 0.6l0.3 0.7l0.3 0.7l0.3 0.9l0.2 1l0.3 1l0.3 1.1l0.3 1.1l0.2 1.2l0.3 1.3l0.3 1.3l0.3 1.4l0.2 1.4l0.3 1.4l0.3 1.4l0.3 1.3l0.3 1.3l0.2 1.3l0.3 1.1l0.3 1.1l0.3 1l0.2 0.8l0.3 0.7l0.3 0.5l0.3 0.3l0.2 0.1l0.3 -0.1l0.3 -0.2l0.3 -0.3l0.3 -0.4l0.2 -0.5l0.3 -0.6l0.3 -0.6l0.3 -0.6l0.2 -0.6l0.3 -0.6l0.3 -0.6l0.3 -0.6l0.2 -0.5l0.3 -0.6l0.3 -0.5l0.3 -0.5l0.3 -0.5l0.2 -0.5l0.3 -0.5l0.3 -0.4l0.3 -0.4l0.2 -0.4l0.3 -0.4l0.3 -0.3l0.3 -0.3l0.2 -0.3l0.3 -0.3l0.3 -0.3l0.3 -0.2l0.3 -0.2l0.2 -0.2l0.3 -0.2l0.3 -0.2l0.3 -0.1l0.2 -0.2l0.3 -0.1l0.3 -0.1l0.3 -0.1l0.2 -0.1l0.3 -0.1l0.3 -0.1l0.3 -0.1l0.3 -0.1l0.2 -0.1l0.3 -0.1l0.3 -0.1l0.3 -0.1l0.2 -0.1l0.3 -0.1l0.3 -0.1l0.3 -0.1l0.3 -0.1l0.2 -0.1l0.3 -0.2l0.3 -0.1l0.3 -0.2l0.2 -0.1l0.3 -0.2l0.3 -0.1l0.3 -0.2l0.2 -0.2l0.3 -0.2l0.3 -0.2l0.3 -0.2l0.3 -0.2l0.2 -0.2l0.3 -0.2l0.3 -0.2l0.3 -0.2l0.2 -0.2l0.3 -0.2l0.3 -0.2l0.3 -0.2l0.2 -0.2l0.3 -0.2l0.3 -0.2l0.3 -0.1l0.3 -0.2l0.2 -0.2l0.3 -0.1l0.3 -0.1l0.3 -0.1l0.2 -0.1l0.3 -0.1l0.3 0l0.3 0l0.2 0l0.3 0l0.3 0.1l0.3 0.1l0.3 0.2l0.2 0.2l0.3 0.2l0.3 0.3l0.3 0.3l0.2 0.3l0.3 0.4l0.3 0.4l0.3 0.5l0.2 0.5l0.3 0.5l0.3 0.6l0.3 0.6l0.3 0.7l0.2 0.7l0.3 0.8l0.3 0.8l0.3 0.8l0.2 0.8l0.3 0.9l0.3 0.9l0.3 0.9l0.2 0.9l0.3 0.9l0.3 0.9l0.3 0.9l0.3 0.9l0.2 0.9l0.3 0.8l0.3 0.8l0.3 0.6l0.2 0.6l0.3 0.5l0.3 0.3l0.3 0.1l0.2 0l0.3 -0.3l0.3 -0.4l0.3 -0.6l0.3 -0.7l0.2 -0.8l0.3 -0.8l0.3 -1l0.3 -0.9l0.2 -1l0.3 -0.9l0.3 -0.9l0.3 -0.8l0.2 -0.8l0.3 -0.7l0.3 -0.7l0.3 -0.6l0.3 -0.5l0.2 -0.5l0.3 -0.4l0.3 -0.3l0.3 -0.2l0.2 -0.2l0.3 -0.1l0.3 -0.1l0.3 0.1l0.3 0.1l0.2 0.2l0.3 0.2l0.3 0.4l0.3 0.3l0.2 0.4l0.3 0.5l0.3 0.5l0.3 0.5l0.2 0.5l0.3 0.6l0.3 0.6l0.3 0.6l0.3 0.6l0.2 0.6l0.3 0.7l0.3 0.6l0.3 0.6l0.2 0.6l0.3 0.6l0.3 0.6l0.3 0.5l0.2 0.6l0.3 0.5l0.3 0.5l0.3 0.4l0.3 0.5l0.2 0.4l0.3 0.3l0.3 0.3l0.3 0.2l0.2 0.3l0.3 0.1l0.3 0.2l0.3 0.1l0.2 0l0.3 0.1l0.3 0l0.3 0l0.3 -0.1l0.2 0l0.3 -0.1l0.3 -0.1l0.3 -0.1l0.2 -0.1l0.3 -0.1l0.3 -0.1l0.3 -0.2l0.2 -0.1l0.3 -0.2l0.3 -0.1l0.3 -0.2l0.3 -0.2l0.2 -0.1l0.3 -0.2l0.3 -0.2l0.3 -0.2l0.2 -0.1l0.3 -0.2l0.3 -0.2l0.3 -0.2l0.2 -0.1l0.3 -0.2l0.3 -0.1l0.3 -0.2l0.3 -0.1l0.2 -0.1l0.3 -0.2l0.3 -0.1l0.3 -0.1l0.2 -0.1l0.3 -0.1l0.3 -0.1l0.3 -0.1l0.2 -0.1l0.3 0l0.3 -0.1l0.3 -0.1l0.3 0l0.2 -0.1l0.3 0l0.3 -0.1l0.3 0l0.2 0l0.3 -0.1l0.3 0l0.3 0l0.2 0l0.3 0l0.3 -0.1l0.3 0l0.3 0l0.2 0l0.3 0l0.3 0l0.3 0l0.2 0l0.3 0l0.3 0l0.3 0l0.3 0l0.2 0l0.3 0l0.3 0l0.3 0.1l0.2 0l0.3 0l0.3 0l0.3 0l0.2 0l0.3 0" fill="none" stroke="#3cc163" stroke-width="1.5" stroke-linejoin="round" />
<path d="M256.5 356.3l0.3 0.2l0.3 0.2l0.2 0.1l0.3 0.2l0.3 0.1l0.3 0.1l0.2 0.1l0.3 0.1l0.3 0.1l0.3 0.1l0.2 0l0.3 0l0.3 0.1l0.3 0l0.3 0l0.2 0l0.3 -0.1l0.3 0l0.3 0l0.2 -0.1l0.3 0l0.3 -0.1l0.3 -0.1l0.2 0l0.3 -0.1l0.3 -0.1l0.3 -0.1l0.3 -0.1l0.2 -0.1l0.3 -0.1l0.3 0l0.3 -0.1l0.2 -0.1l0.3 -0.1l0.3 -0.1l0.3 -0.1l0.2 -0.1l0.3 -0.1l0.3 0l0.3 -0.1l0.3 -0.1l0.2 0l0.3 -0.1l0.3 0l0.3 -0.1l0.2 0l0.3 0l0.3 0l0.3 0l0.2 0l0.3 0l0.3 0l0.3 0l0.3 0l0.2 0.1l0.3 0l0.3 0.1l0.3 0l0.2 0.1l0.3 0l0.3 0l0.3 0.1l0.3 0l0.2 0.1l0.3 0l0.3 0.1l0.3 0l0.2 0l0.3 0.1l0.3 0l0.3 0l0.2 0l0.3 0l0.3 0l0.3 0l0.3 -0.1l0.2 0l0.3 0l0.3 -0.1l0.3 -0.1l0.2 0l0.3 -0.1l0.3 -0.1l0.3 -0.2l0.2 -0.1l0.3 -0.1l0.3 -0.2l0.3 -0.2l0.3 -0.2l0.2 -0.2l0.3 -0.2l0.3 -0.2l0.3 -0.3l0.2 -0.3l0.3 -0.3l0.3 -0.3l0.3 -0.3l0.2 -0.3l0.3 -0.4l0.3 -0.3l0.3 -0.3l0.3 -0.4l0.2 -0.3l0.3 -0.4l0.3 -0.3l0.3 -0.3l0.2 -0.3l0.3 -0.3l0.3 -0.3l0.3 -0.2l0.2 -0.2l0.3 -0.2l0.3 -0.2l0.3 -0.2l0.3 -0.1l0.2 -0.1l0.3 0l0.3 0l0.3 0l0.2 0.1l0.3 0l0.3 0.1l0.3 0.1l0.2 0.1l0.3 0.1l0.3 0.1l0.3 0.1l0.3 0l0.2 0l0.3 0l0.3 0l0.3 0l0.2 0l0.3 -0.1l0.3 -0.1l0.3 -0.1l0.2 -0.1l0.3 -0.1l0.3 -0.1l0.3 -0.1l0.3 -0.1l0.2 -0.2l0.3 -0.1l0.3 -0.2l0.3 -0.2l0.2 -0.3l0.3 -0.3l0.3 -0.3l0.3 -0.4l0.2 -0.5l0.3 -0.6l0.3 -0.6l0.3 -0.7l0.3 -0.7l0.2 -0.7l0.3 -0.8l0.3 -0.8l0.3 -0.8l0.2 -0.8l0.3 -0.7l0.3 -0.7l0.3 -0.7l0.3 -0.6l0.2 -0.6l0.3 -0.5l0.3 -0.4l0.3 -0.5l0.2 -0.3l0.3 -0.3l0.3 -0.3l0.3 -0.2l0.2 -0.2l0.3 -0.1l0.3 0l0.3 0l0.3 0l0.2 0.2l0.3 0.2l0.3 0.2l0.3 0.4l0.2 0.4l0.3 0.4l0.3 0.6l0.3 0.7l0.2 0.7l0.3 0.8l0.3 0.9l0.3 0.8l0.3 0.9l0.2 0.9l0.3 0.9l0.3 0.8l0.3 0.8l0.2 0.6l0.3 0.6l0.3 0.4l0.3 0.3l0.2 0.1l0.3 0l0.3 -0.2l0.3 -0.2l0.3 -0.3l0.2 -0.4l0.3 -0.5l0.3 -0.5l0.3 -0.5l0.2 -0.5l0.3 -0.6l0.3 -0.6l0.3 -0.6l0.2 -0.6l0.3 -0.7l0.3 -0.6l0.3 -0.7l0.3 -0.6l0.2 -0.7l0.3 -0.6l0.3 -0.7l0.3 -0.6l0.2 -0.7l0.3 -0.7l0.3 -0.7l0.3 -0.7l0.2 -0.7l0.3 -0.7l0.3 -0.8l0.3 -0.7l0.3 -0.8l0.2 -0.9l0.3 -0.8l0.3 -0.9l0.3 -0.9l0.2 -0.9l0.3 -1l0.3 -1l0.3 -1l0.2 -1.1l0.3 -1l0.3 -1.1l0.3 -1.2l0.3 -1.1l0.2 -1.2l0.3 -1.1l0.3 -1.2l0.3 -1.2l0.2 -1.2l0.3 -1.2l0.3 -1.2l0.3 -1.2l0.2 -1.2l0.3 -1.2l0.3 -1.2l0.3 -1.1l0.3 -1.2l0.2 -1.2l0.3 -1.1l0.3 -1.1l0.3 -1.2l0.2 -1.1l0.3 -1l0.3 -1.1l0.3 -1l0.2 -1.1l0.3 -0.9l0.3 -1l0.3 -0.9l0.3 -0.9l0.2 -0.8l0.3 -0.8l0.3 -0.8l0.3 -0.7l0.2 -0.6l0.3 -0.6l0.3 -0.5l0.3 -0.5l0.3 -0.4l0.2 -0.3l0.3 -0.2l0.3 -0.2l0.3 -0.1l0.2 0l0.3 0.1l0.3 0.1l0.3 0.2l0.2 0.3l0.3 0.4l0.3 0.5l0.3 0.5l0.3 0.6l0.2 0.6l0.3 0.7l0.3 0.8l0.3 0.8l0.2 0.9l0.3 0.9l0.3 0.9l0.3 1.1l0.2 1l0.3 1.1l0.3 1.2l0.3 1.2l0.3 1.3l0.2 1.3l0.3 1.3l0.3 1.4l0.3 1.4l0.2 1.4l0.3 1.5l0.3 1.4l0.3 1.5l0.2 1.5l0.3 1.5l0.3 1.5l0.3 1.6l0.3 1.4l0.2 1.5l0.3 1.5l0.3 1.4l0.3 1.5l0.2 1.4l0.3 1.4l0.3 1.3l0.3 1.3l0.2 1.3l0.3 1.3l0.3 1.2l0.3 1.1l0.3 1.1l0.2 1.1l0.3 1l0.3 1l0.3 0.9l0.2 0.9l0.3 0.8l0.3 0.7l0.3 0.7l0.2 0.7l0.3 0.6l0.3 0.5l0.3 0.5l0.3 0.5l0.2 0.4l0.3 0.4l0.3 0.4l0.3 0.4l0.2 0.3l0.3 0.3l0.3 0.3l0.3 0.3l0.2 0.3l0.3 0.3l0.3 0.3l0.3 0.2l0.3 0.3l0.2 0.2l0.3 0.2l0.3 0.2l0.3 0.2l0.2 0.1l0.3 0.1l0.3 0.1l0.3 0.1l0.2 0l0.3 0l0.3 -0.1l0.3 -0.1l0.3 -0.1l0.2 -0.1l0.3 -0.2l0.3 -0.1l0.3 -0.2l0.2 -0.2l0.3 -0.2l0.3 -0.2l0.3 -0.2l0.3 -0.2l0.2 -0.2l0.3 -0.2l0.3 -0.2l0.3 -0.1l0.2 -0.2l0.3 -0.1l0.3 -0.1l0.3 -0.1l0.2 0l0.3 -0.1l0.3 0l0.3 0l0.3 0l0.2 0.1l0.3 0l0.3 0.1l0.3 0.1l0.2 0.1l0.3 0.2l0.3 0.2l0.3 0.1l0.2 0.2l0.3 0.3l0.3 0.2l0.3 0.3l0.3 0.3l0.2 0.3l0.3 0.3l0.3 0.4l0.3 0.3l0.2 0.4l0.3 0.4l0.3 0.4l0.3 0.4l0.2 0.4l0.3 0.4l0.3 0.5l0.3 0.4l0.3 0.5l0.2 0.5l0.3 0.5l0.3 0.4l0.3 0.5l0.2 0.5l0.3 0.4l0.3 0.5l0.3 0.4l0.2 0.4l0.3 0.4l0.3 0.4l0.3 0.3l0.3 0.3l0.2 0.3l0.3 0.2l0.3 0.2l0.3 0.1l0.2 0.1l0.3 0.1l0.3 -0.1l0.3 0l0.2 -0.1l0.3 -0.2l0.3 -0.3l0.3 -0.3l0.3 -0.3l0.2 -0.4l0.3 -0.5l0.3 -0.4l0.3 -0.5l0.2 -0.6l0.3 -0.5l0.3 -0.6l0.3 -0.6l0.2 -0.5l0.3 -0.6l0.3 -0.6l0.3 -0.6l0.3 -0.6l0.2 -0.6l0.3 -0.6l0.3 -0.5l0.3 -0.5l0.2 -0.5l0.3 -0.5l0.3 -0.5l0.3 -0.4l0.2 -0.3l0.3 -0.4l0.3 -0.3l0.3 -0.2l0.3 -0.2l0.2 -0.2l0.3 0l0.3 -0.1l0.3 0.1l0.2 0l0.3 0.2l0.3 0.2l0.3 0.2l0.2 0.3l0.3 0.3l0.3 0.3l0.3 0.4l0.3 0.3l0.2 0.4l0.3 0.4l0.3 0.5l0.3 0.4l0.2 0.4l0.3 0.4l0.3 0.4l0.3 0.4l0.3 0.4l0.2 0.4l0.3 0.4l0.3 0.3l0.3 0.4l0.2 0.3l0.3 0.3l0.3 0.3l0.3 0.2l0.2 0.3l0.3 0.2l0.3 0.3l0.3 0.2l0.3 0.2l0.2 0.1l0.3 0.2l0.3 0.1l0.3 0.1l0.2 0.1l0.3 0.1l0.3 0.1l0.3 0l0.2 0l0.3 0l0.3 0l0.3 0l0.3 -0.1l0.2 0l0.3 -0.1l0.3 -0.1l0.3 0l0.2 -0.1l0.3 -0.1l0.3 -0.1l0.3 -0.1l0.2 0l0.3 -0.1l0.3 -0.1l0.3 -0.1l0.3 -0.1l0.2 -0.1l0.3 0l0.3 -0.1l0.3 0l0.2 -0.1l0.3 0l0.3 -0.1l0.3 0l0.2 -0.1l0.3 0l0.3 -0.1l0.3 0l0.3 -0.1l0.2 -0.1l0.3 -0.1l0.3 -0.1l0.3 -0.1l0.2 -0.1l0.3 -0.2l0.3 -0.2l0.3 -0.2l0.2 -0.2l0.3 -0.3l0.3 -0.2l0.3 -0.3l0.3 -0.3l0.2 -0.3l0.3 -0.3l0.3 -0.3l0.3 -0.3l0.2 -0.3l0.3 -0.2l0.3 -0.3l0.3 -0.3l0.2 -0.3l0.3 -0.2l0.3 -0.2l0.3 -0.3l0.3 -0.2l0.2 -0.1l0.3 -0.2l0.3 -0.1l0.3 -0.1l0.2 0l0.3 0l0.3 0l0.3 0l0.2 0.1l0.3 0.1l0.3 0.1l0.3 0.2l0.3 0.1l0.2 0.2l0.3 0.2l0.3 0.3l0.3 0.2l0.2 0.3l0.3 0.3l0.3 0.3l0.3 0.3l0.3 0.3l0.2 0.4l0.3 0.4l0.3 0.3l0.3 0.4l0.2 0.4l0.3 0.4l0.3 0.3l0.3 0.4l0.2 0.4l0.3 0.4l0.3 0.3l0.3 0.4l0.3 0.3l0.2 0.4l0.3 0.3l0.3 0.3l0.3 0.3l0.2 0.3l0.3 0.2l0.3 0.3l0.3 0.2l0.2 0.2l0.3 0.2l0.3 0.1l0.3 0.2l0.3 0.1l0.2 0.1l0.3 0.1l0.3 0.1l0.3 0.1l0.2 0.1l0.3 0l0.3 0l0.3 0.1l0.2 0l0.3 0l0.3 0l0.3 -0.1l0.3 0l0.2 0l0.3 -0.1l0.3 -0.1l0.3 0l0.2 -0.1l0.3 -0.1l0.3 -0.1l0.3 -0.1l0.2 -0.1l0.3 -0.1l0.3 -0.1l0.3 -0.1l0.3 -0.1l0.2 -0.1l0.3 -0.1l0.3 -0.1l0.3 -0.2l0.2 -0.1l0.3 -0.1l0.3 -0.1l0.3 -0.1l0.2 -0.1l0.3 -0.1l0.3 -0.1l0.3 -0.1l0.3 -0.1l0.2 -0.1l0.3 -0.1l0.3 0l0.3 -0.1l0.2 -0.1l0.3 0l0.3 -0.1l0.3 0l0.2 -0.1l0.3 0l0.3 -0.1l0.3 0l0.3 -0.1l0.2 0l0.3 0l0.3 0l0.3 0l0.2 -0.1l0.3 0l0.3 0l0.3 0l0.2 0l0.3 0l0.3 0l0.3 0l0.3 0l0.2 0l0.3 0.1l0.3 0l0.3 0l0.2 0l0.3 0.1l0.3 0l0.3 0l0.3 0.1l0.2 0l0.3 0l0.3 0.1l0.3 0l0.2 0.1l0.3 0l0.3 0l0.3 0.1l0.2 0l0.3 0.1" fill="none" stroke="#ef4030" stroke-width="1.5" stroke-linejoin="round" />
<path d="M256.5 355.9l0.3 0.2l0.3 0.2l0.2 0.1l0.3 0.2l0.3 0.1l0.3 0.1l0.2 0.1l0.3 0.1l0.3 0.1l0.3 0l0.2 0.1l0.3 0.1l0.3 0l0.3 0l0.3 0.1l0.2 0l0.3 0l0.3 0l0.3 0l0.2 0l0.3 0l0.3 -0.1l0.3 0l0.2 0l0.3 0l0.3 -0.1l0.3 0l0.3 -0.1l0.2 0l0.3 -0.1l0.3 0l0.3 -0.1l0.2 0l0.3 -0.1l0.3 0l0.3 -0.1l0.2 0l0.3 -0.1l0.3 0l0.3 -0.1l0.3 0l0.2 -0.1l0.3 0l0.3 -0.1l0.3 0l0.2 0l0.3 0l0.3 -0.1l0.3 0l0.2 0l0.3 0l0.3 0l0.3 0l0.3 0l0.2 0l0.3 0l0.3 -0.1l0.3 0l0.2 0l0.3 0l0.3 -0.1l0.3 0l0.3 -0.1l0.2 0l0.3 -0.1l0.3 -0.1l0.3 -0.1l0.2 -0.1l0.3 -0.1l0.3 -0.2l0.3 -0.1l0.2 -0.2l0.3 -0.2l0.3 -0.2l0.3 -0.2l0.3 -0.2l0.2 -0.2l0.3 -0.2l0.3 -0.2l0.3 -0.2l0.2 -0.2l0.3 -0.2l0.3 -0.1l0.3 -0.2l0.2 -0.1l0.3 -0.1l0.3 -0.1l0.3 -0.1l0.3 -0.1l0.2 0l0.3 0l0.3 0l0.3 0.1l0.2 0.1l0.3 0l0.3 0.1l0.3 0.1l0.2 0l0.3 0.1l0.3 0l0.3 0l0.3 0l0.2 0l0.3 -0.1l0.3 -0.1l0.3 -0.1l0.2 -0.2l0.3 -0.2l0.3 -0.3l0.3 -0.4l0.2 -0.4l0.3 -0.4l0.3 -0.5l0.3 -0.6l0.3 -0.6l0.2 -0.7l0.3 -0.8l0.3 -0.8l0.3 -0.9l0.2 -0.9l0.3 -0.9l0.3 -1l0.3 -1l0.2 -1l0.3 -0.9l0.3 -1l0.3 -0.9l0.3 -0.9l0.2 -0.9l0.3 -0.8l0.3 -0.9l0.3 -0.8l0.2 -0.8l0.3 -0.8l0.3 -0.7l0.3 -0.8l0.2 -0.8l0.3 -0.7l0.3 -0.8l0.3 -0.8l0.3 -0.7l0.2 -0.8l0.3 -0.8l0.3 -0.7l0.3 -0.8l0.2 -0.8l0.3 -0.8l0.3 -0.8l0.3 -0.8l0.2 -0.8l0.3 -0.8l0.3 -0.9l0.3 -0.8l0.3 -0.8l0.2 -0.8l0.3 -0.8l0.3 -0.8l0.3 -0.8l0.2 -0.8l0.3 -0.7l0.3 -0.7l0.3 -0.7l0.3 -0.6l0.2 -0.5l0.3 -0.5l0.3 -0.5l0.3 -0.3l0.2 -0.3l0.3 -0.2l0.3 -0.2l0.3 0l0.2 0.1l0.3 0.2l0.3 0.4l0.3 0.5l0.3 0.7l0.2 0.9l0.3 1.1l0.3 1.4l0.3 1.6l0.2 1.8l0.3 2.1l0.3 2.2l0.3 2.3l0.2 2.4l0.3 2.4l0.3 2.5l0.3 2.4l0.3 2.4l0.2 2.2l0.3 2.1l0.3 2l0.3 1.7l0.2 1.6l0.3 1.5l0.3 1.3l0.3 1.1l0.2 1.1l0.3 0.9l0.3 0.8l0.3 0.7l0.3 0.6l0.2 0.5l0.3 0.4l0.3 0.3l0.3 0.2l0.2 0l0.3 0l0.3 -0.2l0.3 -0.2l0.2 -0.2l0.3 -0.2l0.3 -0.3l0.3 -0.2l0.3 -0.2l0.2 -0.1l0.3 -0.1l0.3 0.1l0.3 0.1l0.2 0.1l0.3 0.3l0.3 0.3l0.3 0.4l0.2 0.4l0.3 0.5l0.3 0.5l0.3 0.6l0.3 0.5l0.2 0.4l0.3 0.5l0.3 0.4l0.3 0.3l0.2 0.2l0.3 0.3l0.3 0.1l0.3 0.2l0.2 0.1l0.3 0l0.3 0l0.3 0l0.3 -0.1l0.2 -0.1l0.3 -0.1l0.3 -0.2l0.3 -0.2l0.2 -0.2l0.3 -0.2l0.3 -0.3l0.3 -0.2l0.2 -0.3l0.3 -0.2l0.3 -0.3l0.3 -0.3l0.3 -0.3l0.2 -0.2l0.3 -0.3l0.3 -0.2l0.3 -0.3l0.2 -0.2l0.3 -0.2l0.3 -0.2l0.3 -0.1l0.2 -0.2l0.3 -0.2l0.3 -0.1l0.3 -0.2l0.3 -0.1l0.2 -0.1l0.3 -0.2l0.3 -0.1l0.3 -0.1l0.2 -0.1l0.3 -0.1l0.3 -0.2l0.3 -0.1l0.3 -0.1l0.2 -0.1l0.3 -0.2l0.3 -0.1l0.3 -0.2l0.2 -0.2l0.3 -0.2l0.3 -0.2l0.3 -0.2l0.2 -0.3l0.3 -0.2l0.3 -0.3l0.3 -0.3l0.3 -0.4l0.2 -0.3l0.3 -0.4l0.3 -0.4l0.3 -0.5l0.2 -0.4l0.3 -0.5l0.3 -0.4l0.3 -0.5l0.2 -0.5l0.3 -0.4l0.3 -0.5l0.3 -0.4l0.3 -0.4l0.2 -0.4l0.3 -0.4l0.3 -0.4l0.3 -0.3l0.2 -0.3l0.3 -0.2l0.3 -0.3l0.3 -0.2l0.2 -0.1l0.3 -0.2l0.3 -0.1l0.3 -0.1l0.3 -0.1l0.2 -0.1l0.3 -0.1l0.3 -0.1l0.3 0l0.2 -0.1l0.3 0l0.3 -0.1l0.3 -0.1l0.2 0l0.3 -0.1l0.3 -0.1l0.3 -0.1l0.3 -0.1l0.2 -0.1l0.3 -0.2l0.3 -0.1l0.3 -0.2l0.2 -0.2l0.3 -0.2l0.3 -0.2l0.3 -0.2l0.2 -0.2l0.3 -0.2l0.3 -0.2l0.3 -0.3l0.3 -0.2l0.2 -0.2l0.3 -0.2l0.3 -0.2l0.3 -0.2l0.2 -0.2l0.3 -0.2l0.3 -0.1l0.3 -0.2l0.2 -0.2l0.3 -0.1l0.3 -0.1l0.3 -0.1l0.3 -0.1l0.2 -0.1l0.3 -0.1l0.3 -0.1l0.3 -0.2l0.2 -0.1l0.3 -0.1l0.3 -0.1l0.3 -0.2l0.2 -0.1l0.3 -0.2l0.3 -0.2l0.3 -0.2l0.3 -0.2l0.2 -0.2l0.3 -0.2l0.3 -0.2l0.3 -0.2l0.2 -0.1l0.3 -0.1l0.3 -0.1l0.3 -0.1l0.3 0l0.2 0.1l0.3 0.1l0.3 0.2l0.3 0.3l0.2 0.3l0.3 0.3l0.3 0.4l0.3 0.5l0.2 0.5l0.3 0.5l0.3 0.6l0.3 0.6l0.3 0.7l0.2 0.7l0.3 0.8l0.3 0.8l0.3 0.8l0.2 0.8l0.3 0.9l0.3 0.8l0.3 0.9l0.2 0.8l0.3 0.9l0.3 0.8l0.3 0.8l0.3 0.8l0.2 0.8l0.3 0.7l0.3 0.7l0.3 0.6l0.2 0.6l0.3 0.6l0.3 0.4l0.3 0.4l0.2 0.4l0.3 0.3l0.3 0.3l0.3 0.2l0.3 0.2l0.2 0.2l0.3 0.1l0.3 0.1l0.3 0.1l0.2 0l0.3 0.1l0.3 0l0.3 0.1l0.2 0l0.3 0l0.3 0.1l0.3 0l0.3 0.1l0.2 0.1l0.3 0l0.3 0.1l0.3 0l0.2 0.1l0.3 0.1l0.3 0l0.3 0.1l0.2 0l0.3 0l0.3 0l0.3 0l0.3 0l0.2 0l0.3 0l0.3 -0.1l0.3 0l0.2 -0.1l0.3 0l0.3 -0.1l0.3 -0.1l0.2 -0.1l0.3 -0.1l0.3 0l0.3 -0.1l0.3 -0.1l0.2 -0.1l0.3 -0.1l0.3 -0.1l0.3 -0.1l0.2 -0.1l0.3 0l0.3 -0.1l0.3 -0.1l0.2 -0.1l0.3 0l0.3 -0.1l0.3 0l0.3 0l0.2 0l0.3 0l0.3 0l0.3 0l0.2 0l0.3 0l0.3 0l0.3 0.1l0.2 0l0.3 0.1l0.3 0l0.3 0.1l0.3 0l0.2 0.1l0.3 0.1l0.3 0.1l0.3 0l0.2 0.1l0.3 0.1l0.3 0.1l0.3 0l0.3 0.1l0.2 0.1l0.3 0.1l0.3 0.1l0.3 0l0.2 0.1l0.3 0.1l0.3 0.1l0.3 0l0.2 0.1l0.3 0.1l0.3 0l0.3 0.1l0.3 0.1l0.2 0l0.3 0.1l0.3 0l0.3 0.1l0.2 0l0.3 0.1l0.3 0l0.3 0l0.2 0.1l0.3 0l0.3 0l0.3 0.1l0.3 0l0.2 0l0.3 0l0.3 0l0.3 0l0.2 0l0.3 0l0.3 0l0.3 0l0.2 0l0.3 -0.1l0.3 0l0.3 0l0.3 -0.1l0.2 0l0.3 -0.1l0.3 -0.1l0.3 0l0.2 -0.1l0.3 -0.1l0.3 -0.1l0.3 -0.1l0.2 -0.1l0.3 -0.1l0.3 -0.1l0.3 -0.1l0.3 -0.2l0.2 -0.1l0.3 -0.1l0.3 -0.2l0.3 -0.1l0.2 -0.2l0.3 -0.1l0.3 -0.2l0.3 -0.1l0.2 -0.2l0.3 -0.2l0.3 -0.1l0.3 -0.2l0.3 -0.2l0.2 -0.1l0.3 -0.2l0.3 -0.2l0.3 -0.1l0.2 -0.2l0.3 -0.2l0.3 -0.1l0.3 -0.2l0.2 -0.1l0.3 -0.2l0.3 -0.1l0.3 -0.2l0.3 -0.2l0.2 -0.1l0.3 -0.2l0.3 -0.1l0.3 -0.2l0.2 -0.1l0.3 -0.2l0.3 -0.1l0.3 -0.1l0.2 -0.2l0.3 -0.1l0.3 -0.2l0.3 -0.1l0.3 -0.1l0.2 -0.2l0.3 -0.1l0.3 -0.1l0.3 -0.2l0.2 -0.1l0.3 -0.1l0.3 -0.1l0.3 -0.2l0.3 0l0.2 -0.1l0.3 -0.1l0.3 -0.1l0.3 0l0.2 0l0.3 0l0.3 0l0.3 0l0.2 0.1l0.3 0.1l0.3 0.1l0.3 0.1l0.3 0.1l0.2 0.1l0.3 0.2l0.3 0.1l0.3 0.2l0.2 0.2l0.3 0.2l0.3 0.2l0.3 0.2l0.2 0.3l0.3 0.2l0.3 0.2l0.3 0.3l0.3 0.2l0.2 0.3l0.3 0.3l0.3 0.2l0.3 0.3l0.2 0.3l0.3 0.2l0.3 0.3l0.3 0.3l0.2 0.3l0.3 0.2l0.3 0.3l0.3 0.3l0.3 0.2l0.2 0.3l0.3 0.3l0.3 0.2l0.3 0.3l0.2 0.2l0.3 0.3l0.3 0.2l0.3 0.2l0.2 0.3l0.3 0.2l0.3 0.2l0.3 0.2l0.3 0.1l0.2 0.2l0.3 0.2l0.3 0.1l0.3 0.2l0.2 0.1l0.3 0.1l0.3 0.1l0.3 0.1l0.2 0.1l0.3 0l0.3 0.1l0.3 0l0.3 0l0.2 0.1l0.3 0l0.3 -0.1l0.3 0l0.2 0l0.3 0l0.3 -0.1l0.3 0l0.2 -0.1l0.3 -0.1l0.3 0l0.3 -0.1l0.3 -0.1l0.2 -0.1l0.3 0l0.3 -0.1l0.3 -0.1l0.2 -0.1l0.3 -0.1l0.3 -0.1l0.3 -0.1l0.2 -0.1l0.3 0l0.3 -0.1l0.3 -0.1l0.3 -0.1l0.2 0l0.3 -0.1l0.3 0l0.3 -0.1l0.2 0l0.3 -0.1l0.3 0l0.3 0l0.3 0l0.2 0l0.3 0l0.3 0.1l0.3 0l0.2 0.1l0.3 0l0.3 0.1l0.3 0.1l0.2 0.1l0.3 0.2" fill="none" stroke="#2f4f9a" stroke-width="1.5" stroke-linejoin="round" />
<line x1="335.1" y1="208" x2="335.1" y2="292.2" stroke="#555" stroke-width="0.9" stroke-dasharray="2 1.6"/>
</g>
<rect x="256.5" y="202.3" width="193.6" height="155.7" fill="none" stroke="#3a3a3a" stroke-width="1.1"/>
<line x1="256.5" y1="358" x2="256.5" y2="361" stroke="#3a3a3a" stroke-width="1" />
<line x1="321" y1="358" x2="321" y2="361" stroke="#3a3a3a" stroke-width="1" />
<line x1="385.6" y1="358" x2="385.6" y2="361" stroke="#3a3a3a" stroke-width="1" />
<line x1="450.1" y1="358" x2="450.1" y2="361" stroke="#3a3a3a" stroke-width="1" />
<line x1="288.8" y1="358" x2="288.8" y2="360" stroke="#3a3a3a" stroke-width="1" />
<line x1="353.3" y1="358" x2="353.3" y2="360" stroke="#3a3a3a" stroke-width="1" />
<line x1="417.9" y1="358" x2="417.9" y2="360" stroke="#3a3a3a" stroke-width="1" />
<text x="256.5" y="371.2" font-size="10" text-anchor="middle" fill="#111">0</text>
<text x="321" y="371.2" font-size="10" text-anchor="middle" fill="#111">2</text>
<text x="385.6" y="371.2" font-size="10" text-anchor="middle" fill="#111">4</text>
<text x="450.1" y="371.2" font-size="10" text-anchor="middle" fill="#111">6</text>
<line x1="253.5" y1="358" x2="256.5" y2="358" stroke="#3a3a3a" stroke-width="1" />
<line x1="253.5" y1="323.4" x2="256.5" y2="323.4" stroke="#3a3a3a" stroke-width="1" />
<line x1="253.5" y1="288.8" x2="256.5" y2="288.8" stroke="#3a3a3a" stroke-width="1" />
<line x1="253.5" y1="254.2" x2="256.5" y2="254.2" stroke="#3a3a3a" stroke-width="1" />
<line x1="253.5" y1="219.6" x2="256.5" y2="219.6" stroke="#3a3a3a" stroke-width="1" />
<line x1="254.5" y1="340.7" x2="256.5" y2="340.7" stroke="#3a3a3a" stroke-width="1" />
<line x1="254.5" y1="306.1" x2="256.5" y2="306.1" stroke="#3a3a3a" stroke-width="1" />
<line x1="254.5" y1="271.5" x2="256.5" y2="271.5" stroke="#3a3a3a" stroke-width="1" />
<line x1="254.5" y1="236.9" x2="256.5" y2="236.9" stroke="#3a3a3a" stroke-width="1" />
<line x1="254.5" y1="202.3" x2="256.5" y2="202.3" stroke="#3a3a3a" stroke-width="1" />
<text x="251.6" y="361.5" font-size="10" text-anchor="end" fill="#111">0</text>
<text x="251.6" y="326.9" font-size="10" text-anchor="end" fill="#111">1</text>
<text x="251.6" y="292.3" font-size="10" text-anchor="end" fill="#111">2</text>
<text x="251.6" y="257.7" font-size="10" text-anchor="end" fill="#111">3</text>
<text x="251.6" y="223.1" font-size="10" text-anchor="end" fill="#111">4</text>
<line x1="364.3" y1="209.4" x2="379.5" y2="209.4" stroke="#3cc163" stroke-width="1.3" />
<text x="384.3" y="212.4" font-size="8.1" fill="#333">Ru foil</text>
<line x1="364.3" y1="218.8" x2="379.5" y2="218.8" stroke="#ef4030" stroke-width="1.3" />
<text x="384.3" y="221.8" font-size="8.1" fill="#333">RuMo@MoOx-JH</text>
<line x1="364.3" y1="228.1" x2="379.5" y2="228.1" stroke="#2f4f9a" stroke-width="1.3" />
<text x="384.3" y="231.1" font-size="8.1" fill="#333">RuO<tspan dy="2" font-size="6">2</tspan></text>
<line x1="334.8" y1="279" x2="352.5" y2="265.2" stroke="#ef4030" stroke-width="1" />
<path d="M355.3 263 l-4.6 1.0 2.3 2.9z" fill="#ef4030"/>
<text x="356" y="266.4" font-size="8.2" fill="#ef4030">Ru-Mo</text>
<line x1="303.5" y1="331" x2="296.3" y2="317.2" stroke="#2f4f9a" stroke-width="1" />
<path d="M295 314.6 l-0.4 4.6 3.3-1.7z" fill="#2f4f9a"/>
<text x="276.9" y="311.8" font-size="8.2" fill="#2f4f9a">Ru-O</text>
<text x="234.5" y="194" font-size="18.5" font-weight="bold">e</text>
<text x="353.3" y="390.5" font-size="13" text-anchor="middle">Radial distance (Å)</text>
<text x="239.5" y="283.4" font-size="13" text-anchor="middle" transform="rotate(-90 239.5 283.4)">|FT <tspan font-style="italic">k</tspan><tspan dy="-4" font-size="8.5">2</tspan><tspan dy="4" font-style="italic">c</tspan>(<tspan font-style="italic">k</tspan>)|</text>
<clipPath id="cf"><rect x="482.9" y="201.1" width="193.5" height="155.8"/></clipPath><g clip-path="url(#cf)">
<path d="M482.9 284.6l0.2 0.3l0.2 0.2l0.2 0.3l0.3 0.2l0.2 0.3l0.2 0.2l0.2 0.2l0.2 0.2l0.2 0.2l0.3 0.2l0.2 0.1l0.2 0.2l0.2 0.1l0.2 0.2l0.2 0.1l0.2 0.1l0.3 0.2l0.2 0.1l0.2 0.1l0.2 0l0.2 0.1l0.2 0.1l0.3 0l0.2 0.1l0.2 0l0.2 0l0.2 0.1l0.2 0l0.2 0l0.3 0l0.2 -0.1l0.2 0l0.2 -0.1l0.2 0l0.2 -0.1l0.2 -0.1l0.3 0l0.2 -0.1l0.2 -0.1l0.2 -0.2l0.2 -0.1l0.2 -0.1l0.3 -0.2l0.2 -0.1l0.2 -0.2l0.2 -0.2l0.2 -0.2l0.2 -0.2l0.2 -0.2l0.3 -0.2l0.2 -0.3l0.2 -0.2l0.2 -0.3l0.2 -0.2l0.2 -0.3l0.3 -0.3l0.2 -0.3l0.2 -0.3l0.2 -0.3l0.2 -0.4l0.2 -0.3l0.2 -0.4l0.3 -0.3l0.2 -0.4l0.2 -0.4l0.2 -0.3l0.2 -0.4l0.2 -0.4l0.3 -0.3l0.2 -0.4l0.2 -0.3l0.2 -0.4l0.2 -0.3l0.2 -0.3l0.2 -0.3l0.3 -0.2l0.2 -0.3l0.2 -0.2l0.2 -0.2l0.2 -0.2l0.2 -0.1l0.2 -0.1l0.3 -0.1l0.2 -0.1l0.2 0l0.2 0.1l0.2 0l0.2 0.2l0.3 0.1l0.2 0.2l0.2 0.3l0.2 0.3l0.2 0.3l0.2 0.3l0.2 0.4l0.3 0.4l0.2 0.4l0.2 0.5l0.2 0.5l0.2 0.5l0.2 0.4l0.3 0.6l0.2 0.5l0.2 0.5l0.2 0.5l0.2 0.5l0.2 0.5l0.2 0.5l0.3 0.5l0.2 0.4l0.2 0.5l0.2 0.4l0.2 0.4l0.2 0.4l0.3 0.3l0.2 0.3l0.2 0.3l0.2 0.3l0.2 0.2l0.2 0.1l0.2 0.1l0.3 0.1l0.2 0.1l0.2 0.1l0.2 0l0.2 0l0.2 0l0.3 0l0.2 -0.1l0.2 0l0.2 0l0.2 -0.1l0.2 0l0.2 0l0.3 0l0.2 0l0.2 0l0.2 0l0.2 0.1l0.2 0l0.2 0l0.3 0.1l0.2 0l0.2 0l0.2 0l0.2 0l0.2 0l0.3 0l0.2 -0.1l0.2 -0.1l0.2 -0.1l0.2 -0.1l0.2 -0.2l0.2 -0.2l0.3 -0.2l0.2 -0.2l0.2 -0.3l0.2 -0.4l0.2 -0.3l0.2 -0.4l0.3 -0.4l0.2 -0.4l0.2 -0.5l0.2 -0.4l0.2 -0.5l0.2 -0.5l0.2 -0.5l0.3 -0.4l0.2 -0.6l0.2 -0.5l0.2 -0.5l0.2 -0.5l0.2 -0.5l0.3 -0.5l0.2 -0.5l0.2 -0.4l0.2 -0.5l0.2 -0.4l0.2 -0.5l0.2 -0.4l0.3 -0.4l0.2 -0.3l0.2 -0.4l0.2 -0.3l0.2 -0.3l0.2 -0.2l0.2 -0.2l0.3 -0.2l0.2 -0.1l0.2 -0.1l0.2 -0.1l0.2 0l0.2 0.1l0.3 0.1l0.2 0.1l0.2 0.2l0.2 0.2l0.2 0.3l0.2 0.3l0.2 0.3l0.3 0.4l0.2 0.4l0.2 0.4l0.2 0.5l0.2 0.4l0.2 0.5l0.3 0.5l0.2 0.6l0.2 0.5l0.2 0.5l0.2 0.6l0.2 0.5l0.2 0.6l0.3 0.5l0.2 0.6l0.2 0.5l0.2 0.5l0.2 0.6l0.2 0.5l0.3 0.5l0.2 0.5l0.2 0.4l0.2 0.4l0.2 0.4l0.2 0.4l0.2 0.4l0.3 0.3l0.2 0.3l0.2 0.3l0.2 0.2l0.2 0.3l0.2 0.2l0.3 0.2l0.2 0.1l0.2 0.2l0.2 0.1l0.2 0.1l0.2 0.1l0.2 0l0.3 0l0.2 0l0.2 0l0.2 0l0.2 0l0.2 -0.1l0.2 -0.1l0.3 -0.1l0.2 -0.1l0.2 -0.2l0.2 -0.1l0.2 -0.2l0.2 -0.2l0.3 -0.2l0.2 -0.2l0.2 -0.3l0.2 -0.3l0.2 -0.3l0.2 -0.3l0.2 -0.4l0.3 -0.4l0.2 -0.4l0.2 -0.5l0.2 -0.5l0.2 -0.5l0.2 -0.6l0.3 -0.6l0.2 -0.7l0.2 -0.7l0.2 -0.7l0.2 -0.8l0.2 -0.9l0.2 -0.9l0.3 -0.9l0.2 -0.9l0.2 -0.9l0.2 -0.9l0.2 -0.9l0.2 -0.8l0.3 -0.8l0.2 -0.7l0.2 -0.7l0.2 -0.6l0.2 -0.5l0.2 -0.4l0.2 -0.3l0.3 -0.1l0.2 -0.1l0.2 0.2l0.2 0.3l0.2 0.4l0.2 0.6l0.2 0.8l0.3 0.9l0.2 1l0.2 1.1l0.2 1.2l0.2 1.3l0.2 1.4l0.3 1.4l0.2 1.6l0.2 1.6l0.2 1.6l0.2 1.7l0.2 1.7l0.2 1.7l0.3 1.7l0.2 1.7l0.2 1.6l0.2 1.6l0.2 1.5l0.2 1.5l0.3 1.3l0.2 1.2l0.2 1.1l0.2 1l0.2 0.7l0.2 0.6l0.2 0.4l0.3 0.2l0.2 -0.1l0.2 -0.2l0.2 -0.5l0.2 -0.6l0.2 -0.7l0.3 -0.9l0.2 -1l0.2 -1.1l0.2 -1.2l0.2 -1.3l0.2 -1.3l0.2 -1.4l0.3 -1.4l0.2 -1.4l0.2 -1.5l0.2 -1.4l0.2 -1.4l0.2 -1.3l0.3 -1.2l0.2 -1.2l0.2 -1.2l0.2 -1.1l0.2 -1l0.2 -1l0.2 -0.9l0.3 -0.9l0.2 -0.9l0.2 -0.8l0.2 -0.8l0.2 -0.7l0.2 -0.7l0.2 -0.7l0.3 -0.7l0.2 -0.6l0.2 -0.7l0.2 -0.6l0.2 -0.6l0.2 -0.6l0.3 -0.6l0.2 -0.6l0.2 -0.6l0.2 -0.6l0.2 -0.6l0.2 -0.6l0.2 -0.5l0.3 -0.6l0.2 -0.5l0.2 -0.5l0.2 -0.5l0.2 -0.4l0.2 -0.4l0.3 -0.3l0.2 -0.3l0.2 -0.3l0.2 -0.1l0.2 -0.1l0.2 -0.1l0.2 0.1l0.3 0.1l0.2 0.2l0.2 0.3l0.2 0.4l0.2 0.5l0.2 0.5l0.3 0.7l0.2 0.7l0.2 0.9l0.2 0.9l0.2 0.9l0.2 1.1l0.2 1.2l0.3 1.2l0.2 1.2l0.2 1.4l0.2 1.4l0.2 1.5l0.2 1.5l0.2 1.6l0.3 1.7l0.2 1.7l0.2 1.8l0.2 1.8l0.2 1.9l0.2 1.9l0.3 1.9l0.2 2l0.2 1.9l0.2 1.9l0.2 1.9l0.2 1.9l0.2 1.8l0.3 1.8l0.2 1.7l0.2 1.6l0.2 1.5l0.2 1.4l0.2 1.3l0.3 1.2l0.2 1l0.2 0.8l0.2 0.7l0.2 0.5l0.2 0.4l0.2 0.1l0.3 -0.1l0.2 -0.2l0.2 -0.5l0.2 -0.6l0.2 -0.9l0.2 -0.9l0.3 -1.2l0.2 -1.2l0.2 -1.4l0.2 -1.6l0.2 -1.6l0.2 -1.8l0.2 -1.8l0.3 -2l0.2 -2l0.2 -2.1l0.2 -2.2l0.2 -2.3l0.2 -2.3l0.3 -2.3l0.2 -2.4l0.2 -2.4l0.2 -2.4l0.2 -2.4l0.2 -2.4l0.2 -2.5l0.3 -2.4l0.2 -2.4l0.2 -2.3l0.2 -2.3l0.2 -2.3l0.2 -2.2l0.2 -2.2l0.3 -2.1l0.2 -2l0.2 -2l0.2 -1.8l0.2 -1.8l0.2 -1.6l0.3 -1.6l0.2 -1.4l0.2 -1.3l0.2 -1.2l0.2 -1l0.2 -0.9l0.2 -0.7l0.3 -0.5l0.2 -0.4l0.2 -0.2l0.2 0l0.2 0.1l0.2 0.4l0.3 0.5l0.2 0.6l0.2 0.9l0.2 0.9l0.2 1.2l0.2 1.2l0.2 1.4l0.3 1.6l0.2 1.7l0.2 1.7l0.2 1.9l0.2 2l0.2 2.2l0.3 2.2l0.2 2.3l0.2 2.4l0.2 2.5l0.2 2.5l0.2 2.6l0.2 2.7l0.3 2.8l0.2 2.8l0.2 2.8l0.2 2.9l0.2 3l0.2 2.9l0.3 3l0.2 3l0.2 2.9l0.2 3l0.2 2.9l0.2 2.8l0.2 2.9l0.3 2.7l0.2 2.7l0.2 2.6l0.2 2.5l0.2 2.3l0.2 2.3l0.2 2.1l0.3 2l0.2 1.9l0.2 1.6l0.2 1.6l0.2 1.3l0.2 1.1l0.3 0.9l0.2 0.7l0.2 0.5l0.2 0.2l0.2 0l0.2 -0.3l0.2 -0.6l0.3 -0.8l0.2 -1.1l0.2 -1.3l0.2 -1.6l0.2 -1.8l0.2 -2l0.3 -2.2l0.2 -2.4l0.2 -2.5l0.2 -2.8l0.2 -2.9l0.2 -3l0.2 -3.2l0.3 -3.3l0.2 -3.4l0.2 -3.4l0.2 -3.6l0.2 -3.7l0.2 -3.7l0.3 -3.8l0.2 -3.8l0.2 -3.8l0.2 -3.8l0.2 -3.9l0.2 -3.8l0.2 -3.7l0.3 -3.7l0.2 -3.5l0.2 -3.5l0.2 -3.3l0.2 -3.1l0.2 -3l0.2 -2.7l0.3 -2.5l0.2 -2.3l0.2 -2l0.2 -1.8l0.2 -1.4l0.2 -1.1l0.3 -0.7l0.2 -0.3l0.2 0l0.2 0.4l0.2 0.9l0.2 1.3l0.2 1.6l0.3 1.9l0.2 2.1l0.2 2.4l0.2 2.6l0.2 2.6l0.2 2.8l0.3 2.8l0.2 2.8l0.2 2.8l0.2 2.7l0.2 2.5l0.2 2.4l0.2 2.2l0.3 1.9l0.2 1.6l0.2 1.4l0.2 1.1l0.2 1l0.2 0.8l0.3 0.8l0.2 0.7l0.2 0.8l0.2 0.8l0.2 0.9l0.2 1l0.2 1.2l0.3 1.3l0.2 1.4l0.2 1.5l0.2 1.7l0.2 1.7l0.2 1.9l0.3 2l0.2 2l0.2 2.2l0.2 2.2l0.2 2.3l0.2 2.4l0.2 2.5l0.3 2.4l0.2 2.5l0.2 2.4l0.2 2.4l0.2 2.3l0.2 2.1l0.2 2.1l0.3 1.9l0.2 1.7l0.2 1.5l0.2 1.3l0.2 1l0.2 0.7l0.3 0.5l0.2 0.1l0.2 -0.1l0.2 -0.5l0.2 -0.7l0.2 -0.9l0.2 -1.2l0.3 -1.5l0.2 -1.7l0.2 -1.8l0.2 -2.1l0.2 -2.3l0.2 -2.4l0.3 -2.6l0.2 -2.8l0.2 -2.9l0.2 -3.1l0.2 -3.1l0.2 -3.3l0.2 -3.4l0.3 -3.4l0.2 -3.5l0.2 -3.6l0.2 -3.6l0.2 -3.7l0.2 -3.7l0.3 -3.7l0.2 -3.7l0.2 -3.7l0.2 -3.7l0.2 -3.6l0.2 -3.5l0.2 -3.4l0.3 -3.4l0.2 -3.2l0.2 -3.1l0.2 -2.9l0.2 -2.8l0.2 -2.7l0.2 -2.4l0.3 -2.2l0.2 -2l0.2 -1.8l0.2 -1.5l0.2 -1.2l0.2 -1l0.3 -0.6l0.2 -0.3l0.2 -0.1l0.2 0.4l0.2 0.6l0.2 0.9l0.2 1.2l0.3 1.5l0.2 1.7l0.2 2l0.2 2.2l0.2 2.4l0.2 2.6l0.3 2.8l0.2 3l0.2 3.1l0.2 3.3l0.2 3.5l0.2 3.5l0.2 3.6l0.3 3.8l0.2 3.8l0.2 3.9l0.2 3.9l0.2 4l0.2 4l0.3 4l0.2 4l0.2 4l0.2 3.9l0.2 3.9l0.2 3.8l0.2 3.7l0.3 3.6l0.2 3.5l0.2 3.4l0.2 3.2l0.2 3.1l0.2 2.8l0.3 2.7l0.2 2.4l0.2 2.3l0.2 1.9l0.2 1.8l0.2 1.4l0.2 1.1l0.3 0.9l0.2 0.5l0.2 0.2l0.2 -0.2l0.2 -0.6l0.2 -1l0.2 -1.3l0.3 -1.8l0.2 -2.1l0.2 -2.4l0.2 -2.7l0.2 -3l0.2 -3.2l0.3 -3.3l0.2 -3.6l0.2 -3.6l0.2 -3.7l0.2 -3.8l0.2 -3.7l0.2 -3.8l0.3 -3.7l0.2 -3.6l0.2 -3.4l0.2 -3.4l0.2 -3.1l0.2 -2.9l0.3 -2.7l0.2 -2.5l0.2 -2.3l0.2 -2.1l0.2 -1.8l0.2 -1.6l0.2 -1.3l0.3 -1.1l0.2 -0.8l0.2 -0.6l0.2 -0.2l0.2 0l0.2 0.3l0.3 0.6l0.2 0.8l0.2 0.9l0.2 1l0.2 0.9l0.2 0.8l0.2 0.7l0.3 0.3l0.2 0.1l0.2 -0.3l0.2 -0.6l0.2 -0.9l0.2 -1.2l0.2 -1.3l0.3 -1.5l0.2 -1.6l0.2 -1.6l0.2 -1.6l0.2 -1.6l0.2 -1.6l0.3 -1.4l0.2 -1.2l0.2 -1.1l0.2 -0.8l0.2 -0.5l0.2 -0.2l0.2 0.1l0.3 0.4l0.2 0.7l0.2 0.9l0.2 1.1l0.2 1.4l0.2 1.5l0.3 1.8l0.2 2l0.2 2.1l0.2 2.3l0.2 2.4l0.2 2.6l0.2 2.6l0.3 2.8l0.2 2.9l0.2 2.9l0.2 3.1l0.2 3l0.2 3.1l0.3 3.2l0.2 3.1l0.2 3.1l0.2 3.1l0.2 3.1l0.2 3l0.2 3l0.3 2.8l0.2 2.7l0.2 2.6l0.2 2.5l0.2 2.2l0.2 2.1l0.3 1.9l0.2 1.6l0.2 1.4l0.2 1.1l0.2 0.8l0.2 0.5l0.2 0.2l0.3 -0.2l0.2 -0.5l0.2 -0.9l0.2 -1.3l0.2 -1.8l0.2 -2.2l0.2 -2.5l0.3 -2.9l0.2 -3.1l0.2 -3.4l0.2 -3.5l0.2 -3.6l0.2 -3.7l0.3 -3.7l0.2 -3.7l0.2 -3.5l0.2 -3.4l0.2 -3.2l0.2 -3l0.2 -2.7l0.3 -2.3l0.2 -2l0.2 -1.6l0.2 -1.2l0.2 -0.7l0.2 -0.1l0.3 0.3l0.2 0.8l0.2 1.1l0.2 1.3l0.2 1.3l0.2 1.4l0.2 1.1l0.3 0.9l0.2 0.6l0.2 0.1l0.2 -0.3l0.2 -0.7l0.2 -1.1l0.3 -1.3l0.2 -1.7l0.2 -1.8l0.2 -2.1l0.2 -2.2l0.2 -2.3l0.2 -2.4l0.3 -2.5l0.2 -2.5l0.2 -2.5l0.2 -2.5l0.2 -2.4l0.2 -2.4l0.2 -2.3l0.3 -2.2l0.2 -2.1l0.2 -2l0.2 -1.7l0.2 -1.6l0.2 -1.4l0.3 -1.2l0.2 -0.9l0.2 -0.7l0.2 -0.4l0.2 0l0.2 0.3l0.2 0.6l0.3 1l0.2 1.4l0.2 1.8l0.2 2.3l0.2 2.7l0.2 3.1l0.3 3.7l0.2 4.2l0.2 4.8l0.2 5.3" fill="none" stroke="#3cc163" stroke-width="1.4" stroke-linejoin="round" />
<path d="M482.9 284.6l0.2 -0.1l0.2 -0.1l0.2 0l0.3 -0.1l0.2 -0.1l0.2 0l0.2 -0.1l0.2 -0.1l0.2 0l0.3 -0.1l0.2 0l0.2 0l0.2 -0.1l0.2 0l0.2 0l0.2 -0.1l0.3 0l0.2 0l0.2 0l0.2 0l0.2 -0.1l0.2 0l0.3 0l0.2 0l0.2 0l0.2 0l0.2 0l0.2 0l0.2 0l0.3 0l0.2 0l0.2 0l0.2 0l0.2 0l0.2 0l0.2 0l0.3 0l0.2 0l0.2 0l0.2 0l0.2 0l0.2 0l0.3 -0.1l0.2 0l0.2 0l0.2 0l0.2 0l0.2 0l0.2 -0.1l0.3 0l0.2 0l0.2 -0.1l0.2 0l0.2 0l0.2 -0.1l0.3 0l0.2 -0.1l0.2 0l0.2 -0.1l0.2 -0.1l0.2 0l0.2 -0.1l0.3 -0.1l0.2 -0.1l0.2 0l0.2 -0.1l0.2 -0.1l0.2 -0.1l0.3 -0.1l0.2 0l0.2 -0.1l0.2 -0.1l0.2 0l0.2 -0.1l0.2 -0.1l0.3 0l0.2 0l0.2 -0.1l0.2 0l0.2 0l0.2 0l0.2 0l0.3 0l0.2 0.1l0.2 0l0.2 0.1l0.2 0.1l0.2 0.1l0.3 0.1l0.2 0.1l0.2 0.2l0.2 0.1l0.2 0.2l0.2 0.2l0.2 0.2l0.3 0.2l0.2 0.3l0.2 0.2l0.2 0.2l0.2 0.3l0.2 0.2l0.3 0.3l0.2 0.3l0.2 0.2l0.2 0.3l0.2 0.3l0.2 0.2l0.2 0.3l0.3 0.3l0.2 0.2l0.2 0.3l0.2 0.2l0.2 0.3l0.2 0.2l0.3 0.2l0.2 0.3l0.2 0.2l0.2 0.2l0.2 0.1l0.2 0.2l0.2 0.2l0.3 0.1l0.2 0.1l0.2 0.1l0.2 0.1l0.2 0.1l0.2 0.1l0.3 0l0.2 0.1l0.2 0l0.2 0l0.2 0l0.2 0l0.2 0l0.3 -0.1l0.2 0l0.2 -0.1l0.2 -0.1l0.2 -0.1l0.2 -0.1l0.2 -0.1l0.3 -0.1l0.2 -0.2l0.2 -0.2l0.2 -0.1l0.2 -0.2l0.2 -0.2l0.3 -0.2l0.2 -0.3l0.2 -0.2l0.2 -0.3l0.2 -0.2l0.2 -0.3l0.2 -0.3l0.3 -0.3l0.2 -0.3l0.2 -0.3l0.2 -0.4l0.2 -0.3l0.2 -0.4l0.3 -0.4l0.2 -0.3l0.2 -0.4l0.2 -0.4l0.2 -0.4l0.2 -0.4l0.2 -0.4l0.3 -0.4l0.2 -0.4l0.2 -0.4l0.2 -0.4l0.2 -0.3l0.2 -0.4l0.3 -0.4l0.2 -0.4l0.2 -0.3l0.2 -0.4l0.2 -0.3l0.2 -0.3l0.2 -0.3l0.3 -0.3l0.2 -0.3l0.2 -0.2l0.2 -0.2l0.2 -0.3l0.2 -0.1l0.2 -0.2l0.3 -0.2l0.2 -0.1l0.2 -0.1l0.2 0l0.2 0l0.2 0l0.3 0l0.2 0.1l0.2 0l0.2 0.2l0.2 0.1l0.2 0.2l0.2 0.2l0.3 0.2l0.2 0.2l0.2 0.3l0.2 0.2l0.2 0.3l0.2 0.3l0.3 0.3l0.2 0.4l0.2 0.3l0.2 0.3l0.2 0.4l0.2 0.4l0.2 0.3l0.3 0.4l0.2 0.4l0.2 0.4l0.2 0.4l0.2 0.4l0.2 0.3l0.3 0.4l0.2 0.4l0.2 0.4l0.2 0.3l0.2 0.4l0.2 0.3l0.2 0.4l0.3 0.3l0.2 0.3l0.2 0.3l0.2 0.3l0.2 0.3l0.2 0.2l0.3 0.2l0.2 0.3l0.2 0.2l0.2 0.1l0.2 0.2l0.2 0.1l0.2 0.2l0.3 0.1l0.2 0.1l0.2 0l0.2 0.1l0.2 0l0.2 0l0.2 0l0.3 -0.1l0.2 -0.1l0.2 -0.1l0.2 -0.1l0.2 -0.1l0.2 -0.2l0.3 -0.2l0.2 -0.2l0.2 -0.3l0.2 -0.2l0.2 -0.3l0.2 -0.4l0.2 -0.3l0.3 -0.4l0.2 -0.3l0.2 -0.4l0.2 -0.4l0.2 -0.4l0.2 -0.4l0.3 -0.4l0.2 -0.4l0.2 -0.4l0.2 -0.3l0.2 -0.4l0.2 -0.4l0.2 -0.3l0.3 -0.3l0.2 -0.3l0.2 -0.3l0.2 -0.2l0.2 -0.2l0.2 -0.2l0.3 -0.2l0.2 -0.1l0.2 0l0.2 -0.1l0.2 0.1l0.2 0l0.2 0.1l0.3 0.2l0.2 0.2l0.2 0.3l0.2 0.3l0.2 0.4l0.2 0.4l0.2 0.4l0.3 0.5l0.2 0.5l0.2 0.5l0.2 0.5l0.2 0.6l0.2 0.6l0.3 0.6l0.2 0.6l0.2 0.6l0.2 0.6l0.2 0.7l0.2 0.6l0.2 0.6l0.3 0.7l0.2 0.6l0.2 0.6l0.2 0.6l0.2 0.6l0.2 0.6l0.3 0.5l0.2 0.6l0.2 0.5l0.2 0.4l0.2 0.5l0.2 0.4l0.2 0.3l0.3 0.4l0.2 0.2l0.2 0.3l0.2 0.2l0.2 0.1l0.2 0.1l0.3 0l0.2 0l0.2 -0.1l0.2 -0.1l0.2 -0.2l0.2 -0.2l0.2 -0.3l0.3 -0.3l0.2 -0.3l0.2 -0.4l0.2 -0.5l0.2 -0.5l0.2 -0.5l0.3 -0.6l0.2 -0.7l0.2 -0.6l0.2 -0.8l0.2 -0.7l0.2 -0.8l0.2 -0.9l0.3 -0.9l0.2 -0.9l0.2 -1l0.2 -1l0.2 -1l0.2 -1.1l0.2 -1.2l0.3 -1.1l0.2 -1.2l0.2 -1.3l0.2 -1.2l0.2 -1.3l0.2 -1.3l0.3 -1.3l0.2 -1.3l0.2 -1.2l0.2 -1.3l0.2 -1.2l0.2 -1.2l0.2 -1.1l0.3 -1.1l0.2 -1.1l0.2 -0.9l0.2 -0.9l0.2 -0.9l0.2 -0.7l0.3 -0.6l0.2 -0.6l0.2 -0.4l0.2 -0.3l0.2 -0.2l0.2 -0.1l0.2 0.1l0.3 0.2l0.2 0.4l0.2 0.5l0.2 0.7l0.2 0.9l0.2 1l0.3 1.1l0.2 1.2l0.2 1.4l0.2 1.5l0.2 1.6l0.2 1.6l0.2 1.7l0.3 1.8l0.2 1.9l0.2 1.9l0.2 2l0.2 1.9l0.2 2l0.2 2l0.3 2l0.2 2l0.2 2l0.2 1.9l0.2 1.9l0.2 1.9l0.3 1.8l0.2 1.7l0.2 1.6l0.2 1.6l0.2 1.4l0.2 1.4l0.2 1.2l0.3 1.1l0.2 1l0.2 0.8l0.2 0.7l0.2 0.5l0.2 0.3l0.3 0.2l0.2 0l0.2 -0.1l0.2 -0.3l0.2 -0.3l0.2 -0.6l0.2 -0.6l0.3 -0.7l0.2 -0.9l0.2 -0.9l0.2 -1.1l0.2 -1.1l0.2 -1.2l0.3 -1.3l0.2 -1.3l0.2 -1.4l0.2 -1.5l0.2 -1.5l0.2 -1.5l0.2 -1.6l0.3 -1.6l0.2 -1.6l0.2 -1.6l0.2 -1.7l0.2 -1.6l0.2 -1.7l0.3 -1.6l0.2 -1.6l0.2 -1.6l0.2 -1.6l0.2 -1.6l0.2 -1.5l0.2 -1.5l0.3 -1.4l0.2 -1.4l0.2 -1.4l0.2 -1.3l0.2 -1.3l0.2 -1.3l0.2 -1.1l0.3 -1.1l0.2 -1.1l0.2 -1l0.2 -0.9l0.2 -0.8l0.2 -0.8l0.3 -0.7l0.2 -0.6l0.2 -0.5l0.2 -0.5l0.2 -0.3l0.2 -0.2l0.2 -0.2l0.3 0l0.2 0l0.2 0.2l0.2 0.3l0.2 0.4l0.2 0.5l0.3 0.6l0.2 0.7l0.2 0.8l0.2 0.9l0.2 1l0.2 1.1l0.2 1.2l0.3 1.3l0.2 1.3l0.2 1.4l0.2 1.6l0.2 1.6l0.2 1.6l0.3 1.8l0.2 1.8l0.2 1.9l0.2 1.9l0.2 2l0.2 2.1l0.2 2.1l0.3 2.1l0.2 2.2l0.2 2.2l0.2 2.3l0.2 2.2l0.2 2.1l0.3 2.1l0.2 2.1l0.2 2l0.2 1.9l0.2 1.7l0.2 1.7l0.2 1.5l0.3 1.4l0.2 1.1l0.2 1l0.2 0.8l0.2 0.6l0.2 0.4l0.2 0.1l0.3 -0.2l0.2 -0.4l0.2 -0.6l0.2 -0.8l0.2 -1.1l0.2 -1.2l0.3 -1.3l0.2 -1.6l0.2 -1.6l0.2 -1.8l0.2 -1.8l0.2 -2l0.2 -2l0.3 -2.1l0.2 -2.1l0.2 -2.2l0.2 -2.1l0.2 -2.2l0.2 -2.1l0.3 -2.1l0.2 -2.1l0.2 -2l0.2 -1.9l0.2 -1.9l0.2 -1.8l0.2 -1.7l0.3 -1.6l0.2 -1.6l0.2 -1.5l0.2 -1.3l0.2 -1.3l0.2 -1.2l0.3 -1.1l0.2 -1l0.2 -0.8l0.2 -0.8l0.2 -0.6l0.2 -0.5l0.2 -0.4l0.3 -0.3l0.2 -0.1l0.2 0l0.2 0.2l0.2 0.2l0.2 0.5l0.2 0.5l0.3 0.7l0.2 0.8l0.2 0.8l0.2 1l0.2 1l0.2 1.2l0.3 1.1l0.2 1.3l0.2 1.2l0.2 1.3l0.2 1.3l0.2 1.4l0.2 1.3l0.3 1.4l0.2 1.3l0.2 1.3l0.2 1.2l0.2 1.3l0.2 1.1l0.3 1.1l0.2 1.1l0.2 1l0.2 0.9l0.2 0.8l0.2 0.8l0.2 0.8l0.3 0.7l0.2 0.7l0.2 0.6l0.2 0.7l0.2 0.5l0.2 0.6l0.3 0.5l0.2 0.5l0.2 0.5l0.2 0.4l0.2 0.5l0.2 0.5l0.2 0.4l0.3 0.4l0.2 0.5l0.2 0.4l0.2 0.3l0.2 0.4l0.2 0.3l0.3 0.3l0.2 0.3l0.2 0.2l0.2 0.1l0.2 0.1l0.2 0.1l0.2 0l0.3 0l0.2 -0.2l0.2 -0.2l0.2 -0.2l0.2 -0.3l0.2 -0.4l0.2 -0.4l0.3 -0.5l0.2 -0.6l0.2 -0.6l0.2 -0.6l0.2 -0.7l0.2 -0.7l0.3 -0.8l0.2 -0.9l0.2 -0.8l0.2 -0.9l0.2 -1l0.2 -1l0.2 -1l0.3 -1.1l0.2 -1.1l0.2 -1.1l0.2 -1.1l0.2 -1.2l0.2 -1.2l0.3 -1.2l0.2 -1.2l0.2 -1.3l0.2 -1.3l0.2 -1.2l0.2 -1.3l0.2 -1.3l0.3 -1.2l0.2 -1.3l0.2 -1.2l0.2 -1.2l0.2 -1.2l0.2 -1.1l0.3 -1.1l0.2 -1.1l0.2 -1l0.2 -1l0.2 -0.8l0.2 -0.9l0.2 -0.7l0.3 -0.7l0.2 -0.6l0.2 -0.5l0.2 -0.4l0.2 -0.4l0.2 -0.2l0.2 -0.1l0.3 0l0.2 0.1l0.2 0.2l0.2 0.4l0.2 0.5l0.2 0.6l0.3 0.7l0.2 0.8l0.2 0.9l0.2 1l0.2 1l0.2 1.1l0.2 1.2l0.3 1.3l0.2 1.3l0.2 1.3l0.2 1.4l0.2 1.4l0.2 1.5l0.3 1.4l0.2 1.5l0.2 1.5l0.2 1.4l0.2 1.5l0.2 1.4l0.2 1.4l0.3 1.4l0.2 1.4l0.2 1.2l0.2 1.3l0.2 1.2l0.2 1.1l0.3 1l0.2 1l0.2 0.9l0.2 0.7l0.2 0.8l0.2 0.6l0.2 0.6l0.3 0.5l0.2 0.4l0.2 0.4l0.2 0.3l0.2 0.3l0.2 0.2l0.3 0.1l0.2 0.2l0.2 0l0.2 0.1l0.2 0l0.2 0l0.2 -0.1l0.3 -0.1l0.2 -0.1l0.2 -0.1l0.2 -0.1l0.2 -0.1l0.2 -0.2l0.2 -0.1l0.3 -0.2l0.2 -0.1l0.2 -0.2l0.2 -0.1l0.2 -0.1l0.2 -0.2l0.3 -0.1l0.2 -0.2l0.2 -0.2l0.2 -0.1l0.2 -0.2l0.2 -0.2l0.2 -0.3l0.3 -0.2l0.2 -0.3l0.2 -0.3l0.2 -0.4l0.2 -0.3l0.2 -0.4l0.3 -0.5l0.2 -0.5l0.2 -0.5l0.2 -0.6l0.2 -0.6l0.2 -0.7l0.2 -0.7l0.3 -0.8l0.2 -0.8l0.2 -0.9l0.2 -1l0.2 -1l0.2 -1.1l0.3 -1.2l0.2 -1.2l0.2 -1.3l0.2 -1.4l0.2 -1.4l0.2 -1.5l0.2 -1.5l0.3 -1.5l0.2 -1.5l0.2 -1.5l0.2 -1.4l0.2 -1.5l0.2 -1.4l0.2 -1.3l0.3 -1.3l0.2 -1.2l0.2 -1.1l0.2 -1l0.2 -0.9l0.2 -0.8l0.3 -0.6l0.2 -0.5l0.2 -0.3l0.2 -0.1l0.2 0l0.2 0.2l0.2 0.4l0.3 0.6l0.2 0.7l0.2 0.9l0.2 1l0.2 1.1l0.2 1.3l0.3 1.3l0.2 1.5l0.2 1.6l0.2 1.6l0.2 1.8l0.2 1.8l0.2 1.8l0.3 1.9l0.2 1.9l0.2 2l0.2 2l0.2 2l0.2 2l0.3 2l0.2 2l0.2 1.9l0.2 1.9l0.2 1.9l0.2 1.8l0.2 1.8l0.3 1.7l0.2 1.6l0.2 1.5l0.2 1.5l0.2 1.3l0.2 1.2l0.3 1.1l0.2 0.9l0.2 0.9l0.2 0.6l0.2 0.5l0.2 0.3l0.2 0.2l0.3 -0.1l0.2 -0.2l0.2 -0.5l0.2 -0.7l0.2 -0.9l0.2 -1.2l0.2 -1.4l0.3 -1.7l0.2 -2l0.2 -2.2l0.2 -2.4l0.2 -2.6l0.2 -2.6l0.3 -2.7l0.2 -2.6l0.2 -2.6l0.2 -2.4l0.2 -2.1l0.2 -2l0.2 -1.6l0.3 -1.2l0.2 -0.8l0.2 -0.3l0.2 0.1l0.2 0.4l0.2 0.7l0.3 0.7l0.2 0.8l0.2 0.6l0.2 0.5l0.2 0.2l0.2 -0.1l0.2 -0.5l0.3 -0.8l0.2 -1.1l0.2 -1.4l0.2 -1.5l0.2 -1.8l0.2 -1.9l0.3 -2l0.2 -2.1l0.2 -2.1l0.2 -2.2l0.2 -2.1l0.2 -2.1l0.2 -2l0.3 -1.9l0.2 -1.7l0.2 -1.6l0.2 -1.3l0.2 -1l0.2 -0.8l0.2 -0.5l0.3 -0.1l0.2 0.2l0.2 0.4l0.2 0.8l0.2 0.9l0.2 1.1l0.3 1.3l0.2 1.3l0.2 1.5l0.2 1.6l0.2 1.5l0.2 1.6l0.2 1.6l0.3 1.4l0.2 1.4l0.2 1.3l0.2 1.1l0.2 0.9l0.2 0.7l0.3 0.4l0.2 0.2l0.2 -0.1l0.2 -0.5" fill="none" stroke="#ef4030" stroke-width="1.4" stroke-linejoin="round" />
</g>
<rect x="482.9" y="201.1" width="193.5" height="155.8" fill="none" stroke="#3a3a3a" stroke-width="1.1"/>
<line x1="482.9" y1="356.9" x2="482.9" y2="359.9" stroke="#3a3a3a" stroke-width="1" />
<line x1="515.1" y1="356.9" x2="515.1" y2="359.9" stroke="#3a3a3a" stroke-width="1" />
<line x1="547.4" y1="356.9" x2="547.4" y2="359.9" stroke="#3a3a3a" stroke-width="1" />
<line x1="579.6" y1="356.9" x2="579.6" y2="359.9" stroke="#3a3a3a" stroke-width="1" />
<line x1="611.9" y1="356.9" x2="611.9" y2="359.9" stroke="#3a3a3a" stroke-width="1" />
<line x1="644.1" y1="356.9" x2="644.1" y2="359.9" stroke="#3a3a3a" stroke-width="1" />
<line x1="676.4" y1="356.9" x2="676.4" y2="359.9" stroke="#3a3a3a" stroke-width="1" />
<line x1="499" y1="356.9" x2="499" y2="358.9" stroke="#3a3a3a" stroke-width="1" />
<line x1="531.3" y1="356.9" x2="531.3" y2="358.9" stroke="#3a3a3a" stroke-width="1" />
<line x1="563.5" y1="356.9" x2="563.5" y2="358.9" stroke="#3a3a3a" stroke-width="1" />
<line x1="595.8" y1="356.9" x2="595.8" y2="358.9" stroke="#3a3a3a" stroke-width="1" />
<line x1="628" y1="356.9" x2="628" y2="358.9" stroke="#3a3a3a" stroke-width="1" />
<line x1="660.3" y1="356.9" x2="660.3" y2="358.9" stroke="#3a3a3a" stroke-width="1" />
<text x="482.9" y="370.3" font-size="10" text-anchor="middle" fill="#111">2</text>
<text x="515.1" y="370.3" font-size="10" text-anchor="middle" fill="#111">4</text>
<text x="547.4" y="370.3" font-size="10" text-anchor="middle" fill="#111">6</text>
<text x="579.6" y="370.3" font-size="10" text-anchor="middle" fill="#111">8</text>
<text x="611.9" y="370.3" font-size="10" text-anchor="middle" fill="#111">10</text>
<text x="644.1" y="370.3" font-size="10" text-anchor="middle" fill="#111">12</text>
<text x="676.4" y="370.3" font-size="10" text-anchor="middle" fill="#111">14</text>
<line x1="479.9" y1="201" x2="482.9" y2="201" stroke="#3a3a3a" stroke-width="1" />
<line x1="479.9" y1="242.6" x2="482.9" y2="242.6" stroke="#3a3a3a" stroke-width="1" />
<line x1="479.9" y1="284.2" x2="482.9" y2="284.2" stroke="#3a3a3a" stroke-width="1" />
<line x1="479.9" y1="325.8" x2="482.9" y2="325.8" stroke="#3a3a3a" stroke-width="1" />
<line x1="480.9" y1="221.8" x2="482.9" y2="221.8" stroke="#3a3a3a" stroke-width="1" />
<line x1="480.9" y1="263.4" x2="482.9" y2="263.4" stroke="#3a3a3a" stroke-width="1" />
<line x1="480.9" y1="305" x2="482.9" y2="305" stroke="#3a3a3a" stroke-width="1" />
<line x1="480.9" y1="346.6" x2="482.9" y2="346.6" stroke="#3a3a3a" stroke-width="1" />
<text x="477.3" y="204.5" font-size="10" text-anchor="end" fill="#111">40</text>
<text x="477.3" y="246.1" font-size="10" text-anchor="end" fill="#111">20</text>
<text x="477.3" y="287.7" font-size="10" text-anchor="end" fill="#111">0</text>
<text x="477.3" y="329.3" font-size="10" text-anchor="end" fill="#111">-20</text>
<line x1="484.3" y1="206.2" x2="500.3" y2="206.2" stroke="#3cc163" stroke-width="1.3" />
<text x="504.7" y="209.2" font-size="8.1" fill="#333">Ru foil</text>
<line x1="484.3" y1="216.1" x2="500.3" y2="216.1" stroke="#ef4030" stroke-width="1.3" />
<text x="504.7" y="219.1" font-size="8.1" fill="#333">RuMo@MoOx-JH</text>
<text x="462.5" y="190.8" font-size="18.5" font-weight="bold">f</text>
<text x="579.8" y="390.5" font-size="13" text-anchor="middle"><tspan font-style="italic">k</tspan> (Å<tspan dy="-5" font-size="8.5">-1</tspan><tspan dy="5">)</tspan></text>
<text x="464" y="280" font-size="13" text-anchor="middle" transform="rotate(-90 464 280)"><tspan font-style="italic">k</tspan><tspan dy="-4" font-size="8.5">3</tspan><tspan dy="4" font-style="italic">χ</tspan>(<tspan font-style="italic">k</tspan>)</text>
<g>
<rect x="42.6" y="396.5" width="175.9" height="168.5" fill="#0000ff"/>
<path d="M92.5 547.2l12.9 1.3l15.7 0.2l59.7 -1.2l22 -0.8l15.7 -1l0 -148.4l-1.6 0.6l-1.5 1l-4.4 3.5l-1.9 1.2l-3.2 1.5l-3.1 0.8l-3.1 0.2l-3.2 -0.2l-3.1 -0.7l-6.3 -2.3l-1.6 -0.4l-1.6 0.2l-1.5 1.5l-1.6 4.2l-1.1 2l-1.8 2l-3.4 2.1l-1.5 0.6l-3.2 0.4l-3.1 -0.4l-1.6 -0.4l-3.9 -2.3l-1.8 -2l-2.2 -3.6l-1.5 -1.9l-1.6 -0.8l-9.4 -1.3l-3.2 -0.8l-4.7 -2.1l-5.1 -3.4l-43.3 0l-4.5 7.9l-4 9.9l-2.8 10l-2.2 11.8l-1 11.9l0 10l0.4 7.9l1.7 13.9l0.3 5.9l-0.4 6l-1 3.9l-1.3 2l-2.3 2l-3.6 2l-4.9 1.9l-13.9 4.8l-6.3 2.5l0 16.8l13.6 5.7l3.1 2l1 1.9l0.4 2l2.3 2l6 2l3.4 0.8l11 2l7.9 1zM121.1 488l-0.6 -0.3l-0.2 -2l2.4 -1l1.6 0.1l1.4 0.9l-0.8 2l-2.2 0.5zM130.6 478.2l-1.6 -1.1l-1 -1.3l-0.9 -2l-0.2 -2l0.7 -2l1.4 -1.5l1.6 -0.9l3.1 -0.6l3.1 0.3l2.1 0.8l2.1 1.9l0.8 2l-0.2 2l-1.1 2l-2.1 1.9l-3.1 1.1l-3.2 0zM162 495.9l-1.6 -0.6l-1.7 -1.7l1.6 -1.9l4.8 -1.4l4.7 0.2l3.4 1.2l1.4 1.9l-1.6 1.6l-1.6 0.7l-3.2 0.4l-4.7 -0.1zM179.2 444.7l-1.2 -0.6l-1.3 -2l0.7 -2l1.8 -1.1l1.6 -0.5l1.6 -0.2l3.1 0.5l2.4 1.3l0.8 1.7l0.1 0.3l-1.1 2l-2.2 1l-1.6 0.3l-3.1 -0.2zM199.7 468l-1.2 -0.1l1.2 -0.4l1.5 0.1l0.7 0.3l-0.7 0.1zM132.1 434.9l-1 -0.7l-1.3 -2l-0.5 -2l0.1 -2l0.6 -2l2.1 -2.5l1.6 -0.8l1.6 -0.3l1.5 0.3l1.6 0.9l1.6 2l0.7 2.4l0 2l-0.5 2l-1.8 2.3l-1.6 0.8l-1.5 0.4l-1.6 -0.1z" fill="#001aff"/>
<path d="M96.3 543.2l10.7 1.2l11 0.5l44 0l31.4 -0.9l12.5 -0.9l12.6 -1.3l0 -46.1l-0.2 -0.1l0.2 -0.4l0 -92.2l-3.1 0.4l-7.9 2.8l-4.7 1.2l-4.7 0.3l-7.9 -0.5l-3.1 0.1l-1.6 0.6l-1.6 1l-3.6 3.5l-2.7 1.9l-3.1 1.5l-3.1 0.8l-3.2 0.1l-3.1 -0.4l-3.1 -0.9l-4.8 -2l-3.1 -0.6l-4.7 0.4l-4.7 1.3l-3.1 1.8l-0.5 2l2 7.9l-0.1 4l-0.5 2l-1.1 2l-1.9 1.9l-2.7 1.4l-1.5 0.3l-3.2 -0.4l-1.5 -0.7l-1.6 -1.2l-1.2 -1.3l-0.9 -2l-0.5 -2l0 -4l1 -3.7l2 -4.2l0.4 -2l-1.1 -2l-1.3 -0.9l-3.1 -1.7l-6.3 -2.6l-4.7 -1.1l-3.2 -0.2l-3.1 0.4l-3.1 1.2l-3.2 2l-3.1 3l-4.1 5.9l-2.8 5.9l-2.5 8l-1.5 7.9l-0.7 7.9l0.2 9.9l0.9 8l2.4 11.9l0.2 3.9l-1.5 9.9l-0.5 2l-0.9 2l-1.8 2l-3.2 2l-4.5 1.9l-16.5 6l-7.2 3.4l-3.4 2.5l-1.4 2l-0.3 2l0.8 2l2 2l3.9 2.4l6.2 2.7l14.2 4.8l4.6 2l2.5 1.9l1.5 2l3.5 2l8.3 1.9zM119.6 491.7l-1.6 -0.6l-2.4 -1.4l-1.5 -2l-0.2 -2l1 -2l2.5 -2l3.3 -1.9l1.6 -2l0.4 -6l0.6 -2l1 -1.6l2.8 -2.3l1.9 -0.7l3.1 -0.5l4.7 0.4l2.5 0.8l2.2 1.4l2.1 2.5l0.5 2l0 2l-1 2.8l-1.6 2.5l-1.5 1.7l-4.7 3.4l-4.5 5.5l-1.8 1.1l-3.2 1.1l-4.7 0.1zM162 497.7l-3.2 -0.5l-4.4 -1.6l-0.8 -2l2.1 -1.9l4.7 -2l4.7 -0.9l3.1 0l4.9 0.9l4.4 2l1.6 1.9l-0.9 2l-3.7 1.4l-2.8 0.6l-3.5 0.3l-4.7 -0.1zM179.2 446.1l-3.4 -2l-1 -2l0.4 -2l2.4 -2l1.6 -0.5l3.2 -0.4l3.1 0.3l1.7 0.6l2.6 2l0.6 2l-0.8 2l-2.5 1.7l-1.6 0.5l-1.6 0.3l-3.1 -0.2zM194.9 468.2l-0.6 -0.3l0.6 -1l0.8 -1l0.8 -0.2l4.7 -0.3l3.3 0.5l1.8 2l-1.9 0.8l-3.2 0.6l-3.1 -0.2l-1.6 -0.4z" fill="#0034ff"/>
<path d="M111.8 541.2l9.3 0.8l12.6 0.4l18.8 0.2l17.3 -0.2l22.8 -1.2l25.9 -2.9l0 -38.6l-18.5 -2.1l-5.1 -1.2l-3.1 -0.3l-3.1 0.1l-6.5 1.4l-7.7 1.1l-9.4 0.5l-6.3 -0.3l-12.1 -1.3l-13 -2.1l-7.9 0l-4.7 -0.3l-3.1 -0.5l-3.2 -1.1l-3.8 -1.9l-4 -2.9l-1.6 -0.6l-1.5 0l-1.6 0.8l-1.6 1.8l-2.9 6.8l-2.1 2l-3.6 2l-4.9 1.9l-14.8 5.1l-7.8 3.3l-2.9 1.6l-2.6 1.9l-1.3 2l-0.3 2l1 2l2.1 2l3.4 2l3.7 1.6l9.5 3.2l17.9 5.1l4.8 1.9l4 2.1l7.8 1.9zM187.7 493.6l1 0.7l1.5 0.4l3.2 -0.1l17.2 -4l7.9 -2.4l0 -81.4l-4.7 0.1l-12.6 2.4l-12.5 1.1l-3.2 1l-6.3 3.7l-3.1 1.5l-4.7 1.3l-4.7 0.3l-9.5 -0.5l-4.7 1.2l-3.1 1.8l-1.6 1.6l-0.8 2l-2.2 7.9l-0.9 2l-1.5 1.9l-2.4 2l-1.6 0.8l-3.1 0.9l-3.2 0l-1.5 -0.4l-3.2 -1.5l-2.1 -1.8l-1.6 -1.9l-2.6 -4.7l-1.5 -2.1l-1.6 -1l-3.2 -0.6l-3.1 0.4l-1.6 0.5l-2.9 1.5l-3.3 3.1l-3.2 4.8l-1.6 4l-1 4l-0.9 5.9l0 6l0.7 5.9l1.2 5.1l1.6 4.2l2.6 4.6l2.1 2.4l1.6 0.7l1.6 -0.1l3.1 -1.1l1.6 -1l1.5 -1.5l2.6 -5.4l1.2 -1.9l1.8 -2l2.3 -1.5l3.1 -1.2l3.2 -0.6l3.1 0l3.2 0.4l4.7 1.3l2.8 1.6l1.9 2l1 1.9l0.5 2l-0.1 2l-0.4 2l-2.7 7.9l-0.2 2l0.6 2l1.3 1.2l3.1 1.3l3.2 0.1l12.5 -2.7l3.2 -0.2l3.1 0.2l4.7 0.9l3.8 1.2l8.8 3.8zM196.5 470l-1.6 -0.4l-3.1 -1.7l0.9 -2l2.2 -0.8l3.2 -0.6l4.7 0.1l5 1.3l1.4 2l-1.7 1.1l-1.9 0.8l-4.4 0.5l-3.1 -0.1zM177.7 446.7l-1.6 -0.7l-2.3 -1.9l-0.9 -2l0.3 -2l1.3 -1.5l1.6 -1.1l1.6 -0.7l3.1 -0.6l3.1 0l3.2 0.8l2.4 1.1l1.9 2l0.5 2l-0.6 2l-2.1 2l-2.1 0.9l-3.2 0.5l-4.7 -0.4z" fill="#004eff"/>
<path d="M141.6 539.2l15.6 0.5l15.8 -0.3l17.2 -0.9l28.3 -2.3l0 -34.9l-20.4 -1.5l-12.6 -0.3l-22 0.8l-25.1 -0.5l-22 -0.9l-4.7 0.2l-6.3 1.4l-25.1 7.8l-6.3 2.4l-5.6 2.8l-2.6 1.9l-1.4 2l-0.2 2l1 2l2.4 2l1.7 1l3.1 1.5l4.8 1.8l7.8 2.4l9.4 2.2l20.4 4l14.2 2l12.5 0.9zM187.7 489.7l5.7 0.1l9.4 -1.1l9.4 -2.2l6.3 -2.3l0 -74.5l-1.6 -0.2l-6.3 0.3l-21.9 3.4l-3.2 0.9l-7.8 3.5l-4.7 1.5l-9.5 1.3l-4.7 1.2l-4.7 2.4l-2.6 2.2l-2.1 3l-2.7 5l-1.4 1.9l-2 2l-1.8 1.3l-3.1 1.6l-4.7 1.1l-3.1 0.1l-6.3 -0.4l-3.4 0.3l-1.3 0.5l-2.3 1.5l-1.7 2l-1.1 1.9l-0.6 2l-0.2 2l0.2 2l0.8 2l2.3 2l2.6 0.7l12.5 1.8l4.7 1l4.7 1.7l1.6 0.8l2.3 1.9l1.5 2l0.8 1.9l0.4 2l-0.1 2l-1.3 7.9l0.2 2l1.2 2l1.3 1l1.6 0.7l3.1 0.3l9.4 -1.5l6.3 0l4.7 0.7l9.4 2.2l3.2 0.5zM193.4 470.2l-1.6 -0.7l-2.2 -1.6l0.6 -2l1.6 -0.8l3.1 -1l3.2 -0.4l4.7 0.1l3.1 0.5l4.7 1.6l1.4 2l-2.4 1.9l-3.7 1l-3.1 0.3l-4.7 -0.1l-3.2 -0.4zM179.2 448.2l-3.1 -0.9l-2.3 -1.2l-0.8 -0.8l-1.2 -1.2l-0.9 -2l0.2 -2l1.4 -2l2 -1.4l1.6 -0.7l3.1 -0.8l4.7 0l3.2 0.6l3.1 1.5l1.1 0.8l1.6 2l0.5 2l-0.5 2l-1.7 2l-1 0.6l-1.5 0.8l-3.2 0.9l-4.7 0.1z" fill="#0069ff"/>
<path d="M128.8 535.3l19 1.4l22 0.4l22 -0.6l26.7 -1.7l0 -32.4l-4.7 -0.3l-18.9 -1l-9.4 -0.3l-69.1 1l-6.3 0.7l-9.4 1.9l-9.4 2.4l-11 3.6l-6.5 3.1l-2.7 1.9l-1.4 2l-0.2 2l1.2 2l3.3 2.4l3 1.6l5.3 1.9l12.1 3.3l9.5 1.8l10.9 1.6l12.6 1.2zM155 485.7l2.2 -0.1l6.3 -1.1l3.2 -0.2l4.7 0.4l14.1 2.2l4.7 0.1l4.7 -0.2l7.9 -1.2l6.3 -1.4l4.7 -1.6l4.7 -2.2l0 -68.2l-3.1 -0.3l-3.2 0l-4.7 0.5l-18.8 3.4l-4.8 1.4l-10.9 3.8l-4.9 1.3l-4.6 1.7l-3.9 2.2l-2.5 2l-3 2.7l-6.7 7.2l-2.6 2l-4.8 2.6l-9.9 3.4l-2.6 1.9l-1.2 2l-0.3 2l0.6 2l1.7 2l3.7 2l8 2.6l3.1 1.4l2.8 1.9l1.9 2l1.1 2l0.7 1.9l0.4 2l-0.7 8l0.1 1.9l1 2l0.6 0.6l1.5 0.9l1.6 0.4zM176.1 448.6l-3.1 -1.5l-1.6 -1l-1.9 -2l-0.9 -2l0.1 -2l0.9 -2l2.3 -2l4.2 -1.6l4.7 -0.6l3.1 0.2l3.2 0.6l3.1 1.3l1.6 1.1l1.2 1l1.3 2l0.5 2l-0.4 2l-1 1.6l-1.6 1.4l-1.5 0.9l-3.2 1.2l-4.7 0.4l-4.7 -0.6zM198.1 471.9l-4.7 -0.8l-3.8 -1.3l-2.2 -1.9l0.5 -2l2.3 -1.4l3.2 -1l4.7 -0.6l4.7 0.1l4.7 0.7l3.1 0.9l3.2 1.3l1.6 2l-1.6 1.9l-3.2 1.2l-6.2 1l-4.7 0z" fill="#0083ff"/>
<path d="M155.1 535.3l13.1 0.3l12.6 -0.1l22 -0.7l15.7 -1l0 -30.4l-12.6 -0.9l-14.1 -0.5l-14.1 -0.1l-44 0.8l-11 0.4l-11 1l-12.6 2.3l-9.4 2.5l-7.8 2.9l-3.5 1.7l-2.7 1.9l-1.5 2l-0.1 2l1.2 2l2.6 2l4.1 2l9.3 2.9l9.4 2.1l14.1 2.2l18.9 1.7l20.4 0.9zM178.3 483.7l5.6 0.6l6.3 0.1l6.3 -0.6l4.7 -0.8l5.3 -1.3l5.4 -1.9l3.6 -2l2.1 -2l0.8 -2l-1.5 -1.1l-1.5 -0.2l-11 0.7l-7.9 -0.4l-3.1 -0.6l-4.7 -1.5l-1.8 -0.9l-1.8 -1.9l0.4 -2l3 -2l3.3 -1.1l4.7 -0.6l4.7 -0.1l6.3 0.6l5.3 1.2l5.7 1.7l0 -51l-1.6 -0.3l-4.7 -0.2l-4.7 0.4l-15.7 3.2l-9.7 2.6l-10.3 4l-3.6 1.9l-2.6 2l-6.8 7.2l-3.6 2.7l-3.2 2l-4 2l-11.2 4.7l-2.2 1.2l-1.8 2l-0.6 2l0.6 2l2 2l9.9 4.5l3.1 2.4l1.6 1.8l1.7 3.2l0.6 1.9l0.4 4l-0.2 6l0.7 1.9l1.5 1.2l1.6 0.5l1.5 0.1l6.3 -1.1l3.2 -0.2l3.1 0.2l7.9 1.2zM177.7 450.3l-4.7 -1.4l-4.7 -2.8l-1.9 -2l-1.1 -2l-0.5 -2l0.3 -2l1.6 -2.1l1.5 -1.1l3.2 -1.3l3.1 -0.8l3.2 -0.3l6.2 0.2l3.2 0.7l3.1 1.3l3.2 2.1l1.3 1.3l1.2 2l0.4 2l-0.3 2l-1.1 2l-1.5 1.5l-3.2 1.8l-4.7 1.2l-3.1 0.2l-3.2 -0.2z" fill="#009dff"/>
<path d="M135.9 533.3l18.2 1l20.4 0.3l22 -0.4l22 -1.2l0 -28.8l-15.7 -1l-14.1 -0.5l-14.2 0l-23.5 0.5l-29.9 1.2l-7.8 0.8l-11 1.8l-9.4 2.4l-7.9 2.9l-2.5 1.2l-2.8 1.9l-1.5 2l-0.1 2l1.3 2l0.9 0.7l1.8 1.3l4.4 2l9.5 2.8l11 2.2l14.1 1.8l14.2 1zM156.6 479.8l2.2 0.3l4.7 -0.9l3.2 -0.2l14.1 2.3l7.9 0.3l4.7 -0.3l6.3 -1.1l1.6 -0.4l5 -2l1 -2l-15.5 -2.6l-3.1 -0.9l-3.2 -1.4l-1.8 -1.1l-1.5 -1.9l0.4 -2l2.4 -2l2.1 -1l4.7 -1.2l4.7 -0.6l7.9 0.2l11 1.6l3.1 0.2l0 -46.3l-3.1 -0.6l-4.8 0l-4.7 0.7l-4.7 1l-15.9 4.4l-4.8 2l-3.1 1.9l-1.2 2l1.5 1l2.5 1l5.3 1.1l4.7 1.8l3.2 1.9l1.5 1.4l1.6 1.9l0.9 1.8l0.4 2l-0.2 2l-0.8 2l-1.6 1.9l-1.8 1.5l-3.2 1.5l-3.1 0.8l-3.2 0.3l-3.1 0l-4.7 -0.5l-6.3 -1.9l-7.8 -3.6l-3.2 -0.6l-3.1 0.2l-11 1.9l-1.7 0.4l-3.6 2l-1.2 2l0.7 2l2.6 2l6.3 3.3l1.6 1.3l2.4 3.3l1.7 4l0.6 1.9l0.4 2l0.6 6l0.6 1.2z" fill="#00b7ff"/>
<path d="M151.6 533.3l15.1 0.5l14.1 0l23.6 -0.8l14.1 -0.7l0 -27.5l-20.4 -1l-17.3 -0.4l-18.8 0.2l-22 0.7l-15.7 0.8l-12.6 1.4l-9.4 1.7l-9.4 2.6l-6.6 2.7l-3 1.9l-1.5 2l-0.1 2l1.3 2l3 2l6.9 2.7l9.4 2.4l12.5 2l17.3 1.8l18.9 1zM180.8 477.8l4.7 0.3l4.4 -0.3l2.1 -2l-3.3 -1l-1.9 -1l-2.9 -0.9l-3.1 -1.7l-1.7 -1.4l-1.1 -1.9l0.4 -2l2 -2l2 -1.1l4.7 -1.8l6.3 -1l6.3 -0.1l14.1 1.1l3.1 -0.1l1.6 -0.4l0 -41.5l-1.6 -0.4l-3.1 -0.4l-3.2 0.1l-7.8 1.4l-9.4 3.1l-3.5 1.5l-2.9 1.9l-0.3 2l2.3 2l4.4 2.7l3.1 2.8l1.8 2.4l0.9 2l0.4 2l-0.1 2l-0.6 2l-1.1 1.9l-2.9 2.9l-4.7 2.3l-6.3 0.9l-4.7 0l-12.5 -1.3l-3.2 0.2l-4.7 1.2l-3.4 1.8l-1 2l0.1 1.9l0.9 4l2.2 5.9l1.2 2.3l1.6 1.4l1.6 0.6l7.8 1l9.4 2.4z" fill="#00d1ff"/>
<path d="M130.4 531.3l19 1.3l23.6 0.5l23.5 -0.4l22 -1.1l0 -26.1l-3.1 -0.2l-15.7 -0.9l-17.3 -0.4l-18.9 0.1l-18.8 0.7l-18.9 1.1l-9.4 0.9l-11 1.8l-7.8 1.9l-7.8 3l-3.2 1.9l-1.6 2l0 2l1.4 2l1.7 1.1l1.4 0.9l4.9 2l9.5 2.4l12.5 2.1l12.6 1.3zM202.7 458l6.4 0.6l4.7 0l2.7 -0.6l2 -1.2l0 -35.5l-1.6 -0.4l-3.1 -0.5l-3.2 0.1l-3.1 0.4l-4.7 1.3l-4.9 2.1l-1.4 0.8l-1.6 1.1l-1.2 2l0.6 2l4.9 5.9l1.2 2l0.8 2l0.4 2l0 2l-0.3 2l-1.6 4.2l-2.5 3.7l-0.5 2l4.5 1.6z" fill="#00ebff"/>
<path d="M139.2 531.3l18 1l18.9 0.3l22 -0.5l20.4 -1.1l0 -24.9l-4.7 -0.3l-15.7 -0.9l-15.7 -0.4l-17.3 0.2l-17.3 0.6l-17.2 0.9l-11 1l-11 1.7l-10.4 2.6l-5.2 2l-1.7 1l-1.5 0.9l-1.7 2l-0.1 2l1.6 2l3.2 2l7.9 2.7l9.4 2.1l14.2 1.9l14.1 1.2zM207.7 454l2.9 0.6l3.2 -0.2l1.6 -0.5l3.1 -2l0 -27.9l-1.6 -0.6l-3.1 -0.6l-4.7 0.4l-3.9 1.1l-2.4 1.2l-1.3 0.7l-1.9 2l-0.4 2l0.6 2l3 5.9l1.3 4l0.5 7.9l0.8 2l2.1 1.9z" fill="#00fff8"/>
<path d="M149 531.3l16.1 0.6l17.3 0.1l15.7 -0.4l20.4 -1.1l0 -23.9l-14.1 -0.8l-17.3 -0.7l-15.7 0l-22 0.6l-15.7 0.9l-14.1 1.4l-7.9 1.1l-9.4 2.2l-6.1 2.2l-3.5 1.9l-1.7 2l-0.1 2l1.7 2l3.4 2l3.1 1.2l7.9 2.1l11 1.9l14.1 1.6l15.7 1zM211.6 448l2.2 0.4l1.6 -0.4l1.5 -1l1.6 -1.5l0 -17.9l-1.6 -1l-3.1 -0.8l-1.6 0l-2.8 0.4l-3.7 2l-1.4 2l-0.2 2l0.5 2l4.5 11.6l1.5 1.7z" fill="#00ffde"/>
<path d="M162.2 531.3l13.9 0.2l15.7 -0.3l26.7 -1.3l0 -22.8l-14.1 -0.9l-14.2 -0.5l-15.7 -0.1l-17.3 0.3l-17.2 0.8l-14.2 1.2l-9.4 1.2l-9.4 1.9l-7.8 2.5l-3.7 1.9l-1.7 2l-0.1 2l1.7 2l3.6 2l8 2.5l11 2.1l14.1 1.6l14.2 1.1l15.7 0.6zM212.2 438.1l1.6 0.8l1.6 -0.4l0.3 -0.4l0.9 -2l0.1 -1.9l-1 -2l-1.9 -1l-1.6 0.1l-1.2 0.9l-0.6 2l0.6 1.9z" fill="#00ffc4"/>
<path d="M135 529.3l19.1 1.3l20.4 0.4l23.6 -0.4l20.4 -1.2l0 -21.8l-14.1 -0.9l-14.2 -0.6l-15.7 -0.1l-15.7 0.3l-15.7 0.8l-15.7 1.2l-11 1.5l-8 1.7l-6.3 2l-3.8 1.9l-1.9 2l-0.1 2l1.8 2l3.8 2l8.2 2.4l11 2l12.6 1.4z" fill="#00ffaa"/>
<path d="M141.1 529.3l17.7 1l18.9 0.3l20.4 -0.4l20.4 -1.2l0 -20.9l-3.1 -0.2l-14.2 -0.9l-14.1 -0.5l-15.7 -0.1l-14.2 0.4l-17.2 1l-12.6 1.1l-11 1.6l-7.8 1.8l-3.6 1.2l-4.1 1.9l-2 2l0 2l1.9 2l4.6 2.2l9.4 2.5l12.6 1.9l12.6 1.2z" fill="#00ff90"/>
<path d="M147.6 529.3l17.5 0.8l17.3 0.1l17.3 -0.5l18.8 -1.2l0 -20l-9.4 -0.6l-15.7 -0.8l-15.7 -0.3l-14.2 0.2l-15.7 0.7l-14.1 1.1l-11 1.3l-7.6 1.4l-7.3 2l-4.3 1.9l-2.1 2l0 2l1.9 2l4.3 2l7.1 2l8 1.4l11 1.4l12.6 1z" fill="#00ff76"/>
<path d="M155.3 529.3l14.5 0.5l15.7 -0.1l18.9 -0.7l14.1 -0.9l0 -19.1l-18.8 -1.2l-15.8 -0.5l-14.1 0l-15.7 0.5l-14.1 0.9l-12.6 1.3l-9 1.5l-7.8 2l-4.6 1.9l-2.2 2l0 2l2 2l5.9 2.4l7.9 1.9l9.4 1.5l12.5 1.3l12.6 0.8z" fill="#00ff5c"/>
<path d="M166.8 529.3l26.6 -0.2l12.5 -0.5l12.6 -1l0 -18.2l-15.7 -1.1l-15.7 -0.6l-15.7 -0.1l-14.2 0.4l-14.1 0.9l-12.5 1.2l-8.9 1.4l-8.4 2l-4.8 1.9l-2.3 2l-0.1 2l2.2 2l4.7 2l8 2l9.6 1.4l10.9 1.2l12.6 0.9l12.6 0.4z" fill="#00ff41"/>
<path d="M138.9 527.3l18.3 1.4l18.9 0.4l22 -0.5l20.4 -1.4l0 -17.3l-12.6 -1l-12.5 -0.7l-14.2 -0.2l-12.5 0.1l-14.2 0.6l-12.5 0.9l-11 1.3l-7.9 1.3l-5.1 1.3l-5.1 1.9l-2.4 2l-0.1 2l1.7 1.5l0.6 0.5l4.9 2l5.5 1.3l7.9 1.4l9.4 1.2z" fill="#00ff27"/>
<path d="M143.4 527.3l17 1.1l18.8 0.3l20.5 -0.5l18.8 -1.4l0 -16.5l-4.7 -0.5l-12.6 -0.8l-12.5 -0.5l-14.2 -0.2l-12.5 0.3l-12.6 0.7l-12.6 1.1l-8.5 1.1l-8.7 1.7l-6.3 2.2l-2.5 2l-0.1 2l2.4 2l5.2 2l7.5 1.7l7.9 1.2l9.4 1z" fill="#00ff0d"/>
<path d="M148.3 527.3l16.8 0.9l17.3 0.1l18.8 -0.6l17.3 -1.4l0 -15.6l-9.4 -0.8l-12.6 -0.8l-12.6 -0.4l-23.5 0.3l-12.6 0.8l-11 1l-7.8 1.1l-7.6 1.6l-5.7 1.9l-2.7 2l-0.1 2l2.5 2l5.5 2l8.1 1.7l9.4 1.3l9.4 0.9z" fill="#0dff00"/>
<path d="M153.8 527.3l16 0.7l15.7 -0.1l17.3 -0.7l15.7 -1.3l0 -14.8l-14.1 -1.2l-12.6 -0.6l-12.6 -0.3l-11 0.1l-12.5 0.5l-11 0.8l-9.5 1.1l-9.4 1.6l-4.7 1.3l-3.1 1l-2.7 2l-0.1 2l2.5 2l5.8 2l8.6 1.7l9.4 1.2l11 1z" fill="#27ff00"/>
<path d="M160.5 527.3l14 0.4l15.7 -0.2l15.7 -0.8l12.6 -1.2l0 -13.9l-11 -1.1l-12.6 -0.7l-21.9 -0.4l-22 0.9l-11 1l-7.9 1.2l-5.3 1l-6.4 1.9l-2.9 2l-0.1 2l2.7 2l5.7 1.9l6.3 1.3l7.9 1.1l9.4 1l11 0.6z" fill="#41ff00"/>
<path d="M174 527.3l24.1 -0.5l11 -0.8l9.4 -0.9l0 -13.1l-18.8 -1.7l-20.5 -0.6l-20.4 0.5l-18.8 1.6l-7.9 1.2l-4.7 1l-4.7 1.4l-3 2l-0.1 2l2.8 2l6.3 2l3.4 0.7l8.3 1.3l10.6 1l11 0.7l11 0.2z" fill="#5cff00"/>
<path d="M143.9 525.4l18.1 1.3l18.8 0.3l20.4 -0.7l17.3 -1.7l0 -12.1l-3.1 -0.4l-9.5 -1l-11 -0.7l-23.5 -0.3l-11 0.3l-11 0.8l-9.4 1l-7.7 1.3l-7.2 1.9l-3.2 2l-0.2 2l3 2l5.9 1.8l12.5 2.1z" fill="#76ff00"/>
<path d="M147.6 525.4l17.5 1.1l17.3 0.1l20.4 -0.8l15.7 -1.7l0 -11.2l-6.3 -0.8l-18.8 -1.4l-22 -0.3l-20.4 1l-16 2.1l-7.6 1.9l-3.4 2l-0.1 2l3.1 2l5.1 1.5l6.3 1.2l7.9 1.1z" fill="#90ff00"/>
<path d="M151.7 525.4l16.5 0.9l17.3 0l18.3 -0.9l14.7 -1.7l0 -10.3l-11 -1.4l-18.8 -1.1l-20.5 -0.1l-18.8 1.1l-9.4 1.2l-4.7 0.9l-5.5 1.4l-3.6 2l-0.1 2l3.2 2l7.4 2l14.3 1.9z" fill="#aaff00"/>
<path d="M156.3 525.4l15.1 0.6l17.3 -0.2l15.7 -0.9l14.1 -1.7l0 -9.3l-7.9 -1.1l-9.4 -0.9l-20.4 -0.9l-18.8 0.4l-9.5 0.6l-9.4 1.1l-10.9 2.3l-3.8 2l-0.2 2l3.4 2l8.4 2.1l15.7 1.8z" fill="#c4ff00"/>
<path d="M162.1 525.4l14 0.3l16.2 -0.3l15.2 -1.2l7 -0.8l4 -0.8l0 -8.1l-9.4 -1.5l-15.7 -1.3l-17.3 -0.4l-15.7 0.5l-16.6 1.7l-9.2 1.9l-4 2l-0.2 2l3.6 2l6 1.5l4.7 0.8l17.3 1.6z" fill="#deff00"/>
<path d="M172.2 525.4l13.3 -0.1l12.6 -0.7l13.1 -1.2l7.3 -1.4l0 -7l-8.9 -1.5l-5.2 -0.6l-11 -0.8l-11 -0.4l-17.3 0.2l-15.7 1.3l-6.3 0.9l-6.1 1.3l-4.2 2l-0.2 2l1.1 0.6l2.7 1.4l6.7 1.5l12.6 1.6l15.7 0.8z" fill="#f8ff00"/>
<path d="M148.5 523.4l13.5 1.2l14.1 0.4l15.7 -0.4l15.9 -1.2l10.8 -2l0 -5.7l-6.3 -1.3l-6.2 -0.9l-7.9 -0.7l-17.3 -0.8l-15.7 0.3l-14.9 1.2l-10.7 1.9l-4.4 2l-0.2 2l3.9 2l9 1.9z" fill="#ffeb00"/>
<path d="M151.9 523.4l14.8 1.1l14.1 0.1l15.7 -0.6l7.5 -0.6l5.1 -0.8l6.7 -1.2l2.7 -1.1l0 -3.6l-3.5 -1.3l-7.5 -1.2l-12.6 -1.3l-17.2 -0.5l-15.7 0.4l-12.6 1.3l-7.3 1.3l-3.7 1.6l-1 0.4l-0.3 2l4.2 2l9.7 1.8z" fill="#ffd100"/>
<path d="M155.7 523.4l14.1 0.8l15.7 0l14.3 -0.8l12.4 -1.9l5.8 -2.1l-0.3 -2l-5.6 -2l-7.7 -1.2l-12.6 -1.1l-17.3 -0.4l-15.7 0.7l-11 1.5l-3.1 0.5l-5 2l-0.3 2l4.5 2l10.2 1.8z" fill="#ffb700"/>
<path d="M160.1 523.4l12.9 0.5l14.1 -0.1l11 -0.7l12 -1.7l5.3 -2l-0.3 -2l-6 -2l-11 -1.4l-12.6 -0.8l-15.7 0l-11 0.6l-11.3 1.6l-5.4 2l-0.3 2l4.8 2l12.2 1.8z" fill="#ff9d00"/>
<path d="M166 523.4l13.2 0.2l14.2 -0.6l13.5 -1.6l5.8 -2l-0.3 -2l-6.5 -2l-15.7 -1.6l-14.1 -0.4l-12.6 0.5l-13 1.5l-5.8 2l-0.5 2l5.2 2l7.8 1.2l7.9 0.7z" fill="#ff8300"/>
<path d="M152.5 521.4l7.9 1l9.4 0.7l9.4 0.1l11 -0.4l7.9 -0.7l6.3 -0.9l5.5 -1.8l-0.3 -2l-7.3 -2l-8.9 -0.9l-14.2 -0.7l-12.5 0.3l-13 1.3l-6.6 2l-0.3 2l4.2 1.5z" fill="#ff6900"/>
<path d="M155.9 521.4l9.2 1l9.4 0.4l11 -0.2l9.4 -0.7l4.9 -0.5l7.2 -2l-0.4 -2l-2.2 -0.6l-6 -1.4l-12.9 -0.9l-12.5 -0.2l-11 0.6l-4.8 0.5l-7.4 2l-0.3 2l6.2 1.9z" fill="#ff4e00"/>
<path d="M159.8 521.4l8.4 0.7l7.9 0.2l9.4 -0.2l9.9 -0.7l8.4 -2l-0.4 -2l-3.7 -0.9l-6 -1.1l-11.3 -0.6l-11 0l-9.9 0.6l-8.7 2l-0.4 2l6.4 1.8z" fill="#ff3400"/>
<path d="M164.7 521.4l8.3 0.4l7.8 0l9.1 -0.4l5 -0.8l5.4 -1.2l-0.5 -2l-6.4 -1.2l-6.2 -0.8l-11.1 -0.2l-8.9 0.2l-5.2 0.8l-6 1.2l-0.5 2l8 1.8z" fill="#ff1a00"/>
<path d="M174.4 521.4l6.4 -0.2l11 -1l4.5 -0.8l-0.6 -2l-5.5 -0.8l-15.7 -0.6l-11 0.7l-3.9 0.7l-0.5 2l4.4 0.9l9.5 1z" fill="#ff0000"/>
<path d="M218.5 502.4l-22 -1.3l-11 -0.3l-20.4 0.5l-39.3 0.2l-12.5 0.6l-4.7 0.7l-9.5 1.9l-12.5 3.5l-6.3 2.2l-6.5 3.1l-2.7 1.9l-1.4 2l-0.2 2l1.2 2l2.4 2l5.6 2.7l6.3 2.1l7.9 2l9.4 1.9l17.3 2.4l23.5 1.9l23.6 0.7l23.5 -0.5l28.3 -1.8M198.1 471.9l-4.7 -0.8l-3.2 -1l-2.8 -2.2l0.5 -2l2.3 -1.4l3.2 -1l6.3 -0.7l4.7 0.3l3.1 0.6l6.3 2.2l1.6 2l-1.6 1.9l-3.2 1.2l-6.2 1l-6.3 -0.1M176.1 448.6l-3.1 -1.5l-1.7 -1l-1.8 -2l-0.9 -2l0.1 -2l0.9 -2l1.8 -1.6l1.6 -0.9l3.1 -1.1l3.1 -0.5l3.2 -0.1l3.1 0.4l3.2 0.9l1.8 0.9l2.5 2l1.3 2l0.5 2l-0.4 2l-1.3 2l-2.9 2l-3.1 1.1l-3.2 0.4l-4.7 -0.3l-3.1 -0.7M218.5 412.2l-4.7 -0.4l-4.7 0.4l-18.9 3.3l-4.7 1.2l-7.8 2.8l-9.6 2.8l-4.6 1.7l-3.9 2.2l-2.5 2l-3 2.7l-6.7 7.2l-2.6 2l-4.8 2.6l-9.4 3.2l-1.6 0.9l-1.5 1.2l-1.2 2l-0.3 2l0.6 2l1.7 2l3.7 2l8 2.6l3.1 1.4l2.8 1.9l1.9 2l1.1 2l1.1 3.9l-0.7 8l0.1 1.9l1 2l2.1 1.5l3.2 0.5l7.8 -1.2l4.7 -0.1l15.7 2.3l4.8 0.3l4.7 -0.1l6.3 -0.7l7.8 -1.6l6.3 -2l4.7 -2.2" fill="none" stroke="#3a3a3a" stroke-width="0.65"/>
<path d="M218.5 506.1l-23.6 -1.3l-21.9 -0.3l-23.6 0.7l-26.7 1.7l-14.1 2l-11 2.8l-4.6 1.8l-3.2 1.9l-1.7 2l-0.1 2l1.6 2l3.2 2l7.9 2.7l12.6 2.6l15.7 1.9l22 1.4l20.4 0.6l23.5 -0.4l23.6 -1.2M218.5 424l-3.1 -1l-3.2 -0.2l-3.1 0.4l-3.2 0.8l-4.4 2.2l-1.9 2l-0.4 2l0.6 2l2.1 3.9l1.7 4l0.7 4l0.3 5.9l0.8 2l0.5 0.7l1.6 1.2l1.6 0.5l3.1 0.2l3.2 -0.7l3.1 -2" fill="none" stroke="#3a3a3a" stroke-width="0.65"/>
<path d="M218.5 508.5l-22 -1.3l-20.4 -0.4l-18.9 0.4l-21.9 1.4l-15.7 2l-11 2.6l-5.1 2.2l-2.1 2l0 2l1.9 2l3.7 1.7l7.7 2.3l12.7 2.1l14.1 1.4l18.9 1.1l17.3 0.2l20.4 -0.4l20.4 -1.3" fill="none" stroke="#3a3a3a" stroke-width="0.65"/>
<path d="M218.5 510.7l-17.3 -1.4l-18.8 -0.6l-18.9 0.2l-17.2 1l-14.6 1.6l-10.3 2l-5.7 1.9l-2.7 2l-0.1 2l2.5 2l1 0.4l4.5 1.6l4.9 1.1l11 1.7l15.7 1.4l15.7 0.7l17.3 0l17.3 -0.7l15.7 -1.3" fill="none" stroke="#3a3a3a" stroke-width="0.65"/>
<path d="M218.5 512.9l-12.7 -1.4l-17.1 -1l-17.3 -0.1l-15.7 0.6l-15.7 1.7l-9.4 1.9l-3.2 0.8l-3.4 2l-0.1 2l3.1 2l7 2l13.6 2l12.8 0.9l14.1 0.4l17.3 -0.3l15.7 -1l11 -1.3" fill="none" stroke="#3a3a3a" stroke-width="0.65"/>
<path d="M218.5 515.7l-11 -2l-11 -1l-15.7 -0.7l-15.7 0.3l-14.9 1.2l-10.7 1.9l-4.4 2l-0.2 2l3.9 2l9.7 2l10.3 1l11 0.5l14.1 0l14.2 -0.6l9.6 -0.9l10.8 -2" fill="none" stroke="#3a3a3a" stroke-width="0.65"/>
<path d="M152.5 521.4l7.9 1l7.8 0.6l15.7 0.1l9.5 -0.6l9.4 -1l7.1 -2.1l-0.3 -2l-7.3 -2l-15.2 -1.3l-15.7 -0.2l-9.4 0.6l-7.9 0.9l-7 2l-0.3 2l5.7 2" fill="none" stroke="#3a3a3a" stroke-width="0.65"/>
</g>
<rect x="42.6" y="396.5" width="175.9" height="168.5" fill="none" stroke="#3a3a3a" stroke-width="1.0"/>
<line x1="42.6" y1="565" x2="42.6" y2="568" stroke="#3a3a3a" stroke-width="1" />
<line x1="67.7" y1="565" x2="67.7" y2="568" stroke="#3a3a3a" stroke-width="1" />
<line x1="92.9" y1="565" x2="92.9" y2="568" stroke="#3a3a3a" stroke-width="1" />
<line x1="118" y1="565" x2="118" y2="568" stroke="#3a3a3a" stroke-width="1" />
<line x1="143.1" y1="565" x2="143.1" y2="568" stroke="#3a3a3a" stroke-width="1" />
<line x1="168.2" y1="565" x2="168.2" y2="568" stroke="#3a3a3a" stroke-width="1" />
<line x1="193.4" y1="565" x2="193.4" y2="568" stroke="#3a3a3a" stroke-width="1" />
<line x1="218.5" y1="565" x2="218.5" y2="568" stroke="#3a3a3a" stroke-width="1" />
<line x1="55.2" y1="565" x2="55.2" y2="567" stroke="#3a3a3a" stroke-width="1" />
<line x1="80.3" y1="565" x2="80.3" y2="567" stroke="#3a3a3a" stroke-width="1" />
<line x1="105.4" y1="565" x2="105.4" y2="567" stroke="#3a3a3a" stroke-width="1" />
<line x1="130.6" y1="565" x2="130.6" y2="567" stroke="#3a3a3a" stroke-width="1" />
<line x1="155.7" y1="565" x2="155.7" y2="567" stroke="#3a3a3a" stroke-width="1" />
<line x1="180.8" y1="565" x2="180.8" y2="567" stroke="#3a3a3a" stroke-width="1" />
<line x1="205.9" y1="565" x2="205.9" y2="567" stroke="#3a3a3a" stroke-width="1" />
<text x="42.6" y="579.8" font-size="10" text-anchor="middle" fill="#111">0</text>
<text x="67.7" y="579.8" font-size="10" text-anchor="middle" fill="#111">2</text>
<text x="92.9" y="579.8" font-size="10" text-anchor="middle" fill="#111">4</text>
<text x="118" y="579.8" font-size="10" text-anchor="middle" fill="#111">6</text>
<text x="143.1" y="579.8" font-size="10" text-anchor="middle" fill="#111">8</text>
<text x="168.2" y="579.8" font-size="10" text-anchor="middle" fill="#111">10</text>
<text x="193.4" y="579.8" font-size="10" text-anchor="middle" fill="#111">12</text>
<text x="218.5" y="579.8" font-size="10" text-anchor="middle" fill="#111">14</text>
<line x1="39.6" y1="565" x2="42.6" y2="565" stroke="#3a3a3a" stroke-width="1" />
<line x1="39.6" y1="531.3" x2="42.6" y2="531.3" stroke="#3a3a3a" stroke-width="1" />
<line x1="39.6" y1="497.6" x2="42.6" y2="497.6" stroke="#3a3a3a" stroke-width="1" />
<line x1="39.6" y1="463.9" x2="42.6" y2="463.9" stroke="#3a3a3a" stroke-width="1" />
<line x1="39.6" y1="430.2" x2="42.6" y2="430.2" stroke="#3a3a3a" stroke-width="1" />
<line x1="39.6" y1="396.5" x2="42.6" y2="396.5" stroke="#3a3a3a" stroke-width="1" />
<line x1="40.6" y1="548.1" x2="42.6" y2="548.1" stroke="#3a3a3a" stroke-width="1" />
<line x1="40.6" y1="514.5" x2="42.6" y2="514.5" stroke="#3a3a3a" stroke-width="1" />
<line x1="40.6" y1="480.8" x2="42.6" y2="480.8" stroke="#3a3a3a" stroke-width="1" />
<line x1="40.6" y1="447.1" x2="42.6" y2="447.1" stroke="#3a3a3a" stroke-width="1" />
<line x1="40.6" y1="413.4" x2="42.6" y2="413.4" stroke="#3a3a3a" stroke-width="1" />
<text x="37.6" y="568.5" font-size="10" text-anchor="end" fill="#111">1</text>
<text x="37.6" y="534.8" font-size="10" text-anchor="end" fill="#111">2</text>
<text x="37.6" y="501.1" font-size="10" text-anchor="end" fill="#111">3</text>
<text x="37.6" y="467.4" font-size="10" text-anchor="end" fill="#111">4</text>
<text x="37.6" y="433.7" font-size="10" text-anchor="end" fill="#111">5</text>
<text x="37.6" y="400" font-size="10" text-anchor="end" fill="#111">6</text>
<text x="46" y="407.7" font-size="8.7" font-weight="bold" fill="#fff">Ru foil</text>
<text x="176.4" y="521.9" font-size="8.5" font-weight="bold" text-anchor="middle">Ru-Ru</text>
<text x="130.6" y="593.8" font-size="14" text-anchor="middle"><tspan font-style="italic">k</tspan> (Å<tspan dy="-5.5" font-size="9.5">-1</tspan><tspan dy="5.5">)</tspan></text>
<text x="26.2" y="486.2" font-size="14.4" text-anchor="middle" transform="rotate(-90 26.2 486.2)">R+α (Å)</text>
<g>
<rect x="267.5" y="396.5" width="175.3" height="168.5" fill="#0000ff"/>
<path d="M274.3 561l29.2 1.6l29.7 0.3l59.5 -0.3l23.5 -0.6l20 -1l6.6 -0.5l0 -11.1l-28.2 -0.2l-31.3 0.2l-31.3 0.6l-39.1 1.2l-9.4 0.8l-36 3.9l0 4.5l6.3 0.6zM291.1 545.2l7.7 0.5l9.4 0.2l36 -0.4l56.3 0.3l42.3 -0.6l0 -63l-4.7 -1.2l-3.1 -1.9l-1.6 -2.3l-0.7 -3l0 -2l0.5 -2l0.9 -1.9l1.5 -2l4.1 -3.1l3.1 -1.5l0 -57.8l-1.6 1.3l-3.1 1.6l-4.7 1l-3.1 0l-3.2 -0.4l-6.2 -1.8l-3.1 -0.6l-1.6 0.3l-2.3 1.5l0.6 2l3.3 3.7l2.3 4.2l0.8 2.6l0.1 3.4l-0.5 2l-1.1 1.9l-1.6 1.7l-3.2 1.7l-3.1 0.5l-3.1 -0.5l-3.2 -1.4l-2.1 -2l-1.2 -1.9l-0.7 -2l-0.2 -2l0.7 -4l2 -4.2l2.3 -3.7l-0.3 -2l-2.9 -2l-8.5 -3.6l-4.7 -1.1l-3.1 0.1l-0.8 0.7l0.8 0.3l3.1 4.3l1.5 3.3l0.7 2l0.5 3.9l-0.4 4l-0.6 2l-0.8 2l-3.3 5.9l0.3 2l3.6 2.9l1.6 1.8l1.5 3.2l0.3 2l-0.2 2l-0.6 2l-1.2 2l-1.4 1.2l-1.5 1.1l-1.6 0.7l-1.5 0.3l-3.2 0.1l-1.5 -0.3l-2.7 -1.2l-2.3 -1.9l-1.2 -2l-0.5 -2l-0.1 -2l0.5 -2.1l2.7 -5.8l-0.4 -2l-3.9 -3.6l-1.9 -2.3l-2.1 -4l-0.9 -4l-0.1 -2l0.6 -3.9l1.3 -3.4l1.6 -2.3l3.1 -3l4.7 -2.4l2.8 -0.8l-1.2 -0.4l-2.3 -1.6l-65.2 0l-4.5 1.7l-3.2 1.6l-3.1 1.9l-3.1 2.4l-3.2 3l-2.8 3.3l-4.2 5.9l-4 8l-2.9 7.9l-2.2 9.9l-0.9 7.9l-0.1 8l0.4 7.9l1 7.9l3.1 17.9l0.3 5.9l-0.4 2l-1 2l-1.8 1.9l-2.8 2l-3.8 2l-7.6 3.6l0 25l0.7 1.1l1.9 2l3 2l2.2 1l2.9 1l3.4 0.7l9.4 1.3zM320.7 454.7l-1 -0.7l-1.2 -2l0.1 -2l0.6 -0.9l1.5 -1.4l1.6 -0.4l1.5 0.1l1.6 0.8l1.4 1.8l0.2 2l-0.9 2l-0.7 0.6l-1.6 0.6l-1.5 0zM327 491.7l-1.6 -0.5l-2 -1.5l-0.3 -2l1.3 -2l1 -0.6l1.6 -0.7l3.1 -0.3l1.6 0.3l2.6 1.3l0.8 2l-0.8 2l-1.1 0.8l-2.5 1.2l-2.2 0.2zM350.5 481.9l-3.2 -1.2l-1.5 -1.1l-1.6 -2l-0.7 -1.8l0 -2l0.7 -2l1.9 -2l1.2 -0.6l3.2 -0.9l3.1 0.1l3.1 1l1.6 1l1.5 1.4l1.1 2l0.3 2l-0.3 2l-1.1 1.8l-1.5 1.3l-3.1 1.1l-3.2 0.1zM402.1 489.9l-3.1 -0.9l-3.4 -1.3l0.3 -2l2.8 -2l5 -2.5l4.7 -1.5l3.1 -0.5l3.1 -0.2l4.7 0.6l3.2 1l1.9 1.1l0.9 2l-0.7 2l-2.2 2l-4.5 2l-3.3 0.7l-6.2 0.3l-4.7 -0.5z" fill="#001aff"/>
<path d="M300.8 559.1l19.9 1l31.3 0.3l28.2 -0.3l24.2 -1l15.3 -2l13.7 -0.6l9.4 -0.8l0 -5.6l-20.3 -0.4l-23.5 0l-23.5 0.4l-21.9 0.7l-6.1 0.3l-14.4 2l-3 1.2l-4.7 0.7l-24.7 2.1zM297.4 543.2l7.7 0.7l9.4 0.4l62.6 0.5l37.5 -0.1l28.2 -0.7l0 -56.3l-7.8 -1.2l-3.2 0.1l-12.5 4.2l-4.7 0.7l-4.7 0.3l-7.8 -0.7l-19.7 -3.4l5.9 -2l4.4 -0.8l11 -4.8l4.7 -1.4l6.2 -0.8l9.4 -0.1l1.6 -0.2l1.5 -0.6l1.6 -1.7l2.1 -5.5l2.4 -3.9l3.3 -3.4l6.3 -4.5l0 -51.7l-6.3 2l-9.4 1.1l-2.8 1l-1.5 2l-0.2 1.9l0.2 6l-0.3 2l-0.5 2l-0.9 1.9l-1.6 2l-3.3 2.3l-1.6 0.7l-3.1 0.6l-4.7 -0.1l-6.3 -0.9l-1.5 0.2l-1.4 1.2l-0.2 0.5l-0.6 7.4l-0.5 2l-0.7 2l-1.2 2l-1.9 1.9l-1.4 1l-2 1l-2.6 0.7l-3.2 0l-3.1 -0.8l-3.1 -1.7l-2.1 -2.1l-1.2 -2l-0.6 -2l-0.1 -2l0.8 -5.9l0 -2l-0.6 -2l-4.7 -7.9l-4.1 -11.5l-1.5 -2.1l-1.6 -1.3l-3.1 -1.3l-3.1 -0.7l-3.2 -0.1l-3.1 0.3l-4.7 1.4l-4.7 2.4l-11 7l-3.1 1.3l-10.9 3.3l-4.7 2.5l-3.2 2.6l-1.9 2.1l-2.8 3.8l-3.1 6.1l-1.9 6l-1.5 7.9l-0.5 7.9l0.5 8l0.9 5.9l2.9 13.9l0.6 4l0.1 3.9l-0.3 2l-0.8 2l-1.4 2l-2.3 1.9l-3.3 2l-13.3 6.4l-4.7 2.8l-1.1 0.7l-1.7 2l-0.7 2l0.3 2l1 2l5.2 5.9l3.7 6l1.7 1.9l2.7 2l4.3 2l8 2zM322.3 493.8l-3.5 -2.1l-1.2 -2l-0.2 -2l0.7 -2l1.7 -2l4 -2.4l3.2 -0.9l3.1 -0.4l6.5 -0.2l1.3 -1.1l1 -4.9l0.8 -2l1.6 -2l3 -1.9l3 -1l3.2 -0.3l4.7 0.7l3.1 1.4l1.6 1.1l1.8 2l1.1 2l0.5 2l0.1 2l-0.4 2.4l-0.7 1.5l-0.9 1.4l-1.6 1l-1.5 0.7l-3.1 0.5l-3.2 0.1l-7.8 -0.5l-1.6 0.6l-2.8 4.2l-2 2l-3 1.7l-4.7 1.3l-3.1 0.1l-3.2 -0.5zM386.5 535.4l11.5 -0.1l-2.2 0.7l-3.1 0.4l-4.7 -0.6zM320.7 460l-3.1 -1.2l-1.6 -1.1l-1.7 -1.7l-1.2 -2l-0.6 -2l0 -2l0.4 -2l1 -1.9l2.1 -2.2l3.2 -1.6l3.1 -0.5l1.5 0.2l3.2 1.3l2.5 2.8l1.1 1.9l0.6 2l0.2 2l-0.1 2l-1.2 3l-1.6 1.7l-1.5 0.9l-1.6 0.5l-3.1 0.2z" fill="#0034ff"/>
<path d="M364.6 555.1l10.9 0.9l17.2 0.2l20.4 -0.4l21.9 -1.1l7.8 -0.5l0 -3.4l-17.2 -0.5l-21.9 -0.2l-21.9 0.3l-20.3 0.7l-10.9 2l6.1 1.3l7.8 0.7zM330 543.2l37.7 0.8l26.6 0.2l31.3 -0.6l11.1 -0.4l6.1 -0.6l0 -50.4l-11 -1.2l-4.7 0.2l-10.9 1.5l-4.7 0.2l-6.3 -0.3l-12.5 -1.4l-14.1 -0.8l-12.5 -1.1l-6.3 0.1l-7.8 0.8l-4.7 1l-9.4 4.3l-4.7 1.6l-4.7 0.8l-9.3 0.5l-3.2 0.6l-3.1 1.2l-6.7 3.3l-19.9 8.5l-2.8 1.5l-2.9 1.9l-1.9 2l-0.7 2l0.4 2l1.2 2l1.8 2l4.5 3.9l5.3 6l2.4 1.9l3.9 2l7 2l10 1.2l14 0.7zM381.8 537.4l-1.1 -0.2l-2.1 -1.9l14.1 -0.6l12.5 0.5l0.2 0.1l-0.2 0.3l-1.1 1.6l-0.4 0.1l-9.4 0.5l-11 -0.3zM408.4 504l-1.2 -0.5l4.3 -0.7l3.1 0l3.2 0.6l0.3 0.1l-0.3 0.2l-3.2 0.9l-3.1 0.2l-1.6 -0.3zM376.4 483.7l10.1 0.1l6.2 -0.7l3.1 -0.9l7.9 -3.1l3.1 -1l4.7 -1.1l9.4 -1.5l3.1 -1.3l1.6 -1.4l6.5 -8.9l8.2 -7.9l2.5 -2.9l0 -44.3l-11 1.9l-3.1 0.9l-1.4 0.8l-1.7 2.2l-2.1 9.7l-0.9 1.9l-1.4 2l-1.9 2l-1.5 1.1l-3.2 1.5l-3.1 0.8l-6.3 1.1l-1.5 0.5l-1.5 0.9l-1.7 2l-2.8 6l-1.2 2l-1.8 1.9l-3.6 2.5l-1.5 0.6l-3.1 0.7l-4.7 -0.2l-3.2 -1.1l-3.1 -1.9l-2.5 -2.5l-1.1 -2l-0.6 -2l-0.3 -2l-0.1 -5.9l-0.9 -4l-5.5 -10.8l-1.5 -2.5l-1.6 -1.8l-1.6 -1.3l-1.5 -0.8l-3.1 -1l-3.2 -0.2l-3.1 0.5l-3.1 1.1l-1.6 0.9l-2.8 2l-2.1 2l-3.2 4l-2.4 3.9l-1.9 4l-1.3 4l-0.1 1.9l0.3 2l2.5 7l1.4 4.9l0.6 4l0.4 5.9l0.6 2l1.7 1.9l1.6 0.6l12.5 0.8l3.2 0.7l3.1 1.3l3.1 2.2l2.2 2.4l1.9 4l1.2 4l1 1.6l1.5 1.2l1.6 0.5l4.7 0.6z" fill="#004eff"/>
<path d="M362.9 553.1l6.3 0.8l7.9 0.5l21.9 0.5l25 -0.5l18 -1.3l-6.3 -2l-28.9 -0.6l-33.2 0.6l-10.6 2zM362.1 543.2l24.4 0.3l26.9 -0.3l18.4 -1.3l11 -1.3l0 -45l-14.1 -1.6l-17.2 0.1l-18.8 -1.5l-10.9 -0.3l-12.6 0.1l-9.4 0.8l-7.8 1.7l-15.6 4.7l-15.7 3.2l-12.5 3.4l-12.5 4.5l-6.1 2.8l-3 1.9l-1.9 2l-0.7 2l0.4 2l1.4 2l3.6 3l12.5 8.9l3.9 1.9l7 2l9.5 1.3l7.1 0.7l32 2zM373.9 537.4l-0.6 -0.2l-0.5 -1.9l9 -0.8l15.6 -0.2l13.7 1l0.5 1.9l-7.9 1l-15.7 0.3l-12.5 -0.9zM409.9 505.6l-1.5 -0.3l-3.7 -1.8l3.7 -1.2l6.2 -0.4l3.2 0.4l3.2 1.2l-5 2l-4.5 0.2zM378.8 481.7l9.2 0.5l6.3 -0.9l12.5 -4.3l11.9 -3.2l3.3 -2l2 -2l6.6 -7.9l12.2 -13l0 -37.5l-4.7 0.1l-4.7 0.8l-3.1 1.3l-1.1 0.7l-2.1 3.1l-2.1 6.9l-0.9 1.9l-1.2 2l-2 2.3l-1.6 1.4l-3.1 1.9l-7.8 2.9l-2.9 1.4l-2.2 2l-6.2 7.9l-2.4 2l-3.6 1.9l-4.6 1.1l-4.7 -0.2l-4.7 -1.6l-3.2 -2l-3 -3.1l-1.1 -2l-0.6 -2l-1.2 -7.9l-1 -4l-1.8 -4l-2.2 -3.7l-3.2 -3.5l-1.5 -1.1l-3.1 -1.3l-1.6 -0.2l-3.1 0.1l-3.2 1.1l-1.5 0.9l-3.2 2.6l-3.1 4.2l-2.3 4.9l-1.1 4l-0.4 3.9l0.3 4l1.4 5.9l1.6 6l1.8 4l1.8 2.1l3.2 1.8l9.4 2.5l4.6 2.2l4.1 3.2l1.6 2l3.7 6l1.6 1.5l3.1 1.5l4.7 0.9z" fill="#0069ff"/>
<path d="M374.4 553.1l12.1 0.8l15.6 0.2l15.7 -0.2l13.6 -0.8l-9.6 -2l-13.4 -0.2l-20.7 0.2l-12.2 1.8zM353 541.2l14.7 0.9l12.5 0.3l26.6 -0.4l14.8 -0.8l13.5 -2l7.7 -1.4l0 -39.5l-15.7 -1.7l-34.4 -2.6l-10.9 -0.1l-11 0.6l-9.4 1.6l-21.7 5.5l-25.2 5.2l-11 3.1l-7.8 3.2l-4.1 2.3l-1.9 2l-0.7 2l0.6 2l1.7 2l2.8 2.1l4.7 2.6l14.1 6l7.8 2.3l16.2 2.8l15.1 1.9zM394.3 539.2l-18.8 -0.5l-6.3 -0.7l-3.7 -0.8l1.2 -1.9l11.9 -1.1l12.5 -0.4l12.6 0.3l13.4 1.2l3.1 1.9l-4 1l-4.7 0.5l-15.7 0.5zM406.8 505.6l-0.6 -0.1l-3.6 -2l2.6 -1.4l3.2 -0.8l3.1 -0.4l6.3 0.1l3.1 0.7l1.6 0.8l1 1l-4.4 2l-6 0.4l-4.7 -0.1zM379.1 479.8l7.4 0.8l6.2 -0.3l3.1 -0.8l17.4 -5.7l3 -1.4l1.6 -0.9l3.1 -2.7l8.1 -8.9l10.7 -10.5l3.1 -3.7l0 -31.1l-1.6 -0.5l-1.5 -0.3l-3.2 0.1l-2 0.4l-2.7 1.2l-1.5 1.3l-1.6 2.3l-2.2 5.2l-2 3.9l-1.5 2l-2.1 2.2l-3.1 2.3l-6.7 3.4l-3.2 2l-2.7 2.3l-5.3 5.6l-4.1 3.2l-4.7 2.2l-4.6 0.9l-4.7 -0.3l-4.7 -1.3l-3.2 -1.7l-3.8 -3l-1.6 -1.9l-1.7 -4l-1.4 -7.9l-1.2 -4l-2.8 -5l-3.1 -3.2l-3.1 -1.5l-1.6 -0.3l-3.1 0.2l-3.2 1.3l-3 2.6l-1.7 2.2l-1.9 3.7l-1.2 4l-0.5 3.9l0.1 4l1.2 5.9l1.4 4l2.2 4l1.7 2l2.7 1.9l8.4 3.5l4.7 2.6l4.6 3.8l4.8 5.7l1.6 1.4l3.1 1.8l3.1 1z" fill="#0083ff"/>
<path d="M388.5 553.1l15.2 0.3l14.2 -0.3l-6.4 -0.6l-7.8 -0.3l-14.1 0.8zM338.3 535.3l5.9 0.8l6.3 0.3l3.1 -0.3l3.7 -0.8l13.5 -1.1l11 -0.7l10.9 -0.2l17.2 0.7l21.9 2l4.7 -0.1l6.3 -0.6l0 -35l-9.4 -0.6l-6.3 0l-0.8 1.9l-0.1 1.9l-4.7 2l-6.9 0.7l-6.2 -0.1l-4.3 -0.6l-3.5 -2l1.5 -1.4l3.1 -1.4l3.2 -0.7l4.8 -0.4l-1.4 -2l-17.5 -2l-7.8 -0.2l-7.9 0.4l-10.9 1.5l-18.6 4.3l-28.4 5.5l-7.8 1.8l-6.3 1.8l-7.1 2.8l-3.4 1.9l-2 2l-0.7 2l0.7 2l2 2l5.8 3.2l4.7 1.8l6.3 1.9l9.4 2.2l15.6 2.7zM380.1 477.8l6.4 1.1l3.1 0.1l3.1 -0.3l4.1 -0.9l5.9 -2l5.5 -2l4.4 -2l2.9 -2l2.3 -1.9l7.9 -8l12.4 -11.3l2.3 -2.5l2.4 -3.4l0 -24.2l-1.6 -1.1l-1.5 -0.6l-1.6 -0.2l-3.1 0.4l-1.6 0.7l-1.6 1.1l-1.5 1.9l-4.7 8.5l-3.1 3.9l-3.2 2.6l-9.4 6.4l-9.1 7.9l-3.4 2.4l-3.1 1.5l-3.2 1.1l-3.1 0.6l-4.7 0l-4.7 -0.9l-3.1 -1.1l-3.3 -1.6l-3 -2l-1.5 -1.3l-2 -2.6l-0.8 -2l-2.1 -9.9l-1.4 -3.8l-1.6 -2.6l-1.5 -1.7l-1.6 -1.2l-1.5 -0.8l-3.2 -0.4l-3.1 0.9l-2.2 1.6l-1.7 2l-2.1 4l-0.6 2l-0.6 3.9l0.1 4l0.8 4l1.4 3.9l1.8 3.2l2.2 2.8l2.3 2l9.5 5.1l3.2 2l10.9 9.6l4.7 2.5z" fill="#009dff"/>
<path d="M343 533.3l5.9 0.6l4.7 0.2l37.5 -1.1l15.7 0.2l21.9 1.2l6.3 -0.1l7.8 -0.5l0 -31.8l-4.7 -0.2l-4.7 0.2l-1.6 0.3l-2.4 1.2l-5.6 2l-2.9 0.5l-6.3 0.5l-6.2 -0.1l-6.2 -0.9l-3.6 -2l1.1 -1.9l0.8 -1l2.3 -1l-2.3 -1.2l-3.1 -0.8l-4.7 -0.4l-4.7 -0.1l-6.2 0.2l-11 1.5l-23.6 4.7l-18.7 3.4l-9.3 1.9l-9.4 2.4l-4.7 1.7l-3.2 1.5l-1.7 1l-2.1 2l-0.6 2l0.8 2l2.4 2l5.9 2.8l7.9 2.3l9.3 1.9l18.8 2.8zM382.1 475.8l5.9 1.2l4.7 -0.1l5 -1.1l5.6 -2l4.4 -2l3.3 -2l2.1 -1.6l7 -6.3l8.6 -6.8l6.3 -5.3l3.1 -3.3l2 -2.4l1.2 -2l1.5 -3.4l0 -14.6l-1.6 -2.4l-2 -1.4l-2.7 -0.4l-1.5 0.3l-1.6 0.9l-1.6 1.4l-1.5 2.2l-4.7 7.4l-3.1 3.4l-9.4 7.1l-11.4 9.4l-2.7 1.8l-3.2 1.6l-4.7 1.4l-3.1 0.5l-4.7 0l-4.7 -0.8l-7.8 -2.9l-4.7 -2.6l-1.1 -1l-1.5 -2l-0.9 -1.9l-1.9 -10l-0.9 -2.6l-1.8 -3.3l-1.3 -1.3l-1.5 -1.1l-1.6 -0.5l-1.6 0l-2.6 0.9l-2.1 1.8l-1.4 2.2l-0.8 2l-0.5 1.9l-0.3 4l0.2 2l0.9 4l1.9 3.9l1.4 2l1.8 1.9l2.4 2.1l10.1 6.7l10.9 8.7l3.8 2.4l4.1 1.9z" fill="#00b7ff"/>
<path d="M425.7 533.3l9.3 -0.2l7.8 -0.5l0 -29.3l-4.7 -0.1l-4.7 0.5l-3.1 0.5l-4.2 1.3l-6.8 1l-6.2 0.3l-4.7 -0.2l-7.9 -1.1l-3.9 -2l-0.8 -2.4l-1.7 -1.5l-3 -0.5l-4.6 -0.2l-6.3 0.3l-9.4 1.3l-43.8 7.8l-11 2.5l-7.8 2.5l-4.3 2.1l-2.1 2l-0.6 2l1.1 2l2.7 2l1.6 0.7l7.9 2.7l6.2 1.4l11 1.9l17.2 2.4l10.9 0.5l36 -0.4l29.8 0.7zM385.6 473.8l4 0.7l3.1 0l3.8 -0.7l5.5 -2l3.6 -2l8 -5.9l10.4 -7l4.7 -3.4l4.7 -3.9l3.4 -3.5l1.6 -2l1.1 -2l1.4 -4l0.1 -3.9l-0.5 -6l-0.8 -2.2l-2 -1.7l-1.2 -0.3l-1.5 0.2l-1.6 1l-1.6 1.6l-3.6 5.4l-3.4 3.9l-2.3 2l-9.4 7l-11 9.3l-4.7 2.8l-3.1 1.1l-3.2 0.7l-6.2 0.4l-6.3 -0.7l-10.9 -2.8l-3.2 -0.4l-1.5 0.1l-0.5 0.4l0.5 2l1.5 1.9l1.9 2l4.8 4l5.9 4l3.5 1.9l4.3 1.8zM356.1 452l2.2 0.1l0.5 -2.1l-0.3 -9.9l-0.9 -4l-0.8 -1.9l-1.6 -1.9l-1.6 -0.8l-1.6 0l-1.5 0.6l-1.6 1.6l-1.2 2.4l-0.4 2l-0.1 2l0.2 2l1.5 4.1l1.6 2.2l1.5 1.5l3.2 1.8z" fill="#00d1ff"/>
<path d="M349.2 531.3l9.1 0.9l9.4 0.2l28.1 -0.2l29.8 0.4l7.8 -0.3l9.4 -0.6l0 -27.5l-7.8 0.2l-6.1 1.1l-9.6 1.3l-9.4 0.2l-4.7 -0.4l-6.4 -1.1l-4.5 -2l-1.6 -1.3l-3.1 -1.1l-3.1 -0.4l-4.7 0l-14.1 1.6l-25.1 4.2l-14.1 2.5l-10.9 2.5l-4.7 1.5l-3.1 1.3l-2.3 1.1l-2.3 2l-0.5 2l1.3 2l2.2 1.4l4.7 2l7.8 2.1l9.4 1.7l18.8 2.7zM386.7 469.8l2.9 0.7l3.1 0.2l4.7 -1l3.8 -1.8l6.6 -4l13.1 -6.6l4.7 -3l4.7 -3.5l4.9 -4.7l2.5 -4l0.6 -2l0.1 -2l-0.4 -2l-1.5 -3.6l-1.5 -1.3l-1.6 0.4l-7.5 6.5l-8.1 5.5l-4.7 3.5l-5.5 4.9l-5.5 5.5l-3.1 2.3l-1.6 0.8l-3.1 1l-14.9 2.3l0.7 2l2.6 2l3.8 1.9z" fill="#00ebff"/>
<path d="M358 531.3l14.4 0.6l46.9 0.1l11 -0.3l12.5 -0.8l0 -25.8l-7.8 0.2l-17.2 1.9l-7.9 0.1l-6.2 -0.6l-6.7 -1.2l-2.7 -1.1l-6.3 -2l-4.7 -0.3l-4.7 0.1l-17.2 2.1l-23.5 3.8l-12.5 2.5l-7.8 2.1l-6.7 2.7l-2.4 2l-0.4 2l1.4 2l3.6 2l6.1 1.9l7.8 1.7l20.3 3.2l9.4 1zM406.3 458l0.5 1l1.6 0.8l1.5 0l4.7 -1.1l4.7 -2l4.7 -2.6l4.7 -3.3l3.1 -2.8l3.1 -3.9l0.8 -2l0 -2l-0.7 -1.4l-1.6 -0.8l-1.6 0l-3.1 1l-7.8 4.3l-6.3 4.4l-4.7 4.4l-1.6 2l-1.3 2l-0.2 0.8z" fill="#00fff8"/>
<path d="M369.3 531.3l46.9 0.1l12.5 -0.3l14.1 -0.9l0 -24.3l-7.8 0l-15.7 1.5l-9.4 0.2l-9.4 -1l-5.5 -1.1l-5.4 -1.5l-6.3 -0.8l-6.2 0.2l-11 1.1l-15.6 2.3l-18.8 3.3l-6.3 1.4l-6.7 2l-4.6 1.9l-2.4 2l-0.4 2l1.6 2l4.1 2l6.8 1.9l14.1 2.6l14.1 2l7.8 0.8l9.4 0.6zM410.7 456l0.8 0.6l1.6 0.3l1.5 -0.1l3.2 -0.9l4.2 -1.9l3.6 -2.2l4.6 -3.8l1.7 -1.9l1 -2l0.1 -2l-1.2 -1.1l-1.5 -0.1l-1.6 0.2l-3.1 1.1l-4.7 2.5l-4.9 3.3l-4 4l-1.2 2z" fill="#00ffde"/>
<path d="M353.7 529.3l14 1.4l18.8 0.4l32.8 -0.3l23.5 -1.3l0 -23l-7.8 0l-15.7 1.2l-9.4 0.1l-7.8 -0.7l-15.6 -2.8l-7.9 -0.2l-7.8 0.7l-15.6 2l-14.1 2.3l-14.1 2.9l-5 1.5l-4.4 1.8l-2.9 2.1l-0.4 2l1.9 2l4.5 2l7.8 2l14.1 2.5l11 1.4zM414.2 454l2 0.5l1.6 -0.2l1.5 -0.4l3.9 -1.9l3 -2l2.2 -2l1.5 -1.9l0.3 -2l-1.5 -0.7l-1.6 0.1l-1.5 0.4l-3.1 1.4l-4.4 2.7l-2.2 2l-1.6 2z" fill="#00ffc4"/>
<path d="M359.4 529.3l14.5 1.1l18.8 0.3l26.6 -0.4l23.5 -1.4l0 -21.7l-7.8 -0.2l-15.7 1l-9.4 0l-7.5 -0.5l-15.9 -2.4l-7.9 -0.2l-14.1 1.3l-14 2l-12.6 2.1l-9.4 2.2l-3.4 1l-5 1.9l-2.5 2l-0.3 2l2.1 2l4.8 2l9 2.1l14.1 2.4l11 1.3zM418.6 450l0.7 1.7l4.3 -1.7l2.3 -2l-0.3 -1.8l-1.6 0.4l-3.1 1.4l-1.6 1.4z" fill="#00ffaa"/>
<path d="M365.5 529.3l14.7 0.8l21.9 0l18.8 -0.4l21.9 -1.3l0 -20.7l-9.4 -0.1l-15.6 0.7l-7.9 0l-9.4 -0.7l-12.5 -1.8l-4.7 -0.2l-6.2 0.1l-11 0.9l-14.1 1.9l-12.5 2.2l-9.4 2.2l-7.1 2.5l-2.7 2l-0.2 2l2.3 2l5.1 2l10.4 2.3l15.7 2.4l10.9 1.1z" fill="#00ff90"/>
<path d="M372.9 529.3l13.6 0.5l20.3 -0.2l18.8 -0.7l17.2 -1l0 -19.6l-1.6 -0.1l-7.8 -0.2l-15.6 0.5l-7.9 0l-7.8 -0.5l-15.6 -1.8l-9.4 0.1l-9.4 0.8l-14.1 1.8l-12.5 2.1l-10.1 2.5l-5.3 1.9l-2.7 2l-0.2 2l2.5 2l1.7 0.7l6.2 1.9l11 2.2l15.6 2.1l12.6 1z" fill="#00ff76"/>
<path d="M386.6 529.3l29.6 -0.4l26.6 -1.5l0 -18.6l-9.4 -0.4l-23.5 0.3l-7.8 -0.4l-14.1 -1.5l-4.7 -0.2l-7.8 0.3l-12.5 1.2l-12.5 1.8l-9.4 1.8l-7.4 1.8l-5.4 1.9l-2.7 2l-0.2 2l2.6 2l5.7 2l13.6 2.7l20.4 2.4l18.8 0.8z" fill="#00ff5c"/>
<path d="M361 527.3l14.5 1.3l17.2 0.3l25.1 -0.5l25 -1.5l0 -17.6l-11 -0.5l-21.9 0.2l-21.9 -1.7l-7.8 -0.1l-17.2 1.4l-11 1.6l-9.4 1.7l-6.2 1.6l-5.6 1.9l-2.8 2l-0.1 2l2.8 2l6 2l10.6 2.1l12.5 1.7z" fill="#00ff41"/>
<path d="M365.7 527.3l14.5 1l17.2 0.2l21.9 -0.6l23.5 -1.4l0 -16.8l-11 -0.5l-21.9 0l-20.3 -1.4l-9.4 -0.1l-7.8 0.4l-9.4 1l-11 1.6l-7.8 1.5l-5.2 1.3l-5.7 1.9l-2.9 2l0 2l2.9 2l6.2 2l12.5 2.3l12.5 1.5z" fill="#00ff27"/>
<path d="M370.9 527.3l14 0.7l17.2 0l21.9 -0.8l18.8 -1.2l0 -15.8l-3.1 -0.2l-9.4 -0.4l-20.4 -0.2l-20.3 -1.2l-9.4 -0.1l-9.4 0.6l-12.5 1.5l-9.4 1.6l-7.4 1.7l-5.9 1.9l-2.9 2l0 2l3.1 2l6.4 2l8.3 1.6l9.3 1.3l11 1z" fill="#00ff0d"/>
<path d="M377.6 527.3l12 0.4l17.2 -0.3l18.8 -0.7l17.2 -1.1l0 -14.9l-9.4 -0.6l-21.9 -0.4l-21.9 -1.1l-9.4 0l-9.4 0.6l-11 1.3l-9.3 1.5l-7.9 1.9l-4.7 1.5l-2.9 2l0 2l3.2 2l6.7 2l8.7 1.6l10.9 1.4l12.6 0.9z" fill="#0dff00"/>
<path d="M359.4 525.4l14.5 1.4l17.2 0.5l26.7 -0.6l25 -1.5l0 -14.1l-11 -0.7l-21.9 -0.4l-25 -1.1l-14.1 0.7l-14.6 1.9l-9.8 2l-6.2 1.9l-3 2l0 2l3.3 2l3.7 1.1l4.7 1.1l9.4 1.6z" fill="#27ff00"/>
<path d="M362.9 525.4l15.7 1.2l15.7 0.3l25 -0.6l23.5 -1.6l0 -13.1l-12.5 -0.9l-20.4 -0.5l-23.4 -0.9l-14.1 0.6l-14.1 1.7l-9.5 1.9l-6.4 1.9l-3.1 2l0.1 2l3.4 2l4.5 1.3l6.3 1.3l7.8 1.2z" fill="#41ff00"/>
<path d="M366.6 525.4l15.2 1l17.2 0.1l21.9 -0.7l21.9 -1.5l0 -12.3l-14.1 -1l-42.2 -1.4l-14.1 0.7l-14.1 1.8l-7.1 1.4l-6.6 1.9l-3.2 2l0.1 2l3.6 2l5.4 1.4l6.2 1.3l9.4 1.2z" fill="#5cff00"/>
<path d="M370.7 525.4l14.2 0.7l18.8 -0.1l20.3 -0.7l18.8 -1.4l0 -11.4l-4.7 -0.5l-12.5 -0.8l-39.1 -1.2l-7.9 0.2l-7.8 0.6l-14.1 2l-3.1 0.7l-6.9 1.9l-3.2 2l0.1 2l3.8 2l6.2 1.6l6.2 1.1l9.4 1.1z" fill="#76ff00"/>
<path d="M375.7 525.4l12.3 0.4l18.8 -0.2l18.8 -0.8l17.2 -1.4l0 -10.4l-14.1 -1.2l-36 -1.4l-9.4 0l-14.1 1l-14 2.3l-6.4 1.7l-1.5 0.9l-1.8 1.1l0.2 2l3.9 2l8.4 2l8.1 1.1l9.4 0.8z" fill="#90ff00"/>
<path d="M383 525.4l14.4 0l17.2 -0.4l15.7 -0.9l12.5 -1.2l0 -9.5l-14.1 -1.2l-14.7 -0.7l-24.4 -0.8l-11 0.3l-7.8 0.7l-7.8 1l-4.7 0.8l-7.3 1.9l-3.4 2l0.2 2l4 2l6.5 1.5l6.2 1l7.9 0.8l9.4 0.6z" fill="#aaff00"/>
<path d="M363.7 523.4l14.9 1.4l15.7 0.3l25 -0.7l20.4 -1.6l3.1 -0.4l0 -8.4l-17.2 -1.6l-31.3 -1.2l-12.5 0l-12.6 1l-8.2 1.3l-5.8 1.4l-2.1 0.5l-3.5 2l0.2 2l3.8 1.8l9.4 2.1z" fill="#c4ff00"/>
<path d="M366.7 523.4l15.1 1.2l15.6 0.1l23.5 -0.8l17.2 -1.4l4.7 -0.6l0 -7.3l-8.4 -1.1l-8.8 -0.7l-28.2 -1.2l-14.1 -0.1l-12.5 1l-7.2 1l-6.9 1.6l-1.4 0.3l-3.7 2l0.3 2l4.4 2l9.8 1.9z" fill="#deff00"/>
<path d="M370.1 523.4l16.4 1l18.7 -0.2l18.8 -0.8l18.6 -2l0.2 -0.1l0 -6.2l-6.3 -0.8l-6.9 -0.8l-8.7 -0.6l-28.2 -1.1l-12.5 0.3l-12.5 1.2l-10.2 2.1l-3.9 2l0.4 2l4.7 2l10.5 1.9z" fill="#f8ff00"/>
<path d="M373.9 523.4l14.1 0.7l18.8 -0.3l15.7 -0.8l16.3 -1.6l4 -0.9l0 -4.6l-1.7 -0.5l-10.8 -1.4l-14.1 -1l-25.1 -0.8l-10.9 0.2l-11 1.1l-9.5 1.9l-4 2l0.3 2l5.1 2l11.3 1.8z" fill="#ffeb00"/>
<path d="M378.7 523.4l14 0.3l21.9 -0.6l20.1 -1.7l8.1 -1.8l0 -2.6l-5.5 -1.6l-19 -1.9l-19.3 -0.8l-14.1 -0.1l-12 0.9l-10.9 1.9l-4.2 2l0.4 2l5.4 2l7.2 1.2l7.8 0.8z" fill="#ffd100"/>
<path d="M387.4 523.4l16.3 -0.2l17.2 -0.9l9.6 -0.9l9.5 -2l0.7 -2l-7.4 -2l-18.7 -1.7l-17.2 -0.7l-12.5 0l-9.4 0.6l-11 1.8l-4.6 2l0.5 2l5.8 2l9.3 1.3l11 0.7z" fill="#ffb700"/>
<path d="M369 521.4l9.6 1.1l9.4 0.5l12.5 -0.1l14.1 -0.6l11.2 -0.9l10.5 -2l0.8 -2l-0.6 -0.1l-7.5 -1.9l-12.8 -1.1l-17.2 -0.9l-16.3 0.1l-7.2 0.6l-7.8 1.2l-5.5 2.1l0.4 2l5.1 1.6z" fill="#ff9d00"/>
<path d="M372.2 521.4l9.6 0.9l9.3 0.3l15.7 -0.4l13.9 -0.8l11.8 -2l0.8 -2l-3 -0.7l-6 -1.3l-14.4 -1.1l-17.2 -0.6l-10.9 0.3l-12 1.4l-5.3 2l0.5 2l5.8 1.7z" fill="#ff8300"/>
<path d="M375.8 521.4l9.1 0.7l7.8 0.1l15.7 -0.5l9.4 -0.7l10.5 -1.6l1 -2l-8.4 -1.7l-11 -0.9l-15.6 -0.6l-9.4 0.1l-9.4 0.8l-2.6 0.3l-6 2l0.6 2l8 1.9z" fill="#ff6900"/>
<path d="M380.6 521.4l10.5 0.4l15.7 -0.4l9.4 -0.9l7.6 -1.1l1.1 -2l-12 -2l-21.8 -0.8l-7.8 0.2l-6.8 0.6l-7 2l0.8 2l9.9 1.9z" fill="#ff4e00"/>
<path d="M373.3 519.4l5.3 1l6.3 0.7l6.2 0.2l7.9 -0.2l9.4 -0.5l10.4 -1.2l1.3 -2l-15.3 -2l-13.7 -0.3l-9.8 0.3l-8.9 2z" fill="#ff3400"/>
<path d="M376.9 519.4l4.9 0.7l6.2 0.5l12.5 -0.2l12.4 -1l1.6 -2l-12.4 -1.3l-11 -0.5l-7.8 0.4l-7.5 1.4z" fill="#ff1a00"/>
<path d="M381.6 519.4l9.5 0.5l13.9 -0.5l2.4 -2l-10 -0.7l-7.8 -0.2l-6.3 0.4l-3.3 0.5l0.2 0.3z" fill="#ff0000"/>
<path d="M374.4 553.1l12.1 0.8l15.6 0.2l15.7 -0.2l13.6 -0.8l-9.6 -2l-16.6 -0.2l-17.5 0.2l-13.3 2M394.3 539.2l-18.8 -0.5l-6.3 -0.7l-3.7 -0.8l1.2 -1.9l10.4 -1l15.6 -0.5l14.1 0.5l10.3 1l3.1 1.9l-4 1l-4.7 0.5l-17.2 0.5M406.8 505.6l-0.6 -0.1l-3.6 -2l2.6 -1.4l4.7 -1.1l4.7 -0.2l4.7 0.5l3.2 1.2l1 1l-4.4 2l-6 0.4l-6.3 -0.3M442.8 498.3l-15.7 -1.7l-34.4 -2.6l-14.1 0l-10.9 0.9l-7.9 1.5l-20.1 5.2l-23.7 4.8l-9.4 2.5l-6.2 2.2l-6.3 2.8l-2.5 1.5l-1.9 2l-0.7 2l0.6 2l1.7 2l4.4 3l7.8 3.9l11 4.4l9.9 2.5l12.5 2l16.1 2l27.2 1.2l26.6 -0.4l14.8 -0.8l21.2 -3.4M442.8 414.6l-3.1 -0.8l-3.2 0.1l-2 0.4l-2.7 1.2l-1.5 1.3l-1.6 2.3l-4.2 9.1l-3.6 4.2l-3.1 2.3l-6.7 3.4l-3.2 2l-2.7 2.3l-5.3 5.6l-4.1 3.2l-3.1 1.6l-3.1 1l-4.7 0.5l-3.1 -0.3l-3.2 -0.7l-4.7 -2.3l-3.8 -3l-1.6 -1.9l-1 -2l-0.7 -2l-1.9 -9.9l-1.9 -4.5l-3.2 -4.3l-1.5 -1.4l-3.1 -1.5l-3.2 -0.4l-3.1 0.8l-2.4 1.4l-2.3 2.1l-2.6 3.8l-1.6 4l-0.9 3.9l-0.2 4l0.5 4l1.7 6.2l1.6 3.7l2.9 4l2.7 1.9l8.4 3.5l4.7 2.6l3.1 2.4l6.3 7.1l3.1 2.4l4.7 1.8l6.3 0.9l4.7 0l5.4 -0.8l18.2 -6l4.1 -2l3.6 -3l8.1 -8.9l9.1 -8.9l4.7 -5.3" fill="none" stroke="#3a3a3a" stroke-width="0.65"/>
<path d="M442.8 505.1l-7.8 0.2l-17.2 1.9l-7.9 0.1l-6.2 -0.6l-6.7 -1.2l-9 -3.1l-4.7 -0.3l-7.8 0.4l-28.2 4l-14.1 2.5l-10.9 2.3l-7.1 2.2l-4.3 1.9l-2.4 2l-0.4 2l1.4 2l3.4 1.8l7.8 2.5l14.1 2.6l21.9 2.9l14.1 0.7l48.5 0.1l11 -0.3l12.5 -0.8M406.3 458l0.5 1l1.6 0.8l4.7 -0.7l6.2 -2.4l6.3 -3.6l6.2 -5.1l3.1 -3.9l0.8 -2l0 -2l-0.7 -1.4l-1.6 -0.8l-1.6 0l-3.1 1l-4.7 2.4l-6.2 3.9l-3.8 2.8l-4.1 4l-2.9 4l-0.7 2" fill="none" stroke="#3a3a3a" stroke-width="0.65"/>
<path d="M442.8 508.3l-9.4 -0.3l-21.9 0.5l-9.4 -0.5l-17.2 -1.9l-6.3 0.1l-7.8 0.5l-18.8 2.4l-10.9 1.9l-7.9 1.8l-7.5 2.6l-2.7 2l-0.2 2l2.5 2l1.7 0.7l3.7 1.3l5.7 1.3l12.5 2.2l18.8 2.1l15.6 0.7l18.8 0l21.9 -0.7l18.8 -1.1" fill="none" stroke="#3a3a3a" stroke-width="0.65"/>
<path d="M442.8 510.7l-12.5 -0.7l-21.9 -0.4l-20.4 -1.1l-10.9 0.2l-15.7 1.5l-12.5 2.1l-5 1.2l-6 1.9l-2.9 2l0 2l1.4 0.9l1.8 1.1l6 1.8l12.5 2.2l14.1 1.5l14.1 0.7l17.2 0l21.9 -0.8l18.8 -1.2" fill="none" stroke="#3a3a3a" stroke-width="0.65"/>
<path d="M442.8 513l-19.7 -1.5l-32 -1.1l-10.9 0.1l-12.5 1.1l-11.7 1.9l-7.2 1.9l-3.3 2l0.2 2l3.9 2l2.4 0.6l11 2.1l14.1 1.3l12.5 0.4l18.8 -0.2l18.7 -0.9l15.7 -1.3" fill="none" stroke="#3a3a3a" stroke-width="0.65"/>
<path d="M442.8 515.9l-6.3 -1.1l-12.5 -1.4l-21.9 -1l-15.6 -0.2l-9.4 0.5l-9.4 1.1l-8 1.6l-4 2l0.3 2l5.1 2l11.3 1.8l10.9 0.8l15.7 0l18.7 -0.6l17.3 -1.6l3.8 -0.4l4 -0.9" fill="none" stroke="#3a3a3a" stroke-width="0.65"/>
<path d="M375.8 521.4l7.5 0.6l7.8 0.2l23.6 -0.8l13.6 -2l1 -2l-10.3 -2l-7.5 -0.5l-18.8 -0.7l-10.9 0.3l-8.9 0.9l-6 2l0.6 2l8.3 2" fill="none" stroke="#3a3a3a" stroke-width="0.65"/>
</g>
<rect x="267.5" y="396.5" width="175.3" height="168.5" fill="none" stroke="#3a3a3a" stroke-width="1.0"/>
<line x1="267.5" y1="565" x2="267.5" y2="568" stroke="#3a3a3a" stroke-width="1" />
<line x1="292.5" y1="565" x2="292.5" y2="568" stroke="#3a3a3a" stroke-width="1" />
<line x1="317.6" y1="565" x2="317.6" y2="568" stroke="#3a3a3a" stroke-width="1" />
<line x1="342.6" y1="565" x2="342.6" y2="568" stroke="#3a3a3a" stroke-width="1" />
<line x1="367.7" y1="565" x2="367.7" y2="568" stroke="#3a3a3a" stroke-width="1" />
<line x1="392.7" y1="565" x2="392.7" y2="568" stroke="#3a3a3a" stroke-width="1" />
<line x1="417.8" y1="565" x2="417.8" y2="568" stroke="#3a3a3a" stroke-width="1" />
<line x1="442.8" y1="565" x2="442.8" y2="568" stroke="#3a3a3a" stroke-width="1" />
<line x1="280" y1="565" x2="280" y2="567" stroke="#3a3a3a" stroke-width="1" />
<line x1="305.1" y1="565" x2="305.1" y2="567" stroke="#3a3a3a" stroke-width="1" />
<line x1="330.1" y1="565" x2="330.1" y2="567" stroke="#3a3a3a" stroke-width="1" />
<line x1="355.1" y1="565" x2="355.1" y2="567" stroke="#3a3a3a" stroke-width="1" />
<line x1="380.2" y1="565" x2="380.2" y2="567" stroke="#3a3a3a" stroke-width="1" />
<line x1="405.2" y1="565" x2="405.2" y2="567" stroke="#3a3a3a" stroke-width="1" />
<line x1="430.3" y1="565" x2="430.3" y2="567" stroke="#3a3a3a" stroke-width="1" />
<text x="267.5" y="579.8" font-size="10" text-anchor="middle" fill="#111">0</text>
<text x="292.5" y="579.8" font-size="10" text-anchor="middle" fill="#111">2</text>
<text x="317.6" y="579.8" font-size="10" text-anchor="middle" fill="#111">4</text>
<text x="342.6" y="579.8" font-size="10" text-anchor="middle" fill="#111">6</text>
<text x="367.7" y="579.8" font-size="10" text-anchor="middle" fill="#111">8</text>
<text x="392.7" y="579.8" font-size="10" text-anchor="middle" fill="#111">10</text>
<text x="417.8" y="579.8" font-size="10" text-anchor="middle" fill="#111">12</text>
<text x="442.8" y="579.8" font-size="10" text-anchor="middle" fill="#111">14</text>
<line x1="264.5" y1="565" x2="267.5" y2="565" stroke="#3a3a3a" stroke-width="1" />
<line x1="264.5" y1="531.3" x2="267.5" y2="531.3" stroke="#3a3a3a" stroke-width="1" />
<line x1="264.5" y1="497.6" x2="267.5" y2="497.6" stroke="#3a3a3a" stroke-width="1" />
<line x1="264.5" y1="463.9" x2="267.5" y2="463.9" stroke="#3a3a3a" stroke-width="1" />
<line x1="264.5" y1="430.2" x2="267.5" y2="430.2" stroke="#3a3a3a" stroke-width="1" />
<line x1="264.5" y1="396.5" x2="267.5" y2="396.5" stroke="#3a3a3a" stroke-width="1" />
<line x1="265.5" y1="548.1" x2="267.5" y2="548.1" stroke="#3a3a3a" stroke-width="1" />
<line x1="265.5" y1="514.5" x2="267.5" y2="514.5" stroke="#3a3a3a" stroke-width="1" />
<line x1="265.5" y1="480.8" x2="267.5" y2="480.8" stroke="#3a3a3a" stroke-width="1" />
<line x1="265.5" y1="447.1" x2="267.5" y2="447.1" stroke="#3a3a3a" stroke-width="1" />
<line x1="265.5" y1="413.4" x2="267.5" y2="413.4" stroke="#3a3a3a" stroke-width="1" />
<text x="262.5" y="568.5" font-size="10" text-anchor="end" fill="#111">1</text>
<text x="262.5" y="534.8" font-size="10" text-anchor="end" fill="#111">2</text>
<text x="262.5" y="501.1" font-size="10" text-anchor="end" fill="#111">3</text>
<text x="262.5" y="467.4" font-size="10" text-anchor="end" fill="#111">4</text>
<text x="262.5" y="433.7" font-size="10" text-anchor="end" fill="#111">5</text>
<text x="262.5" y="400" font-size="10" text-anchor="end" fill="#111">6</text>
<text x="271.3" y="407.7" font-size="8.7" font-weight="bold" fill="#fff">RuMo@MoOx-JH</text>
<text x="392.5" y="523.1" font-size="8.5" font-weight="bold" text-anchor="middle">Ru-Mo</text>
<text x="363.7" y="544.1" font-size="8.5" font-weight="bold" text-anchor="middle">Ru-O</text>
<text x="355.1" y="593.8" font-size="14" text-anchor="middle"><tspan font-style="italic">k</tspan> (Å<tspan dy="-5.5" font-size="9.5">-1</tspan><tspan dy="5.5">)</tspan></text>
<text x="251.1" y="486.2" font-size="14.4" text-anchor="middle" transform="rotate(-90 251.1 486.2)">R+α (Å)</text>
<g>
<rect x="500.3" y="397.3" width="175.6" height="168.7" fill="#0000ff"/>
<path d="M504.5 564l11.5 1.2l13.1 0.8l117.1 0l14 -0.8l15.7 -1.5l0 -151.8l-2.3 -14.6l-126.8 0l-5.1 6l-4 5.9l-2.1 4l-1.7 3.9l-1.7 6l-0.4 4l0.1 3.9l3.4 19.9l0.7 5.9l-0.1 4l-1 4l-2.3 3.9l-1.9 2l-14.7 12.2l-3.6 3.7l-2.6 4l-1.6 4l-0.4 3.9l0.7 4l2.1 4l2.2 2.7l3.2 2.7l6.2 3.7l4.8 2l4.7 1.5l12.5 2.7l12.5 1.6l12.6 0.8l9.4 -0.1l18.8 -1.1l7.8 -0.2l22 0.7l7.6 0.8l-0.7 2l-6.9 0.8l-22 0.9l-25 0l-9.4 0.9l-10.2 1.4l-36.9 2.8l-23.5 2.5l0 28l3.1 0.3zM633.6 403.3l-1.1 -2l1 -2l1.6 -0.7l1.6 -0.1l1.6 0.6l1.3 2.2l-1 2l-1.9 0.7l-1.6 -0.1z" fill="#001aff"/>
<path d="M541.3 564l15.4 0.7l17.3 0.4l39.2 -0.3l36 -1.6l26.7 -2.7l0 -101.3l-1.1 -6.3l-0.4 -6l0.5 -5.9l1 -4l0 -19.3l-2.2 -6.5l-3 -13.9l-31.4 0l2 2l0.4 2l-0.8 2l-1.1 0.9l-1.5 0.9l-1.6 0.4l-1.6 -0.1l-1.5 -0.4l-2.3 -1.7l-0.7 -2l0.4 -2l1 -1.3l0.9 -0.7l-67.8 0l-5.2 4.8l-4.7 5.3l-4.1 5.8l-3.3 5.9l-1.5 4l-0.6 4l0 2l0.6 3.9l2.6 9.9l2 10l0.4 5.9l-0.7 4l-0.9 2l-1.2 2l-4.1 3.9l-15.9 10.5l-4.2 3.4l-3.7 4l-2.3 4l-0.9 3.9l0.5 4l0.8 2l1.2 2l1.8 2l2.1 1.8l4.7 2.9l6.3 2.5l7.8 2l11 1.6l32.9 3.5l33 1.4l10.9 0.8l9.7 1.3l-0.2 2l-11 1.5l-29.9 2.5l-15.6 2.3l-51.7 3l-17.3 1.5l-14.1 1.9l0 21.2l20.4 2.5l20.4 1.3zM638.3 449.3l-1.4 -0.4l-0.9 -2l2.3 -1.1l3.1 -0.2l1.6 0.3l1.9 1l-0.4 1l-0.5 1l-2.6 0.6l-1.6 0.1z" fill="#0034ff"/>
<path d="M537.4 562l16.2 0.9l18.8 0.5l22 0.1l20.4 -0.4l15.6 -0.6l18.8 -1.2l15.7 -1.6l11 -1.6l0 -92.9l-1.2 -2.4l-1.2 -4l-0.6 -3.9l-0.3 -6l0.1 -4l0.5 -3.9l1 -4l1.7 -4.6l0 -10.6l-3.5 -8.6l-3.7 -11.9l-1.9 -4l-24 0l0.9 2l0 2l-0.8 2l-2 1.9l-2.6 1.1l-1.6 0.3l-3.1 -0.4l-1.6 -0.6l-2.5 -2.3l-0.7 -2l0.1 -1.1l0 -0.9l0.9 -2l-50.6 0l-5.2 3.7l-4.7 4l-4.2 4.2l-3.7 4.4l-2.6 3.5l-2.4 4l-1.4 4l-0.3 2l0.4 3.9l4.1 11.9l2 8l0.7 5.9l-0.3 4l-0.6 2l-1 2l-1.4 2l-2.1 1.9l-5.8 4l-9.6 5.3l-6.3 3.8l-3.8 2.8l-4 4l-2.4 4l-0.5 2l-0.2 1.9l0.2 2l0.6 2l1.2 2l2.6 2.8l4.8 3.1l6.2 2.5l7.8 1.9l7.9 1.2l22.2 2.4l15.4 2.7l8.8 1.3l27.3 1.8l9.4 1.1l6.8 1l0.3 2l-10.3 1.7l-20.9 2.3l-13.6 3l-5.8 0.9l-61.6 3.2l-18.8 1.9l-14.1 2.3l0 16.1l7.8 1.4l11 1.4l17.3 1.5zM630.4 506.7l-1.4 -0.2l1.4 -0.3l4.7 -0.2l2.3 0.5l-5.4 0.3zM635.1 467.2l-1.3 -0.4l0.3 -2l4.2 -0.8l3.1 0.2l1.9 0.6l0.2 2l-3.7 0.8l-3.1 -0.1zM639.8 450.9l-3.1 -0.6l-1.6 -0.7l-1 -0.7l-0.5 -2l2.6 -2l3.6 -0.6l3.2 0.2l2 0.4l2.6 2l-0.5 2l-2.6 1.4l-3.1 0.6z" fill="#004eff"/>
<path d="M570.6 562l30 0.1l31.4 -1l25.1 -2.2l11 -1.5l7.8 -1.6l0 -14l-4 -1.6l-3.3 -2l-0.4 -2l2.1 -2l5.6 -4l0 -61.6l-1.6 -1.8l-1.2 -2l-1.4 -4l-0.7 -4l-0.5 -5.9l0.1 -4l0.5 -4l0.9 -3.9l2.9 -8l0.6 -3.9l-0.2 -2l-1.2 -4l-7.6 -16.3l-1.6 -2.3l-1.5 -1.7l-3.2 -2.3l-2.4 -1.2l-10.6 0l-1.1 4l-1 2l-1.8 1.9l-3.5 1.9l-3.1 0.6l-3.5 -0.5l-1.2 -0.4l-2.6 -1.6l-1.6 -1.9l-0.9 -2l-0.2 -2l0.2 -2l-34.3 0l-7.6 4.1l-4.7 3.2l-3.4 2.6l-4.5 4.1l-4.7 4.7l-2.6 3.1l-2.1 3.2l-1.1 2.8l-0.3 2l0.1 2l1.2 3.9l4.8 9.9l2.4 8l0.8 5.9l-0.5 4l-0.7 2l-1.1 2l-1.7 2l-2.3 1.9l-6.5 4l-10.8 5.3l-6.2 3.4l-4.8 3.2l-3.1 2.7l-2.6 3.3l-1 2l-0.5 2l-0.1 1.9l0.4 2l1 2l1.5 2l2.9 2.4l4.7 2.5l4.7 1.7l6.3 1.4l7.8 1.3l24 2.6l8.9 1.7l8.5 2.3l8.8 1.4l4.4 0.6l23.8 1.9l9.4 1.3l4.4 0.7l1 2l-13.2 2.4l-13.5 1.6l-8 2l-5 1.9l-8 1.3l-9 0.7l-38.1 1.3l-23.5 1.5l-18.8 2.2l-7.8 1.4l-6.3 1.5l0 11.1l3.1 0.8l14.1 2.6l15.7 1.7l15.7 1.1l20.4 0.6zM588.1 455.6l-1.1 -0.7l-1.6 -2l-0.3 -2l0.6 -2l2.2 -2l1.8 -0.6l3.1 -0.1l1.6 0.4l1.5 1.1l1.1 1.2l0.5 2l-0.5 2l-1.1 1.4l-1.5 1.2l-1.6 0.6l-1.6 0.3l-1.5 -0.2zM627.3 506.8l-1.4 -0.3l4.5 -1.4l3.2 -0.3l3.1 0.4l3.8 1.3l-0.7 0.2l-4.7 0.7l-6.2 -0.3zM632 467.1l-0.7 -0.3l0 -2l3.8 -1.6l4.7 -0.4l4.7 1l2 1l-0.1 2l-1.9 0.8l-3.1 0.9l-3.1 0.2l-4.7 -0.9zM635.1 451l-1.5 -0.8l-1.6 -1.3l-0.4 -2l1.9 -2l3.2 -1.1l3.1 -0.4l3.2 0.1l3.1 0.7l2.1 0.7l1.9 2l-0.3 2l-0.6 0.5l-2.2 1.5l-2.5 0.7l-4.7 0.3l-3.1 -0.4z" fill="#0069ff"/>
<path d="M547.2 560l17.4 0.9l18.8 0.3l20.4 -0.2l17.2 -0.5l18.8 -1.2l14.1 -1.5l11.5 -1.7l8.4 -2l2.1 -0.8l0 -8.2l-4.7 -1.9l-8.9 -3l-4.6 -2l-1 -2l3.5 -2l4.6 -1.9l3 -2l0.1 -2l-1.4 -1.2l-1.6 -0.4l-4.7 0.2l-25.5 3.4l-7.1 2l-2 1.9l-1.4 0.6l-5.8 1.4l-16.2 1.1l-42.3 1.3l-17.3 0.9l-18.8 1.9l-7.8 1.2l-7.5 1.6l-6 2l-2.2 1.3l0 4.4l3.1 1.6l6.3 1.9l9.4 1.9l12.6 1.6l14.1 1.1zM658.3 524.3l3.5 1.5l3.1 0.2l3.2 -0.4l7.8 -2.7l0 -52l-2.5 -2.2l-2.8 -3.9l-1.5 -4l-0.5 -2l-0.5 -5.9l0.1 -6l0.7 -4l1.3 -3.9l2.6 -6l1.1 -3.9l0.2 -2l-0.7 -4l-1.8 -4l-2 -3.4l-4.7 -6.7l-3.1 -3l-4.7 -2.8l-3.1 -1.2l-1.6 -0.2l-1.6 0.2l-1.6 0.8l-4.7 3.5l-3.1 1.6l-3.1 0.7l-4.7 -0.2l-3.4 -1.2l-2.8 -2l-1.7 -1.9l-3.1 -5.6l-0.6 -0.4l-12.5 0l-8.9 2.6l-7.8 3.5l-7.8 4.7l-9.4 7.3l-3.2 2.8l-2.6 2.9l-1.3 2l-0.9 2l-0.3 2l0.1 2l1.5 3.9l5.1 7.5l3.1 3.7l1.6 1l1.6 0.2l7.8 -1.7l4.7 0.1l3.3 1.1l1.4 1l1.6 1.8l0.6 1.2l0.4 2l-0.3 2l-0.7 1.7l-1.6 2.1l-4.4 4.1l-0.3 2l1.8 4l-0.2 2.1l-1.8 1.8l-2.9 0.7l-4.1 -0.7l-3.4 -2l-1.9 -1.5l-1.6 -0.4l-1.6 0.1l-3.1 1.1l-9.5 4.7l-15.6 7.1l-4.7 2.5l-3.5 2.3l-2.8 2.3l-3.1 3.7l-1 2l-0.4 2l0.1 1.9l0.6 2l1.2 2l2.6 2.5l4.7 2.6l3.2 1.2l4.7 1.4l9.4 1.7l23.6 2.5l7.7 1.2l6.3 1.4l10.4 3.4l5.3 0.8l8.1 1.2l22 1.9l13.8 1.9zM624.2 506.8l-0.7 -0.3l5.5 -2l4.6 -0.2l4.7 0.2l4.7 2l-3.2 0.9l-3.1 0.5l-4.7 0.1l-3.1 -0.1l-3.2 -0.6zM633.6 468.8l-1.6 -0.5l-2.9 -1.5l-0.1 -2l1.4 -1.1l1.9 -0.9l2.8 -0.7l3.2 -0.3l4.7 0.2l3.4 0.8l2.8 1.8l0.3 0.2l-0.4 2l-4.6 2l-4.7 0.5l-4.7 -0.2zM639.8 453l-4.7 -0.8l-3.1 -1.3l-2 -2l-0.2 -2l1.6 -2l2.2 -1.1l3.1 -0.9l4.7 -0.4l4.4 0.4l3.4 1.1l1.9 0.9l1.8 2l-0.1 2l-2.1 2l-4.6 1.6l-4.7 0.5z" fill="#0083ff"/>
<path d="M572.7 560l15.4 0.2l17.2 -0.2l26.7 -1.2l14.1 -1.3l9.4 -1.3l9.4 -1.8l4.7 -1.5l2.2 -0.8l2.4 -2l-0.3 -2l-2.7 -1.9l-1.6 -0.7l-7.8 -2.8l-14.1 -3.4l-6.3 -0.9l-7.8 -0.5l-62.7 1.3l-25.1 1.2l-11 0.9l-11 1.5l-7.5 1.4l-6.8 2l-3.5 1.9l-0.8 2l2 2l0.9 0.4l4.1 1.6l5.3 1.3l11 1.8l12.6 1.4l14.1 0.9l17.2 0.5zM650.8 522.3l11 0.8l6.3 -0.5l3.1 -0.8l3.1 -1.4l1.6 -1.8l0 -45.9l-2.9 -2l-2.3 -2l-3.5 -3.9l-1.2 -2l-1.2 -4l-1.3 -7.9l0 -2l0.5 -2l5.6 -10.5l2.4 -5.4l0.7 -3.9l-0.2 -2l-1.5 -4l-1.4 -2.3l-3.1 -3.8l-4.7 -3.8l-6.3 -3.4l-3.1 -1l-1.6 -0.1l-1.6 0.1l-9.4 2.7l-3.1 0.3l-3.1 -0.3l-4.7 -1.5l-4.2 -2.8l-3.7 -3l-3.1 -0.9l-4.7 0.2l-6.3 1.5l-6.3 2.2l-6.2 2.9l-7.9 4.4l-7.8 5.4l-3.5 3.2l-1.6 2l-1 2l-0.4 2l0.2 2l0.7 1.9l2.5 3.7l3.1 3.2l3.1 1.9l1.6 0.6l7.8 1l4.7 1.3l3.2 1.8l2.1 2.4l0.9 2l0.4 2l-0.2 2l-0.6 2l-1 1.9l-2.6 4l-0.6 2l0.2 4l-0.5 1.9l-1.3 2l-3.1 1.7l-3.1 0.6l-4.2 -0.3l-6.8 -1.5l-4.7 0.5l-6.3 2.1l-14.1 5.9l-4.7 2.3l-4.3 2.6l-2.6 2l-2.1 2l-1.4 2l-0.9 2l-0.4 2l0.2 1.9l0.9 2l1.2 1.6l3.1 2.6l4.7 2.2l7.9 2.3l11 1.7l18.8 2l11.3 1.5l8 2l4.8 2l5.8 2l1.4 0.2l12.1 1.8l22.4 1.9zM628.9 508.6l-4.7 -0.8l-2.9 -1.3l4.8 -2l5.9 -0.4l4.7 0l4.3 0.4l4.2 2l-2.2 0.9l-3.2 0.7l-4.7 0.5l-4.7 0.1zM630.4 468.8l-3.3 -2l-0.4 -2l2.2 -1.9l1.5 -0.7l4.7 -1.1l4.7 -0.4l4.7 0.3l3.2 0.6l3.3 1.2l2 2l-1 2l-2.8 1.4l-3.1 1l-4.7 0.7l-4.7 0l-4.7 -0.7zM633.6 453l-4.1 -2.1l-1.6 -2l-0.1 -2l1.5 -2l1.1 -0.7l3.2 -1.4l3.1 -0.7l3.1 -0.3l4.7 0.1l5.9 1l4.6 2l2.1 2l0.4 2l-1.9 2l-4.4 2l-5.1 1.2l-6.3 0.1l-4.7 -0.7z" fill="#009dff"/>
<path d="M547.9 558.1l13.5 0.8l14.2 0.4l17.2 0.1l15.7 -0.3l14.1 -0.7l14.1 -1l11.4 -1.3l9 -1.6l8.2 -2.4l2.7 -2l-0.3 -2l-2.8 -1.8l-6.2 -2.3l-9.5 -2.1l-6.2 -1l-9.4 -0.9l-9.4 -0.4l-17.3 0l-23.5 0.2l-20.4 0.6l-21.9 1.4l-9.4 1.1l-8 1.3l-7.7 2l-4 1.9l-0.8 2l2.3 2l5.5 2l8 1.6l9.4 1.3l10.9 1zM635.6 520.4l16.8 1.1l9.4 0.1l3.1 -0.4l3.8 -0.8l2.5 -2l0.4 -2l0.1 -4l1.2 -2l3 -2.1l0 -34.2l-2.6 -1.4l-8.4 -5.5l-3.1 -1.3l-1.6 -0.2l-1.5 0.2l-7 2.8l-4 1l-4.7 0.7l-4.7 0.1l-3.2 -0.2l-3.1 -0.5l-4 -1.1l-3.1 -1.9l-0.5 -2l1.6 -2l2.9 -1.4l4.7 -1.5l4.7 -0.7l6.2 -0.2l9.5 0.6l1.9 -0.8l-0.5 -2l-1.4 -0.5l-14.2 -0.3l-3.1 -0.6l-4.7 -1.4l-3.1 -1.6l-2 -1.5l-1.2 -2l0 -2l1.4 -2l3.2 -2l3.3 -1l3.1 -0.6l4.7 -0.4l4.7 0.2l11 1.6l3.1 -0.2l1.6 -0.6l3.1 -2.5l1.6 -1.7l3.1 -4.6l1.6 -4l0.1 -2l-0.2 -2l-0.7 -2l-1 -2l-2.9 -3.3l-4.7 -3.2l-6.3 -2.8l-3.1 -1.1l-3.2 -0.7l-3.1 0.1l-7.8 0.8l-4.7 -0.2l-4.7 -1.2l-6.3 -2.8l-3.1 -0.9l-4.7 0l-4.8 0.9l-6.2 1.9l-7.9 3.1l-7.8 3.9l-4.7 2.9l-3.4 2.6l-1.8 2l-1.1 2l-0.5 2l0.2 2l0.9 1.9l1 1.4l2.6 2.6l2.1 1.5l3.1 1.4l7.9 2.2l3.1 1.2l3.1 2l1.9 1.6l1.3 2l0.9 2l0.3 2l0 2l-0.4 2l-2.8 5.9l-2.2 7.9l-1.4 2l-2.8 2l-4.2 1.2l-4.7 0.2l-7.8 -0.8l-4.7 0.6l-6.3 1.9l-9.4 3.6l-7.8 3.8l-5.1 3.4l-2.1 2l-1.5 2l-0.9 2l-0.2 2l0.3 1.9l1.1 2l2 2l4.8 2.8l6.3 2.1l11 2l28.2 3l9.4 1.5l6.2 1.8l5.8 2.7l5.6 2l13.7 1.9zM622.6 508.5l-1.6 -0.5l-1.9 -1.5l4.8 -2l9.7 -0.7l9.7 0.7l4.1 2l-1.3 0.8l-3.1 1l-4.7 0.8l-4.7 0.2l-4.7 0l-4.7 -0.4z" fill="#00b7ff"/>
<path d="M563.3 558.1l27.9 0.5l28.3 -0.8l10.9 -0.8l11 -1.1l9.4 -1.5l4.7 -1.1l3.8 -1.2l3 -2l-0.3 -2l-3.5 -1.9l-6.6 -2l-7.4 -1.5l-9.4 -1.1l-10.9 -0.7l-33 -0.3l-31.3 0.8l-22 1.8l-7.8 1.1l-8 1.9l-4.4 1.9l-0.9 2l2.5 2l4.5 1.5l6.3 1.4l9.4 1.3l11 1l12.5 0.8zM645.1 520.4l7.3 0.2l6.3 -0.1l3.1 -0.5l3.1 -1.2l0.9 -0.4l0.8 -2l-0.1 -4l1.2 -2l2.9 -2l5.3 -2.1l0 -31.1l-11 -5.3l-3.1 -0.9l-4.7 0l-10.9 1.7l-6.4 0.4l-7.8 -0.6l-6.5 -1.8l-3.1 -1.9l-1 -2l1 -2l1.8 -1.3l3.1 -1.6l3.3 -1.1l1.9 -2l-5.2 -2.8l-3.1 -2.4l-0.7 -0.7l-0.8 -2l0.2 -2l1.5 -2l3.1 -2l6.1 -1.9l7.8 -0.9l14.1 0.2l3.2 -0.5l1.5 -0.6l1.6 -0.7l3.1 -2.2l3.2 -3.6l1.6 -3.6l0.2 -2l-0.3 -2l-1.5 -3.1l-1.6 -1.8l-1.6 -1.3l-4.7 -2.6l-6.2 -2.3l-4.8 -1.2l-3.1 -0.5l-12.5 -0.3l-12.6 -2.6l-4.7 0l-4.7 0.7l-7.8 2.1l-6.3 2.2l-4.7 1.9l-6.3 3.5l-4 3.3l-1.3 2l-0.5 2l0.3 2l1 1.9l1.9 2l4.2 2.7l9.4 3.6l4.7 2.6l3.5 3l1.3 2l0.9 2l0.6 4l-0.6 3.9l-4.6 10l-1.3 1.9l-1.7 2l-2.6 2l-4.9 1.9l-4.7 0.5l-7.8 -0.3l-4.7 0.4l-7.9 2.2l-7.8 3l-6.3 2.9l-5.1 3.3l-2.1 2l-1.5 2l-0.9 2l-0.1 2l0.5 1.9l1.4 2l2.4 2l3.8 2l6.3 2l6.3 1.3l7.8 1.1l31.4 3.1l6.2 0.9l4.8 1.3l3.1 1.5l4.4 2.7l5.7 2l16.5 1.9zM617.9 508.8l-0.6 -0.4l-0.6 -1.9l5.1 -2l5.5 -0.7l6.3 -0.3l6.2 0.3l5.7 0.7l4.4 2l-2.2 1.6l-3.2 0.9l-4.7 0.6l-7.8 0.4l-7.8 -0.1l-4.7 -0.5z" fill="#00d1ff"/>
<path d="M546.3 556.1l10.4 0.8l12.6 0.6l26.6 0.3l25.1 -0.9l11 -0.9l9.4 -1.2l4.7 -0.8l7.5 -1.9l3.3 -2l-0.4 -2l-3.9 -1.9l-3.4 -1l-6.2 -1.3l-7.9 -1.1l-20.3 -1.2l-29.8 -0.2l-28.3 1l-18.3 1.8l-10.3 2l-5 1.9l-0.9 2l2.7 2l5.2 1.5l6.3 1.2l9.4 1.2zM636 518.4l13.2 0.9l4.8 -0.2l4.7 -0.7l1.7 -2l-0.5 -4l0.8 -2l3.4 -2l11.8 -3.4l0 -28.7l-11 -4.6l-3.1 -0.7l-4.7 -0.5l-15.7 1.2l-6.3 -0.2l-4.7 -0.6l-7.8 -2.2l-3.9 -1.9l-3.9 -3.1l-1.6 -0.1l-1.6 0.4l-3.1 1.7l-5.9 5l-2.8 2l-3.9 1.9l-3.1 0.8l-3.1 0.5l-9.4 0.1l-3.2 0.3l-7.8 2l-7.9 2.9l-7 3.4l-3.9 2.9l-1.3 1.1l-1.5 2l-0.8 2l0 2l0.7 1.9l1.7 2l2.7 1.9l3.2 1.5l4.7 1.5l11 2.1l20.3 2.2l15.7 0.8l4.7 -0.5l1.6 -0.8l0.7 -0.7l5.8 -2l6 -0.8l6.3 -0.4l4.7 0l11 1.2l5.3 2l-0.7 1.9l-1.5 0.6l-4.7 0.9l-17.2 1.8l-3.7 0.7l1.6 2l2.6 2l5.7 1.7zM613.1 446.9l1.7 0.9l1.5 -0.1l3.9 -2.8l3.6 -2l3.5 -1.3l4.7 -1.3l6.3 -0.9l15.7 -0.8l3.1 -0.7l4.7 -2l3.1 -2.3l1.6 -1.7l1.4 -2.8l0.3 -2l-0.4 -2l-1 -2l-1.9 -2l-1.5 -1.1l-3.2 -1.6l-4.7 -1.7l-7.8 -2.1l-3.2 -0.5l-9.4 -0.7l-10.9 -1.3l-3.2 -0.1l-6.2 0.5l-7.9 1.5l-7.8 2.3l-6.3 2.6l-4.7 2.9l-1.6 1.3l-1.4 2l-0.6 2l0.4 2l1.2 1.9l2.3 2l2.8 1.6l10.1 4.4l3.7 2l2.9 1.9l3.7 3.1z" fill="#00ebff"/>
<path d="M556.3 556.1l22.4 1l23.5 -0.1l22 -1.2l15.6 -1.8l8.4 -1.9l3.6 -2l-0.5 -2l-4.6 -1.9l-5.3 -1.2l-7.8 -1.2l-7.9 -0.8l-10.9 -0.6l-14.2 -0.3l-26.6 0.3l-22 1.2l-7.8 0.8l-7.8 1.3l-2.5 0.5l-5.5 1.9l-1.1 2l3.1 2l9.1 2.1l15.7 1.8zM640.9 516.4l5.2 0.4l3.6 -0.4l-0.1 -2l-0.4 -0.4l-1.5 -1.2l-1.1 -0.4l-4.4 0l-2.4 1l-1.3 1l1.3 1.1zM589.5 506.5l11.1 0.7l6.3 -0.1l6.3 -1.3l4.4 -1.3l1.9 -0.3l7.8 -0.9l6.3 -0.3l10.9 0.7l5.7 0.8l5.3 1.5l6.3 0.6l6.3 -0.8l7.8 -2l0 -26.6l-9.4 -3.6l-6.3 -1.5l-4.7 -0.4l-14.1 0.5l-7.8 -0.3l-7.7 -1.2l-11.1 -2.7l-3.2 0.2l-3.1 0.9l-10.5 5.6l-3.6 1.1l-4.7 0.9l-9.4 0.4l-3.2 0.4l-3.1 0.6l-6.3 2l-6.3 2.5l-4.1 2l-3.7 2.5l-1.6 1.5l-1.5 2l-0.8 2l0.1 2l0.9 1.9l2 2l4 2.3l5 1.7l6 1.4l9.4 1.4l11 1zM610.9 441l3.9 1.1l4.7 -0.1l14.1 -2.9l18.8 -1.9l4.7 -1.3l3.1 -1.4l2.4 -1.5l2.3 -2.2l1 -1.7l0.3 -2l-0.5 -2l-1.4 -2l-2.6 -2l-3 -1.4l-4.7 -1.7l-6.3 -1.7l-4.7 -0.7l-15.7 -1.4l-6.3 -0.2l-6.2 0.6l-7.9 1.5l-6.3 1.8l-6.2 2.6l-3.9 2.6l-1.7 2l-0.7 2l0.5 2l1.1 1.4l1.5 1.4l3.2 2l15.6 6.8z" fill="#00fff8"/>
<path d="M569.3 556.1l21.9 0.4l22 -0.7l18.8 -1.6l10.8 -2.1l4.1 -2l-0.6 -2l-5.4 -1.9l-12 -2l-15.7 -1.1l-23.5 -0.4l-22 0.6l-17.2 1.3l-7.9 1.1l-4.7 1l-4.4 1.4l-1.2 2l3.5 2l11.5 2.3l9.4 0.9l11 0.7zM578.9 504.5l13.9 1.3l11 0.4l6.2 -0.5l5.2 -1.2l7.4 -1.1l6.3 -0.5l6.2 -0.1l7.9 0.4l10.4 1.3l3.7 0.7l4.7 0.2l4.7 -0.5l9.4 -2l0 -24.8l-7.8 -2.9l-4.7 -1.2l-4.7 -0.9l-6.3 -0.4l-17.3 -0.1l-6.2 -0.6l-11 -1.8l-4.7 -0.1l-6.3 1.5l-6.8 3.1l-5.7 1.9l-4.7 0.8l-7.9 0.5l-4.7 0.6l-4.7 1.2l-6.2 2.2l-6.1 2.7l-3.2 2l-2.4 2l-1.5 2l-0.7 2l0.2 2l1.2 1.9l1.5 1.4l1.5 1l3.3 1.6l7.7 2.2l11 1.8zM613.2 439l3.1 0.5l4.7 0.2l25.1 -3l6.3 -1.1l3.1 -1l3.5 -1.6l2.9 -2l1.5 -1.9l0.5 -2l-0.7 -2l-1.8 -2l-3.5 -2l-3.9 -1.5l-6.3 -1.7l-6.3 -1.1l-7.8 -0.8l-7.9 -0.3l-6.2 0.2l-6.3 0.7l-7.9 1.7l-4.7 1.5l-4.7 2.3l-1.6 1l-1.9 2l-0.7 2l0.5 2l1.7 1.9l3.1 2l3.6 1.8l6.3 2.4l4.7 1.4z" fill="#00ffde"/>
<path d="M552.4 554.1l16.9 1.3l20.4 0.4l18.8 -0.4l17.3 -1.3l11.8 -2l4.5 -2l-0.8 -2l-6.3 -1.9l-6.1 -1l-15.7 -1.3l-20.4 -0.5l-21.9 0.4l-17.3 1.3l-7.9 1.1l-6.2 1.6l-1 0.3l-1.3 2l4 2l10.8 1.9zM587.1 504.5l10.4 0.8l7.8 0.1l17.3 -2.3l11 -0.6l7.8 0.3l14.1 1.4l6.3 0.2l6.3 -0.6l7.8 -1.8l0 -23.1l-9.4 -3.2l-6.3 -1.3l-4.7 -0.6l-18.8 -0.5l-17.2 -1.7l-6.3 0l-6.3 1.4l-11 3.9l-4.7 0.9l-9.4 1l-4.7 0.7l-6.2 1.8l-4.7 1.8l-3.4 1.5l-3.3 2l-2.5 2l-1.5 2l-0.6 2l0.3 2l1.4 1.9l3.3 2.3l6.3 2.4l9.4 1.9l10.9 1.3zM613.3 437l4.6 0.7l6.3 0.1l18.8 -1.9l5.5 -0.9l3.9 -1.1l2.4 -0.9l3.7 -2l2 -1.9l0.5 -2l-0.8 -2l-1.5 -1.4l-3.2 -1.8l-3.1 -1.2l-9.4 -2.3l-6.3 -0.8l-6.3 -0.4l-6.2 -0.1l-6.3 0.4l-6.3 0.9l-4.7 1.1l-4.8 1.6l-3.9 2l-2.3 2l-0.7 2l0.5 2l2 1.9l3.4 2l2.7 1.2l4.7 1.6l4.7 1.2z" fill="#00ffc4"/>
<path d="M560.3 554.1l16.8 1l18.8 0.1l17.3 -0.7l14.1 -1.5l5 -0.9l5.1 -2l-1 -2l-7.6 -1.9l-7.8 -1l-15.7 -1l-20.3 -0.2l-18.8 0.8l-14.3 1.4l-8.4 1.9l-1.5 2l4.6 2l13.3 1.9zM597.4 504.5l7.9 0.1l18.9 -1.9l7.8 -0.4l7.8 0.1l15.7 1.2l6.3 0.1l6.3 -0.8l7.8 -1.7l0 -21.6l-6.3 -2.1l-4.7 -1.2l-7.8 -1.4l-6.3 -0.6l-15.7 -0.5l-14.1 -1.1l-6.2 0.1l-4.8 0.5l-15.6 4.6l-4.7 0.8l-7.9 0.9l-4.7 0.8l-6.2 2l-4.7 1.9l-4.3 2.3l-2.4 2l-1.6 2l-0.5 2l0.4 2l1.6 1.9l3.6 2.2l5 1.8l7.6 1.6l9.4 1.4l10.9 0.9zM612 435l4.3 0.9l4.7 0.4l9.4 -0.1l12.6 -1.5l6.2 -1.4l3.2 -1.1l2.4 -1.2l2.4 -1.9l0.7 -2l-1 -2l-2.9 -2.1l-4.8 -1.8l-3.1 -0.8l-4.7 -0.9l-6.3 -0.8l-6.2 -0.3l-6.3 0.1l-4.7 0.4l-6.3 1l-4.7 1.2l-3.1 1.2l-1.7 0.8l-2.5 2l-0.9 2l0.6 2l2.3 1.9l2.2 1.2l3.1 1.3l4.7 1.4z" fill="#00ffaa"/>
<path d="M570.1 554.1l16.4 0.5l15.7 -0.2l12.6 -0.8l12.1 -1.5l5.8 -2l-1.2 -2l-9.2 -1.9l-10.7 -1l-17.2 -0.6l-17.3 0.2l-15.7 1l-9.4 1.5l-3.5 0.8l-1.6 2l2 0.8l3.3 1.2l3 0.5l14.1 1.4zM583.7 502.5l10.7 1.1l7.8 0.4l6.3 -0.2l14.3 -1.3l9.2 -0.4l7.8 0l18.9 1l4.7 -0.2l4.7 -0.7l7.8 -1.8l0 -20l-9.4 -2.9l-11 -2l-6.3 -0.6l-26.6 -1.3l-7.8 0.1l-7.9 1.4l-13.3 3.6l-14.9 2.3l-6.3 1.8l-6.2 2.8l-1.8 1l-2.6 2l-1.5 2l-0.5 2l0.6 2l1.8 1.9l3.7 2l1.8 0.7l6.3 1.7l9.4 1.6zM623.1 435l8.9 -0.1l11 -1.5l3.1 -0.7l4.7 -1.7l2.8 -1.9l0.8 -2l-1.1 -2l-3.3 -2l-3.9 -1.3l-4.7 -1.1l-4.7 -0.6l-6.3 -0.5l-9.4 0.3l-4.7 0.5l-4.7 1l-4.7 1.5l-1.6 0.8l-2 1.4l-1 2l0.7 2l2.6 1.9l2.9 1.3l6.3 1.7l7.8 1z" fill="#00ff90"/>
<path d="M558.2 552.1l11.1 1.2l11 0.6l12.5 0.1l12.5 -0.4l11 -0.9l6.3 -1l5.3 -1.6l-1.5 -2l-10.1 -1.8l-11 -0.8l-15.6 -0.3l-15.7 0.4l-9.4 0.7l-10.9 1.8l-1.9 2l4.9 1.6zM590.2 502.5l8.9 0.7l6.2 0.2l26.7 -1.6l26.7 0.7l7.8 -0.7l9.4 -2.1l0 -18.6l-6.3 -2l-4.7 -1.2l-12.5 -2l-28.2 -1.5l-6.3 0.1l-4.7 0.4l-6.3 1l-12.5 3.2l-14.1 2.3l-4.5 1.2l-4.9 1.9l-4.7 2.5l-2.1 1.6l-1.5 2l-0.5 2l0.9 2.1l2 1.8l5.9 2.6l7.8 1.8l11 1.5zM617.5 433l6.7 0.7l7.8 -0.1l7.8 -0.9l6.4 -1.7l3.6 -1.9l1 -2l-1.3 -2l-4.2 -2l-5.5 -1.3l-7.8 -0.9l-7.8 0l-7.9 0.9l-4.7 1.2l-1.6 0.6l-2.7 1.5l-1.2 2l0.9 2l3.2 1.9l6.1 1.8z" fill="#00ff76"/>
<path d="M564.8 552.1l9.2 0.8l11 0.4l10.9 0l11 -0.5l7.8 -0.7l8.2 -2l-1.8 -2l-9.5 -1.4l-9.4 -0.7l-14.1 -0.2l-12.5 0.4l-7.9 0.7l-8.5 1.2l-2.2 2l7.6 2zM597.8 502.5l10.7 0.3l25.1 -1.2l25.1 0.4l7.8 -0.9l9.4 -2.1l0 -17.2l-6.3 -2.1l-6.2 -1.4l-7.9 -1.3l-9.4 -0.9l-21.9 -0.9l-6.3 0.1l-6.3 0.6l-6.3 1.1l-10.9 2.7l-14.1 2.6l-6.3 2l-4.9 2.3l-2.9 2.3l-1.4 1.7l-0.3 2l0.9 2l2.5 1.9l4.7 2l6.1 1.6l9.4 1.5l9.4 0.9zM615.9 431l5.1 1l6.3 0.4l6.3 -0.3l7 -1.1l4.8 -1.9l1.3 -2l-1.7 -2l-2 -0.8l-4.7 -1.4l-7.9 -0.8l-6.2 0.1l-6.8 0.9l-5.5 2l-1.6 2l1.1 2l3.4 1.5z" fill="#00ff5c"/>
<path d="M572.9 552.1l16.8 0.6l17.1 -0.6l10.7 -2l-2.3 -2l-2 -0.2l-9.4 -1l-11 -0.4l-11 0.2l-10.9 0.7l-5.6 0.7l-2.7 2l9.8 1.9zM585.8 500.5l10.1 1.2l9.4 0.6l26.7 -0.9l23.5 0.2l9.4 -0.8l6.3 -1.3l4.7 -1.3l0 -15.7l-7.8 -2.5l-9.4 -1.9l-7.9 -1l-11 -0.8l-12.5 -0.4l-9.4 0.1l-11 1.4l-12.5 2.9l-11 2l-4.7 1.3l-6.3 2.5l-3.8 2.5l-1.5 2l-0.3 2l1.1 2l3 2l5.1 1.9l9 1.9zM617 429.1l4 1.1l3.2 0.5l3.1 0.2l4.7 -0.1l4.7 -0.8l3.3 -0.9l1.8 -2l-2.4 -2l-2.7 -0.7l-4.7 -0.7l-6.3 0l-4.7 0.6l-3.4 0.8l-2.3 2l1 1.2z" fill="#00ff41"/>
<path d="M568.9 550.1l9.8 1.4l11 0.5l10.9 -0.4l10.8 -1.5l-3.4 -2l-7.4 -0.6l-9.4 -0.2l-9.4 0.2l-9.3 0.6l-3.2 1.8zM590.7 500.5l9.9 1l7.9 0.3l23.5 -0.7l22 0.1l4.7 -0.2l6.2 -0.8l4.7 -0.9l6.3 -1.8l0 -14.3l-9.4 -3l-12.5 -2.1l-9.5 -0.9l-12.5 -0.6l-9.4 -0.1l-7.8 0.5l-9.5 1.4l-20.3 4.3l-6.9 1.9l-4.4 2l-2.9 2l-1.5 2l-0.2 2l1.3 2l3.1 1.9l3.6 1.3l4.7 1.2l7.9 1.4zM623.2 427.1l2.5 0.9l1.6 0.3l1.6 0.1l3.1 -0.5l2 -0.8l-3.6 -0.9l-3.1 -0.1l-3.1 0.6z" fill="#00ff27"/>
<path d="M577.1 550.1l6.3 0.6l6.3 0.2l6.2 -0.2l7.4 -0.6l-4.2 -1.4l-3 -0.6l-4.9 -0.1l-6.6 0.1l-4.3 1l-3.2 1zM596 500.5l7.8 0.7l6.2 0.2l22 -0.5l22 -0.1l10.9 -1.2l5.2 -1.1l5.8 -1.7l0 -12.9l-6.3 -2.2l-4.7 -1.2l-6.2 -1.1l-7.9 -1l-9.4 -0.8l-11 -0.5l-7.8 0.1l-7.8 0.4l-6.3 0.8l-6.3 1.2l-17.2 3.8l-6.3 2l-2.7 1.2l-3 2l-1.5 2l-0.1 2l1.5 2l3.5 1.9l5.4 1.7l6.3 1.2l7.8 1.1z" fill="#00ff0d"/>
<path d="M601.8 500.5l11.4 0.5l40.8 -0.6l6.2 -0.6l6.3 -1.1l4.7 -1.1l4.7 -1.6l0 -11.3l-5.4 -2.1l-5.6 -1.5l-9.4 -1.6l-9.4 -1l-9.4 -0.6l-9.4 -0.2l-7.8 0.2l-6.3 0.5l-7.9 1.2l-17.2 3.8l-4.8 1.2l-5 2l-3.1 2l-1.5 2l0 2l1.7 2l4 1.9l5.6 1.6l7.8 1.4l7.8 0.9z" fill="#0dff00"/>
<path d="M609.5 500.5l11.5 0.1l33 -0.7l6.2 -0.6l6.3 -1.2l6 -1.6l3.4 -1.3l0 -9.6l-1.9 -1l-7.5 -2.5l-7.8 -1.5l-9.5 -1.3l-12.5 -0.9l-7.8 -0.2l-7.9 0.2l-7.8 0.6l-6.3 0.9l-21 4.7l-5.3 2l-3.2 2l-1.5 2l0 2l2 2l4.4 1.9l10.5 2.3l7.8 1l7.9 0.7z" fill="#27ff00"/>
<path d="M594.8 498.5l9 1.1l9.4 0.6l31.3 -0.3l7.9 -0.3l6.3 -0.6l6.2 -1.1l4.7 -1.2l6.3 -2.5l0 -7.8l-3.7 -1.8l-4.1 -1.4l-9.4 -2.1l-9.5 -1.2l-9.4 -0.8l-9.4 -0.3l-9.4 0.2l-7.8 0.6l-6.3 0.9l-18.4 4.1l-5.6 2l-3.3 2l-1.6 2l0.2 2l2.2 2l4.6 1.8l9.4 2z" fill="#41ff00"/>
<path d="M598.9 498.5l8 0.9l9.4 0.5l28.2 -0.3l12.6 -0.9l11 -2.2l5.5 -1.9l2.3 -1.5l0 -5.4l-1.3 -1.1l-1.8 -0.9l-4.7 -1.9l-4.7 -1.2l-7.9 -1.4l-7.8 -1l-9.4 -0.7l-9.4 -0.2l-7.9 0.2l-7.8 0.6l-6.3 0.9l-15.8 3.6l-5.9 2l-3.4 2l-1.6 2l0.3 2l2.5 2l3.5 1.3l4.7 1.3l6.3 1.1z" fill="#5cff00"/>
<path d="M603.3 498.5l8.3 0.8l7.9 0.2l26.6 -0.4l6.3 -0.4l6.3 -0.8l7.1 -1.4l3.8 -1.2l2.1 -0.7l3.2 -2l1 -1.7l-0.5 -2.3l-2.5 -2l-4.8 -2.1l-7.2 -1.9l-8.5 -1.3l-9.4 -1l-7.9 -0.4l-7.8 -0.1l-7.8 0.3l-7.9 0.8l-6.3 1l-10.9 2.5l-4.7 1.5l-2.1 0.7l-3.6 2l-1.6 2l0.4 2l2.8 2l4.1 1.4l4.7 1.1l7.8 1.3z" fill="#76ff00"/>
<path d="M608 498.5l8.3 0.6l7.9 0.1l23.5 -0.5l12.5 -1.6l4.7 -1l4.9 -1.5l3.4 -2l1.2 -2l-0.7 -2l-2.5 -2l-4.7 -2l-4.7 -1.2l-6.3 -1.2l-7.8 -1l-9.4 -0.7l-7.9 -0.2l-14.1 0.6l-6.3 0.7l-6.2 1.1l-7.9 1.9l-6 2l-3.7 2l-1.6 2l0.6 2l1.3 0.9l1.7 1.1l6.6 1.9l12.1 1.9z" fill="#90ff00"/>
<path d="M613.5 498.5l7.5 0.3l11 0.1l11 -0.3l7.8 -0.6l7.9 -1.1l4.7 -1l4.4 -1.3l3.4 -1.9l1.6 -2.1l-0.7 -2l-2.7 -2l-1.3 -0.6l-3.9 -1.4l-7.1 -1.5l-14.1 -1.8l-15.7 -0.5l-7.8 0.3l-7.9 0.8l-6.3 1.1l-7 1.6l-6.2 2l-3.8 2l-1.5 2l0.7 2l3.3 2l8.3 2.1l14.1 1.8z" fill="#aaff00"/>
<path d="M622.1 498.5l19.3 -0.3l7.8 -0.5l7.9 -1.1l8.5 -2l4.1 -2l1.4 -2l-0.7 -2l-2.8 -2l-5.8 -2l-12.6 -2.2l-15.6 -1.1l-7.9 0l-6.2 0.3l-7.9 0.8l-6.3 1.2l-4.6 1l-6.3 2l-3.9 2l-1.5 2l0.8 2l3.7 2l4 1.1l3.9 0.8l7.1 1l12.5 1z" fill="#c4ff00"/>
<path d="M604.9 496.5l13 1.4l15.7 0.2l15.6 -0.9l5.3 -0.7l7.3 -1.5l1.6 -0.4l4.4 -2l1.6 -2l-0.7 -2l-3.8 -2.2l-5.7 -1.8l-3.7 -0.7l-7.8 -1.2l-6.3 -0.5l-14.1 -0.5l-12.5 0.9l-11.7 2l-7.2 2.4l-3.2 1.6l-1.5 2l1 2l3.7 1.8l7.9 1.9z" fill="#deff00"/>
<path d="M608.6 496.5l14 1.2l14.1 -0.1l14.1 -1l10.2 -2l4.8 -2l1.8 -2l-0.8 -2l-3.4 -2l-6.3 -1.8l-4.7 -0.9l-12.6 -1.4l-14.1 -0.3l-12.5 1.1l-6.3 1.1l-4.7 1.2l-3.3 1l-4 2l-1.4 2l0.9 1.6l0.2 0.4l4.4 2l9.5 1.9z" fill="#f8ff00"/>
<path d="M612.7 496.5l13 0.9l14.1 -0.3l11 -1.1l6.3 -1.1l3.1 -0.9l3.6 -1.4l1.9 -2l-0.8 -2l-4.7 -2.3l-6.2 -1.6l-4.8 -0.7l-12.5 -1.2l-12.5 0l-12.6 1.3l-4.7 0.9l-5.7 1.6l-4.1 2l-1.4 2l1.3 2l4.8 2l9.8 1.8z" fill="#ffeb00"/>
<path d="M617.6 496.5l12.8 0.5l12.6 -0.6l12.5 -1.8l6.1 -2l2.1 -2l-0.9 -2l-1 -0.5l-3 -1.5l-3.3 -0.8l-5.5 -1.2l-5.5 -0.7l-10.9 -0.7l-11 0.2l-10.9 1.2l-8.1 2l-4.2 2l-1.4 2l1.5 2l5.2 2l11.6 1.8z" fill="#ffd100"/>
<path d="M626 496.5l12.3 -0.2l12.5 -1.4l3.2 -0.7l5.3 -1.6l2.2 -2l-0.9 -2l-4.4 -2l-2.2 -0.5l-9.5 -1.7l-12.5 -0.8l-6.3 0.1l-6.2 0.4l-9.5 1.5l-3.9 1l-4.4 2l-1.4 2l1.7 2l5.8 2l8.5 1.3l9.4 0.6z" fill="#ffb700"/>
<path d="M611.1 494.6l8.4 1l9.4 0.5l10.9 -0.4l9.7 -1.1l7.3 -2l2.5 -2l-1 -2l-4.9 -2l-10.4 -1.8l-9.4 -0.6l-9.4 0.1l-9.4 1l-6 1.3l-3.5 1.4l-1.3 0.6l-1.4 2l1.9 2l5.5 1.7z" fill="#ff9d00"/>
<path d="M614.8 494.6l7.8 0.7l9.4 0.2l11 -0.6l6.2 -1.1l5 -1.2l2.7 -2l-1.1 -2l-5.4 -2l-10.6 -1.5l-9.4 -0.5l-9.4 0.5l-9.4 1.5l-5.1 2l-1.5 2l2.2 2l7.6 1.9z" fill="#ff8300"/>
<path d="M619.3 494.6l8 0.4l9.4 -0.2l6.3 -0.6l8.3 -1.6l3.1 -2l-1.3 -2l-7 -2.1l-7.8 -0.9l-7.9 -0.4l-7.8 0.3l-7.8 1.1l-5.8 2l-1.4 2l2.5 2l7.8 1.7z" fill="#ff6900"/>
<path d="M628.1 494.6l8.6 -0.3l7.8 -1.1l3.5 -0.6l3.6 -2l-1.4 -2l-4.1 -1.2l-4.7 -0.9l-9.4 -0.7l-6.3 0.1l-7 0.7l-6.9 2l-1.5 2l2.9 2l1.6 0.3l6.2 1.1l6.3 0.5z" fill="#ff4e00"/>
<path d="M616.8 492.6l5.8 0.9l6.3 0.3l6.2 -0.1l6.3 -0.7l2.7 -0.4l4.4 -2l-1.6 -2l-5.5 -1.3l-5.1 -0.7l-5.9 -0.2l-6.2 0.2l-4.7 0.8l-4.6 1.2l-1.7 2l3.1 1.7z" fill="#ff3400"/>
<path d="M621.4 492.6l9 0.5l8.6 -0.5l5.9 -2l-2.1 -2l-6.1 -1l-4.7 -0.4l-4.7 0.1l-6.3 0.8l-2.4 0.5l-2.1 2l4.5 1.9z" fill="#ff1a00"/>
<path d="M620.7 490.6l5 1.3l4.7 0.3l4.7 -0.4l5.1 -1.2l-3.1 -2l-6.7 -0.5l-6.8 0.5l-2.6 1.7z" fill="#ff0000"/>
<path d="M500.3 551.9l4.6 2.2l6.4 1.7l7.8 1.5l9.4 1.2l25.1 1.9l26.7 0.8l31.3 -0.4l28.2 -1.5l11 -1.1l11 -1.5l7.8 -1.5l6.3 -1.9M675.9 545.1l-13.6 -4.9l-4.6 -2l-1 -2l3.5 -2l4.6 -1.9l3 -2l0.1 -2l-1.4 -1.2l-3.1 -0.5l-28.7 3.7l-7.1 2l-2 1.9l-1.4 0.6l-5.8 1.4l-17.8 1.1l-47 1.6l-21.9 1.6l-11 1.3l-9.4 1.7l-7.9 2.3l-3.1 1.7M624.2 506.8l-0.7 -0.3l5.4 -2l3.1 -0.2l6.1 0.2l4.9 2l-4.7 1.2l-4.7 0.4l-4.7 -0.2l-4.7 -1.1M675.9 470.9l-2.5 -2.2l-2.8 -3.9l-1.5 -4l-0.5 -2l-0.6 -7.9l0.5 -6l1.7 -5.9l3.3 -8l0.6 -3.9l-0.2 -2l-1.3 -4l-3 -5.4l-3.1 -4.7l-3.1 -3.6l-3.2 -2.5l-4.7 -2.4l-3.1 -0.7l-1.6 0.2l-1.6 0.8l-4.7 3.5l-3.1 1.6l-4.7 0.8l-4.7 -0.7l-1.8 -0.8l-2.8 -2l-1.7 -1.9l-3.1 -5.6l-0.6 -0.4M633.6 468.8l-4.5 -2l-0.1 -2l3 -1.9l1.6 -0.5l4.7 -0.6l4.7 0.2l3.4 0.8l3.1 2l-0.4 2l-4.4 1.9l-4.9 0.6l-6.2 -0.5M639.8 453l-3.1 -0.4l-3.1 -0.9l-1.6 -0.8l-2 -2l-0.2 -2l1.6 -2l2.2 -1.1l4.7 -1.1l6.2 0l3.2 0.7l3.1 1.4l2.1 2.1l-0.1 2l-2.1 2l-1.5 0.7l-4.7 1.2l-4.7 0.2M609.5 397.3l-5.7 1.5l-6.3 2.3l-6.3 3.1l-4.7 2.9l-7.8 5.7l-6.3 5.4l-2.6 2.9l-1.3 2l-0.9 2l-0.3 2l0.1 2l1.5 3.9l5.1 7.5l3.1 3.7l1.6 1l1.6 0.2l7.8 -1.7l4.7 0.1l3.3 1.1l1.4 1l1.6 1.8l0.6 1.2l0.4 2l-0.3 2l-0.7 1.7l-1.6 2.1l-4.4 4.1l-0.3 2l1.8 4l-0.2 2.1l-1.8 1.8l-2.9 0.7l-1.6 -0.1l-2.5 -0.6l-3.4 -2l-1.9 -1.5l-1.6 -0.4l-1.6 0.1l-3.1 1.1l-9.5 4.7l-15.6 7.1l-7.8 4.6l-4.9 4.2l-1.4 2l-1 2l-0.4 2l0.1 1.9l0.6 2l2.3 3.1l3.1 2.4l4.7 2.3l4.7 1.5l11 2.1l23.6 2.5l7.7 1.2l4.7 1l12.6 3.9l12.8 1.9l22 1.9l15 2l1.9 1l3.2 0.7l4.7 -0.4l7.8 -2.7" fill="none" stroke="#3a3a3a" stroke-width="0.65"/>
<path d="M556.3 556.1l14.6 0.8l15.6 0.3l15.7 -0.2l14.1 -0.6l12.6 -1l10.4 -1.3l8.9 -2l3.6 -2l-0.5 -2l-4.6 -1.9l-8.4 -1.8l-11 -1.3l-14.1 -0.7l-18.8 -0.3l-18.8 0.2l-15.7 0.7l-14.1 1.2l-11.9 2l-5.5 1.9l-1.1 2l3.1 2l7.5 1.9l7.9 1.1l10.5 1M640.9 516.4l5.2 0.4l3.1 -0.3l0.5 -0.1l-0.1 -2l-1.9 -1.6l-1.1 -0.4l-4.4 0l-2.4 1l-1.3 1l2.4 2M675.9 477.2l-9.4 -3.6l-6.3 -1.5l-4.7 -0.4l-14.1 0.5l-6.3 -0.2l-9.2 -1.3l-9.6 -2.4l-3.1 -0.3l-1.6 0.2l-4.7 1.6l-4.9 2.9l-4 2l-3.6 1.1l-4.7 0.9l-12.6 0.8l-6.2 1.5l-6.3 2.3l-6.3 2.8l-4.1 2.5l-2.2 2l-1.5 2l-0.8 2l0.1 2l0.9 1.9l1.3 1.4l3.2 2.1l3.1 1.4l4.7 1.4l6.3 1.3l15.7 2l12.5 1l7.8 0.1l3.2 -0.3l9.1 -2.4l3.4 -0.6l7.9 -0.7l6.2 -0.2l11 0.9l4.1 0.6l5.3 1.5l6.3 0.6l6.3 -0.8l7.8 -2M610.9 441l3.9 1.1l3.1 0.1l14.1 -2.9l6.3 -0.8l10.9 -0.9l6.3 -1.2l3.2 -1.2l3.1 -1.6l3 -2.6l1.1 -1.9l0.3 -2l-0.5 -2l-1.4 -2l-0.9 -0.8l-4.7 -2.6l-6.3 -2.2l-9.4 -1.9l-15.7 -1.4l-6.3 -0.2l-7.8 0.9l-9.4 2l-7.9 2.9l-2.6 1.3l-2.8 2l-1.7 2l-0.7 2l0.5 2l1.5 1.9l2.7 2l3.9 2l14.2 6" fill="none" stroke="#3a3a3a" stroke-width="0.65"/>
<path d="M558.2 552.1l17.4 1.6l10.9 0.3l11 -0.1l11 -0.5l11 -1.1l3.1 -0.6l5.3 -1.6l-1.5 -2l-11.6 -1.9l-15.7 -0.9l-18.8 0.1l-14.3 0.8l-12.3 1.9l-1.9 2l6.4 2M675.9 481.1l-11 -3.2l-12.5 -2l-28.2 -1.5l-11 0.5l-6.3 1l-12.5 3.2l-14.1 2.3l-6.3 1.9l-6.3 2.8l-3.6 2.5l-1.5 2l-0.5 2l0.8 2l2.1 1.9l5.9 2.6l4.7 1.2l6.2 1.1l15.7 1.7l11 0.2l15.7 -1.2l9.4 -0.3l25.1 0.7l7.8 -0.7l9.4 -2.1M617.5 433l5.1 0.6l4.7 0.2l11 -0.8l7.9 -2l3.6 -1.9l1 -2l-1.3 -2l-3.4 -1.7l-7.8 -1.9l-4.7 -0.5l-6.3 -0.2l-6.2 0.3l-4.8 0.7l-5.1 1.3l-2.7 1.3l-1.2 0.7l-1.2 2l0.9 2l3.2 1.9l7.3 2" fill="none" stroke="#3a3a3a" stroke-width="0.65"/>
<path d="M675.9 484.7l-5.4 -2.1l-4 -1.1l-6.3 -1.3l-7.8 -1.1l-9.4 -0.9l-9.4 -0.4l-7.9 -0.1l-7.8 0.3l-12.6 1.6l-22 5l-5 2l-3.1 2l-1.5 2l0 2l1.7 2l1.7 0.9l2.3 1l5.6 1.6l10.9 1.8l12.6 1l39.2 -0.3l7.8 -0.3l11 -1.6l4.7 -1.1l4.7 -1.6" fill="none" stroke="#3a3a3a" stroke-width="0.65"/>
<path d="M608 498.5l9.9 0.6l11 0.1l15.6 -0.3l9.5 -0.8l9.2 -1.6l6.4 -1.9l3.6 -2l1.2 -2l-0.7 -2l-2.5 -2l-1.6 -0.7l-4.7 -1.7l-9.4 -2l-11 -1.2l-10.9 -0.7l-9.4 0.1l-11 0.8l-9.4 1.5l-11 2.9l-2.9 1l-3.7 2l-1.6 2l0.6 2l3 2l1.5 0.5l6.2 1.7l12.1 1.7" fill="none" stroke="#3a3a3a" stroke-width="0.65"/>
<path d="M612.7 496.5l8.3 0.7l7.9 0.2l9.4 -0.2l8.6 -0.7l11.6 -1.9l5.3 -2l1.9 -2l-0.8 -2l-3.7 -2l-5.7 -1.5l-4.7 -0.9l-9.4 -1.1l-9.4 -0.4l-7.8 0.1l-7.9 0.6l-7.7 1.2l-7.4 2l-4.1 2l-1.4 2l1.3 2l4.8 2l10.9 1.9" fill="none" stroke="#3a3a3a" stroke-width="0.65"/>
<path d="M619.3 494.6l9.6 0.5l11.8 -0.5l10.6 -2l3.1 -2l-1.3 -2l-5.4 -1.8l-3.2 -0.5l-12.5 -1.1l-11 0.5l-6.2 0.9l-4.8 1.6l-1 0.4l-1.4 2l2.5 2l9.2 2" fill="none" stroke="#3a3a3a" stroke-width="0.65"/>
</g>
<rect x="500.3" y="397.3" width="175.6" height="168.7" fill="none" stroke="#3a3a3a" stroke-width="1.0"/>
<line x1="500.3" y1="566" x2="500.3" y2="569" stroke="#3a3a3a" stroke-width="1" />
<line x1="525.4" y1="566" x2="525.4" y2="569" stroke="#3a3a3a" stroke-width="1" />
<line x1="550.5" y1="566" x2="550.5" y2="569" stroke="#3a3a3a" stroke-width="1" />
<line x1="575.6" y1="566" x2="575.6" y2="569" stroke="#3a3a3a" stroke-width="1" />
<line x1="600.6" y1="566" x2="600.6" y2="569" stroke="#3a3a3a" stroke-width="1" />
<line x1="625.7" y1="566" x2="625.7" y2="569" stroke="#3a3a3a" stroke-width="1" />
<line x1="650.8" y1="566" x2="650.8" y2="569" stroke="#3a3a3a" stroke-width="1" />
<line x1="675.9" y1="566" x2="675.9" y2="569" stroke="#3a3a3a" stroke-width="1" />
<line x1="512.8" y1="566" x2="512.8" y2="568" stroke="#3a3a3a" stroke-width="1" />
<line x1="537.9" y1="566" x2="537.9" y2="568" stroke="#3a3a3a" stroke-width="1" />
<line x1="563" y1="566" x2="563" y2="568" stroke="#3a3a3a" stroke-width="1" />
<line x1="588.1" y1="566" x2="588.1" y2="568" stroke="#3a3a3a" stroke-width="1" />
<line x1="613.2" y1="566" x2="613.2" y2="568" stroke="#3a3a3a" stroke-width="1" />
<line x1="638.3" y1="566" x2="638.3" y2="568" stroke="#3a3a3a" stroke-width="1" />
<line x1="663.4" y1="566" x2="663.4" y2="568" stroke="#3a3a3a" stroke-width="1" />
<text x="500.3" y="579.8" font-size="10" text-anchor="middle" fill="#111">0</text>
<text x="525.4" y="579.8" font-size="10" text-anchor="middle" fill="#111">2</text>
<text x="550.5" y="579.8" font-size="10" text-anchor="middle" fill="#111">4</text>
<text x="575.6" y="579.8" font-size="10" text-anchor="middle" fill="#111">6</text>
<text x="600.6" y="579.8" font-size="10" text-anchor="middle" fill="#111">8</text>
<text x="625.7" y="579.8" font-size="10" text-anchor="middle" fill="#111">10</text>
<text x="650.8" y="579.8" font-size="10" text-anchor="middle" fill="#111">12</text>
<text x="675.9" y="579.8" font-size="10" text-anchor="middle" fill="#111">14</text>
<line x1="497.3" y1="566" x2="500.3" y2="566" stroke="#3a3a3a" stroke-width="1" />
<line x1="497.3" y1="532.3" x2="500.3" y2="532.3" stroke="#3a3a3a" stroke-width="1" />
<line x1="497.3" y1="498.5" x2="500.3" y2="498.5" stroke="#3a3a3a" stroke-width="1" />
<line x1="497.3" y1="464.8" x2="500.3" y2="464.8" stroke="#3a3a3a" stroke-width="1" />
<line x1="497.3" y1="431" x2="500.3" y2="431" stroke="#3a3a3a" stroke-width="1" />
<line x1="497.3" y1="397.3" x2="500.3" y2="397.3" stroke="#3a3a3a" stroke-width="1" />
<line x1="498.3" y1="549.1" x2="500.3" y2="549.1" stroke="#3a3a3a" stroke-width="1" />
<line x1="498.3" y1="515.4" x2="500.3" y2="515.4" stroke="#3a3a3a" stroke-width="1" />
<line x1="498.3" y1="481.6" x2="500.3" y2="481.6" stroke="#3a3a3a" stroke-width="1" />
<line x1="498.3" y1="447.9" x2="500.3" y2="447.9" stroke="#3a3a3a" stroke-width="1" />
<line x1="498.3" y1="414.2" x2="500.3" y2="414.2" stroke="#3a3a3a" stroke-width="1" />
<text x="495.3" y="569.5" font-size="10" text-anchor="end" fill="#111">1</text>
<text x="495.3" y="535.8" font-size="10" text-anchor="end" fill="#111">2</text>
<text x="495.3" y="502" font-size="10" text-anchor="end" fill="#111">3</text>
<text x="495.3" y="468.3" font-size="10" text-anchor="end" fill="#111">4</text>
<text x="495.3" y="434.5" font-size="10" text-anchor="end" fill="#111">5</text>
<text x="495.3" y="400.8" font-size="10" text-anchor="end" fill="#111">6</text>
<text x="505.5" y="408.5" font-size="8.7" font-weight="bold" fill="#fff">RuO<tspan dy="2" font-size="6">2</tspan></text>
<text x="630.3" y="492.7" font-size="8.5" font-weight="bold" text-anchor="middle">Ru-Ru</text>
<text x="593.6" y="552.3" font-size="8.5" font-weight="bold" text-anchor="middle">Ru-O</text>
<text x="588.1" y="593.8" font-size="14" text-anchor="middle"><tspan font-style="italic">k</tspan> (Å<tspan dy="-5.5" font-size="9.5">-1</tspan><tspan dy="5.5">)</tspan></text>
<text x="483.9" y="487.1" font-size="14.4" text-anchor="middle" transform="rotate(-90 483.9 487.1)">R+α (Å)</text>
<text x="15.3" y="387.7" font-size="18.5" font-weight="bold">g</text>
</svg></body></html>
